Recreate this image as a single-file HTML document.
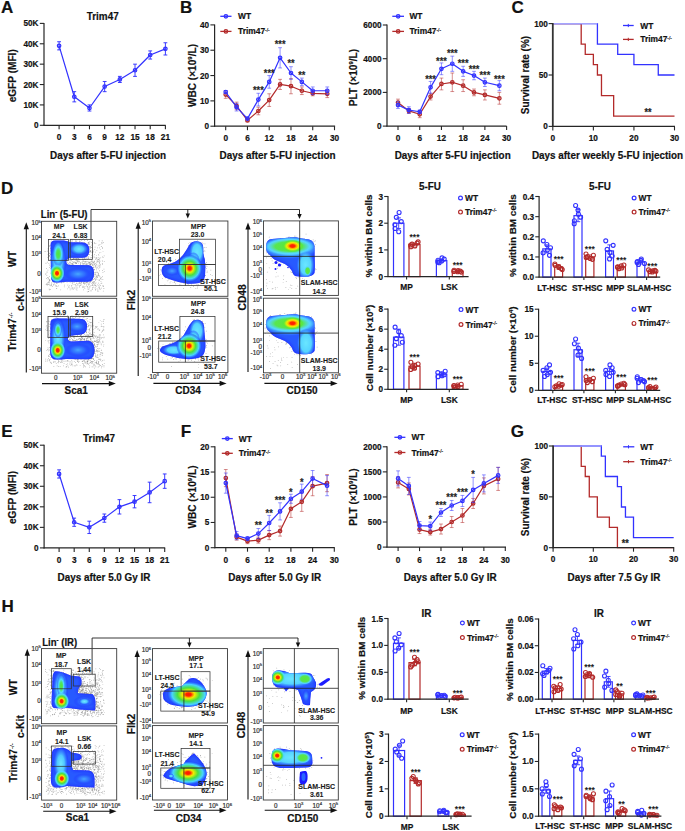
<!DOCTYPE html><html><head><meta charset="utf-8"><style>html,body{margin:0;padding:0;background:#fff;width:685px;height:831px;overflow:hidden}svg{display:block}</style></head><body><svg width="685" height="831" viewBox="0 0 685 831" font-family="Liberation Sans, sans-serif"><style>text{stroke:#111;stroke-width:0.18px;paint-order:stroke}</style>
<rect width="685" height="831" fill="#fff"/>
<defs>
<filter id="b1" x="-20%" y="-20%" width="140%" height="140%"><feGaussianBlur stdDeviation="0.7"/></filter>
<filter id="b2" x="-30%" y="-30%" width="160%" height="160%"><feGaussianBlur stdDeviation="1.4"/></filter>
<filter id="b3" x="-50%" y="-50%" width="200%" height="200%"><feGaussianBlur stdDeviation="2.2"/></filter>
<radialGradient id="gR"><stop offset="0" stop-color="#ff1800"/><stop offset="0.17" stop-color="#ff2a00"/><stop offset="0.27" stop-color="#ffa000"/><stop offset="0.36" stop-color="#f2f000"/><stop offset="0.52" stop-color="#48e040"/><stop offset="0.72" stop-color="#48d4ff"/><stop offset="0.88" stop-color="#2a70ff" stop-opacity="0.7"/><stop offset="1" stop-color="#1a1aff" stop-opacity="0"/></radialGradient>
<radialGradient id="gR2"><stop offset="0" stop-color="#ff1800"/><stop offset="0.2" stop-color="#ff3000"/><stop offset="0.33" stop-color="#f5e800"/><stop offset="0.58" stop-color="#48e040"/><stop offset="0.82" stop-color="#50d8ff"/><stop offset="1" stop-color="#50d8ff" stop-opacity="0"/></radialGradient>
<radialGradient id="gRb"><stop offset="0" stop-color="#ff1800"/><stop offset="0.12" stop-color="#ff2200"/><stop offset="0.2" stop-color="#ff9000"/><stop offset="0.28" stop-color="#f0ee00"/><stop offset="0.5" stop-color="#48e040"/><stop offset="0.75" stop-color="#48d4ff"/><stop offset="0.9" stop-color="#2a70ff" stop-opacity="0.7"/><stop offset="1" stop-color="#1a1aff" stop-opacity="0"/></radialGradient>
<radialGradient id="gGf"><stop offset="0" stop-color="#5ae83c"/><stop offset="0.55" stop-color="#58e650"/><stop offset="0.82" stop-color="#55d8ff" stop-opacity="0.9"/><stop offset="1" stop-color="#55d4ff" stop-opacity="0"/></radialGradient><radialGradient id="gRg"><stop offset="0" stop-color="#ff1800"/><stop offset="0.22" stop-color="#ff2a00"/><stop offset="0.36" stop-color="#ffa000"/><stop offset="0.52" stop-color="#f2ee00"/><stop offset="0.78" stop-color="#5ae83c"/><stop offset="1" stop-color="#5ae83c" stop-opacity="0"/></radialGradient>
<radialGradient id="gCf"><stop offset="0" stop-color="#6ae6ff"/><stop offset="0.6" stop-color="#55d4ff"/><stop offset="0.85" stop-color="#3a90ff" stop-opacity="0.6"/><stop offset="1" stop-color="#2c62ff" stop-opacity="0"/></radialGradient>
<radialGradient id="gG"><stop offset="0" stop-color="#4ee63c"/><stop offset="0.3" stop-color="#50e460"/><stop offset="0.55" stop-color="#50dcff"/><stop offset="0.8" stop-color="#3890ff" stop-opacity="0.8"/><stop offset="1" stop-color="#1a1aff" stop-opacity="0"/></radialGradient>
<radialGradient id="gC"><stop offset="0" stop-color="#70e8ff"/><stop offset="0.45" stop-color="#50c8ff"/><stop offset="0.75" stop-color="#3070ff" stop-opacity="0.8"/><stop offset="1" stop-color="#1a1aff" stop-opacity="0"/></radialGradient>
<radialGradient id="gL"><stop offset="0" stop-color="#48a8ff"/><stop offset="0.5" stop-color="#3070ff" stop-opacity="0.8"/><stop offset="1" stop-color="#1a1aff" stop-opacity="0"/></radialGradient>
</defs>
<text transform="translate(1.00,12.90) scale(1,1.0)" font-size="17" text-anchor="start" font-weight="bold" fill="#111" >A</text>
<text transform="translate(180.00,12.90) scale(1,1.0)" font-size="17" text-anchor="start" font-weight="bold" fill="#111" >B</text>
<text transform="translate(511.50,12.90) scale(1,1.0)" font-size="17" text-anchor="start" font-weight="bold" fill="#111" >C</text>
<text transform="translate(1.00,193.60) scale(1,1.0)" font-size="17" text-anchor="start" font-weight="bold" fill="#111" >D</text>
<text transform="translate(1.20,436.80) scale(1,1.0)" font-size="17" text-anchor="start" font-weight="bold" fill="#111" >E</text>
<text transform="translate(180.80,436.80) scale(1,1.0)" font-size="17" text-anchor="start" font-weight="bold" fill="#111" >F</text>
<text transform="translate(510.80,436.80) scale(1,1.0)" font-size="17" text-anchor="start" font-weight="bold" fill="#111" >G</text>
<text transform="translate(1.50,611.80) scale(1,1.0)" font-size="17" text-anchor="start" font-weight="bold" fill="#111" >H</text>
<line x1="44.00" y1="22.90" x2="44.00" y2="125.80" stroke="#262626" stroke-width="1.2" />
<line x1="43.50" y1="125.30" x2="165.70" y2="125.30" stroke="#262626" stroke-width="1.2" />
<line x1="39.80" y1="125.30" x2="44.00" y2="125.30" stroke="#262626" stroke-width="1.1" />
<text transform="translate(38.50,128.30) scale(1,1.15)" font-size="8.2" text-anchor="end" font-weight="bold" fill="#111" >0</text>
<line x1="39.80" y1="104.92" x2="44.00" y2="104.92" stroke="#262626" stroke-width="1.1" />
<text transform="translate(38.50,107.92) scale(1,1.15)" font-size="8.2" text-anchor="end" font-weight="bold" fill="#111" >10K</text>
<line x1="39.80" y1="84.54" x2="44.00" y2="84.54" stroke="#262626" stroke-width="1.1" />
<text transform="translate(38.50,87.54) scale(1,1.15)" font-size="8.2" text-anchor="end" font-weight="bold" fill="#111" >20K</text>
<line x1="39.80" y1="64.16" x2="44.00" y2="64.16" stroke="#262626" stroke-width="1.1" />
<text transform="translate(38.50,67.16) scale(1,1.15)" font-size="8.2" text-anchor="end" font-weight="bold" fill="#111" >30K</text>
<line x1="39.80" y1="43.78" x2="44.00" y2="43.78" stroke="#262626" stroke-width="1.1" />
<text transform="translate(38.50,46.78) scale(1,1.15)" font-size="8.2" text-anchor="end" font-weight="bold" fill="#111" >40K</text>
<line x1="39.80" y1="23.40" x2="44.00" y2="23.40" stroke="#262626" stroke-width="1.1" />
<text transform="translate(38.50,26.40) scale(1,1.15)" font-size="8.2" text-anchor="end" font-weight="bold" fill="#111" >50K</text>
<line x1="59.10" y1="125.30" x2="59.10" y2="129.30" stroke="#262626" stroke-width="1.1" />
<text transform="translate(59.10,139.90) scale(1,1.15)" font-size="8.3" text-anchor="middle" font-weight="bold" fill="#111" >0</text>
<line x1="74.29" y1="125.30" x2="74.29" y2="129.30" stroke="#262626" stroke-width="1.1" />
<text transform="translate(74.29,139.90) scale(1,1.15)" font-size="8.3" text-anchor="middle" font-weight="bold" fill="#111" >3</text>
<line x1="89.47" y1="125.30" x2="89.47" y2="129.30" stroke="#262626" stroke-width="1.1" />
<text transform="translate(89.47,139.90) scale(1,1.15)" font-size="8.3" text-anchor="middle" font-weight="bold" fill="#111" >6</text>
<line x1="104.66" y1="125.30" x2="104.66" y2="129.30" stroke="#262626" stroke-width="1.1" />
<text transform="translate(104.66,139.90) scale(1,1.15)" font-size="8.3" text-anchor="middle" font-weight="bold" fill="#111" >9</text>
<line x1="119.84" y1="125.30" x2="119.84" y2="129.30" stroke="#262626" stroke-width="1.1" />
<text transform="translate(119.84,139.90) scale(1,1.15)" font-size="8.3" text-anchor="middle" font-weight="bold" fill="#111" >12</text>
<line x1="135.03" y1="125.30" x2="135.03" y2="129.30" stroke="#262626" stroke-width="1.1" />
<text transform="translate(135.03,139.90) scale(1,1.15)" font-size="8.3" text-anchor="middle" font-weight="bold" fill="#111" >15</text>
<line x1="150.21" y1="125.30" x2="150.21" y2="129.30" stroke="#262626" stroke-width="1.1" />
<text transform="translate(150.21,139.90) scale(1,1.15)" font-size="8.3" text-anchor="middle" font-weight="bold" fill="#111" >18</text>
<line x1="165.40" y1="125.30" x2="165.40" y2="129.30" stroke="#262626" stroke-width="1.1" />
<text transform="translate(165.40,139.90) scale(1,1.15)" font-size="8.3" text-anchor="middle" font-weight="bold" fill="#111" >21</text>
<text transform="translate(12.20,75.80) scale(1.0,1) rotate(-90)" x="0" y="3.64" font-size="10.1" text-anchor="middle" font-weight="bold" fill="#111">eGFP (MFI)</text>
<text transform="translate(108.00,158.60) scale(1,1.15)" font-size="9.9" text-anchor="middle" font-weight="bold" fill="#111" >Days after 5-FU injection</text>
<text transform="translate(102.70,20.10) scale(1,1.15)" font-size="9.9" text-anchor="middle" font-weight="bold" fill="#111" >Trim47</text>
<polyline points="59.10,45.82 74.29,96.77 89.47,107.98 104.66,86.58 119.84,79.44 135.03,70.27 150.21,54.99 165.40,48.87" fill="none" stroke="#3232ff" stroke-width="1.2" stroke-linejoin="round"/>
<line x1="59.10" y1="49.89" x2="59.10" y2="41.74" stroke="#3232ff" stroke-width="0.95" opacity="1.0"/>
<line x1="57.20" y1="41.74" x2="61.00" y2="41.74" stroke="#3232ff" stroke-width="0.95" opacity="1.0"/>
<line x1="57.20" y1="49.89" x2="61.00" y2="49.89" stroke="#3232ff" stroke-width="0.95" opacity="1.0"/>
<circle cx="59.10" cy="45.82" r="1.75" fill="#3232ff" fill-opacity="0.25" stroke="#3232ff" stroke-width="1.2"/>
<line x1="74.29" y1="101.86" x2="74.29" y2="91.67" stroke="#3232ff" stroke-width="0.95" opacity="1.0"/>
<line x1="72.39" y1="91.67" x2="76.19" y2="91.67" stroke="#3232ff" stroke-width="0.95" opacity="1.0"/>
<line x1="72.39" y1="101.86" x2="76.19" y2="101.86" stroke="#3232ff" stroke-width="0.95" opacity="1.0"/>
<circle cx="74.29" cy="96.77" r="1.75" fill="#3232ff" fill-opacity="0.25" stroke="#3232ff" stroke-width="1.2"/>
<line x1="89.47" y1="111.03" x2="89.47" y2="104.92" stroke="#3232ff" stroke-width="0.95" opacity="1.0"/>
<line x1="87.57" y1="104.92" x2="91.37" y2="104.92" stroke="#3232ff" stroke-width="0.95" opacity="1.0"/>
<line x1="87.57" y1="111.03" x2="91.37" y2="111.03" stroke="#3232ff" stroke-width="0.95" opacity="1.0"/>
<circle cx="89.47" cy="107.98" r="1.75" fill="#3232ff" fill-opacity="0.25" stroke="#3232ff" stroke-width="1.2"/>
<line x1="104.66" y1="91.67" x2="104.66" y2="81.48" stroke="#3232ff" stroke-width="0.95" opacity="1.0"/>
<line x1="102.76" y1="81.48" x2="106.56" y2="81.48" stroke="#3232ff" stroke-width="0.95" opacity="1.0"/>
<line x1="102.76" y1="91.67" x2="106.56" y2="91.67" stroke="#3232ff" stroke-width="0.95" opacity="1.0"/>
<circle cx="104.66" cy="86.58" r="1.75" fill="#3232ff" fill-opacity="0.25" stroke="#3232ff" stroke-width="1.2"/>
<line x1="119.84" y1="82.50" x2="119.84" y2="76.39" stroke="#3232ff" stroke-width="0.95" opacity="1.0"/>
<line x1="117.94" y1="76.39" x2="121.74" y2="76.39" stroke="#3232ff" stroke-width="0.95" opacity="1.0"/>
<line x1="117.94" y1="82.50" x2="121.74" y2="82.50" stroke="#3232ff" stroke-width="0.95" opacity="1.0"/>
<circle cx="119.84" cy="79.44" r="1.75" fill="#3232ff" fill-opacity="0.25" stroke="#3232ff" stroke-width="1.2"/>
<line x1="135.03" y1="76.39" x2="135.03" y2="64.16" stroke="#3232ff" stroke-width="0.95" opacity="1.0"/>
<line x1="133.13" y1="64.16" x2="136.93" y2="64.16" stroke="#3232ff" stroke-width="0.95" opacity="1.0"/>
<line x1="133.13" y1="76.39" x2="136.93" y2="76.39" stroke="#3232ff" stroke-width="0.95" opacity="1.0"/>
<circle cx="135.03" cy="70.27" r="1.75" fill="#3232ff" fill-opacity="0.25" stroke="#3232ff" stroke-width="1.2"/>
<line x1="150.21" y1="59.06" x2="150.21" y2="50.91" stroke="#3232ff" stroke-width="0.95" opacity="1.0"/>
<line x1="148.31" y1="50.91" x2="152.11" y2="50.91" stroke="#3232ff" stroke-width="0.95" opacity="1.0"/>
<line x1="148.31" y1="59.06" x2="152.11" y2="59.06" stroke="#3232ff" stroke-width="0.95" opacity="1.0"/>
<circle cx="150.21" cy="54.99" r="1.75" fill="#3232ff" fill-opacity="0.25" stroke="#3232ff" stroke-width="1.2"/>
<line x1="165.40" y1="54.99" x2="165.40" y2="42.76" stroke="#3232ff" stroke-width="0.95" opacity="1.0"/>
<line x1="163.50" y1="42.76" x2="167.30" y2="42.76" stroke="#3232ff" stroke-width="0.95" opacity="1.0"/>
<line x1="163.50" y1="54.99" x2="167.30" y2="54.99" stroke="#3232ff" stroke-width="0.95" opacity="1.0"/>
<circle cx="165.40" cy="48.87" r="1.75" fill="#3232ff" fill-opacity="0.25" stroke="#3232ff" stroke-width="1.2"/>
<line x1="214.60" y1="24.40" x2="214.60" y2="126.70" stroke="#262626" stroke-width="1.2" />
<line x1="214.10" y1="126.20" x2="335.10" y2="126.20" stroke="#262626" stroke-width="1.2" />
<line x1="210.40" y1="126.20" x2="214.60" y2="126.20" stroke="#262626" stroke-width="1.1" />
<text transform="translate(209.10,129.20) scale(1,1.15)" font-size="8.2" text-anchor="end" font-weight="bold" fill="#111" >0</text>
<line x1="210.40" y1="100.88" x2="214.60" y2="100.88" stroke="#262626" stroke-width="1.1" />
<text transform="translate(209.10,103.88) scale(1,1.15)" font-size="8.2" text-anchor="end" font-weight="bold" fill="#111" >10</text>
<line x1="210.40" y1="75.55" x2="214.60" y2="75.55" stroke="#262626" stroke-width="1.1" />
<text transform="translate(209.10,78.55) scale(1,1.15)" font-size="8.2" text-anchor="end" font-weight="bold" fill="#111" >20</text>
<line x1="210.40" y1="50.22" x2="214.60" y2="50.22" stroke="#262626" stroke-width="1.1" />
<text transform="translate(209.10,53.22) scale(1,1.15)" font-size="8.2" text-anchor="end" font-weight="bold" fill="#111" >30</text>
<line x1="210.40" y1="24.90" x2="214.60" y2="24.90" stroke="#262626" stroke-width="1.1" />
<text transform="translate(209.10,27.90) scale(1,1.15)" font-size="8.2" text-anchor="end" font-weight="bold" fill="#111" >40</text>
<line x1="225.70" y1="126.20" x2="225.70" y2="130.20" stroke="#262626" stroke-width="1.1" />
<text transform="translate(225.70,140.80) scale(1,1.15)" font-size="8.3" text-anchor="middle" font-weight="bold" fill="#111" >0</text>
<line x1="247.46" y1="126.20" x2="247.46" y2="130.20" stroke="#262626" stroke-width="1.1" />
<text transform="translate(247.46,140.80) scale(1,1.15)" font-size="8.3" text-anchor="middle" font-weight="bold" fill="#111" >6</text>
<line x1="269.22" y1="126.20" x2="269.22" y2="130.20" stroke="#262626" stroke-width="1.1" />
<text transform="translate(269.22,140.80) scale(1,1.15)" font-size="8.3" text-anchor="middle" font-weight="bold" fill="#111" >12</text>
<line x1="290.98" y1="126.20" x2="290.98" y2="130.20" stroke="#262626" stroke-width="1.1" />
<text transform="translate(290.98,140.80) scale(1,1.15)" font-size="8.3" text-anchor="middle" font-weight="bold" fill="#111" >18</text>
<line x1="312.74" y1="126.20" x2="312.74" y2="130.20" stroke="#262626" stroke-width="1.1" />
<text transform="translate(312.74,140.80) scale(1,1.15)" font-size="8.3" text-anchor="middle" font-weight="bold" fill="#111" >24</text>
<line x1="334.50" y1="126.20" x2="334.50" y2="130.20" stroke="#262626" stroke-width="1.1" />
<text transform="translate(334.50,140.80) scale(1,1.15)" font-size="8.3" text-anchor="middle" font-weight="bold" fill="#111" >30</text>
<text transform="translate(192.00,75.50) scale(1.0,1) rotate(-90)" x="0" y="3.64" font-size="10.1" text-anchor="middle" font-weight="bold" fill="#111">WBC (×10<tspan font-size="6" dy="-3.5">9</tspan><tspan dy="3.5">/L)</tspan></text>
<text transform="translate(277.50,158.60) scale(1,1.15)" font-size="9.9" text-anchor="middle" font-weight="bold" fill="#111" >Days after 5-FU injection</text>
<polyline points="225.70,94.54 236.58,105.94 247.46,120.38 258.34,111.00 269.22,100.12 280.10,84.41 290.98,86.19 301.86,90.75 312.74,93.28 327.25,93.78" fill="none" stroke="#b32a2a" stroke-width="1.2" stroke-linejoin="round"/>
<line x1="225.70" y1="98.34" x2="225.70" y2="90.75" stroke="#b32a2a" stroke-width="0.95" opacity="0.55"/>
<line x1="223.80" y1="90.75" x2="227.60" y2="90.75" stroke="#b32a2a" stroke-width="0.95" opacity="0.55"/>
<line x1="223.80" y1="98.34" x2="227.60" y2="98.34" stroke="#b32a2a" stroke-width="0.95" opacity="0.55"/>
<circle cx="225.70" cy="94.54" r="1.75" fill="#b32a2a" fill-opacity="0.25" stroke="#b32a2a" stroke-width="1.2"/>
<line x1="236.58" y1="109.74" x2="236.58" y2="102.14" stroke="#b32a2a" stroke-width="0.95" opacity="0.55"/>
<line x1="234.68" y1="102.14" x2="238.48" y2="102.14" stroke="#b32a2a" stroke-width="0.95" opacity="0.55"/>
<line x1="234.68" y1="109.74" x2="238.48" y2="109.74" stroke="#b32a2a" stroke-width="0.95" opacity="0.55"/>
<circle cx="236.58" cy="105.94" r="1.75" fill="#b32a2a" fill-opacity="0.25" stroke="#b32a2a" stroke-width="1.2"/>
<line x1="247.46" y1="121.64" x2="247.46" y2="119.11" stroke="#b32a2a" stroke-width="0.95" opacity="0.55"/>
<line x1="245.56" y1="119.11" x2="249.36" y2="119.11" stroke="#b32a2a" stroke-width="0.95" opacity="0.55"/>
<line x1="245.56" y1="121.64" x2="249.36" y2="121.64" stroke="#b32a2a" stroke-width="0.95" opacity="0.55"/>
<circle cx="247.46" cy="120.38" r="1.75" fill="#b32a2a" fill-opacity="0.25" stroke="#b32a2a" stroke-width="1.2"/>
<line x1="258.34" y1="114.80" x2="258.34" y2="107.21" stroke="#b32a2a" stroke-width="0.95" opacity="0.55"/>
<line x1="256.44" y1="107.21" x2="260.24" y2="107.21" stroke="#b32a2a" stroke-width="0.95" opacity="0.55"/>
<line x1="256.44" y1="114.80" x2="260.24" y2="114.80" stroke="#b32a2a" stroke-width="0.95" opacity="0.55"/>
<circle cx="258.34" cy="111.00" r="1.75" fill="#b32a2a" fill-opacity="0.25" stroke="#b32a2a" stroke-width="1.2"/>
<line x1="269.22" y1="106.45" x2="269.22" y2="93.78" stroke="#b32a2a" stroke-width="0.95" opacity="0.55"/>
<line x1="267.32" y1="93.78" x2="271.12" y2="93.78" stroke="#b32a2a" stroke-width="0.95" opacity="0.55"/>
<line x1="267.32" y1="106.45" x2="271.12" y2="106.45" stroke="#b32a2a" stroke-width="0.95" opacity="0.55"/>
<circle cx="269.22" cy="100.12" r="1.75" fill="#b32a2a" fill-opacity="0.25" stroke="#b32a2a" stroke-width="1.2"/>
<line x1="280.10" y1="89.48" x2="280.10" y2="79.35" stroke="#b32a2a" stroke-width="0.95" opacity="0.55"/>
<line x1="278.20" y1="79.35" x2="282.00" y2="79.35" stroke="#b32a2a" stroke-width="0.95" opacity="0.55"/>
<line x1="278.20" y1="89.48" x2="282.00" y2="89.48" stroke="#b32a2a" stroke-width="0.95" opacity="0.55"/>
<circle cx="280.10" cy="84.41" r="1.75" fill="#b32a2a" fill-opacity="0.25" stroke="#b32a2a" stroke-width="1.2"/>
<line x1="290.98" y1="93.78" x2="290.98" y2="78.59" stroke="#b32a2a" stroke-width="0.95" opacity="0.55"/>
<line x1="289.08" y1="78.59" x2="292.88" y2="78.59" stroke="#b32a2a" stroke-width="0.95" opacity="0.55"/>
<line x1="289.08" y1="93.78" x2="292.88" y2="93.78" stroke="#b32a2a" stroke-width="0.95" opacity="0.55"/>
<circle cx="290.98" cy="86.19" r="1.75" fill="#b32a2a" fill-opacity="0.25" stroke="#b32a2a" stroke-width="1.2"/>
<line x1="301.86" y1="94.54" x2="301.86" y2="86.95" stroke="#b32a2a" stroke-width="0.95" opacity="0.55"/>
<line x1="299.96" y1="86.95" x2="303.76" y2="86.95" stroke="#b32a2a" stroke-width="0.95" opacity="0.55"/>
<line x1="299.96" y1="94.54" x2="303.76" y2="94.54" stroke="#b32a2a" stroke-width="0.95" opacity="0.55"/>
<circle cx="301.86" cy="90.75" r="1.75" fill="#b32a2a" fill-opacity="0.25" stroke="#b32a2a" stroke-width="1.2"/>
<line x1="312.74" y1="95.81" x2="312.74" y2="90.75" stroke="#b32a2a" stroke-width="0.95" opacity="0.55"/>
<line x1="310.84" y1="90.75" x2="314.64" y2="90.75" stroke="#b32a2a" stroke-width="0.95" opacity="0.55"/>
<line x1="310.84" y1="95.81" x2="314.64" y2="95.81" stroke="#b32a2a" stroke-width="0.95" opacity="0.55"/>
<circle cx="312.74" cy="93.28" r="1.75" fill="#b32a2a" fill-opacity="0.25" stroke="#b32a2a" stroke-width="1.2"/>
<line x1="327.25" y1="97.58" x2="327.25" y2="89.99" stroke="#b32a2a" stroke-width="0.95" opacity="0.55"/>
<line x1="325.35" y1="89.99" x2="329.15" y2="89.99" stroke="#b32a2a" stroke-width="0.95" opacity="0.55"/>
<line x1="325.35" y1="97.58" x2="329.15" y2="97.58" stroke="#b32a2a" stroke-width="0.95" opacity="0.55"/>
<circle cx="327.25" cy="93.78" r="1.75" fill="#b32a2a" fill-opacity="0.25" stroke="#b32a2a" stroke-width="1.2"/>
<polyline points="225.70,92.01 236.58,107.21 247.46,118.60 258.34,99.61 269.22,81.88 280.10,57.82 290.98,73.02 301.86,81.88 312.74,90.75 327.25,90.75" fill="none" stroke="#3232ff" stroke-width="1.2" stroke-linejoin="round"/>
<line x1="225.70" y1="93.28" x2="225.70" y2="90.75" stroke="#3232ff" stroke-width="0.95" opacity="0.55"/>
<line x1="223.80" y1="90.75" x2="227.60" y2="90.75" stroke="#3232ff" stroke-width="0.95" opacity="0.55"/>
<line x1="223.80" y1="93.28" x2="227.60" y2="93.28" stroke="#3232ff" stroke-width="0.95" opacity="0.55"/>
<circle cx="225.70" cy="92.01" r="1.75" fill="#3232ff" fill-opacity="0.25" stroke="#3232ff" stroke-width="1.2"/>
<line x1="236.58" y1="111.00" x2="236.58" y2="103.41" stroke="#3232ff" stroke-width="0.95" opacity="0.55"/>
<line x1="234.68" y1="103.41" x2="238.48" y2="103.41" stroke="#3232ff" stroke-width="0.95" opacity="0.55"/>
<line x1="234.68" y1="111.00" x2="238.48" y2="111.00" stroke="#3232ff" stroke-width="0.95" opacity="0.55"/>
<circle cx="236.58" cy="107.21" r="1.75" fill="#3232ff" fill-opacity="0.25" stroke="#3232ff" stroke-width="1.2"/>
<line x1="247.46" y1="119.87" x2="247.46" y2="117.34" stroke="#3232ff" stroke-width="0.95" opacity="0.55"/>
<line x1="245.56" y1="117.34" x2="249.36" y2="117.34" stroke="#3232ff" stroke-width="0.95" opacity="0.55"/>
<line x1="245.56" y1="119.87" x2="249.36" y2="119.87" stroke="#3232ff" stroke-width="0.95" opacity="0.55"/>
<circle cx="247.46" cy="118.60" r="1.75" fill="#3232ff" fill-opacity="0.25" stroke="#3232ff" stroke-width="1.2"/>
<line x1="258.34" y1="105.94" x2="258.34" y2="93.28" stroke="#3232ff" stroke-width="0.95" opacity="0.55"/>
<line x1="256.44" y1="93.28" x2="260.24" y2="93.28" stroke="#3232ff" stroke-width="0.95" opacity="0.55"/>
<line x1="256.44" y1="105.94" x2="260.24" y2="105.94" stroke="#3232ff" stroke-width="0.95" opacity="0.55"/>
<circle cx="258.34" cy="99.61" r="1.75" fill="#3232ff" fill-opacity="0.25" stroke="#3232ff" stroke-width="1.2"/>
<line x1="269.22" y1="88.21" x2="269.22" y2="75.55" stroke="#3232ff" stroke-width="0.95" opacity="0.55"/>
<line x1="267.32" y1="75.55" x2="271.12" y2="75.55" stroke="#3232ff" stroke-width="0.95" opacity="0.55"/>
<line x1="267.32" y1="88.21" x2="271.12" y2="88.21" stroke="#3232ff" stroke-width="0.95" opacity="0.55"/>
<circle cx="269.22" cy="81.88" r="1.75" fill="#3232ff" fill-opacity="0.25" stroke="#3232ff" stroke-width="1.2"/>
<line x1="280.10" y1="67.95" x2="280.10" y2="47.69" stroke="#3232ff" stroke-width="0.95" opacity="0.55"/>
<line x1="278.20" y1="47.69" x2="282.00" y2="47.69" stroke="#3232ff" stroke-width="0.95" opacity="0.55"/>
<line x1="278.20" y1="67.95" x2="282.00" y2="67.95" stroke="#3232ff" stroke-width="0.95" opacity="0.55"/>
<circle cx="280.10" cy="57.82" r="1.75" fill="#3232ff" fill-opacity="0.25" stroke="#3232ff" stroke-width="1.2"/>
<line x1="290.98" y1="79.35" x2="290.98" y2="66.69" stroke="#3232ff" stroke-width="0.95" opacity="0.55"/>
<line x1="289.08" y1="66.69" x2="292.88" y2="66.69" stroke="#3232ff" stroke-width="0.95" opacity="0.55"/>
<line x1="289.08" y1="79.35" x2="292.88" y2="79.35" stroke="#3232ff" stroke-width="0.95" opacity="0.55"/>
<circle cx="290.98" cy="73.02" r="1.75" fill="#3232ff" fill-opacity="0.25" stroke="#3232ff" stroke-width="1.2"/>
<line x1="301.86" y1="85.68" x2="301.86" y2="78.08" stroke="#3232ff" stroke-width="0.95" opacity="0.55"/>
<line x1="299.96" y1="78.08" x2="303.76" y2="78.08" stroke="#3232ff" stroke-width="0.95" opacity="0.55"/>
<line x1="299.96" y1="85.68" x2="303.76" y2="85.68" stroke="#3232ff" stroke-width="0.95" opacity="0.55"/>
<circle cx="301.86" cy="81.88" r="1.75" fill="#3232ff" fill-opacity="0.25" stroke="#3232ff" stroke-width="1.2"/>
<line x1="312.74" y1="94.54" x2="312.74" y2="86.95" stroke="#3232ff" stroke-width="0.95" opacity="0.55"/>
<line x1="310.84" y1="86.95" x2="314.64" y2="86.95" stroke="#3232ff" stroke-width="0.95" opacity="0.55"/>
<line x1="310.84" y1="94.54" x2="314.64" y2="94.54" stroke="#3232ff" stroke-width="0.95" opacity="0.55"/>
<circle cx="312.74" cy="90.75" r="1.75" fill="#3232ff" fill-opacity="0.25" stroke="#3232ff" stroke-width="1.2"/>
<line x1="327.25" y1="94.54" x2="327.25" y2="86.95" stroke="#3232ff" stroke-width="0.95" opacity="0.55"/>
<line x1="325.35" y1="86.95" x2="329.15" y2="86.95" stroke="#3232ff" stroke-width="0.95" opacity="0.55"/>
<line x1="325.35" y1="94.54" x2="329.15" y2="94.54" stroke="#3232ff" stroke-width="0.95" opacity="0.55"/>
<circle cx="327.25" cy="90.75" r="1.75" fill="#3232ff" fill-opacity="0.25" stroke="#3232ff" stroke-width="1.2"/>
<line x1="220.30" y1="16.30" x2="231.50" y2="16.30" stroke="#3232ff" stroke-width="1.3" />
<circle cx="225.90" cy="16.30" r="1.75" fill="#3232ff" fill-opacity="0.25" stroke="#3232ff" stroke-width="1.2"/>
<text transform="translate(238.00,19.30) scale(1,1.15)" font-size="8.4" text-anchor="start" font-weight="bold" fill="#111" >WT</text>
<line x1="220.30" y1="31.40" x2="231.50" y2="31.40" stroke="#b32a2a" stroke-width="1.3" />
<circle cx="225.90" cy="31.40" r="1.75" fill="#b32a2a" fill-opacity="0.25" stroke="#b32a2a" stroke-width="1.2"/>
<text transform="translate(238.00,34.40) scale(1,1.15)" font-size="8.4" text-anchor="start" font-weight="bold" fill="#111" >Trim47<tspan font-size="4.80" font-weight="normal" dy="-2.40">-/-</tspan></text>
<text transform="translate(258.34,94.40) scale(1,1.15)" font-size="9.2" text-anchor="middle" font-weight="bold" fill="#222" style="stroke-width:0.1px">***</text>
<text transform="translate(269.22,77.40) scale(1,1.15)" font-size="9.2" text-anchor="middle" font-weight="bold" fill="#222" style="stroke-width:0.1px">***</text>
<text transform="translate(280.10,48.40) scale(1,1.15)" font-size="9.2" text-anchor="middle" font-weight="bold" fill="#222" style="stroke-width:0.1px">***</text>
<text transform="translate(290.98,67.40) scale(1,1.15)" font-size="9.2" text-anchor="middle" font-weight="bold" fill="#222" style="stroke-width:0.1px">**</text>
<text transform="translate(301.86,79.00) scale(1,1.15)" font-size="9.2" text-anchor="middle" font-weight="bold" fill="#222" style="stroke-width:0.1px">**</text>
<line x1="387.00" y1="24.50" x2="387.00" y2="126.60" stroke="#262626" stroke-width="1.2" />
<line x1="386.50" y1="126.10" x2="506.60" y2="126.10" stroke="#262626" stroke-width="1.2" />
<line x1="382.80" y1="126.10" x2="387.00" y2="126.10" stroke="#262626" stroke-width="1.1" />
<text transform="translate(381.50,129.10) scale(1,1.15)" font-size="8.2" text-anchor="end" font-weight="bold" fill="#111" >0</text>
<line x1="382.80" y1="92.40" x2="387.00" y2="92.40" stroke="#262626" stroke-width="1.1" />
<text transform="translate(381.50,95.40) scale(1,1.15)" font-size="8.2" text-anchor="end" font-weight="bold" fill="#111" >2000</text>
<line x1="382.80" y1="58.70" x2="387.00" y2="58.70" stroke="#262626" stroke-width="1.1" />
<text transform="translate(381.50,61.70) scale(1,1.15)" font-size="8.2" text-anchor="end" font-weight="bold" fill="#111" >4000</text>
<line x1="382.80" y1="25.00" x2="387.00" y2="25.00" stroke="#262626" stroke-width="1.1" />
<text transform="translate(381.50,28.00) scale(1,1.15)" font-size="8.2" text-anchor="end" font-weight="bold" fill="#111" >6000</text>
<line x1="398.00" y1="126.10" x2="398.00" y2="130.10" stroke="#262626" stroke-width="1.1" />
<text transform="translate(398.00,140.70) scale(1,1.15)" font-size="8.3" text-anchor="middle" font-weight="bold" fill="#111" >0</text>
<line x1="419.72" y1="126.10" x2="419.72" y2="130.10" stroke="#262626" stroke-width="1.1" />
<text transform="translate(419.72,140.70) scale(1,1.15)" font-size="8.3" text-anchor="middle" font-weight="bold" fill="#111" >6</text>
<line x1="441.44" y1="126.10" x2="441.44" y2="130.10" stroke="#262626" stroke-width="1.1" />
<text transform="translate(441.44,140.70) scale(1,1.15)" font-size="8.3" text-anchor="middle" font-weight="bold" fill="#111" >12</text>
<line x1="463.16" y1="126.10" x2="463.16" y2="130.10" stroke="#262626" stroke-width="1.1" />
<text transform="translate(463.16,140.70) scale(1,1.15)" font-size="8.3" text-anchor="middle" font-weight="bold" fill="#111" >18</text>
<line x1="484.88" y1="126.10" x2="484.88" y2="130.10" stroke="#262626" stroke-width="1.1" />
<text transform="translate(484.88,140.70) scale(1,1.15)" font-size="8.3" text-anchor="middle" font-weight="bold" fill="#111" >24</text>
<line x1="506.60" y1="126.10" x2="506.60" y2="130.10" stroke="#262626" stroke-width="1.1" />
<text transform="translate(506.60,140.70) scale(1,1.15)" font-size="8.3" text-anchor="middle" font-weight="bold" fill="#111" >30</text>
<text transform="translate(352.90,77.50) scale(1.0,1) rotate(-90)" x="0" y="3.64" font-size="10.1" text-anchor="middle" font-weight="bold" fill="#111">PLT (×10<tspan font-size="6" dy="-3.5">9</tspan><tspan dy="3.5">/L)</tspan></text>
<text transform="translate(452.70,158.60) scale(1,1.15)" font-size="9.9" text-anchor="middle" font-weight="bold" fill="#111" >Days after 5-FU injection</text>
<polyline points="398.00,102.51 408.86,110.93 419.72,114.30 430.58,96.61 441.44,83.97 452.30,82.29 463.16,85.66 474.02,92.40 484.88,94.93 499.36,98.30" fill="none" stroke="#b32a2a" stroke-width="1.2" stroke-linejoin="round"/>
<line x1="398.00" y1="105.88" x2="398.00" y2="99.14" stroke="#b32a2a" stroke-width="0.95" opacity="0.55"/>
<line x1="396.10" y1="99.14" x2="399.90" y2="99.14" stroke="#b32a2a" stroke-width="0.95" opacity="0.55"/>
<line x1="396.10" y1="105.88" x2="399.90" y2="105.88" stroke="#b32a2a" stroke-width="0.95" opacity="0.55"/>
<circle cx="398.00" cy="102.51" r="1.75" fill="#b32a2a" fill-opacity="0.25" stroke="#b32a2a" stroke-width="1.2"/>
<line x1="408.86" y1="113.46" x2="408.86" y2="108.41" stroke="#b32a2a" stroke-width="0.95" opacity="0.55"/>
<line x1="406.96" y1="108.41" x2="410.76" y2="108.41" stroke="#b32a2a" stroke-width="0.95" opacity="0.55"/>
<line x1="406.96" y1="113.46" x2="410.76" y2="113.46" stroke="#b32a2a" stroke-width="0.95" opacity="0.55"/>
<circle cx="408.86" cy="110.93" r="1.75" fill="#b32a2a" fill-opacity="0.25" stroke="#b32a2a" stroke-width="1.2"/>
<line x1="419.72" y1="117.67" x2="419.72" y2="110.93" stroke="#b32a2a" stroke-width="0.95" opacity="0.55"/>
<line x1="417.82" y1="110.93" x2="421.62" y2="110.93" stroke="#b32a2a" stroke-width="0.95" opacity="0.55"/>
<line x1="417.82" y1="117.67" x2="421.62" y2="117.67" stroke="#b32a2a" stroke-width="0.95" opacity="0.55"/>
<circle cx="419.72" cy="114.30" r="1.75" fill="#b32a2a" fill-opacity="0.25" stroke="#b32a2a" stroke-width="1.2"/>
<line x1="430.58" y1="99.98" x2="430.58" y2="93.24" stroke="#b32a2a" stroke-width="0.95" opacity="0.55"/>
<line x1="428.68" y1="93.24" x2="432.48" y2="93.24" stroke="#b32a2a" stroke-width="0.95" opacity="0.55"/>
<line x1="428.68" y1="99.98" x2="432.48" y2="99.98" stroke="#b32a2a" stroke-width="0.95" opacity="0.55"/>
<circle cx="430.58" cy="96.61" r="1.75" fill="#b32a2a" fill-opacity="0.25" stroke="#b32a2a" stroke-width="1.2"/>
<line x1="441.44" y1="89.87" x2="441.44" y2="78.08" stroke="#b32a2a" stroke-width="0.95" opacity="0.55"/>
<line x1="439.54" y1="78.08" x2="443.34" y2="78.08" stroke="#b32a2a" stroke-width="0.95" opacity="0.55"/>
<line x1="439.54" y1="89.87" x2="443.34" y2="89.87" stroke="#b32a2a" stroke-width="0.95" opacity="0.55"/>
<circle cx="441.44" cy="83.97" r="1.75" fill="#b32a2a" fill-opacity="0.25" stroke="#b32a2a" stroke-width="1.2"/>
<line x1="452.30" y1="91.56" x2="452.30" y2="73.02" stroke="#b32a2a" stroke-width="0.95" opacity="0.55"/>
<line x1="450.40" y1="73.02" x2="454.20" y2="73.02" stroke="#b32a2a" stroke-width="0.95" opacity="0.55"/>
<line x1="450.40" y1="91.56" x2="454.20" y2="91.56" stroke="#b32a2a" stroke-width="0.95" opacity="0.55"/>
<circle cx="452.30" cy="82.29" r="1.75" fill="#b32a2a" fill-opacity="0.25" stroke="#b32a2a" stroke-width="1.2"/>
<line x1="463.16" y1="91.56" x2="463.16" y2="79.76" stroke="#b32a2a" stroke-width="0.95" opacity="0.55"/>
<line x1="461.26" y1="79.76" x2="465.06" y2="79.76" stroke="#b32a2a" stroke-width="0.95" opacity="0.55"/>
<line x1="461.26" y1="91.56" x2="465.06" y2="91.56" stroke="#b32a2a" stroke-width="0.95" opacity="0.55"/>
<circle cx="463.16" cy="85.66" r="1.75" fill="#b32a2a" fill-opacity="0.25" stroke="#b32a2a" stroke-width="1.2"/>
<line x1="474.02" y1="95.77" x2="474.02" y2="89.03" stroke="#b32a2a" stroke-width="0.95" opacity="0.55"/>
<line x1="472.12" y1="89.03" x2="475.92" y2="89.03" stroke="#b32a2a" stroke-width="0.95" opacity="0.55"/>
<line x1="472.12" y1="95.77" x2="475.92" y2="95.77" stroke="#b32a2a" stroke-width="0.95" opacity="0.55"/>
<circle cx="474.02" cy="92.40" r="1.75" fill="#b32a2a" fill-opacity="0.25" stroke="#b32a2a" stroke-width="1.2"/>
<line x1="484.88" y1="99.98" x2="484.88" y2="89.87" stroke="#b32a2a" stroke-width="0.95" opacity="0.55"/>
<line x1="482.98" y1="89.87" x2="486.78" y2="89.87" stroke="#b32a2a" stroke-width="0.95" opacity="0.55"/>
<line x1="482.98" y1="99.98" x2="486.78" y2="99.98" stroke="#b32a2a" stroke-width="0.95" opacity="0.55"/>
<circle cx="484.88" cy="94.93" r="1.75" fill="#b32a2a" fill-opacity="0.25" stroke="#b32a2a" stroke-width="1.2"/>
<line x1="499.36" y1="104.19" x2="499.36" y2="92.40" stroke="#b32a2a" stroke-width="0.95" opacity="0.55"/>
<line x1="497.46" y1="92.40" x2="501.26" y2="92.40" stroke="#b32a2a" stroke-width="0.95" opacity="0.55"/>
<line x1="497.46" y1="104.19" x2="501.26" y2="104.19" stroke="#b32a2a" stroke-width="0.95" opacity="0.55"/>
<circle cx="499.36" cy="98.30" r="1.75" fill="#b32a2a" fill-opacity="0.25" stroke="#b32a2a" stroke-width="1.2"/>
<polyline points="398.00,105.04 408.86,110.09 419.72,111.78 430.58,87.34 441.44,68.81 452.30,63.75 463.16,71.34 474.02,75.55 484.88,82.29 499.36,85.66" fill="none" stroke="#3232ff" stroke-width="1.2" stroke-linejoin="round"/>
<line x1="398.00" y1="108.41" x2="398.00" y2="101.67" stroke="#3232ff" stroke-width="0.95" opacity="0.55"/>
<line x1="396.10" y1="101.67" x2="399.90" y2="101.67" stroke="#3232ff" stroke-width="0.95" opacity="0.55"/>
<line x1="396.10" y1="108.41" x2="399.90" y2="108.41" stroke="#3232ff" stroke-width="0.95" opacity="0.55"/>
<circle cx="398.00" cy="105.04" r="1.75" fill="#3232ff" fill-opacity="0.25" stroke="#3232ff" stroke-width="1.2"/>
<line x1="408.86" y1="113.46" x2="408.86" y2="106.72" stroke="#3232ff" stroke-width="0.95" opacity="0.55"/>
<line x1="406.96" y1="106.72" x2="410.76" y2="106.72" stroke="#3232ff" stroke-width="0.95" opacity="0.55"/>
<line x1="406.96" y1="113.46" x2="410.76" y2="113.46" stroke="#3232ff" stroke-width="0.95" opacity="0.55"/>
<circle cx="408.86" cy="110.09" r="1.75" fill="#3232ff" fill-opacity="0.25" stroke="#3232ff" stroke-width="1.2"/>
<line x1="419.72" y1="113.46" x2="419.72" y2="110.09" stroke="#3232ff" stroke-width="0.95" opacity="0.55"/>
<line x1="417.82" y1="110.09" x2="421.62" y2="110.09" stroke="#3232ff" stroke-width="0.95" opacity="0.55"/>
<line x1="417.82" y1="113.46" x2="421.62" y2="113.46" stroke="#3232ff" stroke-width="0.95" opacity="0.55"/>
<circle cx="419.72" cy="111.78" r="1.75" fill="#3232ff" fill-opacity="0.25" stroke="#3232ff" stroke-width="1.2"/>
<line x1="430.58" y1="93.24" x2="430.58" y2="81.45" stroke="#3232ff" stroke-width="0.95" opacity="0.55"/>
<line x1="428.68" y1="81.45" x2="432.48" y2="81.45" stroke="#3232ff" stroke-width="0.95" opacity="0.55"/>
<line x1="428.68" y1="93.24" x2="432.48" y2="93.24" stroke="#3232ff" stroke-width="0.95" opacity="0.55"/>
<circle cx="430.58" cy="87.34" r="1.75" fill="#3232ff" fill-opacity="0.25" stroke="#3232ff" stroke-width="1.2"/>
<line x1="441.44" y1="74.71" x2="441.44" y2="62.91" stroke="#3232ff" stroke-width="0.95" opacity="0.55"/>
<line x1="439.54" y1="62.91" x2="443.34" y2="62.91" stroke="#3232ff" stroke-width="0.95" opacity="0.55"/>
<line x1="439.54" y1="74.71" x2="443.34" y2="74.71" stroke="#3232ff" stroke-width="0.95" opacity="0.55"/>
<circle cx="441.44" cy="68.81" r="1.75" fill="#3232ff" fill-opacity="0.25" stroke="#3232ff" stroke-width="1.2"/>
<line x1="452.30" y1="71.34" x2="452.30" y2="56.17" stroke="#3232ff" stroke-width="0.95" opacity="0.55"/>
<line x1="450.40" y1="56.17" x2="454.20" y2="56.17" stroke="#3232ff" stroke-width="0.95" opacity="0.55"/>
<line x1="450.40" y1="71.34" x2="454.20" y2="71.34" stroke="#3232ff" stroke-width="0.95" opacity="0.55"/>
<circle cx="452.30" cy="63.75" r="1.75" fill="#3232ff" fill-opacity="0.25" stroke="#3232ff" stroke-width="1.2"/>
<line x1="463.16" y1="76.39" x2="463.16" y2="66.28" stroke="#3232ff" stroke-width="0.95" opacity="0.55"/>
<line x1="461.26" y1="66.28" x2="465.06" y2="66.28" stroke="#3232ff" stroke-width="0.95" opacity="0.55"/>
<line x1="461.26" y1="76.39" x2="465.06" y2="76.39" stroke="#3232ff" stroke-width="0.95" opacity="0.55"/>
<circle cx="463.16" cy="71.34" r="1.75" fill="#3232ff" fill-opacity="0.25" stroke="#3232ff" stroke-width="1.2"/>
<line x1="474.02" y1="79.76" x2="474.02" y2="71.34" stroke="#3232ff" stroke-width="0.95" opacity="0.55"/>
<line x1="472.12" y1="71.34" x2="475.92" y2="71.34" stroke="#3232ff" stroke-width="0.95" opacity="0.55"/>
<line x1="472.12" y1="79.76" x2="475.92" y2="79.76" stroke="#3232ff" stroke-width="0.95" opacity="0.55"/>
<circle cx="474.02" cy="75.55" r="1.75" fill="#3232ff" fill-opacity="0.25" stroke="#3232ff" stroke-width="1.2"/>
<line x1="484.88" y1="86.50" x2="484.88" y2="78.08" stroke="#3232ff" stroke-width="0.95" opacity="0.55"/>
<line x1="482.98" y1="78.08" x2="486.78" y2="78.08" stroke="#3232ff" stroke-width="0.95" opacity="0.55"/>
<line x1="482.98" y1="86.50" x2="486.78" y2="86.50" stroke="#3232ff" stroke-width="0.95" opacity="0.55"/>
<circle cx="484.88" cy="82.29" r="1.75" fill="#3232ff" fill-opacity="0.25" stroke="#3232ff" stroke-width="1.2"/>
<line x1="499.36" y1="90.72" x2="499.36" y2="80.60" stroke="#3232ff" stroke-width="0.95" opacity="0.55"/>
<line x1="497.46" y1="80.60" x2="501.26" y2="80.60" stroke="#3232ff" stroke-width="0.95" opacity="0.55"/>
<line x1="497.46" y1="90.72" x2="501.26" y2="90.72" stroke="#3232ff" stroke-width="0.95" opacity="0.55"/>
<circle cx="499.36" cy="85.66" r="1.75" fill="#3232ff" fill-opacity="0.25" stroke="#3232ff" stroke-width="1.2"/>
<line x1="392.30" y1="16.30" x2="404.00" y2="16.30" stroke="#3232ff" stroke-width="1.3" />
<circle cx="398.15" cy="16.30" r="1.75" fill="#3232ff" fill-opacity="0.25" stroke="#3232ff" stroke-width="1.2"/>
<text transform="translate(409.40,19.30) scale(1,1.15)" font-size="8.4" text-anchor="start" font-weight="bold" fill="#111" >WT</text>
<line x1="392.30" y1="31.40" x2="404.00" y2="31.40" stroke="#b32a2a" stroke-width="1.3" />
<circle cx="398.15" cy="31.40" r="1.75" fill="#b32a2a" fill-opacity="0.25" stroke="#b32a2a" stroke-width="1.2"/>
<text transform="translate(409.40,34.40) scale(1,1.15)" font-size="8.4" text-anchor="start" font-weight="bold" fill="#111" >Trim47<tspan font-size="4.80" font-weight="normal" dy="-2.40">-/-</tspan></text>
<text transform="translate(430.58,83.40) scale(1,1.15)" font-size="9.2" text-anchor="middle" font-weight="bold" fill="#222" style="stroke-width:0.1px">***</text>
<text transform="translate(441.44,65.40) scale(1,1.15)" font-size="9.2" text-anchor="middle" font-weight="bold" fill="#222" style="stroke-width:0.1px">***</text>
<text transform="translate(452.30,57.40) scale(1,1.15)" font-size="9.2" text-anchor="middle" font-weight="bold" fill="#222" style="stroke-width:0.1px">***</text>
<text transform="translate(463.16,67.40) scale(1,1.15)" font-size="9.2" text-anchor="middle" font-weight="bold" fill="#222" style="stroke-width:0.1px">***</text>
<text transform="translate(474.02,73.40) scale(1,1.15)" font-size="9.2" text-anchor="middle" font-weight="bold" fill="#222" style="stroke-width:0.1px">***</text>
<text transform="translate(484.88,79.00) scale(1,1.15)" font-size="9.2" text-anchor="middle" font-weight="bold" fill="#222" style="stroke-width:0.1px">***</text>
<text transform="translate(499.36,83.20) scale(1,1.15)" font-size="9.2" text-anchor="middle" font-weight="bold" fill="#222" style="stroke-width:0.1px">***</text>
<polyline points="552.80,23.60 581.20,23.60 581.20,44.16 585.25,44.16 585.25,54.44 593.37,54.44 593.37,64.72 597.42,64.72 597.42,75.00 601.48,75.00 601.48,95.56 613.65,95.56 613.65,116.12 674.50,116.12" fill="none" stroke="#b32a2a" stroke-width="1.3"/>
<polyline points="552.80,23.60 597.42,23.60 597.42,44.16 617.71,44.16 617.71,54.44 633.93,54.44 633.93,64.72 658.27,64.72 658.27,75.00 674.50,75.00" fill="none" stroke="#3232ff" stroke-width="1.3"/>
<line x1="552.80" y1="23.60" x2="597.42" y2="23.60" stroke="#a4a4ff" stroke-width="1.4" />
<line x1="552.80" y1="23.10" x2="552.80" y2="126.90" stroke="#333" stroke-width="1.8" />
<line x1="552.30" y1="126.40" x2="675.00" y2="126.40" stroke="#262626" stroke-width="1.3" />
<line x1="548.60" y1="126.40" x2="552.80" y2="126.40" stroke="#262626" stroke-width="1.1" />
<text transform="translate(547.80,129.40) scale(1,1.15)" font-size="8.2" text-anchor="end" font-weight="bold" fill="#111" >0</text>
<line x1="548.60" y1="75.00" x2="552.80" y2="75.00" stroke="#262626" stroke-width="1.1" />
<text transform="translate(547.80,78.00) scale(1,1.15)" font-size="8.2" text-anchor="end" font-weight="bold" fill="#111" >50</text>
<line x1="548.60" y1="23.60" x2="552.80" y2="23.60" stroke="#262626" stroke-width="1.1" />
<text transform="translate(547.80,26.60) scale(1,1.15)" font-size="8.2" text-anchor="end" font-weight="bold" fill="#111" >100</text>
<line x1="552.80" y1="126.40" x2="552.80" y2="130.40" stroke="#262626" stroke-width="1.1" />
<text transform="translate(552.80,141.00) scale(1,1.15)" font-size="8.3" text-anchor="middle" font-weight="bold" fill="#111" >0</text>
<line x1="593.37" y1="126.40" x2="593.37" y2="130.40" stroke="#262626" stroke-width="1.1" />
<text transform="translate(593.37,141.00) scale(1,1.15)" font-size="8.3" text-anchor="middle" font-weight="bold" fill="#111" >10</text>
<line x1="633.93" y1="126.40" x2="633.93" y2="130.40" stroke="#262626" stroke-width="1.1" />
<text transform="translate(633.93,141.00) scale(1,1.15)" font-size="8.3" text-anchor="middle" font-weight="bold" fill="#111" >20</text>
<line x1="674.50" y1="126.40" x2="674.50" y2="130.40" stroke="#262626" stroke-width="1.1" />
<text transform="translate(674.50,141.00) scale(1,1.15)" font-size="8.3" text-anchor="middle" font-weight="bold" fill="#111" >30</text>
<text transform="translate(525.50,75.00) scale(1.0,1) rotate(-90)" x="0" y="3.60" font-size="10" text-anchor="middle" font-weight="bold" fill="#111">Survival rate (%)</text>
<text transform="translate(607.50,158.60) scale(1,1.15)" font-size="9.9" text-anchor="middle" font-weight="bold" fill="#111" >Days after weekly 5-FU injection</text>
<line x1="623.00" y1="25.50" x2="633.70" y2="25.50" stroke="#3232ff" stroke-width="1.3" />
<line x1="628.30" y1="23.90" x2="628.30" y2="27.10" stroke="#3232ff" stroke-width="1" />
<text transform="translate(640.30,28.50) scale(1,1.15)" font-size="8.4" text-anchor="start" font-weight="bold" fill="#111" >WT</text>
<line x1="623.00" y1="39.40" x2="633.70" y2="39.40" stroke="#b32a2a" stroke-width="1.3" />
<line x1="628.30" y1="37.80" x2="628.30" y2="41.00" stroke="#b32a2a" stroke-width="1" />
<text transform="translate(640.30,42.40) scale(1,1.15)" font-size="8.4" text-anchor="start" font-weight="bold" fill="#111" >Trim47<tspan font-size="4.80" font-weight="normal" dy="-2.40">-/-</tspan></text>
<text transform="translate(648.00,115.90) scale(1,1.15)" font-size="9" text-anchor="middle" font-weight="bold" fill="#222" >**</text>
<line x1="44.10" y1="444.70" x2="44.10" y2="548.40" stroke="#262626" stroke-width="1.2" />
<line x1="43.60" y1="547.90" x2="165.20" y2="547.90" stroke="#262626" stroke-width="1.2" />
<line x1="39.90" y1="547.90" x2="44.10" y2="547.90" stroke="#262626" stroke-width="1.1" />
<text transform="translate(38.60,550.90) scale(1,1.15)" font-size="8.2" text-anchor="end" font-weight="bold" fill="#111" >0</text>
<line x1="39.90" y1="527.36" x2="44.10" y2="527.36" stroke="#262626" stroke-width="1.1" />
<text transform="translate(38.60,530.36) scale(1,1.15)" font-size="8.2" text-anchor="end" font-weight="bold" fill="#111" >10K</text>
<line x1="39.90" y1="506.82" x2="44.10" y2="506.82" stroke="#262626" stroke-width="1.1" />
<text transform="translate(38.60,509.82) scale(1,1.15)" font-size="8.2" text-anchor="end" font-weight="bold" fill="#111" >20K</text>
<line x1="39.90" y1="486.28" x2="44.10" y2="486.28" stroke="#262626" stroke-width="1.1" />
<text transform="translate(38.60,489.28) scale(1,1.15)" font-size="8.2" text-anchor="end" font-weight="bold" fill="#111" >30K</text>
<line x1="39.90" y1="465.74" x2="44.10" y2="465.74" stroke="#262626" stroke-width="1.1" />
<text transform="translate(38.60,468.74) scale(1,1.15)" font-size="8.2" text-anchor="end" font-weight="bold" fill="#111" >40K</text>
<line x1="39.90" y1="445.20" x2="44.10" y2="445.20" stroke="#262626" stroke-width="1.1" />
<text transform="translate(38.60,448.20) scale(1,1.15)" font-size="8.2" text-anchor="end" font-weight="bold" fill="#111" >50K</text>
<line x1="59.10" y1="547.90" x2="59.10" y2="551.90" stroke="#262626" stroke-width="1.1" />
<text transform="translate(59.10,562.80) scale(1,1.15)" font-size="8.3" text-anchor="middle" font-weight="bold" fill="#111" >0</text>
<line x1="74.19" y1="547.90" x2="74.19" y2="551.90" stroke="#262626" stroke-width="1.1" />
<text transform="translate(74.19,562.80) scale(1,1.15)" font-size="8.3" text-anchor="middle" font-weight="bold" fill="#111" >3</text>
<line x1="89.27" y1="547.90" x2="89.27" y2="551.90" stroke="#262626" stroke-width="1.1" />
<text transform="translate(89.27,562.80) scale(1,1.15)" font-size="8.3" text-anchor="middle" font-weight="bold" fill="#111" >6</text>
<line x1="104.36" y1="547.90" x2="104.36" y2="551.90" stroke="#262626" stroke-width="1.1" />
<text transform="translate(104.36,562.80) scale(1,1.15)" font-size="8.3" text-anchor="middle" font-weight="bold" fill="#111" >9</text>
<line x1="119.44" y1="547.90" x2="119.44" y2="551.90" stroke="#262626" stroke-width="1.1" />
<text transform="translate(119.44,562.80) scale(1,1.15)" font-size="8.3" text-anchor="middle" font-weight="bold" fill="#111" >12</text>
<line x1="134.53" y1="547.90" x2="134.53" y2="551.90" stroke="#262626" stroke-width="1.1" />
<text transform="translate(134.53,562.80) scale(1,1.15)" font-size="8.3" text-anchor="middle" font-weight="bold" fill="#111" >15</text>
<line x1="149.61" y1="547.90" x2="149.61" y2="551.90" stroke="#262626" stroke-width="1.1" />
<text transform="translate(149.61,562.80) scale(1,1.15)" font-size="8.3" text-anchor="middle" font-weight="bold" fill="#111" >18</text>
<line x1="164.70" y1="547.90" x2="164.70" y2="551.90" stroke="#262626" stroke-width="1.1" />
<text transform="translate(164.70,562.80) scale(1,1.15)" font-size="8.3" text-anchor="middle" font-weight="bold" fill="#111" >21</text>
<text transform="translate(12.20,497.50) scale(1.0,1) rotate(-90)" x="0" y="3.64" font-size="10.1" text-anchor="middle" font-weight="bold" fill="#111">eGFP (MFI)</text>
<text transform="translate(104.00,581.00) scale(1,1.15)" font-size="9.9" text-anchor="middle" font-weight="bold" fill="#111" >Days after 5.0 Gy IR</text>
<text transform="translate(99.00,442.20) scale(1,1.15)" font-size="9.9" text-anchor="middle" font-weight="bold" fill="#111" >Trim47</text>
<polyline points="59.10,473.96 74.19,522.23 89.27,527.36 104.36,518.12 119.44,506.82 134.53,501.69 149.61,492.44 164.70,481.14" fill="none" stroke="#3232ff" stroke-width="1.2" stroke-linejoin="round"/>
<line x1="59.10" y1="478.06" x2="59.10" y2="469.85" stroke="#3232ff" stroke-width="0.95" opacity="1.0"/>
<line x1="57.20" y1="469.85" x2="61.00" y2="469.85" stroke="#3232ff" stroke-width="0.95" opacity="1.0"/>
<line x1="57.20" y1="478.06" x2="61.00" y2="478.06" stroke="#3232ff" stroke-width="0.95" opacity="1.0"/>
<circle cx="59.10" cy="473.96" r="1.75" fill="#3232ff" fill-opacity="0.25" stroke="#3232ff" stroke-width="1.2"/>
<line x1="74.19" y1="526.33" x2="74.19" y2="518.12" stroke="#3232ff" stroke-width="0.95" opacity="1.0"/>
<line x1="72.29" y1="518.12" x2="76.09" y2="518.12" stroke="#3232ff" stroke-width="0.95" opacity="1.0"/>
<line x1="72.29" y1="526.33" x2="76.09" y2="526.33" stroke="#3232ff" stroke-width="0.95" opacity="1.0"/>
<circle cx="74.19" cy="522.23" r="1.75" fill="#3232ff" fill-opacity="0.25" stroke="#3232ff" stroke-width="1.2"/>
<line x1="89.27" y1="533.52" x2="89.27" y2="521.20" stroke="#3232ff" stroke-width="0.95" opacity="1.0"/>
<line x1="87.37" y1="521.20" x2="91.17" y2="521.20" stroke="#3232ff" stroke-width="0.95" opacity="1.0"/>
<line x1="87.37" y1="533.52" x2="91.17" y2="533.52" stroke="#3232ff" stroke-width="0.95" opacity="1.0"/>
<circle cx="89.27" cy="527.36" r="1.75" fill="#3232ff" fill-opacity="0.25" stroke="#3232ff" stroke-width="1.2"/>
<line x1="104.36" y1="522.23" x2="104.36" y2="514.01" stroke="#3232ff" stroke-width="0.95" opacity="1.0"/>
<line x1="102.46" y1="514.01" x2="106.26" y2="514.01" stroke="#3232ff" stroke-width="0.95" opacity="1.0"/>
<line x1="102.46" y1="522.23" x2="106.26" y2="522.23" stroke="#3232ff" stroke-width="0.95" opacity="1.0"/>
<circle cx="104.36" cy="518.12" r="1.75" fill="#3232ff" fill-opacity="0.25" stroke="#3232ff" stroke-width="1.2"/>
<line x1="119.44" y1="514.01" x2="119.44" y2="499.63" stroke="#3232ff" stroke-width="0.95" opacity="1.0"/>
<line x1="117.54" y1="499.63" x2="121.34" y2="499.63" stroke="#3232ff" stroke-width="0.95" opacity="1.0"/>
<line x1="117.54" y1="514.01" x2="121.34" y2="514.01" stroke="#3232ff" stroke-width="0.95" opacity="1.0"/>
<circle cx="119.44" cy="506.82" r="1.75" fill="#3232ff" fill-opacity="0.25" stroke="#3232ff" stroke-width="1.2"/>
<line x1="134.53" y1="507.85" x2="134.53" y2="495.52" stroke="#3232ff" stroke-width="0.95" opacity="1.0"/>
<line x1="132.63" y1="495.52" x2="136.43" y2="495.52" stroke="#3232ff" stroke-width="0.95" opacity="1.0"/>
<line x1="132.63" y1="507.85" x2="136.43" y2="507.85" stroke="#3232ff" stroke-width="0.95" opacity="1.0"/>
<circle cx="134.53" cy="501.69" r="1.75" fill="#3232ff" fill-opacity="0.25" stroke="#3232ff" stroke-width="1.2"/>
<line x1="149.61" y1="502.71" x2="149.61" y2="482.17" stroke="#3232ff" stroke-width="0.95" opacity="1.0"/>
<line x1="147.71" y1="482.17" x2="151.51" y2="482.17" stroke="#3232ff" stroke-width="0.95" opacity="1.0"/>
<line x1="147.71" y1="502.71" x2="151.51" y2="502.71" stroke="#3232ff" stroke-width="0.95" opacity="1.0"/>
<circle cx="149.61" cy="492.44" r="1.75" fill="#3232ff" fill-opacity="0.25" stroke="#3232ff" stroke-width="1.2"/>
<line x1="164.70" y1="488.33" x2="164.70" y2="473.96" stroke="#3232ff" stroke-width="0.95" opacity="1.0"/>
<line x1="162.80" y1="473.96" x2="166.60" y2="473.96" stroke="#3232ff" stroke-width="0.95" opacity="1.0"/>
<line x1="162.80" y1="488.33" x2="166.60" y2="488.33" stroke="#3232ff" stroke-width="0.95" opacity="1.0"/>
<circle cx="164.70" cy="481.14" r="1.75" fill="#3232ff" fill-opacity="0.25" stroke="#3232ff" stroke-width="1.2"/>
<line x1="214.90" y1="446.30" x2="214.90" y2="548.20" stroke="#262626" stroke-width="1.2" />
<line x1="214.40" y1="547.70" x2="334.80" y2="547.70" stroke="#262626" stroke-width="1.2" />
<line x1="210.70" y1="547.70" x2="214.90" y2="547.70" stroke="#262626" stroke-width="1.1" />
<text transform="translate(209.40,550.70) scale(1,1.15)" font-size="8.2" text-anchor="end" font-weight="bold" fill="#111" >0</text>
<line x1="210.70" y1="522.48" x2="214.90" y2="522.48" stroke="#262626" stroke-width="1.1" />
<text transform="translate(209.40,525.48) scale(1,1.15)" font-size="8.2" text-anchor="end" font-weight="bold" fill="#111" >5</text>
<line x1="210.70" y1="497.25" x2="214.90" y2="497.25" stroke="#262626" stroke-width="1.1" />
<text transform="translate(209.40,500.25) scale(1,1.15)" font-size="8.2" text-anchor="end" font-weight="bold" fill="#111" >10</text>
<line x1="210.70" y1="472.03" x2="214.90" y2="472.03" stroke="#262626" stroke-width="1.1" />
<text transform="translate(209.40,475.03) scale(1,1.15)" font-size="8.2" text-anchor="end" font-weight="bold" fill="#111" >15</text>
<line x1="210.70" y1="446.80" x2="214.90" y2="446.80" stroke="#262626" stroke-width="1.1" />
<text transform="translate(209.40,449.80) scale(1,1.15)" font-size="8.2" text-anchor="end" font-weight="bold" fill="#111" >20</text>
<line x1="225.80" y1="547.70" x2="225.80" y2="551.70" stroke="#262626" stroke-width="1.1" />
<text transform="translate(225.80,562.80) scale(1,1.15)" font-size="8.3" text-anchor="middle" font-weight="bold" fill="#111" >0</text>
<line x1="247.50" y1="547.70" x2="247.50" y2="551.70" stroke="#262626" stroke-width="1.1" />
<text transform="translate(247.50,562.80) scale(1,1.15)" font-size="8.3" text-anchor="middle" font-weight="bold" fill="#111" >6</text>
<line x1="269.20" y1="547.70" x2="269.20" y2="551.70" stroke="#262626" stroke-width="1.1" />
<text transform="translate(269.20,562.80) scale(1,1.15)" font-size="8.3" text-anchor="middle" font-weight="bold" fill="#111" >12</text>
<line x1="290.90" y1="547.70" x2="290.90" y2="551.70" stroke="#262626" stroke-width="1.1" />
<text transform="translate(290.90,562.80) scale(1,1.15)" font-size="8.3" text-anchor="middle" font-weight="bold" fill="#111" >18</text>
<line x1="312.60" y1="547.70" x2="312.60" y2="551.70" stroke="#262626" stroke-width="1.1" />
<text transform="translate(312.60,562.80) scale(1,1.15)" font-size="8.3" text-anchor="middle" font-weight="bold" fill="#111" >24</text>
<line x1="334.30" y1="547.70" x2="334.30" y2="551.70" stroke="#262626" stroke-width="1.1" />
<text transform="translate(334.30,562.80) scale(1,1.15)" font-size="8.3" text-anchor="middle" font-weight="bold" fill="#111" >30</text>
<text transform="translate(192.00,497.00) scale(1.0,1) rotate(-90)" x="0" y="3.64" font-size="10.1" text-anchor="middle" font-weight="bold" fill="#111">WBC (×10<tspan font-size="6" dy="-3.5">9</tspan><tspan dy="3.5">/L)</tspan></text>
<text transform="translate(274.80,581.00) scale(1,1.15)" font-size="9.9" text-anchor="middle" font-weight="bold" fill="#111" >Days after 5.0 Gy IR</text>
<polyline points="225.80,478.08 236.65,537.11 247.50,541.14 258.35,540.13 269.20,535.09 280.05,531.05 290.90,508.85 301.75,501.79 312.60,486.15 327.07,483.12" fill="none" stroke="#b32a2a" stroke-width="1.2" stroke-linejoin="round"/>
<line x1="225.80" y1="486.66" x2="225.80" y2="469.50" stroke="#b32a2a" stroke-width="0.95" opacity="0.55"/>
<line x1="223.90" y1="469.50" x2="227.70" y2="469.50" stroke="#b32a2a" stroke-width="0.95" opacity="0.55"/>
<line x1="223.90" y1="486.66" x2="227.70" y2="486.66" stroke="#b32a2a" stroke-width="0.95" opacity="0.55"/>
<circle cx="225.80" cy="478.08" r="1.75" fill="#b32a2a" fill-opacity="0.25" stroke="#b32a2a" stroke-width="1.2"/>
<line x1="236.65" y1="540.13" x2="236.65" y2="534.08" stroke="#b32a2a" stroke-width="0.95" opacity="0.55"/>
<line x1="234.75" y1="534.08" x2="238.55" y2="534.08" stroke="#b32a2a" stroke-width="0.95" opacity="0.55"/>
<line x1="234.75" y1="540.13" x2="238.55" y2="540.13" stroke="#b32a2a" stroke-width="0.95" opacity="0.55"/>
<circle cx="236.65" cy="537.11" r="1.75" fill="#b32a2a" fill-opacity="0.25" stroke="#b32a2a" stroke-width="1.2"/>
<line x1="247.50" y1="543.66" x2="247.50" y2="538.62" stroke="#b32a2a" stroke-width="0.95" opacity="0.55"/>
<line x1="245.60" y1="538.62" x2="249.40" y2="538.62" stroke="#b32a2a" stroke-width="0.95" opacity="0.55"/>
<line x1="245.60" y1="543.66" x2="249.40" y2="543.66" stroke="#b32a2a" stroke-width="0.95" opacity="0.55"/>
<circle cx="247.50" cy="541.14" r="1.75" fill="#b32a2a" fill-opacity="0.25" stroke="#b32a2a" stroke-width="1.2"/>
<line x1="258.35" y1="543.16" x2="258.35" y2="537.11" stroke="#b32a2a" stroke-width="0.95" opacity="0.55"/>
<line x1="256.45" y1="537.11" x2="260.25" y2="537.11" stroke="#b32a2a" stroke-width="0.95" opacity="0.55"/>
<line x1="256.45" y1="543.16" x2="260.25" y2="543.16" stroke="#b32a2a" stroke-width="0.95" opacity="0.55"/>
<circle cx="258.35" cy="540.13" r="1.75" fill="#b32a2a" fill-opacity="0.25" stroke="#b32a2a" stroke-width="1.2"/>
<line x1="269.20" y1="539.63" x2="269.20" y2="530.55" stroke="#b32a2a" stroke-width="0.95" opacity="0.55"/>
<line x1="267.30" y1="530.55" x2="271.10" y2="530.55" stroke="#b32a2a" stroke-width="0.95" opacity="0.55"/>
<line x1="267.30" y1="539.63" x2="271.10" y2="539.63" stroke="#b32a2a" stroke-width="0.95" opacity="0.55"/>
<circle cx="269.20" cy="535.09" r="1.75" fill="#b32a2a" fill-opacity="0.25" stroke="#b32a2a" stroke-width="1.2"/>
<line x1="280.05" y1="536.10" x2="280.05" y2="526.01" stroke="#b32a2a" stroke-width="0.95" opacity="0.55"/>
<line x1="278.15" y1="526.01" x2="281.95" y2="526.01" stroke="#b32a2a" stroke-width="0.95" opacity="0.55"/>
<line x1="278.15" y1="536.10" x2="281.95" y2="536.10" stroke="#b32a2a" stroke-width="0.95" opacity="0.55"/>
<circle cx="280.05" cy="531.05" r="1.75" fill="#b32a2a" fill-opacity="0.25" stroke="#b32a2a" stroke-width="1.2"/>
<line x1="290.90" y1="517.43" x2="290.90" y2="500.28" stroke="#b32a2a" stroke-width="0.95" opacity="0.55"/>
<line x1="289.00" y1="500.28" x2="292.80" y2="500.28" stroke="#b32a2a" stroke-width="0.95" opacity="0.55"/>
<line x1="289.00" y1="517.43" x2="292.80" y2="517.43" stroke="#b32a2a" stroke-width="0.95" opacity="0.55"/>
<circle cx="290.90" cy="508.85" r="1.75" fill="#b32a2a" fill-opacity="0.25" stroke="#b32a2a" stroke-width="1.2"/>
<line x1="301.75" y1="511.38" x2="301.75" y2="492.21" stroke="#b32a2a" stroke-width="0.95" opacity="0.55"/>
<line x1="299.85" y1="492.21" x2="303.65" y2="492.21" stroke="#b32a2a" stroke-width="0.95" opacity="0.55"/>
<line x1="299.85" y1="511.38" x2="303.65" y2="511.38" stroke="#b32a2a" stroke-width="0.95" opacity="0.55"/>
<circle cx="301.75" cy="501.79" r="1.75" fill="#b32a2a" fill-opacity="0.25" stroke="#b32a2a" stroke-width="1.2"/>
<line x1="312.60" y1="495.74" x2="312.60" y2="476.57" stroke="#b32a2a" stroke-width="0.95" opacity="0.55"/>
<line x1="310.70" y1="476.57" x2="314.50" y2="476.57" stroke="#b32a2a" stroke-width="0.95" opacity="0.55"/>
<line x1="310.70" y1="495.74" x2="314.50" y2="495.74" stroke="#b32a2a" stroke-width="0.95" opacity="0.55"/>
<circle cx="312.60" cy="486.15" r="1.75" fill="#b32a2a" fill-opacity="0.25" stroke="#b32a2a" stroke-width="1.2"/>
<line x1="327.07" y1="491.70" x2="327.07" y2="474.55" stroke="#b32a2a" stroke-width="0.95" opacity="0.55"/>
<line x1="325.17" y1="474.55" x2="328.97" y2="474.55" stroke="#b32a2a" stroke-width="0.95" opacity="0.55"/>
<line x1="325.17" y1="491.70" x2="328.97" y2="491.70" stroke="#b32a2a" stroke-width="0.95" opacity="0.55"/>
<circle cx="327.07" cy="483.12" r="1.75" fill="#b32a2a" fill-opacity="0.25" stroke="#b32a2a" stroke-width="1.2"/>
<polyline points="225.80,483.12 236.65,535.59 247.50,538.62 258.35,533.57 269.20,522.98 280.05,511.38 290.90,498.76 301.75,491.70 312.60,478.58 327.07,485.65" fill="none" stroke="#3232ff" stroke-width="1.2" stroke-linejoin="round"/>
<line x1="225.80" y1="493.21" x2="225.80" y2="473.03" stroke="#3232ff" stroke-width="0.95" opacity="0.55"/>
<line x1="223.90" y1="473.03" x2="227.70" y2="473.03" stroke="#3232ff" stroke-width="0.95" opacity="0.55"/>
<line x1="223.90" y1="493.21" x2="227.70" y2="493.21" stroke="#3232ff" stroke-width="0.95" opacity="0.55"/>
<circle cx="225.80" cy="483.12" r="1.75" fill="#3232ff" fill-opacity="0.25" stroke="#3232ff" stroke-width="1.2"/>
<line x1="236.65" y1="539.63" x2="236.65" y2="531.56" stroke="#3232ff" stroke-width="0.95" opacity="0.55"/>
<line x1="234.75" y1="531.56" x2="238.55" y2="531.56" stroke="#3232ff" stroke-width="0.95" opacity="0.55"/>
<line x1="234.75" y1="539.63" x2="238.55" y2="539.63" stroke="#3232ff" stroke-width="0.95" opacity="0.55"/>
<circle cx="236.65" cy="535.59" r="1.75" fill="#3232ff" fill-opacity="0.25" stroke="#3232ff" stroke-width="1.2"/>
<line x1="247.50" y1="540.64" x2="247.50" y2="536.60" stroke="#3232ff" stroke-width="0.95" opacity="0.55"/>
<line x1="245.60" y1="536.60" x2="249.40" y2="536.60" stroke="#3232ff" stroke-width="0.95" opacity="0.55"/>
<line x1="245.60" y1="540.64" x2="249.40" y2="540.64" stroke="#3232ff" stroke-width="0.95" opacity="0.55"/>
<circle cx="247.50" cy="538.62" r="1.75" fill="#3232ff" fill-opacity="0.25" stroke="#3232ff" stroke-width="1.2"/>
<line x1="258.35" y1="538.62" x2="258.35" y2="528.53" stroke="#3232ff" stroke-width="0.95" opacity="0.55"/>
<line x1="256.45" y1="528.53" x2="260.25" y2="528.53" stroke="#3232ff" stroke-width="0.95" opacity="0.55"/>
<line x1="256.45" y1="538.62" x2="260.25" y2="538.62" stroke="#3232ff" stroke-width="0.95" opacity="0.55"/>
<circle cx="258.35" cy="533.57" r="1.75" fill="#3232ff" fill-opacity="0.25" stroke="#3232ff" stroke-width="1.2"/>
<line x1="269.20" y1="530.55" x2="269.20" y2="515.41" stroke="#3232ff" stroke-width="0.95" opacity="0.55"/>
<line x1="267.30" y1="515.41" x2="271.10" y2="515.41" stroke="#3232ff" stroke-width="0.95" opacity="0.55"/>
<line x1="267.30" y1="530.55" x2="271.10" y2="530.55" stroke="#3232ff" stroke-width="0.95" opacity="0.55"/>
<circle cx="269.20" cy="522.98" r="1.75" fill="#3232ff" fill-opacity="0.25" stroke="#3232ff" stroke-width="1.2"/>
<line x1="280.05" y1="519.95" x2="280.05" y2="502.80" stroke="#3232ff" stroke-width="0.95" opacity="0.55"/>
<line x1="278.15" y1="502.80" x2="281.95" y2="502.80" stroke="#3232ff" stroke-width="0.95" opacity="0.55"/>
<line x1="278.15" y1="519.95" x2="281.95" y2="519.95" stroke="#3232ff" stroke-width="0.95" opacity="0.55"/>
<circle cx="280.05" cy="511.38" r="1.75" fill="#3232ff" fill-opacity="0.25" stroke="#3232ff" stroke-width="1.2"/>
<line x1="290.90" y1="503.30" x2="290.90" y2="494.22" stroke="#3232ff" stroke-width="0.95" opacity="0.55"/>
<line x1="289.00" y1="494.22" x2="292.80" y2="494.22" stroke="#3232ff" stroke-width="0.95" opacity="0.55"/>
<line x1="289.00" y1="503.30" x2="292.80" y2="503.30" stroke="#3232ff" stroke-width="0.95" opacity="0.55"/>
<circle cx="290.90" cy="498.76" r="1.75" fill="#3232ff" fill-opacity="0.25" stroke="#3232ff" stroke-width="1.2"/>
<line x1="301.75" y1="499.27" x2="301.75" y2="484.13" stroke="#3232ff" stroke-width="0.95" opacity="0.55"/>
<line x1="299.85" y1="484.13" x2="303.65" y2="484.13" stroke="#3232ff" stroke-width="0.95" opacity="0.55"/>
<line x1="299.85" y1="499.27" x2="303.65" y2="499.27" stroke="#3232ff" stroke-width="0.95" opacity="0.55"/>
<circle cx="301.75" cy="491.70" r="1.75" fill="#3232ff" fill-opacity="0.25" stroke="#3232ff" stroke-width="1.2"/>
<line x1="312.60" y1="486.66" x2="312.60" y2="470.51" stroke="#3232ff" stroke-width="0.95" opacity="0.55"/>
<line x1="310.70" y1="470.51" x2="314.50" y2="470.51" stroke="#3232ff" stroke-width="0.95" opacity="0.55"/>
<line x1="310.70" y1="486.66" x2="314.50" y2="486.66" stroke="#3232ff" stroke-width="0.95" opacity="0.55"/>
<circle cx="312.60" cy="478.58" r="1.75" fill="#3232ff" fill-opacity="0.25" stroke="#3232ff" stroke-width="1.2"/>
<line x1="327.07" y1="495.74" x2="327.07" y2="475.56" stroke="#3232ff" stroke-width="0.95" opacity="0.55"/>
<line x1="325.17" y1="475.56" x2="328.97" y2="475.56" stroke="#3232ff" stroke-width="0.95" opacity="0.55"/>
<line x1="325.17" y1="495.74" x2="328.97" y2="495.74" stroke="#3232ff" stroke-width="0.95" opacity="0.55"/>
<circle cx="327.07" cy="485.65" r="1.75" fill="#3232ff" fill-opacity="0.25" stroke="#3232ff" stroke-width="1.2"/>
<line x1="221.80" y1="438.60" x2="232.80" y2="438.60" stroke="#3232ff" stroke-width="1.3" />
<circle cx="227.30" cy="438.60" r="1.75" fill="#3232ff" fill-opacity="0.25" stroke="#3232ff" stroke-width="1.2"/>
<text transform="translate(238.80,441.60) scale(1,1.15)" font-size="8.4" text-anchor="start" font-weight="bold" fill="#111" >WT</text>
<line x1="221.80" y1="453.30" x2="232.80" y2="453.30" stroke="#b32a2a" stroke-width="1.3" />
<circle cx="227.30" cy="453.30" r="1.75" fill="#b32a2a" fill-opacity="0.25" stroke="#b32a2a" stroke-width="1.2"/>
<text transform="translate(238.80,456.30) scale(1,1.15)" font-size="8.4" text-anchor="start" font-weight="bold" fill="#111" >Trim47<tspan font-size="4.80" font-weight="normal" dy="-2.40">-/-</tspan></text>
<text transform="translate(258.35,528.90) scale(1,1.15)" font-size="9.2" text-anchor="middle" font-weight="bold" fill="#222" style="stroke-width:0.1px">**</text>
<text transform="translate(269.20,516.50) scale(1,1.15)" font-size="9.2" text-anchor="middle" font-weight="bold" fill="#222" style="stroke-width:0.1px">**</text>
<text transform="translate(280.05,503.90) scale(1,1.15)" font-size="9.2" text-anchor="middle" font-weight="bold" fill="#222" style="stroke-width:0.1px">***</text>
<text transform="translate(290.90,495.50) scale(1,1.15)" font-size="9.2" text-anchor="middle" font-weight="bold" fill="#222" style="stroke-width:0.1px">*</text>
<text transform="translate(301.75,485.50) scale(1,1.15)" font-size="9.2" text-anchor="middle" font-weight="bold" fill="#222" style="stroke-width:0.1px">*</text>
<line x1="387.00" y1="446.30" x2="387.00" y2="547.60" stroke="#262626" stroke-width="1.2" />
<line x1="386.50" y1="547.10" x2="506.00" y2="547.10" stroke="#262626" stroke-width="1.2" />
<line x1="382.80" y1="547.10" x2="387.00" y2="547.10" stroke="#262626" stroke-width="1.1" />
<text transform="translate(381.50,550.10) scale(1,1.15)" font-size="8.2" text-anchor="end" font-weight="bold" fill="#111" >0</text>
<line x1="382.80" y1="522.02" x2="387.00" y2="522.02" stroke="#262626" stroke-width="1.1" />
<text transform="translate(381.50,525.02) scale(1,1.15)" font-size="8.2" text-anchor="end" font-weight="bold" fill="#111" >500</text>
<line x1="382.80" y1="496.95" x2="387.00" y2="496.95" stroke="#262626" stroke-width="1.1" />
<text transform="translate(381.50,499.95) scale(1,1.15)" font-size="8.2" text-anchor="end" font-weight="bold" fill="#111" >1000</text>
<line x1="382.80" y1="471.88" x2="387.00" y2="471.88" stroke="#262626" stroke-width="1.1" />
<text transform="translate(381.50,474.88) scale(1,1.15)" font-size="8.2" text-anchor="end" font-weight="bold" fill="#111" >1500</text>
<line x1="382.80" y1="446.80" x2="387.00" y2="446.80" stroke="#262626" stroke-width="1.1" />
<text transform="translate(381.50,449.80) scale(1,1.15)" font-size="8.2" text-anchor="end" font-weight="bold" fill="#111" >2000</text>
<line x1="398.10" y1="547.10" x2="398.10" y2="551.10" stroke="#262626" stroke-width="1.1" />
<text transform="translate(398.10,562.80) scale(1,1.15)" font-size="8.3" text-anchor="middle" font-weight="bold" fill="#111" >0</text>
<line x1="419.54" y1="547.10" x2="419.54" y2="551.10" stroke="#262626" stroke-width="1.1" />
<text transform="translate(419.54,562.80) scale(1,1.15)" font-size="8.3" text-anchor="middle" font-weight="bold" fill="#111" >6</text>
<line x1="440.98" y1="547.10" x2="440.98" y2="551.10" stroke="#262626" stroke-width="1.1" />
<text transform="translate(440.98,562.80) scale(1,1.15)" font-size="8.3" text-anchor="middle" font-weight="bold" fill="#111" >12</text>
<line x1="462.42" y1="547.10" x2="462.42" y2="551.10" stroke="#262626" stroke-width="1.1" />
<text transform="translate(462.42,562.80) scale(1,1.15)" font-size="8.3" text-anchor="middle" font-weight="bold" fill="#111" >18</text>
<line x1="483.86" y1="547.10" x2="483.86" y2="551.10" stroke="#262626" stroke-width="1.1" />
<text transform="translate(483.86,562.80) scale(1,1.15)" font-size="8.3" text-anchor="middle" font-weight="bold" fill="#111" >24</text>
<line x1="505.30" y1="547.10" x2="505.30" y2="551.10" stroke="#262626" stroke-width="1.1" />
<text transform="translate(505.30,562.80) scale(1,1.15)" font-size="8.3" text-anchor="middle" font-weight="bold" fill="#111" >30</text>
<text transform="translate(352.90,497.00) scale(1.0,1) rotate(-90)" x="0" y="3.64" font-size="10.1" text-anchor="middle" font-weight="bold" fill="#111">PLT (×10<tspan font-size="6" dy="-3.5">9</tspan><tspan dy="3.5">/L)</tspan></text>
<text transform="translate(450.10,581.00) scale(1,1.15)" font-size="9.9" text-anchor="middle" font-weight="bold" fill="#111" >Days after 5.0 Gy IR</text>
<polyline points="398.10,482.41 408.82,488.93 419.54,529.55 430.26,532.06 440.98,529.05 451.70,522.02 462.42,515.51 473.14,503.47 483.86,485.92 498.15,478.90" fill="none" stroke="#b32a2a" stroke-width="1.2" stroke-linejoin="round"/>
<line x1="398.10" y1="487.92" x2="398.10" y2="476.89" stroke="#b32a2a" stroke-width="0.95" opacity="0.55"/>
<line x1="396.20" y1="476.89" x2="400.00" y2="476.89" stroke="#b32a2a" stroke-width="0.95" opacity="0.55"/>
<line x1="396.20" y1="487.92" x2="400.00" y2="487.92" stroke="#b32a2a" stroke-width="0.95" opacity="0.55"/>
<circle cx="398.10" cy="482.41" r="1.75" fill="#b32a2a" fill-opacity="0.25" stroke="#b32a2a" stroke-width="1.2"/>
<line x1="408.82" y1="494.94" x2="408.82" y2="482.91" stroke="#b32a2a" stroke-width="0.95" opacity="0.55"/>
<line x1="406.92" y1="482.91" x2="410.72" y2="482.91" stroke="#b32a2a" stroke-width="0.95" opacity="0.55"/>
<line x1="406.92" y1="494.94" x2="410.72" y2="494.94" stroke="#b32a2a" stroke-width="0.95" opacity="0.55"/>
<circle cx="408.82" cy="488.93" r="1.75" fill="#b32a2a" fill-opacity="0.25" stroke="#b32a2a" stroke-width="1.2"/>
<line x1="419.54" y1="533.56" x2="419.54" y2="525.54" stroke="#b32a2a" stroke-width="0.95" opacity="0.55"/>
<line x1="417.64" y1="525.54" x2="421.44" y2="525.54" stroke="#b32a2a" stroke-width="0.95" opacity="0.55"/>
<line x1="417.64" y1="533.56" x2="421.44" y2="533.56" stroke="#b32a2a" stroke-width="0.95" opacity="0.55"/>
<circle cx="419.54" cy="529.55" r="1.75" fill="#b32a2a" fill-opacity="0.25" stroke="#b32a2a" stroke-width="1.2"/>
<line x1="430.26" y1="535.06" x2="430.26" y2="529.05" stroke="#b32a2a" stroke-width="0.95" opacity="0.55"/>
<line x1="428.36" y1="529.05" x2="432.16" y2="529.05" stroke="#b32a2a" stroke-width="0.95" opacity="0.55"/>
<line x1="428.36" y1="535.06" x2="432.16" y2="535.06" stroke="#b32a2a" stroke-width="0.95" opacity="0.55"/>
<circle cx="430.26" cy="532.06" r="1.75" fill="#b32a2a" fill-opacity="0.25" stroke="#b32a2a" stroke-width="1.2"/>
<line x1="440.98" y1="534.06" x2="440.98" y2="524.03" stroke="#b32a2a" stroke-width="0.95" opacity="0.55"/>
<line x1="439.08" y1="524.03" x2="442.88" y2="524.03" stroke="#b32a2a" stroke-width="0.95" opacity="0.55"/>
<line x1="439.08" y1="534.06" x2="442.88" y2="534.06" stroke="#b32a2a" stroke-width="0.95" opacity="0.55"/>
<circle cx="440.98" cy="529.05" r="1.75" fill="#b32a2a" fill-opacity="0.25" stroke="#b32a2a" stroke-width="1.2"/>
<line x1="451.70" y1="527.54" x2="451.70" y2="516.51" stroke="#b32a2a" stroke-width="0.95" opacity="0.55"/>
<line x1="449.80" y1="516.51" x2="453.60" y2="516.51" stroke="#b32a2a" stroke-width="0.95" opacity="0.55"/>
<line x1="449.80" y1="527.54" x2="453.60" y2="527.54" stroke="#b32a2a" stroke-width="0.95" opacity="0.55"/>
<circle cx="451.70" cy="522.02" r="1.75" fill="#b32a2a" fill-opacity="0.25" stroke="#b32a2a" stroke-width="1.2"/>
<line x1="462.42" y1="522.53" x2="462.42" y2="508.48" stroke="#b32a2a" stroke-width="0.95" opacity="0.55"/>
<line x1="460.52" y1="508.48" x2="464.32" y2="508.48" stroke="#b32a2a" stroke-width="0.95" opacity="0.55"/>
<line x1="460.52" y1="522.53" x2="464.32" y2="522.53" stroke="#b32a2a" stroke-width="0.95" opacity="0.55"/>
<circle cx="462.42" cy="515.51" r="1.75" fill="#b32a2a" fill-opacity="0.25" stroke="#b32a2a" stroke-width="1.2"/>
<line x1="473.14" y1="508.48" x2="473.14" y2="498.45" stroke="#b32a2a" stroke-width="0.95" opacity="0.55"/>
<line x1="471.24" y1="498.45" x2="475.04" y2="498.45" stroke="#b32a2a" stroke-width="0.95" opacity="0.55"/>
<line x1="471.24" y1="508.48" x2="475.04" y2="508.48" stroke="#b32a2a" stroke-width="0.95" opacity="0.55"/>
<circle cx="473.14" cy="503.47" r="1.75" fill="#b32a2a" fill-opacity="0.25" stroke="#b32a2a" stroke-width="1.2"/>
<line x1="483.86" y1="493.94" x2="483.86" y2="477.89" stroke="#b32a2a" stroke-width="0.95" opacity="0.55"/>
<line x1="481.96" y1="477.89" x2="485.76" y2="477.89" stroke="#b32a2a" stroke-width="0.95" opacity="0.55"/>
<line x1="481.96" y1="493.94" x2="485.76" y2="493.94" stroke="#b32a2a" stroke-width="0.95" opacity="0.55"/>
<circle cx="483.86" cy="485.92" r="1.75" fill="#b32a2a" fill-opacity="0.25" stroke="#b32a2a" stroke-width="1.2"/>
<line x1="498.15" y1="490.43" x2="498.15" y2="467.36" stroke="#b32a2a" stroke-width="0.95" opacity="0.55"/>
<line x1="496.25" y1="467.36" x2="500.05" y2="467.36" stroke="#b32a2a" stroke-width="0.95" opacity="0.55"/>
<line x1="496.25" y1="490.43" x2="500.05" y2="490.43" stroke="#b32a2a" stroke-width="0.95" opacity="0.55"/>
<circle cx="498.15" cy="478.90" r="1.75" fill="#b32a2a" fill-opacity="0.25" stroke="#b32a2a" stroke-width="1.2"/>
<polyline points="398.10,478.39 408.82,485.92 419.54,525.54 430.26,526.04 440.98,512.50 451.70,505.48 462.42,500.96 473.14,489.93 483.86,483.41 498.15,475.39" fill="none" stroke="#3232ff" stroke-width="1.2" stroke-linejoin="round"/>
<line x1="398.10" y1="485.92" x2="398.10" y2="470.87" stroke="#3232ff" stroke-width="0.95" opacity="0.55"/>
<line x1="396.20" y1="470.87" x2="400.00" y2="470.87" stroke="#3232ff" stroke-width="0.95" opacity="0.55"/>
<line x1="396.20" y1="485.92" x2="400.00" y2="485.92" stroke="#3232ff" stroke-width="0.95" opacity="0.55"/>
<circle cx="398.10" cy="478.39" r="1.75" fill="#3232ff" fill-opacity="0.25" stroke="#3232ff" stroke-width="1.2"/>
<line x1="408.82" y1="494.44" x2="408.82" y2="477.39" stroke="#3232ff" stroke-width="0.95" opacity="0.55"/>
<line x1="406.92" y1="477.39" x2="410.72" y2="477.39" stroke="#3232ff" stroke-width="0.95" opacity="0.55"/>
<line x1="406.92" y1="494.44" x2="410.72" y2="494.44" stroke="#3232ff" stroke-width="0.95" opacity="0.55"/>
<circle cx="408.82" cy="485.92" r="1.75" fill="#3232ff" fill-opacity="0.25" stroke="#3232ff" stroke-width="1.2"/>
<line x1="419.54" y1="529.55" x2="419.54" y2="521.52" stroke="#3232ff" stroke-width="0.95" opacity="0.55"/>
<line x1="417.64" y1="521.52" x2="421.44" y2="521.52" stroke="#3232ff" stroke-width="0.95" opacity="0.55"/>
<line x1="417.64" y1="529.55" x2="421.44" y2="529.55" stroke="#3232ff" stroke-width="0.95" opacity="0.55"/>
<circle cx="419.54" cy="525.54" r="1.75" fill="#3232ff" fill-opacity="0.25" stroke="#3232ff" stroke-width="1.2"/>
<line x1="430.26" y1="530.05" x2="430.26" y2="522.02" stroke="#3232ff" stroke-width="0.95" opacity="0.55"/>
<line x1="428.36" y1="522.02" x2="432.16" y2="522.02" stroke="#3232ff" stroke-width="0.95" opacity="0.55"/>
<line x1="428.36" y1="530.05" x2="432.16" y2="530.05" stroke="#3232ff" stroke-width="0.95" opacity="0.55"/>
<circle cx="430.26" cy="526.04" r="1.75" fill="#3232ff" fill-opacity="0.25" stroke="#3232ff" stroke-width="1.2"/>
<line x1="440.98" y1="516.51" x2="440.98" y2="508.48" stroke="#3232ff" stroke-width="0.95" opacity="0.55"/>
<line x1="439.08" y1="508.48" x2="442.88" y2="508.48" stroke="#3232ff" stroke-width="0.95" opacity="0.55"/>
<line x1="439.08" y1="516.51" x2="442.88" y2="516.51" stroke="#3232ff" stroke-width="0.95" opacity="0.55"/>
<circle cx="440.98" cy="512.50" r="1.75" fill="#3232ff" fill-opacity="0.25" stroke="#3232ff" stroke-width="1.2"/>
<line x1="451.70" y1="510.49" x2="451.70" y2="500.46" stroke="#3232ff" stroke-width="0.95" opacity="0.55"/>
<line x1="449.80" y1="500.46" x2="453.60" y2="500.46" stroke="#3232ff" stroke-width="0.95" opacity="0.55"/>
<line x1="449.80" y1="510.49" x2="453.60" y2="510.49" stroke="#3232ff" stroke-width="0.95" opacity="0.55"/>
<circle cx="451.70" cy="505.48" r="1.75" fill="#3232ff" fill-opacity="0.25" stroke="#3232ff" stroke-width="1.2"/>
<line x1="462.42" y1="506.48" x2="462.42" y2="495.45" stroke="#3232ff" stroke-width="0.95" opacity="0.55"/>
<line x1="460.52" y1="495.45" x2="464.32" y2="495.45" stroke="#3232ff" stroke-width="0.95" opacity="0.55"/>
<line x1="460.52" y1="506.48" x2="464.32" y2="506.48" stroke="#3232ff" stroke-width="0.95" opacity="0.55"/>
<circle cx="462.42" cy="500.96" r="1.75" fill="#3232ff" fill-opacity="0.25" stroke="#3232ff" stroke-width="1.2"/>
<line x1="473.14" y1="502.47" x2="473.14" y2="477.39" stroke="#3232ff" stroke-width="0.95" opacity="0.55"/>
<line x1="471.24" y1="477.39" x2="475.04" y2="477.39" stroke="#3232ff" stroke-width="0.95" opacity="0.55"/>
<line x1="471.24" y1="502.47" x2="475.04" y2="502.47" stroke="#3232ff" stroke-width="0.95" opacity="0.55"/>
<circle cx="473.14" cy="489.93" r="1.75" fill="#3232ff" fill-opacity="0.25" stroke="#3232ff" stroke-width="1.2"/>
<line x1="483.86" y1="491.94" x2="483.86" y2="474.88" stroke="#3232ff" stroke-width="0.95" opacity="0.55"/>
<line x1="481.96" y1="474.88" x2="485.76" y2="474.88" stroke="#3232ff" stroke-width="0.95" opacity="0.55"/>
<line x1="481.96" y1="491.94" x2="485.76" y2="491.94" stroke="#3232ff" stroke-width="0.95" opacity="0.55"/>
<circle cx="483.86" cy="483.41" r="1.75" fill="#3232ff" fill-opacity="0.25" stroke="#3232ff" stroke-width="1.2"/>
<line x1="498.15" y1="483.41" x2="498.15" y2="467.36" stroke="#3232ff" stroke-width="0.95" opacity="0.55"/>
<line x1="496.25" y1="467.36" x2="500.05" y2="467.36" stroke="#3232ff" stroke-width="0.95" opacity="0.55"/>
<line x1="496.25" y1="483.41" x2="500.05" y2="483.41" stroke="#3232ff" stroke-width="0.95" opacity="0.55"/>
<circle cx="498.15" cy="475.39" r="1.75" fill="#3232ff" fill-opacity="0.25" stroke="#3232ff" stroke-width="1.2"/>
<line x1="394.40" y1="437.30" x2="405.40" y2="437.30" stroke="#3232ff" stroke-width="1.3" />
<circle cx="399.90" cy="437.30" r="1.75" fill="#3232ff" fill-opacity="0.25" stroke="#3232ff" stroke-width="1.2"/>
<text transform="translate(411.50,440.30) scale(1,1.15)" font-size="8.4" text-anchor="start" font-weight="bold" fill="#111" >WT</text>
<line x1="394.40" y1="452.50" x2="405.40" y2="452.50" stroke="#b32a2a" stroke-width="1.3" />
<circle cx="399.90" cy="452.50" r="1.75" fill="#b32a2a" fill-opacity="0.25" stroke="#b32a2a" stroke-width="1.2"/>
<text transform="translate(411.50,455.50) scale(1,1.15)" font-size="8.4" text-anchor="start" font-weight="bold" fill="#111" >Trim47<tspan font-size="4.80" font-weight="normal" dy="-2.40">-/-</tspan></text>
<text transform="translate(430.26,522.80) scale(1,1.15)" font-size="9.2" text-anchor="middle" font-weight="bold" fill="#222" style="stroke-width:0.1px">*</text>
<text transform="translate(440.98,509.20) scale(1,1.15)" font-size="9.2" text-anchor="middle" font-weight="bold" fill="#222" style="stroke-width:0.1px">***</text>
<text transform="translate(451.70,501.30) scale(1,1.15)" font-size="9.2" text-anchor="middle" font-weight="bold" fill="#222" style="stroke-width:0.1px">***</text>
<text transform="translate(462.42,496.00) scale(1,1.15)" font-size="9.2" text-anchor="middle" font-weight="bold" fill="#222" style="stroke-width:0.1px">***</text>
<text transform="translate(473.14,478.40) scale(1,1.15)" font-size="9.2" text-anchor="middle" font-weight="bold" fill="#222" style="stroke-width:0.1px">*</text>
<polyline points="553.10,446.00 581.24,446.00 581.24,466.34 585.26,466.34 585.26,476.51 589.28,476.51 589.28,496.85 597.32,496.85 597.32,517.19 609.38,517.19 609.38,527.36 617.42,527.36 617.42,547.70 673.70,547.70" fill="none" stroke="#b32a2a" stroke-width="1.3"/>
<polyline points="553.10,446.00 601.34,446.00 601.34,456.17 605.36,456.17 605.36,476.51 617.42,476.51 617.42,486.68 621.44,486.68 621.44,507.02 625.46,507.02 625.46,517.19 633.50,517.19 633.50,537.53 673.70,537.53" fill="none" stroke="#3232ff" stroke-width="1.3"/>
<line x1="553.10" y1="446.00" x2="601.34" y2="446.00" stroke="#a4a4ff" stroke-width="1.4" />
<line x1="553.10" y1="445.50" x2="553.10" y2="548.20" stroke="#333" stroke-width="1.8" />
<line x1="552.60" y1="547.70" x2="674.20" y2="547.70" stroke="#262626" stroke-width="1.3" />
<line x1="548.90" y1="547.70" x2="553.10" y2="547.70" stroke="#262626" stroke-width="1.1" />
<text transform="translate(548.10,550.70) scale(1,1.15)" font-size="8.2" text-anchor="end" font-weight="bold" fill="#111" >0</text>
<line x1="548.90" y1="496.85" x2="553.10" y2="496.85" stroke="#262626" stroke-width="1.1" />
<text transform="translate(548.10,499.85) scale(1,1.15)" font-size="8.2" text-anchor="end" font-weight="bold" fill="#111" >50</text>
<line x1="548.90" y1="446.00" x2="553.10" y2="446.00" stroke="#262626" stroke-width="1.1" />
<text transform="translate(548.10,449.00) scale(1,1.15)" font-size="8.2" text-anchor="end" font-weight="bold" fill="#111" >100</text>
<line x1="553.10" y1="547.70" x2="553.10" y2="551.70" stroke="#262626" stroke-width="1.1" />
<text transform="translate(553.10,562.30) scale(1,1.15)" font-size="8.3" text-anchor="middle" font-weight="bold" fill="#111" >0</text>
<line x1="593.30" y1="547.70" x2="593.30" y2="551.70" stroke="#262626" stroke-width="1.1" />
<text transform="translate(593.30,562.30) scale(1,1.15)" font-size="8.3" text-anchor="middle" font-weight="bold" fill="#111" >10</text>
<line x1="633.50" y1="547.70" x2="633.50" y2="551.70" stroke="#262626" stroke-width="1.1" />
<text transform="translate(633.50,562.30) scale(1,1.15)" font-size="8.3" text-anchor="middle" font-weight="bold" fill="#111" >20</text>
<line x1="673.70" y1="547.70" x2="673.70" y2="551.70" stroke="#262626" stroke-width="1.1" />
<text transform="translate(673.70,562.30) scale(1,1.15)" font-size="8.3" text-anchor="middle" font-weight="bold" fill="#111" >30</text>
<text transform="translate(525.50,497.00) scale(1.0,1) rotate(-90)" x="0" y="3.60" font-size="10" text-anchor="middle" font-weight="bold" fill="#111">Survival rate (%)</text>
<text transform="translate(614.00,581.00) scale(1,1.15)" font-size="9.9" text-anchor="middle" font-weight="bold" fill="#111" >Days after 7.5 Gy IR</text>
<line x1="623.20" y1="446.80" x2="634.30" y2="446.80" stroke="#3232ff" stroke-width="1.3" />
<line x1="628.50" y1="445.20" x2="628.50" y2="448.40" stroke="#3232ff" stroke-width="1" />
<text transform="translate(640.30,449.80) scale(1,1.15)" font-size="8.4" text-anchor="start" font-weight="bold" fill="#111" >WT</text>
<line x1="623.20" y1="461.70" x2="634.30" y2="461.70" stroke="#b32a2a" stroke-width="1.3" />
<line x1="628.50" y1="460.10" x2="628.50" y2="463.30" stroke="#b32a2a" stroke-width="1" />
<text transform="translate(640.30,464.70) scale(1,1.15)" font-size="8.4" text-anchor="start" font-weight="bold" fill="#111" >Trim47<tspan font-size="4.80" font-weight="normal" dy="-2.40">-/-</tspan></text>
<text transform="translate(625.30,547.40) scale(1,1.15)" font-size="9" text-anchor="middle" font-weight="bold" fill="#222" >**</text>
<rect x="393.50" y="223.20" width="10.40" height="53.40" fill="#fff" stroke="#3232ff" stroke-width="1.2"/>
<line x1="398.70" y1="228.54" x2="398.70" y2="217.86" stroke="#3232ff" stroke-width="0.9" />
<line x1="396.50" y1="217.86" x2="400.90" y2="217.86" stroke="#3232ff" stroke-width="0.9" />
<line x1="396.50" y1="228.54" x2="400.90" y2="228.54" stroke="#3232ff" stroke-width="0.9" />
<circle cx="399.10" cy="212.52" r="2.0" fill="none" stroke="#3232ff" stroke-width="1.1"/>
<circle cx="396.30" cy="217.33" r="2.0" fill="none" stroke="#3232ff" stroke-width="1.1"/>
<circle cx="401.30" cy="221.60" r="2.0" fill="none" stroke="#3232ff" stroke-width="1.1"/>
<circle cx="394.90" cy="224.80" r="2.0" fill="none" stroke="#3232ff" stroke-width="1.1"/>
<circle cx="395.10" cy="228.54" r="2.0" fill="none" stroke="#3232ff" stroke-width="1.1"/>
<circle cx="398.70" cy="231.74" r="2.0" fill="none" stroke="#3232ff" stroke-width="1.1"/>
<rect x="409.00" y="244.56" width="11.00" height="32.04" fill="#fff" stroke="#b32a2a" stroke-width="1.2"/>
<line x1="414.50" y1="245.90" x2="414.50" y2="243.23" stroke="#b32a2a" stroke-width="0.9" />
<line x1="412.30" y1="243.23" x2="416.70" y2="243.23" stroke="#b32a2a" stroke-width="0.9" />
<line x1="412.30" y1="245.90" x2="416.70" y2="245.90" stroke="#b32a2a" stroke-width="0.9" />
<circle cx="418.10" cy="241.89" r="2.0" fill="none" stroke="#b32a2a" stroke-width="1.1"/>
<circle cx="417.10" cy="243.09" r="2.0" fill="none" stroke="#b32a2a" stroke-width="1.1"/>
<circle cx="412.10" cy="244.16" r="2.0" fill="none" stroke="#b32a2a" stroke-width="1.1"/>
<circle cx="410.70" cy="244.96" r="2.0" fill="none" stroke="#b32a2a" stroke-width="1.1"/>
<circle cx="414.90" cy="245.90" r="2.0" fill="none" stroke="#b32a2a" stroke-width="1.1"/>
<circle cx="410.90" cy="246.70" r="2.0" fill="none" stroke="#b32a2a" stroke-width="1.1"/>
<rect x="436.40" y="260.58" width="10.40" height="16.02" fill="#fff" stroke="#3232ff" stroke-width="1.2"/>
<line x1="441.60" y1="261.92" x2="441.60" y2="259.25" stroke="#3232ff" stroke-width="0.9" />
<line x1="439.40" y1="259.25" x2="443.80" y2="259.25" stroke="#3232ff" stroke-width="0.9" />
<line x1="439.40" y1="261.92" x2="443.80" y2="261.92" stroke="#3232ff" stroke-width="0.9" />
<circle cx="442.00" cy="257.91" r="2.0" fill="none" stroke="#3232ff" stroke-width="1.1"/>
<circle cx="444.20" cy="259.11" r="2.0" fill="none" stroke="#3232ff" stroke-width="1.1"/>
<circle cx="438.00" cy="260.18" r="2.0" fill="none" stroke="#3232ff" stroke-width="1.1"/>
<circle cx="441.60" cy="260.98" r="2.0" fill="none" stroke="#3232ff" stroke-width="1.1"/>
<circle cx="437.80" cy="261.92" r="2.0" fill="none" stroke="#3232ff" stroke-width="1.1"/>
<circle cx="439.20" cy="262.72" r="2.0" fill="none" stroke="#3232ff" stroke-width="1.1"/>
<rect x="452.30" y="271.26" width="10.70" height="5.34" fill="#fff" stroke="#b32a2a" stroke-width="1.2"/>
<line x1="457.65" y1="272.06" x2="457.65" y2="270.46" stroke="#b32a2a" stroke-width="0.9" />
<line x1="455.45" y1="270.46" x2="459.85" y2="270.46" stroke="#b32a2a" stroke-width="0.9" />
<line x1="455.45" y1="272.06" x2="459.85" y2="272.06" stroke="#b32a2a" stroke-width="0.9" />
<circle cx="454.05" cy="270.19" r="2.0" fill="none" stroke="#b32a2a" stroke-width="1.1"/>
<circle cx="458.05" cy="270.67" r="2.0" fill="none" stroke="#b32a2a" stroke-width="1.1"/>
<circle cx="460.25" cy="271.10" r="2.0" fill="none" stroke="#b32a2a" stroke-width="1.1"/>
<circle cx="453.85" cy="271.42" r="2.0" fill="none" stroke="#b32a2a" stroke-width="1.1"/>
<circle cx="457.65" cy="271.79" r="2.0" fill="none" stroke="#b32a2a" stroke-width="1.1"/>
<circle cx="461.25" cy="272.11" r="2.0" fill="none" stroke="#b32a2a" stroke-width="1.1"/>
<line x1="388.00" y1="196.00" x2="388.00" y2="277.10" stroke="#262626" stroke-width="1.2" />
<line x1="387.50" y1="276.60" x2="468.60" y2="276.60" stroke="#262626" stroke-width="1.2" />
<line x1="384.20" y1="276.60" x2="388.00" y2="276.60" stroke="#262626" stroke-width="1.1" />
<text transform="translate(383.00,279.60) scale(1,1.15)" font-size="8.2" text-anchor="end" font-weight="bold" fill="#111" >0</text>
<line x1="384.20" y1="249.90" x2="388.00" y2="249.90" stroke="#262626" stroke-width="1.1" />
<text transform="translate(383.00,252.90) scale(1,1.15)" font-size="8.2" text-anchor="end" font-weight="bold" fill="#111" >1</text>
<line x1="384.20" y1="223.20" x2="388.00" y2="223.20" stroke="#262626" stroke-width="1.1" />
<text transform="translate(383.00,226.20) scale(1,1.15)" font-size="8.2" text-anchor="end" font-weight="bold" fill="#111" >2</text>
<line x1="384.20" y1="196.50" x2="388.00" y2="196.50" stroke="#262626" stroke-width="1.1" />
<text transform="translate(383.00,199.50) scale(1,1.15)" font-size="8.2" text-anchor="end" font-weight="bold" fill="#111" >3</text>
<line x1="406.60" y1="276.60" x2="406.60" y2="279.60" stroke="#262626" stroke-width="1.1" />
<text transform="translate(406.60,289.80) scale(1,1.15)" font-size="8.4" text-anchor="middle" font-weight="bold" fill="#111" >MP</text>
<line x1="449.30" y1="276.60" x2="449.30" y2="279.60" stroke="#262626" stroke-width="1.1" />
<text transform="translate(449.30,289.80) scale(1,1.15)" font-size="8.4" text-anchor="middle" font-weight="bold" fill="#111" >LSK</text>
<text transform="translate(368.60,236.00) scale(1.0,1) rotate(-90)" x="0" y="3.56" font-size="9.9" text-anchor="middle" font-weight="bold" fill="#111">% within BM cells</text>
<text transform="translate(430.00,189.60) scale(1,1.15)" font-size="9.9" text-anchor="middle" font-weight="bold" fill="#111" >5-FU</text>
<circle cx="460.50" cy="198.00" r="1.9" fill="none" stroke="#3232ff" stroke-width="1.2"/>
<circle cx="460.50" cy="212.10" r="1.9" fill="none" stroke="#b32a2a" stroke-width="1.2"/>
<text transform="translate(465.00,201.00) scale(1,1.15)" font-size="8.4" text-anchor="start" font-weight="bold" fill="#111" >WT</text>
<text transform="translate(465.00,215.10) scale(1,1.15)" font-size="8.4" text-anchor="start" font-weight="bold" fill="#111" >Trim47<tspan font-size="4.80" font-weight="normal" dy="-2.40">-/-</tspan></text>
<text transform="translate(414.50,239.90) scale(1,1.15)" font-size="8.5" text-anchor="middle" font-weight="bold" fill="#222" style="stroke-width:0">***</text>
<text transform="translate(457.60,267.90) scale(1,1.15)" font-size="8.5" text-anchor="middle" font-weight="bold" fill="#222" style="stroke-width:0">***</text>
<rect x="393.50" y="337.17" width="10.40" height="52.13" fill="#fff" stroke="#3232ff" stroke-width="1.2"/>
<line x1="398.70" y1="345.19" x2="398.70" y2="329.15" stroke="#3232ff" stroke-width="0.9" />
<line x1="396.50" y1="329.15" x2="400.90" y2="329.15" stroke="#3232ff" stroke-width="0.9" />
<line x1="396.50" y1="345.19" x2="400.90" y2="345.19" stroke="#3232ff" stroke-width="0.9" />
<circle cx="395.10" cy="327.15" r="2.0" fill="none" stroke="#3232ff" stroke-width="1.1"/>
<circle cx="398.70" cy="331.66" r="2.0" fill="none" stroke="#3232ff" stroke-width="1.1"/>
<circle cx="401.30" cy="335.67" r="2.0" fill="none" stroke="#3232ff" stroke-width="1.1"/>
<circle cx="396.30" cy="338.67" r="2.0" fill="none" stroke="#3232ff" stroke-width="1.1"/>
<circle cx="402.30" cy="342.18" r="2.0" fill="none" stroke="#3232ff" stroke-width="1.1"/>
<circle cx="394.90" cy="345.19" r="2.0" fill="none" stroke="#3232ff" stroke-width="1.1"/>
<rect x="409.00" y="366.24" width="11.00" height="23.06" fill="#fff" stroke="#b32a2a" stroke-width="1.2"/>
<line x1="414.50" y1="369.25" x2="414.50" y2="363.24" stroke="#b32a2a" stroke-width="0.9" />
<line x1="412.30" y1="363.24" x2="416.70" y2="363.24" stroke="#b32a2a" stroke-width="0.9" />
<line x1="412.30" y1="369.25" x2="416.70" y2="369.25" stroke="#b32a2a" stroke-width="0.9" />
<circle cx="410.90" cy="362.23" r="2.0" fill="none" stroke="#b32a2a" stroke-width="1.1"/>
<circle cx="418.10" cy="364.04" r="2.0" fill="none" stroke="#b32a2a" stroke-width="1.1"/>
<circle cx="414.90" cy="365.64" r="2.0" fill="none" stroke="#b32a2a" stroke-width="1.1"/>
<circle cx="412.10" cy="366.84" r="2.0" fill="none" stroke="#b32a2a" stroke-width="1.1"/>
<circle cx="414.50" cy="368.25" r="2.0" fill="none" stroke="#b32a2a" stroke-width="1.1"/>
<circle cx="410.70" cy="369.45" r="2.0" fill="none" stroke="#b32a2a" stroke-width="1.1"/>
<rect x="436.40" y="374.26" width="10.40" height="15.04" fill="#fff" stroke="#3232ff" stroke-width="1.2"/>
<line x1="441.60" y1="376.27" x2="441.60" y2="372.26" stroke="#3232ff" stroke-width="0.9" />
<line x1="439.40" y1="372.26" x2="443.80" y2="372.26" stroke="#3232ff" stroke-width="0.9" />
<line x1="439.40" y1="376.27" x2="443.80" y2="376.27" stroke="#3232ff" stroke-width="0.9" />
<circle cx="445.20" cy="371.25" r="2.0" fill="none" stroke="#3232ff" stroke-width="1.1"/>
<circle cx="437.80" cy="372.61" r="2.0" fill="none" stroke="#3232ff" stroke-width="1.1"/>
<circle cx="441.60" cy="373.81" r="2.0" fill="none" stroke="#3232ff" stroke-width="1.1"/>
<circle cx="444.20" cy="374.71" r="2.0" fill="none" stroke="#3232ff" stroke-width="1.1"/>
<circle cx="442.00" cy="375.77" r="2.0" fill="none" stroke="#3232ff" stroke-width="1.1"/>
<circle cx="438.00" cy="376.67" r="2.0" fill="none" stroke="#3232ff" stroke-width="1.1"/>
<rect x="452.30" y="385.79" width="10.70" height="3.51" fill="#fff" stroke="#b32a2a" stroke-width="1.2"/>
<line x1="457.65" y1="386.79" x2="457.65" y2="384.79" stroke="#b32a2a" stroke-width="0.9" />
<line x1="455.45" y1="384.79" x2="459.85" y2="384.79" stroke="#b32a2a" stroke-width="0.9" />
<line x1="455.45" y1="386.79" x2="459.85" y2="386.79" stroke="#b32a2a" stroke-width="0.9" />
<circle cx="461.25" cy="384.29" r="2.0" fill="none" stroke="#b32a2a" stroke-width="1.1"/>
<circle cx="457.65" cy="384.96" r="2.0" fill="none" stroke="#b32a2a" stroke-width="1.1"/>
<circle cx="453.85" cy="385.57" r="2.0" fill="none" stroke="#b32a2a" stroke-width="1.1"/>
<circle cx="454.05" cy="386.02" r="2.0" fill="none" stroke="#b32a2a" stroke-width="1.1"/>
<circle cx="458.05" cy="386.54" r="2.0" fill="none" stroke="#b32a2a" stroke-width="1.1"/>
<circle cx="455.25" cy="386.99" r="2.0" fill="none" stroke="#b32a2a" stroke-width="1.1"/>
<line x1="388.00" y1="308.60" x2="388.00" y2="389.80" stroke="#262626" stroke-width="1.2" />
<line x1="387.50" y1="389.30" x2="468.60" y2="389.30" stroke="#262626" stroke-width="1.2" />
<line x1="384.20" y1="389.30" x2="388.00" y2="389.30" stroke="#262626" stroke-width="1.1" />
<text transform="translate(383.00,392.30) scale(1,1.15)" font-size="8.2" text-anchor="end" font-weight="bold" fill="#111" >0</text>
<line x1="384.20" y1="369.25" x2="388.00" y2="369.25" stroke="#262626" stroke-width="1.1" />
<text transform="translate(383.00,372.25) scale(1,1.15)" font-size="8.2" text-anchor="end" font-weight="bold" fill="#111" >2</text>
<line x1="384.20" y1="349.20" x2="388.00" y2="349.20" stroke="#262626" stroke-width="1.1" />
<text transform="translate(383.00,352.20) scale(1,1.15)" font-size="8.2" text-anchor="end" font-weight="bold" fill="#111" >4</text>
<line x1="384.20" y1="329.15" x2="388.00" y2="329.15" stroke="#262626" stroke-width="1.1" />
<text transform="translate(383.00,332.15) scale(1,1.15)" font-size="8.2" text-anchor="end" font-weight="bold" fill="#111" >6</text>
<line x1="384.20" y1="309.10" x2="388.00" y2="309.10" stroke="#262626" stroke-width="1.1" />
<text transform="translate(383.00,312.10) scale(1,1.15)" font-size="8.2" text-anchor="end" font-weight="bold" fill="#111" >8</text>
<line x1="406.60" y1="389.30" x2="406.60" y2="392.30" stroke="#262626" stroke-width="1.1" />
<text transform="translate(406.60,402.70) scale(1,1.15)" font-size="8.4" text-anchor="middle" font-weight="bold" fill="#111" >MP</text>
<line x1="449.30" y1="389.30" x2="449.30" y2="392.30" stroke="#262626" stroke-width="1.1" />
<text transform="translate(449.30,402.70) scale(1,1.15)" font-size="8.4" text-anchor="middle" font-weight="bold" fill="#111" >LSK</text>
<text transform="translate(369.90,348.00) scale(1.0,1) rotate(-90)" x="0" y="3.56" font-size="9.9" text-anchor="middle" font-weight="bold" fill="#111">Cell number (×10<tspan font-size="6" dy="-3.5">5</tspan><tspan dy="3.5">)</tspan></text>
<circle cx="461.00" cy="309.60" r="1.9" fill="none" stroke="#3232ff" stroke-width="1.2"/>
<circle cx="461.00" cy="324.50" r="1.9" fill="none" stroke="#b32a2a" stroke-width="1.2"/>
<text transform="translate(465.50,312.60) scale(1,1.15)" font-size="8.4" text-anchor="start" font-weight="bold" fill="#111" >WT</text>
<text transform="translate(465.50,327.50) scale(1,1.15)" font-size="8.4" text-anchor="start" font-weight="bold" fill="#111" >Trim47<tspan font-size="4.80" font-weight="normal" dy="-2.40">-/-</tspan></text>
<text transform="translate(414.50,359.70) scale(1,1.15)" font-size="8.5" text-anchor="middle" font-weight="bold" fill="#222" style="stroke-width:0">***</text>
<text transform="translate(457.60,381.70) scale(1,1.15)" font-size="8.5" text-anchor="middle" font-weight="bold" fill="#222" style="stroke-width:0">***</text>
<rect x="542.80" y="248.89" width="8.20" height="28.21" fill="#fff" stroke="#3232ff" stroke-width="1.2"/>
<line x1="546.90" y1="252.92" x2="546.90" y2="244.86" stroke="#3232ff" stroke-width="0.9" />
<line x1="544.70" y1="244.86" x2="549.10" y2="244.86" stroke="#3232ff" stroke-width="0.9" />
<line x1="544.70" y1="252.92" x2="549.10" y2="252.92" stroke="#3232ff" stroke-width="0.9" />
<circle cx="543.30" cy="240.83" r="2.0" fill="none" stroke="#3232ff" stroke-width="1.1"/>
<circle cx="546.90" cy="244.46" r="2.0" fill="none" stroke="#3232ff" stroke-width="1.1"/>
<circle cx="550.50" cy="247.68" r="2.0" fill="none" stroke="#3232ff" stroke-width="1.1"/>
<circle cx="547.30" cy="250.10" r="2.0" fill="none" stroke="#3232ff" stroke-width="1.1"/>
<circle cx="543.10" cy="252.92" r="2.0" fill="none" stroke="#3232ff" stroke-width="1.1"/>
<circle cx="549.50" cy="255.34" r="2.0" fill="none" stroke="#3232ff" stroke-width="1.1"/>
<rect x="554.70" y="267.03" width="7.90" height="10.07" fill="#fff" stroke="#b32a2a" stroke-width="1.2"/>
<line x1="558.65" y1="269.04" x2="558.65" y2="265.01" stroke="#b32a2a" stroke-width="0.9" />
<line x1="556.45" y1="265.01" x2="560.85" y2="265.01" stroke="#b32a2a" stroke-width="0.9" />
<line x1="556.45" y1="269.04" x2="560.85" y2="269.04" stroke="#b32a2a" stroke-width="0.9" />
<circle cx="554.85" cy="264.00" r="2.0" fill="none" stroke="#b32a2a" stroke-width="1.1"/>
<circle cx="555.05" cy="265.36" r="2.0" fill="none" stroke="#b32a2a" stroke-width="1.1"/>
<circle cx="558.65" cy="266.57" r="2.0" fill="none" stroke="#b32a2a" stroke-width="1.1"/>
<circle cx="559.05" cy="267.48" r="2.0" fill="none" stroke="#b32a2a" stroke-width="1.1"/>
<circle cx="561.25" cy="268.54" r="2.0" fill="none" stroke="#b32a2a" stroke-width="1.1"/>
<circle cx="562.25" cy="269.44" r="2.0" fill="none" stroke="#b32a2a" stroke-width="1.1"/>
<rect x="574.00" y="215.64" width="8.00" height="61.46" fill="#fff" stroke="#3232ff" stroke-width="1.2"/>
<line x1="578.00" y1="221.69" x2="578.00" y2="209.60" stroke="#3232ff" stroke-width="0.9" />
<line x1="575.80" y1="209.60" x2="580.20" y2="209.60" stroke="#3232ff" stroke-width="0.9" />
<line x1="575.80" y1="221.69" x2="580.20" y2="221.69" stroke="#3232ff" stroke-width="0.9" />
<circle cx="575.60" cy="205.57" r="2.0" fill="none" stroke="#3232ff" stroke-width="1.1"/>
<circle cx="578.00" cy="210.10" r="2.0" fill="none" stroke="#3232ff" stroke-width="1.1"/>
<circle cx="578.40" cy="214.13" r="2.0" fill="none" stroke="#3232ff" stroke-width="1.1"/>
<circle cx="580.60" cy="217.15" r="2.0" fill="none" stroke="#3232ff" stroke-width="1.1"/>
<circle cx="574.40" cy="220.68" r="2.0" fill="none" stroke="#3232ff" stroke-width="1.1"/>
<circle cx="574.20" cy="223.70" r="2.0" fill="none" stroke="#3232ff" stroke-width="1.1"/>
<rect x="585.70" y="256.95" width="8.20" height="20.15" fill="#fff" stroke="#b32a2a" stroke-width="1.2"/>
<line x1="589.80" y1="258.97" x2="589.80" y2="254.94" stroke="#b32a2a" stroke-width="0.9" />
<line x1="587.60" y1="254.94" x2="592.00" y2="254.94" stroke="#b32a2a" stroke-width="0.9" />
<line x1="587.60" y1="258.97" x2="592.00" y2="258.97" stroke="#b32a2a" stroke-width="0.9" />
<circle cx="586.00" cy="253.93" r="2.0" fill="none" stroke="#b32a2a" stroke-width="1.1"/>
<circle cx="593.40" cy="255.29" r="2.0" fill="none" stroke="#b32a2a" stroke-width="1.1"/>
<circle cx="587.40" cy="256.50" r="2.0" fill="none" stroke="#b32a2a" stroke-width="1.1"/>
<circle cx="586.20" cy="257.40" r="2.0" fill="none" stroke="#b32a2a" stroke-width="1.1"/>
<circle cx="590.20" cy="258.46" r="2.0" fill="none" stroke="#b32a2a" stroke-width="1.1"/>
<circle cx="592.40" cy="259.37" r="2.0" fill="none" stroke="#b32a2a" stroke-width="1.1"/>
<rect x="605.60" y="250.91" width="7.90" height="26.19" fill="#fff" stroke="#3232ff" stroke-width="1.2"/>
<line x1="609.55" y1="256.95" x2="609.55" y2="244.86" stroke="#3232ff" stroke-width="0.9" />
<line x1="607.35" y1="244.86" x2="611.75" y2="244.86" stroke="#3232ff" stroke-width="0.9" />
<line x1="607.35" y1="256.95" x2="611.75" y2="256.95" stroke="#3232ff" stroke-width="0.9" />
<circle cx="605.75" cy="240.83" r="2.0" fill="none" stroke="#3232ff" stroke-width="1.1"/>
<circle cx="613.15" cy="245.36" r="2.0" fill="none" stroke="#3232ff" stroke-width="1.1"/>
<circle cx="607.15" cy="249.39" r="2.0" fill="none" stroke="#3232ff" stroke-width="1.1"/>
<circle cx="609.95" cy="252.42" r="2.0" fill="none" stroke="#3232ff" stroke-width="1.1"/>
<circle cx="612.15" cy="255.94" r="2.0" fill="none" stroke="#3232ff" stroke-width="1.1"/>
<circle cx="609.55" cy="258.97" r="2.0" fill="none" stroke="#3232ff" stroke-width="1.1"/>
<rect x="617.20" y="267.03" width="8.20" height="10.07" fill="#fff" stroke="#b32a2a" stroke-width="1.2"/>
<line x1="621.30" y1="268.03" x2="621.30" y2="266.02" stroke="#b32a2a" stroke-width="0.9" />
<line x1="619.10" y1="266.02" x2="623.50" y2="266.02" stroke="#b32a2a" stroke-width="0.9" />
<line x1="619.10" y1="268.03" x2="623.50" y2="268.03" stroke="#b32a2a" stroke-width="0.9" />
<circle cx="623.90" cy="265.01" r="2.0" fill="none" stroke="#b32a2a" stroke-width="1.1"/>
<circle cx="621.30" cy="265.92" r="2.0" fill="none" stroke="#b32a2a" stroke-width="1.1"/>
<circle cx="617.70" cy="266.72" r="2.0" fill="none" stroke="#b32a2a" stroke-width="1.1"/>
<circle cx="617.50" cy="267.33" r="2.0" fill="none" stroke="#b32a2a" stroke-width="1.1"/>
<circle cx="621.70" cy="268.03" r="2.0" fill="none" stroke="#b32a2a" stroke-width="1.1"/>
<circle cx="618.90" cy="268.64" r="2.0" fill="none" stroke="#b32a2a" stroke-width="1.1"/>
<rect x="637.00" y="261.99" width="7.80" height="15.11" fill="#fff" stroke="#3232ff" stroke-width="1.2"/>
<line x1="640.90" y1="264.00" x2="640.90" y2="259.97" stroke="#3232ff" stroke-width="0.9" />
<line x1="638.70" y1="259.97" x2="643.10" y2="259.97" stroke="#3232ff" stroke-width="0.9" />
<line x1="638.70" y1="264.00" x2="643.10" y2="264.00" stroke="#3232ff" stroke-width="0.9" />
<circle cx="641.30" cy="258.97" r="2.0" fill="none" stroke="#3232ff" stroke-width="1.1"/>
<circle cx="640.90" cy="260.33" r="2.0" fill="none" stroke="#3232ff" stroke-width="1.1"/>
<circle cx="637.30" cy="261.53" r="2.0" fill="none" stroke="#3232ff" stroke-width="1.1"/>
<circle cx="637.10" cy="262.44" r="2.0" fill="none" stroke="#3232ff" stroke-width="1.1"/>
<circle cx="644.50" cy="263.50" r="2.0" fill="none" stroke="#3232ff" stroke-width="1.1"/>
<circle cx="638.50" cy="264.41" r="2.0" fill="none" stroke="#3232ff" stroke-width="1.1"/>
<rect x="648.30" y="271.06" width="8.10" height="6.05" fill="#fff" stroke="#b32a2a" stroke-width="1.2"/>
<line x1="652.35" y1="272.06" x2="652.35" y2="270.05" stroke="#b32a2a" stroke-width="0.9" />
<line x1="650.15" y1="270.05" x2="654.55" y2="270.05" stroke="#b32a2a" stroke-width="0.9" />
<line x1="650.15" y1="272.06" x2="654.55" y2="272.06" stroke="#b32a2a" stroke-width="0.9" />
<circle cx="648.55" cy="269.85" r="2.0" fill="none" stroke="#b32a2a" stroke-width="1.1"/>
<circle cx="654.95" cy="270.39" r="2.0" fill="none" stroke="#b32a2a" stroke-width="1.1"/>
<circle cx="652.75" cy="270.87" r="2.0" fill="none" stroke="#b32a2a" stroke-width="1.1"/>
<circle cx="655.95" cy="271.24" r="2.0" fill="none" stroke="#b32a2a" stroke-width="1.1"/>
<circle cx="649.95" cy="271.66" r="2.0" fill="none" stroke="#b32a2a" stroke-width="1.1"/>
<circle cx="652.35" cy="272.02" r="2.0" fill="none" stroke="#b32a2a" stroke-width="1.1"/>
<line x1="539.10" y1="196.00" x2="539.10" y2="277.60" stroke="#262626" stroke-width="1.2" />
<line x1="538.60" y1="277.10" x2="660.20" y2="277.10" stroke="#262626" stroke-width="1.2" />
<line x1="535.30" y1="277.10" x2="539.10" y2="277.10" stroke="#262626" stroke-width="1.1" />
<text transform="translate(534.10,280.10) scale(1,1.15)" font-size="8.2" text-anchor="end" font-weight="bold" fill="#111" >0.0</text>
<line x1="535.30" y1="256.95" x2="539.10" y2="256.95" stroke="#262626" stroke-width="1.1" />
<text transform="translate(534.10,259.95) scale(1,1.15)" font-size="8.2" text-anchor="end" font-weight="bold" fill="#111" >0.1</text>
<line x1="535.30" y1="236.80" x2="539.10" y2="236.80" stroke="#262626" stroke-width="1.1" />
<text transform="translate(534.10,239.80) scale(1,1.15)" font-size="8.2" text-anchor="end" font-weight="bold" fill="#111" >0.2</text>
<line x1="535.30" y1="216.65" x2="539.10" y2="216.65" stroke="#262626" stroke-width="1.1" />
<text transform="translate(534.10,219.65) scale(1,1.15)" font-size="8.2" text-anchor="end" font-weight="bold" fill="#111" >0.3</text>
<line x1="535.30" y1="196.50" x2="539.10" y2="196.50" stroke="#262626" stroke-width="1.1" />
<text transform="translate(534.10,199.50) scale(1,1.15)" font-size="8.2" text-anchor="end" font-weight="bold" fill="#111" >0.4</text>
<line x1="552.80" y1="277.10" x2="552.80" y2="280.10" stroke="#262626" stroke-width="1.1" />
<text transform="translate(552.20,290.90) scale(1,1.15)" font-size="8.4" text-anchor="middle" font-weight="bold" fill="#111" >LT-HSC</text>
<line x1="583.90" y1="277.10" x2="583.90" y2="280.10" stroke="#262626" stroke-width="1.1" />
<text transform="translate(587.30,290.90) scale(1,1.15)" font-size="8.4" text-anchor="middle" font-weight="bold" fill="#111" >ST-HSC</text>
<line x1="615.40" y1="277.10" x2="615.40" y2="280.10" stroke="#262626" stroke-width="1.1" />
<text transform="translate(615.30,290.90) scale(1,1.15)" font-size="8.4" text-anchor="middle" font-weight="bold" fill="#111" >MPP</text>
<line x1="646.60" y1="277.10" x2="646.60" y2="280.10" stroke="#262626" stroke-width="1.1" />
<text transform="translate(649.20,290.90) scale(1,1.15)" font-size="8.4" text-anchor="middle" font-weight="bold" fill="#111" >SLAM-HSC</text>
<text transform="translate(512.90,235.70) scale(1.0,1) rotate(-90)" x="0" y="3.56" font-size="9.9" text-anchor="middle" font-weight="bold" fill="#111">% within BM cells</text>
<text transform="translate(599.90,189.60) scale(1,1.15)" font-size="9.9" text-anchor="middle" font-weight="bold" fill="#111" >5-FU</text>
<circle cx="634.10" cy="198.00" r="1.9" fill="none" stroke="#3232ff" stroke-width="1.2"/>
<circle cx="634.10" cy="212.10" r="1.9" fill="none" stroke="#b32a2a" stroke-width="1.2"/>
<text transform="translate(638.60,201.00) scale(1,1.15)" font-size="8.4" text-anchor="start" font-weight="bold" fill="#111" >WT</text>
<text transform="translate(638.60,215.10) scale(1,1.15)" font-size="8.4" text-anchor="start" font-weight="bold" fill="#111" >Trim47<tspan font-size="4.80" font-weight="normal" dy="-2.40">-/-</tspan></text>
<text transform="translate(558.60,262.20) scale(1,1.15)" font-size="8.5" text-anchor="middle" font-weight="bold" fill="#222" style="stroke-width:0">***</text>
<text transform="translate(589.80,251.50) scale(1,1.15)" font-size="8.5" text-anchor="middle" font-weight="bold" fill="#222" style="stroke-width:0">***</text>
<text transform="translate(621.30,263.00) scale(1,1.15)" font-size="8.5" text-anchor="middle" font-weight="bold" fill="#222" style="stroke-width:0">***</text>
<text transform="translate(652.30,269.20) scale(1,1.15)" font-size="8.5" text-anchor="middle" font-weight="bold" fill="#222" style="stroke-width:0">***</text>
<rect x="542.80" y="371.38" width="8.20" height="18.92" fill="#fff" stroke="#3232ff" stroke-width="1.2"/>
<line x1="546.90" y1="374.62" x2="546.90" y2="368.13" stroke="#3232ff" stroke-width="0.9" />
<line x1="544.70" y1="368.13" x2="549.10" y2="368.13" stroke="#3232ff" stroke-width="0.9" />
<line x1="544.70" y1="374.62" x2="549.10" y2="374.62" stroke="#3232ff" stroke-width="0.9" />
<circle cx="549.50" cy="364.89" r="2.0" fill="none" stroke="#3232ff" stroke-width="1.1"/>
<circle cx="546.90" cy="367.81" r="2.0" fill="none" stroke="#3232ff" stroke-width="1.1"/>
<circle cx="543.10" cy="370.40" r="2.0" fill="none" stroke="#3232ff" stroke-width="1.1"/>
<circle cx="550.50" cy="372.35" r="2.0" fill="none" stroke="#3232ff" stroke-width="1.1"/>
<circle cx="547.30" cy="374.62" r="2.0" fill="none" stroke="#3232ff" stroke-width="1.1"/>
<circle cx="544.50" cy="376.57" r="2.0" fill="none" stroke="#3232ff" stroke-width="1.1"/>
<rect x="554.70" y="385.43" width="7.90" height="4.87" fill="#fff" stroke="#b32a2a" stroke-width="1.2"/>
<line x1="558.65" y1="386.52" x2="558.65" y2="384.35" stroke="#b32a2a" stroke-width="0.9" />
<line x1="556.45" y1="384.35" x2="560.85" y2="384.35" stroke="#b32a2a" stroke-width="0.9" />
<line x1="556.45" y1="386.52" x2="560.85" y2="386.52" stroke="#b32a2a" stroke-width="0.9" />
<circle cx="559.05" cy="383.81" r="2.0" fill="none" stroke="#b32a2a" stroke-width="1.1"/>
<circle cx="562.25" cy="384.54" r="2.0" fill="none" stroke="#b32a2a" stroke-width="1.1"/>
<circle cx="561.25" cy="385.19" r="2.0" fill="none" stroke="#b32a2a" stroke-width="1.1"/>
<circle cx="556.25" cy="385.68" r="2.0" fill="none" stroke="#b32a2a" stroke-width="1.1"/>
<circle cx="558.65" cy="386.25" r="2.0" fill="none" stroke="#b32a2a" stroke-width="1.1"/>
<circle cx="554.85" cy="386.73" r="2.0" fill="none" stroke="#b32a2a" stroke-width="1.1"/>
<rect x="574.00" y="349.75" width="8.00" height="40.55" fill="#fff" stroke="#3232ff" stroke-width="1.2"/>
<line x1="578.00" y1="356.24" x2="578.00" y2="343.26" stroke="#3232ff" stroke-width="0.9" />
<line x1="575.80" y1="343.26" x2="580.20" y2="343.26" stroke="#3232ff" stroke-width="0.9" />
<line x1="575.80" y1="356.24" x2="580.20" y2="356.24" stroke="#3232ff" stroke-width="0.9" />
<circle cx="575.60" cy="338.94" r="2.0" fill="none" stroke="#3232ff" stroke-width="1.1"/>
<circle cx="574.40" cy="343.80" r="2.0" fill="none" stroke="#3232ff" stroke-width="1.1"/>
<circle cx="578.40" cy="348.13" r="2.0" fill="none" stroke="#3232ff" stroke-width="1.1"/>
<circle cx="580.60" cy="351.37" r="2.0" fill="none" stroke="#3232ff" stroke-width="1.1"/>
<circle cx="578.00" cy="355.16" r="2.0" fill="none" stroke="#3232ff" stroke-width="1.1"/>
<circle cx="581.60" cy="358.40" r="2.0" fill="none" stroke="#3232ff" stroke-width="1.1"/>
<rect x="585.70" y="380.03" width="8.20" height="10.27" fill="#fff" stroke="#b32a2a" stroke-width="1.2"/>
<line x1="589.80" y1="381.65" x2="589.80" y2="378.41" stroke="#b32a2a" stroke-width="0.9" />
<line x1="587.60" y1="378.41" x2="592.00" y2="378.41" stroke="#b32a2a" stroke-width="0.9" />
<line x1="587.60" y1="381.65" x2="592.00" y2="381.65" stroke="#b32a2a" stroke-width="0.9" />
<circle cx="586.00" cy="376.78" r="2.0" fill="none" stroke="#b32a2a" stroke-width="1.1"/>
<circle cx="593.40" cy="378.24" r="2.0" fill="none" stroke="#b32a2a" stroke-width="1.1"/>
<circle cx="589.80" cy="379.54" r="2.0" fill="none" stroke="#b32a2a" stroke-width="1.1"/>
<circle cx="586.20" cy="380.51" r="2.0" fill="none" stroke="#b32a2a" stroke-width="1.1"/>
<circle cx="592.40" cy="381.65" r="2.0" fill="none" stroke="#b32a2a" stroke-width="1.1"/>
<circle cx="587.40" cy="382.62" r="2.0" fill="none" stroke="#b32a2a" stroke-width="1.1"/>
<rect x="605.60" y="371.38" width="7.90" height="18.92" fill="#fff" stroke="#3232ff" stroke-width="1.2"/>
<line x1="609.55" y1="374.62" x2="609.55" y2="368.13" stroke="#3232ff" stroke-width="0.9" />
<line x1="607.35" y1="368.13" x2="611.75" y2="368.13" stroke="#3232ff" stroke-width="0.9" />
<line x1="607.35" y1="374.62" x2="611.75" y2="374.62" stroke="#3232ff" stroke-width="0.9" />
<circle cx="609.95" cy="364.89" r="2.0" fill="none" stroke="#3232ff" stroke-width="1.1"/>
<circle cx="612.15" cy="367.81" r="2.0" fill="none" stroke="#3232ff" stroke-width="1.1"/>
<circle cx="605.75" cy="370.40" r="2.0" fill="none" stroke="#3232ff" stroke-width="1.1"/>
<circle cx="613.15" cy="372.35" r="2.0" fill="none" stroke="#3232ff" stroke-width="1.1"/>
<circle cx="605.95" cy="374.62" r="2.0" fill="none" stroke="#3232ff" stroke-width="1.1"/>
<circle cx="609.55" cy="376.57" r="2.0" fill="none" stroke="#3232ff" stroke-width="1.1"/>
<rect x="617.20" y="384.89" width="8.20" height="5.41" fill="#fff" stroke="#b32a2a" stroke-width="1.2"/>
<line x1="621.30" y1="385.97" x2="621.30" y2="383.81" stroke="#b32a2a" stroke-width="0.9" />
<line x1="619.10" y1="383.81" x2="623.50" y2="383.81" stroke="#b32a2a" stroke-width="0.9" />
<line x1="619.10" y1="385.97" x2="623.50" y2="385.97" stroke="#b32a2a" stroke-width="0.9" />
<circle cx="623.90" cy="383.27" r="2.0" fill="none" stroke="#b32a2a" stroke-width="1.1"/>
<circle cx="621.30" cy="384.00" r="2.0" fill="none" stroke="#b32a2a" stroke-width="1.1"/>
<circle cx="624.90" cy="384.65" r="2.0" fill="none" stroke="#b32a2a" stroke-width="1.1"/>
<circle cx="618.90" cy="385.14" r="2.0" fill="none" stroke="#b32a2a" stroke-width="1.1"/>
<circle cx="617.50" cy="385.70" r="2.0" fill="none" stroke="#b32a2a" stroke-width="1.1"/>
<circle cx="617.70" cy="386.19" r="2.0" fill="none" stroke="#b32a2a" stroke-width="1.1"/>
<rect x="637.00" y="380.03" width="7.80" height="10.27" fill="#fff" stroke="#3232ff" stroke-width="1.2"/>
<line x1="640.90" y1="382.19" x2="640.90" y2="377.86" stroke="#3232ff" stroke-width="0.9" />
<line x1="638.70" y1="377.86" x2="643.10" y2="377.86" stroke="#3232ff" stroke-width="0.9" />
<line x1="638.70" y1="382.19" x2="643.10" y2="382.19" stroke="#3232ff" stroke-width="0.9" />
<circle cx="637.30" cy="376.78" r="2.0" fill="none" stroke="#3232ff" stroke-width="1.1"/>
<circle cx="637.10" cy="378.24" r="2.0" fill="none" stroke="#3232ff" stroke-width="1.1"/>
<circle cx="640.90" cy="379.54" r="2.0" fill="none" stroke="#3232ff" stroke-width="1.1"/>
<circle cx="643.50" cy="380.51" r="2.0" fill="none" stroke="#3232ff" stroke-width="1.1"/>
<circle cx="644.50" cy="381.65" r="2.0" fill="none" stroke="#3232ff" stroke-width="1.1"/>
<circle cx="638.50" cy="382.62" r="2.0" fill="none" stroke="#3232ff" stroke-width="1.1"/>
<rect x="648.30" y="387.60" width="8.10" height="2.70" fill="#fff" stroke="#b32a2a" stroke-width="1.2"/>
<line x1="652.35" y1="388.14" x2="652.35" y2="387.06" stroke="#b32a2a" stroke-width="0.9" />
<line x1="650.15" y1="387.06" x2="654.55" y2="387.06" stroke="#b32a2a" stroke-width="0.9" />
<line x1="650.15" y1="388.14" x2="654.55" y2="388.14" stroke="#b32a2a" stroke-width="0.9" />
<circle cx="649.95" cy="386.52" r="2.0" fill="none" stroke="#b32a2a" stroke-width="1.1"/>
<circle cx="655.95" cy="387.00" r="2.0" fill="none" stroke="#b32a2a" stroke-width="1.1"/>
<circle cx="648.55" cy="387.43" r="2.0" fill="none" stroke="#b32a2a" stroke-width="1.1"/>
<circle cx="654.95" cy="387.76" r="2.0" fill="none" stroke="#b32a2a" stroke-width="1.1"/>
<circle cx="648.75" cy="388.14" r="2.0" fill="none" stroke="#b32a2a" stroke-width="1.1"/>
<circle cx="652.75" cy="388.46" r="2.0" fill="none" stroke="#b32a2a" stroke-width="1.1"/>
<line x1="538.60" y1="308.70" x2="538.60" y2="390.80" stroke="#262626" stroke-width="1.2" />
<line x1="538.10" y1="390.30" x2="660.20" y2="390.30" stroke="#262626" stroke-width="1.2" />
<line x1="534.80" y1="390.30" x2="538.60" y2="390.30" stroke="#262626" stroke-width="1.1" />
<text transform="translate(533.60,393.30) scale(1,1.15)" font-size="8.2" text-anchor="end" font-weight="bold" fill="#111" >0</text>
<line x1="534.80" y1="363.27" x2="538.60" y2="363.27" stroke="#262626" stroke-width="1.1" />
<text transform="translate(533.60,366.27) scale(1,1.15)" font-size="8.2" text-anchor="end" font-weight="bold" fill="#111" >5</text>
<line x1="534.80" y1="336.23" x2="538.60" y2="336.23" stroke="#262626" stroke-width="1.1" />
<text transform="translate(533.60,339.23) scale(1,1.15)" font-size="8.2" text-anchor="end" font-weight="bold" fill="#111" >10</text>
<line x1="534.80" y1="309.20" x2="538.60" y2="309.20" stroke="#262626" stroke-width="1.1" />
<text transform="translate(533.60,312.20) scale(1,1.15)" font-size="8.2" text-anchor="end" font-weight="bold" fill="#111" >15</text>
<line x1="552.80" y1="390.30" x2="552.80" y2="393.30" stroke="#262626" stroke-width="1.1" />
<text transform="translate(552.20,402.50) scale(1,1.15)" font-size="8.4" text-anchor="middle" font-weight="bold" fill="#111" >LT-HSC</text>
<line x1="583.90" y1="390.30" x2="583.90" y2="393.30" stroke="#262626" stroke-width="1.1" />
<text transform="translate(587.30,402.50) scale(1,1.15)" font-size="8.4" text-anchor="middle" font-weight="bold" fill="#111" >ST-HSC</text>
<line x1="615.40" y1="390.30" x2="615.40" y2="393.30" stroke="#262626" stroke-width="1.1" />
<text transform="translate(615.30,402.50) scale(1,1.15)" font-size="8.4" text-anchor="middle" font-weight="bold" fill="#111" >MPP</text>
<line x1="646.60" y1="390.30" x2="646.60" y2="393.30" stroke="#262626" stroke-width="1.1" />
<text transform="translate(649.20,402.50) scale(1,1.15)" font-size="8.4" text-anchor="middle" font-weight="bold" fill="#111" >SLAM-HSC</text>
<text transform="translate(512.90,349.70) scale(1.0,1) rotate(-90)" x="0" y="3.56" font-size="9.9" text-anchor="middle" font-weight="bold" fill="#111">Cell number (×10<tspan font-size="6" dy="-3.5">4</tspan><tspan dy="3.5">)</tspan></text>
<circle cx="634.00" cy="309.20" r="1.9" fill="none" stroke="#3232ff" stroke-width="1.2"/>
<circle cx="634.00" cy="323.40" r="1.9" fill="none" stroke="#b32a2a" stroke-width="1.2"/>
<text transform="translate(638.50,312.20) scale(1,1.15)" font-size="8.4" text-anchor="start" font-weight="bold" fill="#111" >WT</text>
<text transform="translate(638.50,326.40) scale(1,1.15)" font-size="8.4" text-anchor="start" font-weight="bold" fill="#111" >Trim47<tspan font-size="4.80" font-weight="normal" dy="-2.40">-/-</tspan></text>
<text transform="translate(558.60,381.40) scale(1,1.15)" font-size="8.5" text-anchor="middle" font-weight="bold" fill="#222" style="stroke-width:0">***</text>
<text transform="translate(589.80,374.00) scale(1,1.15)" font-size="8.5" text-anchor="middle" font-weight="bold" fill="#222" style="stroke-width:0">***</text>
<text transform="translate(621.30,380.40) scale(1,1.15)" font-size="8.5" text-anchor="middle" font-weight="bold" fill="#222" style="stroke-width:0">***</text>
<text transform="translate(652.30,383.40) scale(1,1.15)" font-size="8.5" text-anchor="middle" font-weight="bold" fill="#222" style="stroke-width:0">***</text>
<rect x="393.50" y="643.25" width="10.40" height="55.95" fill="#fff" stroke="#3232ff" stroke-width="1.2"/>
<line x1="398.70" y1="648.63" x2="398.70" y2="637.87" stroke="#3232ff" stroke-width="0.9" />
<line x1="396.50" y1="637.87" x2="400.90" y2="637.87" stroke="#3232ff" stroke-width="0.9" />
<line x1="396.50" y1="648.63" x2="400.90" y2="648.63" stroke="#3232ff" stroke-width="0.9" />
<circle cx="399.10" cy="633.56" r="2.0" fill="none" stroke="#3232ff" stroke-width="1.1"/>
<circle cx="394.90" cy="637.92" r="2.0" fill="none" stroke="#3232ff" stroke-width="1.1"/>
<circle cx="396.30" cy="641.80" r="2.0" fill="none" stroke="#3232ff" stroke-width="1.1"/>
<circle cx="401.30" cy="644.70" r="2.0" fill="none" stroke="#3232ff" stroke-width="1.1"/>
<circle cx="398.70" cy="648.09" r="2.0" fill="none" stroke="#3232ff" stroke-width="1.1"/>
<circle cx="395.10" cy="651.00" r="2.0" fill="none" stroke="#3232ff" stroke-width="1.1"/>
<rect x="409.00" y="662.62" width="11.00" height="36.58" fill="#fff" stroke="#b32a2a" stroke-width="1.2"/>
<line x1="414.50" y1="665.84" x2="414.50" y2="659.39" stroke="#b32a2a" stroke-width="0.9" />
<line x1="412.30" y1="659.39" x2="416.70" y2="659.39" stroke="#b32a2a" stroke-width="0.9" />
<line x1="412.30" y1="665.84" x2="416.70" y2="665.84" stroke="#b32a2a" stroke-width="0.9" />
<circle cx="414.50" cy="657.24" r="2.0" fill="none" stroke="#b32a2a" stroke-width="1.1"/>
<circle cx="417.10" cy="659.66" r="2.0" fill="none" stroke="#b32a2a" stroke-width="1.1"/>
<circle cx="418.10" cy="661.81" r="2.0" fill="none" stroke="#b32a2a" stroke-width="1.1"/>
<circle cx="414.90" cy="663.42" r="2.0" fill="none" stroke="#b32a2a" stroke-width="1.1"/>
<circle cx="412.10" cy="665.31" r="2.0" fill="none" stroke="#b32a2a" stroke-width="1.1"/>
<circle cx="410.70" cy="666.92" r="2.0" fill="none" stroke="#b32a2a" stroke-width="1.1"/>
<rect x="436.40" y="695.43" width="10.40" height="3.77" fill="#fff" stroke="#3232ff" stroke-width="1.2"/>
<line x1="441.60" y1="695.97" x2="441.60" y2="694.90" stroke="#3232ff" stroke-width="0.9" />
<line x1="439.40" y1="694.90" x2="443.80" y2="694.90" stroke="#3232ff" stroke-width="0.9" />
<line x1="439.40" y1="695.97" x2="443.80" y2="695.97" stroke="#3232ff" stroke-width="0.9" />
<circle cx="438.00" cy="694.36" r="2.0" fill="none" stroke="#3232ff" stroke-width="1.1"/>
<circle cx="437.80" cy="694.84" r="2.0" fill="none" stroke="#3232ff" stroke-width="1.1"/>
<circle cx="444.20" cy="695.27" r="2.0" fill="none" stroke="#3232ff" stroke-width="1.1"/>
<circle cx="441.60" cy="695.60" r="2.0" fill="none" stroke="#3232ff" stroke-width="1.1"/>
<circle cx="439.20" cy="695.97" r="2.0" fill="none" stroke="#3232ff" stroke-width="1.1"/>
<circle cx="445.20" cy="696.29" r="2.0" fill="none" stroke="#3232ff" stroke-width="1.1"/>
<rect x="452.30" y="697.59" width="10.70" height="1.61" fill="#fff" stroke="#b32a2a" stroke-width="1.2"/>
<line x1="457.65" y1="697.86" x2="457.65" y2="697.32" stroke="#b32a2a" stroke-width="0.9" />
<line x1="455.45" y1="697.32" x2="459.85" y2="697.32" stroke="#b32a2a" stroke-width="0.9" />
<line x1="455.45" y1="697.86" x2="459.85" y2="697.86" stroke="#b32a2a" stroke-width="0.9" />
<circle cx="461.25" cy="697.05" r="2.0" fill="none" stroke="#b32a2a" stroke-width="1.1"/>
<circle cx="455.25" cy="697.29" r="2.0" fill="none" stroke="#b32a2a" stroke-width="1.1"/>
<circle cx="460.25" cy="697.51" r="2.0" fill="none" stroke="#b32a2a" stroke-width="1.1"/>
<circle cx="458.05" cy="697.67" r="2.0" fill="none" stroke="#b32a2a" stroke-width="1.1"/>
<circle cx="454.05" cy="697.86" r="2.0" fill="none" stroke="#b32a2a" stroke-width="1.1"/>
<circle cx="457.65" cy="698.02" r="2.0" fill="none" stroke="#b32a2a" stroke-width="1.1"/>
<line x1="388.00" y1="618.00" x2="388.00" y2="699.70" stroke="#262626" stroke-width="1.2" />
<line x1="387.50" y1="699.20" x2="468.60" y2="699.20" stroke="#262626" stroke-width="1.2" />
<line x1="384.20" y1="699.20" x2="388.00" y2="699.20" stroke="#262626" stroke-width="1.1" />
<text transform="translate(383.00,702.20) scale(1,1.15)" font-size="8.2" text-anchor="end" font-weight="bold" fill="#111" >0.0</text>
<line x1="384.20" y1="672.30" x2="388.00" y2="672.30" stroke="#262626" stroke-width="1.1" />
<text transform="translate(383.00,675.30) scale(1,1.15)" font-size="8.2" text-anchor="end" font-weight="bold" fill="#111" >0.5</text>
<line x1="384.20" y1="645.40" x2="388.00" y2="645.40" stroke="#262626" stroke-width="1.1" />
<text transform="translate(383.00,648.40) scale(1,1.15)" font-size="8.2" text-anchor="end" font-weight="bold" fill="#111" >1.0</text>
<line x1="384.20" y1="618.50" x2="388.00" y2="618.50" stroke="#262626" stroke-width="1.1" />
<text transform="translate(383.00,621.50) scale(1,1.15)" font-size="8.2" text-anchor="end" font-weight="bold" fill="#111" >1.5</text>
<line x1="406.60" y1="699.20" x2="406.60" y2="702.20" stroke="#262626" stroke-width="1.1" />
<text transform="translate(406.60,713.80) scale(1,1.15)" font-size="8.4" text-anchor="middle" font-weight="bold" fill="#111" >MP</text>
<line x1="449.30" y1="699.20" x2="449.30" y2="702.20" stroke="#262626" stroke-width="1.1" />
<text transform="translate(449.30,713.80) scale(1,1.15)" font-size="8.4" text-anchor="middle" font-weight="bold" fill="#111" >LSK</text>
<text transform="translate(361.30,658.30) scale(1.0,1) rotate(-90)" x="0" y="3.56" font-size="9.9" text-anchor="middle" font-weight="bold" fill="#111">% within BM cells</text>
<text transform="translate(426.50,617.20) scale(1,1.15)" font-size="9.9" text-anchor="middle" font-weight="bold" fill="#111" >IR</text>
<circle cx="462.40" cy="623.00" r="1.9" fill="none" stroke="#3232ff" stroke-width="1.2"/>
<circle cx="462.40" cy="637.60" r="1.9" fill="none" stroke="#b32a2a" stroke-width="1.2"/>
<text transform="translate(466.90,626.00) scale(1,1.15)" font-size="8.4" text-anchor="start" font-weight="bold" fill="#111" >WT</text>
<text transform="translate(466.90,640.60) scale(1,1.15)" font-size="8.4" text-anchor="start" font-weight="bold" fill="#111" >Trim47<tspan font-size="4.80" font-weight="normal" dy="-2.40">-/-</tspan></text>
<text transform="translate(414.50,655.00) scale(1,1.15)" font-size="8.5" text-anchor="middle" font-weight="bold" fill="#222" style="stroke-width:0">***</text>
<text transform="translate(457.60,695.90) scale(1,1.15)" font-size="8.5" text-anchor="middle" font-weight="bold" fill="#222" style="stroke-width:0">***</text>
<rect x="393.50" y="750.52" width="11.10" height="65.68" fill="#fff" stroke="#3232ff" stroke-width="1.2"/>
<line x1="399.05" y1="755.99" x2="399.05" y2="745.05" stroke="#3232ff" stroke-width="0.9" />
<line x1="396.85" y1="745.05" x2="401.25" y2="745.05" stroke="#3232ff" stroke-width="0.9" />
<line x1="396.85" y1="755.99" x2="401.25" y2="755.99" stroke="#3232ff" stroke-width="0.9" />
<circle cx="402.65" cy="740.94" r="2.0" fill="none" stroke="#3232ff" stroke-width="1.1"/>
<circle cx="399.45" cy="745.25" r="2.0" fill="none" stroke="#3232ff" stroke-width="1.1"/>
<circle cx="395.25" cy="749.08" r="2.0" fill="none" stroke="#3232ff" stroke-width="1.1"/>
<circle cx="396.65" cy="751.96" r="2.0" fill="none" stroke="#3232ff" stroke-width="1.1"/>
<circle cx="399.05" cy="755.31" r="2.0" fill="none" stroke="#3232ff" stroke-width="1.1"/>
<circle cx="401.65" cy="758.18" r="2.0" fill="none" stroke="#3232ff" stroke-width="1.1"/>
<rect x="410.00" y="780.62" width="11.30" height="35.58" fill="#fff" stroke="#b32a2a" stroke-width="1.2"/>
<line x1="415.65" y1="783.36" x2="415.65" y2="777.89" stroke="#b32a2a" stroke-width="0.9" />
<line x1="413.45" y1="777.89" x2="417.85" y2="777.89" stroke="#b32a2a" stroke-width="0.9" />
<line x1="413.45" y1="783.36" x2="417.85" y2="783.36" stroke="#b32a2a" stroke-width="0.9" />
<circle cx="413.25" cy="776.52" r="2.0" fill="none" stroke="#b32a2a" stroke-width="1.1"/>
<circle cx="411.85" cy="778.37" r="2.0" fill="none" stroke="#b32a2a" stroke-width="1.1"/>
<circle cx="415.65" cy="780.01" r="2.0" fill="none" stroke="#b32a2a" stroke-width="1.1"/>
<circle cx="416.05" cy="781.24" r="2.0" fill="none" stroke="#b32a2a" stroke-width="1.1"/>
<circle cx="419.25" cy="782.68" r="2.0" fill="none" stroke="#b32a2a" stroke-width="1.1"/>
<circle cx="418.25" cy="783.91" r="2.0" fill="none" stroke="#b32a2a" stroke-width="1.1"/>
<rect x="438.00" y="811.55" width="10.80" height="4.65" fill="#fff" stroke="#3232ff" stroke-width="1.2"/>
<line x1="443.40" y1="812.37" x2="443.40" y2="810.73" stroke="#3232ff" stroke-width="0.9" />
<line x1="441.20" y1="810.73" x2="445.60" y2="810.73" stroke="#3232ff" stroke-width="0.9" />
<line x1="441.20" y1="812.37" x2="445.60" y2="812.37" stroke="#3232ff" stroke-width="0.9" />
<circle cx="443.80" cy="810.18" r="2.0" fill="none" stroke="#3232ff" stroke-width="1.1"/>
<circle cx="439.80" cy="810.80" r="2.0" fill="none" stroke="#3232ff" stroke-width="1.1"/>
<circle cx="443.40" cy="811.34" r="2.0" fill="none" stroke="#3232ff" stroke-width="1.1"/>
<circle cx="439.60" cy="811.75" r="2.0" fill="none" stroke="#3232ff" stroke-width="1.1"/>
<circle cx="447.00" cy="812.23" r="2.0" fill="none" stroke="#3232ff" stroke-width="1.1"/>
<circle cx="446.00" cy="812.64" r="2.0" fill="none" stroke="#3232ff" stroke-width="1.1"/>
<rect x="454.30" y="814.28" width="11.10" height="1.92" fill="#fff" stroke="#b32a2a" stroke-width="1.2"/>
<line x1="459.85" y1="814.56" x2="459.85" y2="814.01" stroke="#b32a2a" stroke-width="0.9" />
<line x1="457.65" y1="814.01" x2="462.05" y2="814.01" stroke="#b32a2a" stroke-width="0.9" />
<line x1="457.65" y1="814.56" x2="462.05" y2="814.56" stroke="#b32a2a" stroke-width="0.9" />
<circle cx="457.45" cy="813.74" r="2.0" fill="none" stroke="#b32a2a" stroke-width="1.1"/>
<circle cx="459.85" cy="813.98" r="2.0" fill="none" stroke="#b32a2a" stroke-width="1.1"/>
<circle cx="462.45" cy="814.20" r="2.0" fill="none" stroke="#b32a2a" stroke-width="1.1"/>
<circle cx="456.05" cy="814.37" r="2.0" fill="none" stroke="#b32a2a" stroke-width="1.1"/>
<circle cx="460.25" cy="814.56" r="2.0" fill="none" stroke="#b32a2a" stroke-width="1.1"/>
<circle cx="456.25" cy="814.72" r="2.0" fill="none" stroke="#b32a2a" stroke-width="1.1"/>
<line x1="388.50" y1="733.60" x2="388.50" y2="816.70" stroke="#262626" stroke-width="1.2" />
<line x1="388.00" y1="816.20" x2="471.60" y2="816.20" stroke="#262626" stroke-width="1.2" />
<line x1="384.70" y1="816.20" x2="388.50" y2="816.20" stroke="#262626" stroke-width="1.1" />
<text transform="translate(383.50,819.20) scale(1,1.15)" font-size="8.2" text-anchor="end" font-weight="bold" fill="#111" >0</text>
<line x1="384.70" y1="788.83" x2="388.50" y2="788.83" stroke="#262626" stroke-width="1.1" />
<text transform="translate(383.50,791.83) scale(1,1.15)" font-size="8.2" text-anchor="end" font-weight="bold" fill="#111" >1</text>
<line x1="384.70" y1="761.47" x2="388.50" y2="761.47" stroke="#262626" stroke-width="1.1" />
<text transform="translate(383.50,764.47) scale(1,1.15)" font-size="8.2" text-anchor="end" font-weight="bold" fill="#111" >2</text>
<line x1="384.70" y1="734.10" x2="388.50" y2="734.10" stroke="#262626" stroke-width="1.1" />
<text transform="translate(383.50,737.10) scale(1,1.15)" font-size="8.2" text-anchor="end" font-weight="bold" fill="#111" >3</text>
<line x1="407.00" y1="816.20" x2="407.00" y2="819.20" stroke="#262626" stroke-width="1.1" />
<text transform="translate(407.00,829.60) scale(1,1.15)" font-size="8.4" text-anchor="middle" font-weight="bold" fill="#111" >MP</text>
<line x1="451.00" y1="816.20" x2="451.00" y2="819.20" stroke="#262626" stroke-width="1.1" />
<text transform="translate(451.00,829.60) scale(1,1.15)" font-size="8.4" text-anchor="middle" font-weight="bold" fill="#111" >LSK</text>
<text transform="translate(368.80,775.00) scale(1.0,1) rotate(-90)" x="0" y="3.56" font-size="9.9" text-anchor="middle" font-weight="bold" fill="#111">Cell number (×10<tspan font-size="6" dy="-3.5">5</tspan><tspan dy="3.5">)</tspan></text>
<circle cx="462.20" cy="734.80" r="1.9" fill="none" stroke="#3232ff" stroke-width="1.2"/>
<circle cx="462.20" cy="749.20" r="1.9" fill="none" stroke="#b32a2a" stroke-width="1.2"/>
<text transform="translate(466.70,737.80) scale(1,1.15)" font-size="8.4" text-anchor="start" font-weight="bold" fill="#111" >WT</text>
<text transform="translate(466.70,752.20) scale(1,1.15)" font-size="8.4" text-anchor="start" font-weight="bold" fill="#111" >Trim47<tspan font-size="4.80" font-weight="normal" dy="-2.40">-/-</tspan></text>
<text transform="translate(415.60,774.50) scale(1,1.15)" font-size="8.5" text-anchor="middle" font-weight="bold" fill="#222" style="stroke-width:0">***</text>
<text transform="translate(459.80,812.20) scale(1,1.15)" font-size="8.5" text-anchor="middle" font-weight="bold" fill="#222" style="stroke-width:0">***</text>
<rect x="542.30" y="671.13" width="8.20" height="28.07" fill="#fff" stroke="#3232ff" stroke-width="1.2"/>
<line x1="546.40" y1="673.80" x2="546.40" y2="668.46" stroke="#3232ff" stroke-width="0.9" />
<line x1="544.20" y1="668.46" x2="548.60" y2="668.46" stroke="#3232ff" stroke-width="0.9" />
<line x1="544.20" y1="673.80" x2="548.60" y2="673.80" stroke="#3232ff" stroke-width="0.9" />
<circle cx="542.80" cy="665.78" r="2.0" fill="none" stroke="#3232ff" stroke-width="1.1"/>
<circle cx="550.00" cy="668.19" r="2.0" fill="none" stroke="#3232ff" stroke-width="1.1"/>
<circle cx="549.00" cy="670.33" r="2.0" fill="none" stroke="#3232ff" stroke-width="1.1"/>
<circle cx="546.80" cy="671.93" r="2.0" fill="none" stroke="#3232ff" stroke-width="1.1"/>
<circle cx="542.60" cy="673.80" r="2.0" fill="none" stroke="#3232ff" stroke-width="1.1"/>
<circle cx="544.00" cy="675.41" r="2.0" fill="none" stroke="#3232ff" stroke-width="1.1"/>
<rect x="553.50" y="688.51" width="8.10" height="10.69" fill="#fff" stroke="#b32a2a" stroke-width="1.2"/>
<line x1="557.55" y1="691.18" x2="557.55" y2="685.83" stroke="#b32a2a" stroke-width="0.9" />
<line x1="555.35" y1="685.83" x2="559.75" y2="685.83" stroke="#b32a2a" stroke-width="0.9" />
<line x1="555.35" y1="691.18" x2="559.75" y2="691.18" stroke="#b32a2a" stroke-width="0.9" />
<circle cx="560.15" cy="684.50" r="2.0" fill="none" stroke="#b32a2a" stroke-width="1.1"/>
<circle cx="553.75" cy="686.30" r="2.0" fill="none" stroke="#b32a2a" stroke-width="1.1"/>
<circle cx="555.15" cy="687.91" r="2.0" fill="none" stroke="#b32a2a" stroke-width="1.1"/>
<circle cx="561.15" cy="689.11" r="2.0" fill="none" stroke="#b32a2a" stroke-width="1.1"/>
<circle cx="557.95" cy="690.51" r="2.0" fill="none" stroke="#b32a2a" stroke-width="1.1"/>
<circle cx="553.95" cy="691.71" r="2.0" fill="none" stroke="#b32a2a" stroke-width="1.1"/>
<rect x="573.30" y="640.39" width="8.20" height="58.81" fill="#fff" stroke="#3232ff" stroke-width="1.2"/>
<line x1="577.40" y1="644.40" x2="577.40" y2="636.38" stroke="#3232ff" stroke-width="0.9" />
<line x1="575.20" y1="636.38" x2="579.60" y2="636.38" stroke="#3232ff" stroke-width="0.9" />
<line x1="575.20" y1="644.40" x2="579.60" y2="644.40" stroke="#3232ff" stroke-width="0.9" />
<circle cx="575.00" cy="629.69" r="2.0" fill="none" stroke="#3232ff" stroke-width="1.1"/>
<circle cx="577.40" cy="634.51" r="2.0" fill="none" stroke="#3232ff" stroke-width="1.1"/>
<circle cx="573.60" cy="638.78" r="2.0" fill="none" stroke="#3232ff" stroke-width="1.1"/>
<circle cx="581.00" cy="641.99" r="2.0" fill="none" stroke="#3232ff" stroke-width="1.1"/>
<circle cx="577.80" cy="645.73" r="2.0" fill="none" stroke="#3232ff" stroke-width="1.1"/>
<circle cx="573.80" cy="648.94" r="2.0" fill="none" stroke="#3232ff" stroke-width="1.1"/>
<rect x="585.00" y="675.14" width="8.20" height="24.06" fill="#fff" stroke="#b32a2a" stroke-width="1.2"/>
<line x1="589.10" y1="677.81" x2="589.10" y2="672.47" stroke="#b32a2a" stroke-width="0.9" />
<line x1="586.90" y1="672.47" x2="591.30" y2="672.47" stroke="#b32a2a" stroke-width="0.9" />
<line x1="586.90" y1="677.81" x2="591.30" y2="677.81" stroke="#b32a2a" stroke-width="0.9" />
<circle cx="585.50" cy="672.47" r="2.0" fill="none" stroke="#b32a2a" stroke-width="1.1"/>
<circle cx="589.50" cy="673.67" r="2.0" fill="none" stroke="#b32a2a" stroke-width="1.1"/>
<circle cx="586.70" cy="674.74" r="2.0" fill="none" stroke="#b32a2a" stroke-width="1.1"/>
<circle cx="589.10" cy="675.54" r="2.0" fill="none" stroke="#b32a2a" stroke-width="1.1"/>
<circle cx="585.30" cy="676.48" r="2.0" fill="none" stroke="#b32a2a" stroke-width="1.1"/>
<circle cx="592.70" cy="677.28" r="2.0" fill="none" stroke="#b32a2a" stroke-width="1.1"/>
<rect x="604.30" y="681.82" width="8.00" height="17.38" fill="#fff" stroke="#3232ff" stroke-width="1.2"/>
<line x1="608.30" y1="687.17" x2="608.30" y2="676.48" stroke="#3232ff" stroke-width="0.9" />
<line x1="606.10" y1="676.48" x2="610.50" y2="676.48" stroke="#3232ff" stroke-width="0.9" />
<line x1="606.10" y1="687.17" x2="610.50" y2="687.17" stroke="#3232ff" stroke-width="0.9" />
<circle cx="605.90" cy="671.13" r="2.0" fill="none" stroke="#3232ff" stroke-width="1.1"/>
<circle cx="604.50" cy="675.94" r="2.0" fill="none" stroke="#3232ff" stroke-width="1.1"/>
<circle cx="608.30" cy="680.22" r="2.0" fill="none" stroke="#3232ff" stroke-width="1.1"/>
<circle cx="608.70" cy="683.43" r="2.0" fill="none" stroke="#3232ff" stroke-width="1.1"/>
<circle cx="604.70" cy="687.17" r="2.0" fill="none" stroke="#3232ff" stroke-width="1.1"/>
<circle cx="611.90" cy="690.38" r="2.0" fill="none" stroke="#3232ff" stroke-width="1.1"/>
<rect x="615.50" y="693.85" width="7.90" height="5.35" fill="#fff" stroke="#b32a2a" stroke-width="1.2"/>
<line x1="619.45" y1="696.53" x2="619.45" y2="691.18" stroke="#b32a2a" stroke-width="0.9" />
<line x1="617.25" y1="691.18" x2="621.65" y2="691.18" stroke="#b32a2a" stroke-width="0.9" />
<line x1="617.25" y1="696.53" x2="621.65" y2="696.53" stroke="#b32a2a" stroke-width="0.9" />
<circle cx="615.85" cy="689.84" r="2.0" fill="none" stroke="#b32a2a" stroke-width="1.1"/>
<circle cx="617.05" cy="691.65" r="2.0" fill="none" stroke="#b32a2a" stroke-width="1.1"/>
<circle cx="622.05" cy="693.25" r="2.0" fill="none" stroke="#b32a2a" stroke-width="1.1"/>
<circle cx="615.65" cy="694.45" r="2.0" fill="none" stroke="#b32a2a" stroke-width="1.1"/>
<circle cx="619.85" cy="695.86" r="2.0" fill="none" stroke="#b32a2a" stroke-width="1.1"/>
<circle cx="619.45" cy="697.06" r="2.0" fill="none" stroke="#b32a2a" stroke-width="1.1"/>
<rect x="635.30" y="695.19" width="8.00" height="4.01" fill="#fff" stroke="#3232ff" stroke-width="1.2"/>
<line x1="639.30" y1="696.53" x2="639.30" y2="693.85" stroke="#3232ff" stroke-width="0.9" />
<line x1="637.10" y1="693.85" x2="641.50" y2="693.85" stroke="#3232ff" stroke-width="0.9" />
<line x1="637.10" y1="696.53" x2="641.50" y2="696.53" stroke="#3232ff" stroke-width="0.9" />
<circle cx="636.90" cy="693.85" r="2.0" fill="none" stroke="#3232ff" stroke-width="1.1"/>
<circle cx="635.70" cy="694.45" r="2.0" fill="none" stroke="#3232ff" stroke-width="1.1"/>
<circle cx="642.90" cy="694.99" r="2.0" fill="none" stroke="#3232ff" stroke-width="1.1"/>
<circle cx="635.50" cy="695.39" r="2.0" fill="none" stroke="#3232ff" stroke-width="1.1"/>
<circle cx="639.30" cy="695.86" r="2.0" fill="none" stroke="#3232ff" stroke-width="1.1"/>
<circle cx="641.90" cy="696.26" r="2.0" fill="none" stroke="#3232ff" stroke-width="1.1"/>
<rect x="646.50" y="697.60" width="8.20" height="1.60" fill="#fff" stroke="#b32a2a" stroke-width="1.2"/>
<line x1="650.60" y1="698.13" x2="650.60" y2="697.06" stroke="#b32a2a" stroke-width="0.9" />
<line x1="648.40" y1="697.06" x2="652.80" y2="697.06" stroke="#b32a2a" stroke-width="0.9" />
<line x1="648.40" y1="698.13" x2="652.80" y2="698.13" stroke="#b32a2a" stroke-width="0.9" />
<circle cx="654.20" cy="697.06" r="2.0" fill="none" stroke="#b32a2a" stroke-width="1.1"/>
<circle cx="647.00" cy="697.30" r="2.0" fill="none" stroke="#b32a2a" stroke-width="1.1"/>
<circle cx="653.20" cy="697.52" r="2.0" fill="none" stroke="#b32a2a" stroke-width="1.1"/>
<circle cx="650.60" cy="697.68" r="2.0" fill="none" stroke="#b32a2a" stroke-width="1.1"/>
<circle cx="646.80" cy="697.86" r="2.0" fill="none" stroke="#b32a2a" stroke-width="1.1"/>
<circle cx="648.20" cy="698.02" r="2.0" fill="none" stroke="#b32a2a" stroke-width="1.1"/>
<line x1="538.60" y1="618.50" x2="538.60" y2="699.70" stroke="#262626" stroke-width="1.2" />
<line x1="538.10" y1="699.20" x2="659.00" y2="699.20" stroke="#262626" stroke-width="1.2" />
<line x1="534.80" y1="699.20" x2="538.60" y2="699.20" stroke="#262626" stroke-width="1.1" />
<text transform="translate(533.60,702.20) scale(1,1.15)" font-size="8.2" text-anchor="end" font-weight="bold" fill="#111" >0.00</text>
<line x1="534.80" y1="672.47" x2="538.60" y2="672.47" stroke="#262626" stroke-width="1.1" />
<text transform="translate(533.60,675.47) scale(1,1.15)" font-size="8.2" text-anchor="end" font-weight="bold" fill="#111" >0.02</text>
<line x1="534.80" y1="645.73" x2="538.60" y2="645.73" stroke="#262626" stroke-width="1.1" />
<text transform="translate(533.60,648.73) scale(1,1.15)" font-size="8.2" text-anchor="end" font-weight="bold" fill="#111" >0.04</text>
<line x1="534.80" y1="619.00" x2="538.60" y2="619.00" stroke="#262626" stroke-width="1.1" />
<text transform="translate(533.60,622.00) scale(1,1.15)" font-size="8.2" text-anchor="end" font-weight="bold" fill="#111" >0.06</text>
<line x1="552.00" y1="699.20" x2="552.00" y2="702.20" stroke="#262626" stroke-width="1.1" />
<text transform="translate(550.20,713.80) scale(1,1.15)" font-size="8.4" text-anchor="middle" font-weight="bold" fill="#111" >LT-HSC</text>
<line x1="583.30" y1="699.20" x2="583.30" y2="702.20" stroke="#262626" stroke-width="1.1" />
<text transform="translate(585.30,713.80) scale(1,1.15)" font-size="8.4" text-anchor="middle" font-weight="bold" fill="#111" >ST-HSC</text>
<line x1="613.90" y1="699.20" x2="613.90" y2="702.20" stroke="#262626" stroke-width="1.1" />
<text transform="translate(614.90,713.80) scale(1,1.15)" font-size="8.4" text-anchor="middle" font-weight="bold" fill="#111" >MPP</text>
<line x1="644.90" y1="699.20" x2="644.90" y2="702.20" stroke="#262626" stroke-width="1.1" />
<text transform="translate(650.50,713.80) scale(1,1.15)" font-size="8.4" text-anchor="middle" font-weight="bold" fill="#111" >SLAM-HSC</text>
<text transform="translate(509.40,659.60) scale(1.0,1) rotate(-90)" x="0" y="3.56" font-size="9.9" text-anchor="middle" font-weight="bold" fill="#111">% within BM cells</text>
<text transform="translate(598.90,617.20) scale(1,1.15)" font-size="9.9" text-anchor="middle" font-weight="bold" fill="#111" >IR</text>
<circle cx="633.60" cy="623.00" r="1.9" fill="none" stroke="#3232ff" stroke-width="1.2"/>
<circle cx="633.60" cy="637.60" r="1.9" fill="none" stroke="#b32a2a" stroke-width="1.2"/>
<text transform="translate(638.10,626.00) scale(1,1.15)" font-size="8.4" text-anchor="start" font-weight="bold" fill="#111" >WT</text>
<text transform="translate(638.10,640.60) scale(1,1.15)" font-size="8.4" text-anchor="start" font-weight="bold" fill="#111" >Trim47<tspan font-size="4.80" font-weight="normal" dy="-2.40">-/-</tspan></text>
<text transform="translate(557.60,682.30) scale(1,1.15)" font-size="8.5" text-anchor="middle" font-weight="bold" fill="#222" style="stroke-width:0">***</text>
<text transform="translate(589.10,669.90) scale(1,1.15)" font-size="8.5" text-anchor="middle" font-weight="bold" fill="#222" style="stroke-width:0">***</text>
<text transform="translate(619.50,688.50) scale(1,1.15)" font-size="8.5" text-anchor="middle" font-weight="bold" fill="#222" style="stroke-width:0">**</text>
<text transform="translate(650.60,695.90) scale(1,1.15)" font-size="8.5" text-anchor="middle" font-weight="bold" fill="#222" style="stroke-width:0">***</text>
<rect x="542.00" y="789.93" width="7.80" height="26.27" fill="#fff" stroke="#3232ff" stroke-width="1.2"/>
<line x1="545.90" y1="793.21" x2="545.90" y2="786.64" stroke="#3232ff" stroke-width="0.9" />
<line x1="543.70" y1="786.64" x2="548.10" y2="786.64" stroke="#3232ff" stroke-width="0.9" />
<line x1="543.70" y1="793.21" x2="548.10" y2="793.21" stroke="#3232ff" stroke-width="0.9" />
<circle cx="545.90" cy="781.72" r="2.0" fill="none" stroke="#3232ff" stroke-width="1.1"/>
<circle cx="546.30" cy="785.41" r="2.0" fill="none" stroke="#3232ff" stroke-width="1.1"/>
<circle cx="542.10" cy="788.70" r="2.0" fill="none" stroke="#3232ff" stroke-width="1.1"/>
<circle cx="548.50" cy="791.16" r="2.0" fill="none" stroke="#3232ff" stroke-width="1.1"/>
<circle cx="542.30" cy="794.03" r="2.0" fill="none" stroke="#3232ff" stroke-width="1.1"/>
<circle cx="549.50" cy="796.50" r="2.0" fill="none" stroke="#3232ff" stroke-width="1.1"/>
<rect x="554.00" y="807.44" width="7.80" height="8.76" fill="#fff" stroke="#b32a2a" stroke-width="1.2"/>
<line x1="557.90" y1="809.08" x2="557.90" y2="805.80" stroke="#b32a2a" stroke-width="0.9" />
<line x1="555.70" y1="805.80" x2="560.10" y2="805.80" stroke="#b32a2a" stroke-width="0.9" />
<line x1="555.70" y1="809.08" x2="560.10" y2="809.08" stroke="#b32a2a" stroke-width="0.9" />
<circle cx="554.30" cy="804.71" r="2.0" fill="none" stroke="#b32a2a" stroke-width="1.1"/>
<circle cx="555.50" cy="805.94" r="2.0" fill="none" stroke="#b32a2a" stroke-width="1.1"/>
<circle cx="560.50" cy="807.03" r="2.0" fill="none" stroke="#b32a2a" stroke-width="1.1"/>
<circle cx="561.50" cy="807.85" r="2.0" fill="none" stroke="#b32a2a" stroke-width="1.1"/>
<circle cx="554.10" cy="808.81" r="2.0" fill="none" stroke="#b32a2a" stroke-width="1.1"/>
<circle cx="557.90" cy="809.63" r="2.0" fill="none" stroke="#b32a2a" stroke-width="1.1"/>
<rect x="573.80" y="760.37" width="8.10" height="55.83" fill="#fff" stroke="#3232ff" stroke-width="1.2"/>
<line x1="577.85" y1="764.75" x2="577.85" y2="755.99" stroke="#3232ff" stroke-width="0.9" />
<line x1="575.65" y1="755.99" x2="580.05" y2="755.99" stroke="#3232ff" stroke-width="0.9" />
<line x1="575.65" y1="764.75" x2="580.05" y2="764.75" stroke="#3232ff" stroke-width="0.9" />
<circle cx="578.25" cy="749.43" r="2.0" fill="none" stroke="#3232ff" stroke-width="1.1"/>
<circle cx="574.05" cy="754.35" r="2.0" fill="none" stroke="#3232ff" stroke-width="1.1"/>
<circle cx="580.45" cy="758.73" r="2.0" fill="none" stroke="#3232ff" stroke-width="1.1"/>
<circle cx="575.45" cy="762.01" r="2.0" fill="none" stroke="#3232ff" stroke-width="1.1"/>
<circle cx="574.25" cy="765.85" r="2.0" fill="none" stroke="#3232ff" stroke-width="1.1"/>
<circle cx="581.45" cy="769.13" r="2.0" fill="none" stroke="#3232ff" stroke-width="1.1"/>
<rect x="585.80" y="797.04" width="8.10" height="19.16" fill="#fff" stroke="#b32a2a" stroke-width="1.2"/>
<line x1="589.85" y1="799.23" x2="589.85" y2="794.85" stroke="#b32a2a" stroke-width="0.9" />
<line x1="587.65" y1="794.85" x2="592.05" y2="794.85" stroke="#b32a2a" stroke-width="0.9" />
<line x1="587.65" y1="799.23" x2="592.05" y2="799.23" stroke="#b32a2a" stroke-width="0.9" />
<circle cx="593.45" cy="793.76" r="2.0" fill="none" stroke="#b32a2a" stroke-width="1.1"/>
<circle cx="586.25" cy="795.24" r="2.0" fill="none" stroke="#b32a2a" stroke-width="1.1"/>
<circle cx="586.05" cy="796.55" r="2.0" fill="none" stroke="#b32a2a" stroke-width="1.1"/>
<circle cx="589.85" cy="797.54" r="2.0" fill="none" stroke="#b32a2a" stroke-width="1.1"/>
<circle cx="590.25" cy="798.69" r="2.0" fill="none" stroke="#b32a2a" stroke-width="1.1"/>
<circle cx="592.45" cy="799.67" r="2.0" fill="none" stroke="#b32a2a" stroke-width="1.1"/>
<rect x="605.50" y="798.69" width="8.10" height="17.51" fill="#fff" stroke="#3232ff" stroke-width="1.2"/>
<line x1="609.55" y1="806.35" x2="609.55" y2="791.02" stroke="#3232ff" stroke-width="0.9" />
<line x1="607.35" y1="791.02" x2="611.75" y2="791.02" stroke="#3232ff" stroke-width="0.9" />
<line x1="607.35" y1="806.35" x2="611.75" y2="806.35" stroke="#3232ff" stroke-width="0.9" />
<circle cx="612.15" cy="785.00" r="2.0" fill="none" stroke="#3232ff" stroke-width="1.1"/>
<circle cx="605.95" cy="791.16" r="2.0" fill="none" stroke="#3232ff" stroke-width="1.1"/>
<circle cx="609.55" cy="796.63" r="2.0" fill="none" stroke="#3232ff" stroke-width="1.1"/>
<circle cx="605.75" cy="800.74" r="2.0" fill="none" stroke="#3232ff" stroke-width="1.1"/>
<circle cx="609.95" cy="805.53" r="2.0" fill="none" stroke="#3232ff" stroke-width="1.1"/>
<circle cx="607.15" cy="809.63" r="2.0" fill="none" stroke="#3232ff" stroke-width="1.1"/>
<rect x="617.60" y="811.27" width="8.10" height="4.93" fill="#fff" stroke="#b32a2a" stroke-width="1.2"/>
<line x1="621.65" y1="812.37" x2="621.65" y2="810.18" stroke="#b32a2a" stroke-width="0.9" />
<line x1="619.45" y1="810.18" x2="623.85" y2="810.18" stroke="#b32a2a" stroke-width="0.9" />
<line x1="619.45" y1="812.37" x2="623.85" y2="812.37" stroke="#b32a2a" stroke-width="0.9" />
<circle cx="622.05" cy="808.54" r="2.0" fill="none" stroke="#b32a2a" stroke-width="1.1"/>
<circle cx="624.25" cy="809.77" r="2.0" fill="none" stroke="#b32a2a" stroke-width="1.1"/>
<circle cx="625.25" cy="810.86" r="2.0" fill="none" stroke="#b32a2a" stroke-width="1.1"/>
<circle cx="618.05" cy="811.68" r="2.0" fill="none" stroke="#b32a2a" stroke-width="1.1"/>
<circle cx="617.85" cy="812.64" r="2.0" fill="none" stroke="#b32a2a" stroke-width="1.1"/>
<circle cx="619.25" cy="813.46" r="2.0" fill="none" stroke="#b32a2a" stroke-width="1.1"/>
<rect x="637.30" y="812.92" width="8.10" height="3.28" fill="#fff" stroke="#3232ff" stroke-width="1.2"/>
<line x1="641.35" y1="814.01" x2="641.35" y2="811.82" stroke="#3232ff" stroke-width="0.9" />
<line x1="639.15" y1="811.82" x2="643.55" y2="811.82" stroke="#3232ff" stroke-width="0.9" />
<line x1="639.15" y1="814.01" x2="643.55" y2="814.01" stroke="#3232ff" stroke-width="0.9" />
<circle cx="641.75" cy="810.18" r="2.0" fill="none" stroke="#3232ff" stroke-width="1.1"/>
<circle cx="637.75" cy="811.41" r="2.0" fill="none" stroke="#3232ff" stroke-width="1.1"/>
<circle cx="637.55" cy="812.51" r="2.0" fill="none" stroke="#3232ff" stroke-width="1.1"/>
<circle cx="643.95" cy="813.33" r="2.0" fill="none" stroke="#3232ff" stroke-width="1.1"/>
<circle cx="638.95" cy="814.28" r="2.0" fill="none" stroke="#3232ff" stroke-width="1.1"/>
<circle cx="641.35" cy="815.11" r="2.0" fill="none" stroke="#3232ff" stroke-width="1.1"/>
<rect x="649.30" y="814.83" width="8.10" height="1.37" fill="#fff" stroke="#b32a2a" stroke-width="1.2"/>
<line x1="653.35" y1="815.11" x2="653.35" y2="814.56" stroke="#b32a2a" stroke-width="0.9" />
<line x1="651.15" y1="814.56" x2="655.55" y2="814.56" stroke="#b32a2a" stroke-width="0.9" />
<line x1="651.15" y1="815.11" x2="655.55" y2="815.11" stroke="#b32a2a" stroke-width="0.9" />
<circle cx="649.55" cy="814.28" r="2.0" fill="none" stroke="#b32a2a" stroke-width="1.1"/>
<circle cx="653.35" cy="814.53" r="2.0" fill="none" stroke="#b32a2a" stroke-width="1.1"/>
<circle cx="650.95" cy="814.75" r="2.0" fill="none" stroke="#b32a2a" stroke-width="1.1"/>
<circle cx="653.75" cy="814.91" r="2.0" fill="none" stroke="#b32a2a" stroke-width="1.1"/>
<circle cx="649.75" cy="815.11" r="2.0" fill="none" stroke="#b32a2a" stroke-width="1.1"/>
<circle cx="656.95" cy="815.27" r="2.0" fill="none" stroke="#b32a2a" stroke-width="1.1"/>
<line x1="538.60" y1="733.60" x2="538.60" y2="816.70" stroke="#262626" stroke-width="1.2" />
<line x1="538.10" y1="816.20" x2="661.40" y2="816.20" stroke="#262626" stroke-width="1.2" />
<line x1="534.80" y1="816.20" x2="538.60" y2="816.20" stroke="#262626" stroke-width="1.1" />
<text transform="translate(533.60,819.20) scale(1,1.15)" font-size="8.2" text-anchor="end" font-weight="bold" fill="#111" >0.0</text>
<line x1="534.80" y1="788.83" x2="538.60" y2="788.83" stroke="#262626" stroke-width="1.1" />
<text transform="translate(533.60,791.83) scale(1,1.15)" font-size="8.2" text-anchor="end" font-weight="bold" fill="#111" >0.5</text>
<line x1="534.80" y1="761.47" x2="538.60" y2="761.47" stroke="#262626" stroke-width="1.1" />
<text transform="translate(533.60,764.47) scale(1,1.15)" font-size="8.2" text-anchor="end" font-weight="bold" fill="#111" >1.0</text>
<line x1="534.80" y1="734.10" x2="538.60" y2="734.10" stroke="#262626" stroke-width="1.1" />
<text transform="translate(533.60,737.10) scale(1,1.15)" font-size="8.2" text-anchor="end" font-weight="bold" fill="#111" >1.5</text>
<line x1="551.90" y1="816.20" x2="551.90" y2="819.20" stroke="#262626" stroke-width="1.1" />
<text transform="translate(550.00,829.10) scale(1,1.15)" font-size="8.4" text-anchor="middle" font-weight="bold" fill="#111" >LT-HSC</text>
<line x1="583.70" y1="816.20" x2="583.70" y2="819.20" stroke="#262626" stroke-width="1.1" />
<text transform="translate(585.00,829.10) scale(1,1.15)" font-size="8.4" text-anchor="middle" font-weight="bold" fill="#111" >ST-HSC</text>
<line x1="615.50" y1="816.20" x2="615.50" y2="819.20" stroke="#262626" stroke-width="1.1" />
<text transform="translate(614.30,829.10) scale(1,1.15)" font-size="8.4" text-anchor="middle" font-weight="bold" fill="#111" >MPP</text>
<line x1="647.30" y1="816.20" x2="647.30" y2="819.20" stroke="#262626" stroke-width="1.1" />
<text transform="translate(650.00,829.10) scale(1,1.15)" font-size="8.4" text-anchor="middle" font-weight="bold" fill="#111" >SLAM-HSC</text>
<text transform="translate(512.90,775.50) scale(1.0,1) rotate(-90)" x="0" y="3.56" font-size="9.9" text-anchor="middle" font-weight="bold" fill="#111">Cell number (×10<tspan font-size="6" dy="-3.5">4</tspan><tspan dy="3.5">)</tspan></text>
<circle cx="633.60" cy="734.80" r="1.9" fill="none" stroke="#3232ff" stroke-width="1.2"/>
<circle cx="633.60" cy="749.20" r="1.9" fill="none" stroke="#b32a2a" stroke-width="1.2"/>
<text transform="translate(638.10,737.80) scale(1,1.15)" font-size="8.4" text-anchor="start" font-weight="bold" fill="#111" >WT</text>
<text transform="translate(638.10,752.20) scale(1,1.15)" font-size="8.4" text-anchor="start" font-weight="bold" fill="#111" >Trim47<tspan font-size="4.80" font-weight="normal" dy="-2.40">-/-</tspan></text>
<text transform="translate(557.80,802.20) scale(1,1.15)" font-size="8.5" text-anchor="middle" font-weight="bold" fill="#222" style="stroke-width:0">***</text>
<text transform="translate(589.80,793.10) scale(1,1.15)" font-size="8.5" text-anchor="middle" font-weight="bold" fill="#222" style="stroke-width:0">***</text>
<text transform="translate(621.50,806.50) scale(1,1.15)" font-size="8.5" text-anchor="middle" font-weight="bold" fill="#222" style="stroke-width:0">**</text>
<text transform="translate(653.30,811.70) scale(1,1.15)" font-size="8.5" text-anchor="middle" font-weight="bold" fill="#222" style="stroke-width:0">***</text>
<polyline points="91,239.6 91,209.5 299.5,209.5" fill="none" stroke="#222" stroke-width="0.9"/>
<line x1="187.80" y1="209.50" x2="187.80" y2="214.50" stroke="#111" stroke-width="0.9" />
<path d="M185.60,213.50 L187.80,218.50 L190.00,213.50 Z" fill="#111"/>
<line x1="299.50" y1="209.50" x2="299.50" y2="215.00" stroke="#111" stroke-width="0.9" />
<path d="M297.30,214.00 L299.50,219.00 L301.70,214.00 Z" fill="#111"/>
<text transform="translate(40.80,218.00) scale(1,1.15)" font-size="9.6" text-anchor="start" font-weight="bold" fill="#111" >Lin<tspan font-size="6" dy="-3.5">-</tspan><tspan dy="3.5"> (5-FU)</tspan></text>
<text transform="translate(12.00,259.00) scale(1.0,1) rotate(-90)" x="0" y="3.71" font-size="10.3" text-anchor="middle" font-weight="bold" fill="#111">WT</text>
<text transform="translate(20.50,299.50) scale(1.0,1) rotate(-90)" x="0" y="3.71" font-size="10.3" text-anchor="middle" font-weight="bold" fill="#111">c-Kit</text>
<text transform="translate(12.30,332.00) scale(1.0,1) rotate(-90)" x="0" y="3.71" font-size="10.3" text-anchor="middle" font-weight="bold" fill="#111">Trim47<tspan font-size="6.00" font-weight="normal" dy="-3.00">-/-</tspan></text>
<line x1="26.30" y1="372.50" x2="26.30" y2="227.20" stroke="#111" stroke-width="1.1" />
<path d="M23.70,229.20 L26.30,222.20 L28.90,229.20 Z" fill="#111"/>
<line x1="42.00" y1="383.60" x2="110.80" y2="383.60" stroke="#111" stroke-width="1.1" />
<path d="M108.80,381.00 L115.80,383.60 L108.80,386.20 Z" fill="#111"/>
<text transform="translate(76.20,394.40) scale(1,1.15)" font-size="10" text-anchor="middle" font-weight="bold" fill="#111" >Sca1</text>
<text transform="translate(131.20,300.00) scale(1.0,1) rotate(-90)" x="0" y="3.71" font-size="10.3" text-anchor="middle" font-weight="bold" fill="#111">Flk2</text>
<line x1="138.20" y1="376.00" x2="138.20" y2="226.80" stroke="#111" stroke-width="1.1" />
<path d="M135.60,228.80 L138.20,221.80 L140.80,228.80 Z" fill="#111"/>
<line x1="153.40" y1="383.40" x2="221.60" y2="383.40" stroke="#111" stroke-width="1.1" />
<path d="M219.60,380.80 L226.60,383.40 L219.60,386.00 Z" fill="#111"/>
<text transform="translate(188.00,394.40) scale(1,1.15)" font-size="10" text-anchor="middle" font-weight="bold" fill="#111" >CD34</text>
<text transform="translate(241.90,297.40) scale(1.0,1) rotate(-90)" x="0" y="3.71" font-size="10.3" text-anchor="middle" font-weight="bold" fill="#111">CD48</text>
<line x1="248.00" y1="372.00" x2="248.00" y2="227.50" stroke="#111" stroke-width="1.1" />
<path d="M245.40,229.50 L248.00,222.50 L250.60,229.50 Z" fill="#111"/>
<line x1="264.40" y1="383.40" x2="332.60" y2="383.40" stroke="#111" stroke-width="1.1" />
<path d="M330.60,380.80 L337.60,383.40 L330.60,386.00 Z" fill="#111"/>
<text transform="translate(302.00,394.40) scale(1,1.15)" font-size="10" text-anchor="middle" font-weight="bold" fill="#111" >CD150</text>
<rect x="41.5" y="221.3" width="75.20" height="74.90" fill="none" stroke="#3a3a3a" stroke-width="0.9"/>
<path fill="#666" opacity="0.6" d="M68.8 265.5h.7v.7h-.7zM91.5 259.6h.7v.7h-.7zM81.8 261.5h.7v.7h-.7zM87.5 264.9h.7v.7h-.7zM67.4 257.3h.7v.7h-.7zM94.1 261.3h.7v.7h-.7zM91.4 257.0h.7v.7h-.7zM80.0 264.2h.7v.7h-.7zM72.2 266.5h.7v.7h-.7zM96.5 257.3h.7v.7h-.7zM64.9 262.4h.7v.7h-.7zM97.8 260.8h.7v.7h-.7zM71.8 261.2h.7v.7h-.7zM65.0 259.2h.7v.7h-.7zM79.8 262.0h.7v.7h-.7zM72.4 259.3h.7v.7h-.7zM71.9 261.6h.7v.7h-.7zM74.4 257.2h.7v.7h-.7zM94.2 262.6h.7v.7h-.7zM87.1 258.9h.7v.7h-.7zM99.7 265.6h.7v.7h-.7zM68.4 260.3h.7v.7h-.7zM90.0 264.1h.7v.7h-.7zM97.7 261.2h.7v.7h-.7zM93.9 263.7h.7v.7h-.7zM74.9 262.9h.7v.7h-.7zM95.8 265.5h.7v.7h-.7zM82.2 262.9h.7v.7h-.7zM65.2 259.4h.7v.7h-.7zM92.7 261.1h.7v.7h-.7zM70.2 262.5h.7v.7h-.7zM89.3 263.7h.7v.7h-.7zM77.5 261.4h.7v.7h-.7zM82.3 264.8h.7v.7h-.7zM82.8 260.9h.7v.7h-.7zM81.6 257.3h.7v.7h-.7zM65.6 264.0h.7v.7h-.7zM99.4 262.9h.7v.7h-.7zM78.2 258.7h.7v.7h-.7zM82.1 266.8h.7v.7h-.7zM91.7 262.4h.7v.7h-.7zM95.0 259.3h.7v.7h-.7zM82.5 266.5h.7v.7h-.7zM84.8 261.6h.7v.7h-.7zM73.7 262.5h.7v.7h-.7zM98.5 257.1h.7v.7h-.7zM92.2 265.2h.7v.7h-.7zM95.9 264.4h.7v.7h-.7zM93.1 262.2h.7v.7h-.7zM84.2 261.3h.7v.7h-.7zM66.0 265.7h.7v.7h-.7zM84.5 259.0h.7v.7h-.7zM82.2 261.8h.7v.7h-.7zM76.8 260.5h.7v.7h-.7zM83.4 263.2h.7v.7h-.7zM86.0 261.6h.7v.7h-.7zM65.0 259.3h.7v.7h-.7zM70.4 262.8h.7v.7h-.7zM95.0 265.0h.7v.7h-.7zM92.7 265.2h.7v.7h-.7zM73.2 265.4h.7v.7h-.7zM88.2 257.8h.7v.7h-.7zM64.6 257.1h.7v.7h-.7zM91.2 259.5h.7v.7h-.7zM67.9 263.2h.7v.7h-.7zM76.4 257.7h.7v.7h-.7zM69.7 262.3h.7v.7h-.7zM70.1 259.7h.7v.7h-.7zM89.6 261.5h.7v.7h-.7zM75.6 261.7h.7v.7h-.7zM64.9 260.9h.7v.7h-.7zM79.2 258.9h.7v.7h-.7zM67.9 266.0h.7v.7h-.7zM82.4 259.1h.7v.7h-.7zM85.8 265.2h.7v.7h-.7zM64.7 257.2h.7v.7h-.7zM69.3 264.2h.7v.7h-.7zM69.8 264.0h.7v.7h-.7zM88.4 262.4h.7v.7h-.7zM71.9 266.8h.7v.7h-.7zM92.7 262.2h.7v.7h-.7zM72.0 263.5h.7v.7h-.7zM78.2 262.8h.7v.7h-.7zM75.6 263.3h.7v.7h-.7zM66.1 260.0h.7v.7h-.7zM98.8 265.8h.7v.7h-.7zM75.0 265.6h.7v.7h-.7zM75.2 266.4h.7v.7h-.7zM90.8 261.2h.7v.7h-.7zM73.1 257.1h.7v.7h-.7zM95.6 257.4h.7v.7h-.7zM93.5 266.6h.7v.7h-.7zM84.5 258.7h.7v.7h-.7zM95.2 266.7h.7v.7h-.7zM89.3 262.1h.7v.7h-.7zM77.6 260.5h.7v.7h-.7zM71.4 263.7h.7v.7h-.7zM79.6 258.9h.7v.7h-.7zM67.8 263.7h.7v.7h-.7zM74.7 262.0h.7v.7h-.7zM75.7 265.7h.7v.7h-.7zM96.4 257.2h.7v.7h-.7zM71.2 260.3h.7v.7h-.7zM99.5 264.8h.7v.7h-.7zM76.2 259.1h.7v.7h-.7zM88.3 265.4h.7v.7h-.7zM97.6 260.4h.7v.7h-.7zM95.8 263.9h.7v.7h-.7zM81.4 266.9h.7v.7h-.7zM72.4 264.3h.7v.7h-.7zM67.0 258.7h.7v.7h-.7zM96.8 259.1h.7v.7h-.7zM91.3 263.0h.7v.7h-.7zM94.3 260.7h.7v.7h-.7zM76.3 259.9h.7v.7h-.7zM95.2 263.0h.7v.7h-.7zM98.4 265.9h.7v.7h-.7zM68.9 262.5h.7v.7h-.7zM67.8 257.4h.7v.7h-.7zM66.6 265.7h.7v.7h-.7zM92.4 265.3h.7v.7h-.7zM76.3 263.2h.7v.7h-.7zM92.1 260.8h.7v.7h-.7zM84.5 259.2h.7v.7h-.7zM66.9 259.7h.7v.7h-.7zM96.1 262.6h.7v.7h-.7zM97.3 261.6h.7v.7h-.7zM74.0 264.9h.7v.7h-.7zM93.8 257.1h.7v.7h-.7zM88.1 257.9h.7v.7h-.7zM68.1 265.9h.7v.7h-.7zM65.4 259.4h.7v.7h-.7zM99.6 261.2h.7v.7h-.7zM68.2 258.7h.7v.7h-.7zM72.7 264.4h.7v.7h-.7zM67.7 266.1h.7v.7h-.7zM77.6 266.7h.7v.7h-.7zM96.7 259.9h.7v.7h-.7zM73.1 261.8h.7v.7h-.7zM67.6 263.5h.7v.7h-.7zM65.4 257.1h.7v.7h-.7zM99.4 260.0h.7v.7h-.7zM85.5 261.5h.7v.7h-.7zM75.3 257.6h.7v.7h-.7zM96.9 266.7h.7v.7h-.7zM98.9 258.1h.7v.7h-.7zM71.7 263.2h.7v.7h-.7zM99.3 262.4h.7v.7h-.7zM88.8 263.6h.7v.7h-.7zM73.3 262.4h.7v.7h-.7z"/>
<path fill="#666" opacity="0.6" d="M96.5 250.1h.7v.7h-.7zM103.4 288.0h.7v.7h-.7zM94.4 274.5h.7v.7h-.7zM89.9 251.5h.7v.7h-.7zM91.2 276.0h.7v.7h-.7zM89.8 290.5h.7v.7h-.7zM87.3 250.1h.7v.7h-.7zM87.6 280.0h.7v.7h-.7zM92.6 264.5h.7v.7h-.7zM91.9 273.1h.7v.7h-.7zM93.3 250.8h.7v.7h-.7zM93.7 255.8h.7v.7h-.7zM88.0 282.8h.7v.7h-.7zM98.2 274.6h.7v.7h-.7zM101.9 260.5h.7v.7h-.7zM92.8 262.0h.7v.7h-.7zM93.3 274.8h.7v.7h-.7zM86.1 264.1h.7v.7h-.7zM95.6 258.0h.7v.7h-.7zM86.4 276.6h.7v.7h-.7zM86.2 269.3h.7v.7h-.7zM88.8 241.8h.7v.7h-.7zM89.3 243.4h.7v.7h-.7zM88.7 275.6h.7v.7h-.7zM99.1 258.9h.7v.7h-.7zM97.7 264.7h.7v.7h-.7zM95.0 285.5h.7v.7h-.7zM91.6 285.2h.7v.7h-.7zM98.4 275.5h.7v.7h-.7zM86.1 244.4h.7v.7h-.7zM86.6 258.0h.7v.7h-.7zM103.0 285.5h.7v.7h-.7zM101.1 246.2h.7v.7h-.7zM98.7 280.3h.7v.7h-.7zM100.6 281.2h.7v.7h-.7zM88.5 249.3h.7v.7h-.7zM100.3 278.4h.7v.7h-.7zM102.1 263.2h.7v.7h-.7zM102.0 247.2h.7v.7h-.7zM103.2 286.0h.7v.7h-.7zM92.1 243.5h.7v.7h-.7zM95.9 275.8h.7v.7h-.7zM92.3 243.0h.7v.7h-.7zM91.0 282.9h.7v.7h-.7zM87.6 288.7h.7v.7h-.7zM90.5 250.6h.7v.7h-.7zM88.0 291.0h.7v.7h-.7zM102.2 256.6h.7v.7h-.7zM87.7 274.0h.7v.7h-.7zM102.0 240.6h.7v.7h-.7zM97.4 284.5h.7v.7h-.7zM94.3 269.6h.7v.7h-.7zM100.5 252.4h.7v.7h-.7zM90.9 274.3h.7v.7h-.7zM95.9 267.8h.7v.7h-.7zM92.0 288.7h.7v.7h-.7zM91.2 275.3h.7v.7h-.7zM102.1 260.8h.7v.7h-.7zM87.0 251.5h.7v.7h-.7zM87.2 247.7h.7v.7h-.7zM88.2 257.8h.7v.7h-.7zM92.7 263.3h.7v.7h-.7zM98.0 275.2h.7v.7h-.7zM98.4 258.9h.7v.7h-.7zM97.9 268.6h.7v.7h-.7zM88.3 268.4h.7v.7h-.7zM91.7 275.1h.7v.7h-.7zM99.2 252.5h.7v.7h-.7zM93.8 263.7h.7v.7h-.7zM91.3 242.1h.7v.7h-.7zM86.9 291.6h.7v.7h-.7zM99.3 262.8h.7v.7h-.7zM98.0 254.0h.7v.7h-.7zM98.8 289.4h.7v.7h-.7zM99.9 264.2h.7v.7h-.7zM103.7 287.9h.7v.7h-.7zM87.0 261.4h.7v.7h-.7zM94.1 254.3h.7v.7h-.7zM97.1 247.5h.7v.7h-.7zM99.4 284.6h.7v.7h-.7zM87.1 276.0h.7v.7h-.7zM90.8 273.2h.7v.7h-.7zM98.4 290.8h.7v.7h-.7zM100.4 257.6h.7v.7h-.7zM99.1 247.6h.7v.7h-.7zM98.8 261.7h.7v.7h-.7zM90.8 252.4h.7v.7h-.7zM89.9 281.4h.7v.7h-.7zM87.7 252.1h.7v.7h-.7zM89.5 248.2h.7v.7h-.7zM99.1 270.5h.7v.7h-.7zM98.0 286.8h.7v.7h-.7zM94.1 242.0h.7v.7h-.7zM89.4 266.9h.7v.7h-.7zM98.9 287.8h.7v.7h-.7zM95.2 251.8h.7v.7h-.7zM96.7 288.6h.7v.7h-.7zM92.0 288.4h.7v.7h-.7zM102.3 270.0h.7v.7h-.7zM94.7 246.7h.7v.7h-.7zM88.0 242.1h.7v.7h-.7zM97.0 277.1h.7v.7h-.7zM103.9 271.3h.7v.7h-.7zM103.9 261.0h.7v.7h-.7zM88.4 243.1h.7v.7h-.7zM91.2 267.6h.7v.7h-.7zM103.8 255.5h.7v.7h-.7zM90.2 277.6h.7v.7h-.7zM93.0 269.0h.7v.7h-.7zM88.7 284.4h.7v.7h-.7zM102.5 279.3h.7v.7h-.7zM102.8 257.3h.7v.7h-.7zM86.6 255.9h.7v.7h-.7zM102.2 264.4h.7v.7h-.7zM89.6 247.9h.7v.7h-.7zM89.0 262.8h.7v.7h-.7zM102.7 286.0h.7v.7h-.7zM99.6 279.3h.7v.7h-.7zM89.4 280.4h.7v.7h-.7zM90.0 267.3h.7v.7h-.7zM86.6 286.4h.7v.7h-.7zM88.3 270.8h.7v.7h-.7zM97.9 273.5h.7v.7h-.7zM98.3 259.2h.7v.7h-.7zM100.3 288.8h.7v.7h-.7zM97.1 290.9h.7v.7h-.7zM101.3 242.9h.7v.7h-.7zM98.1 244.8h.7v.7h-.7zM97.9 259.3h.7v.7h-.7zM101.4 242.3h.7v.7h-.7zM103.0 242.3h.7v.7h-.7zM87.0 240.1h.7v.7h-.7zM88.3 291.3h.7v.7h-.7zM101.0 287.7h.7v.7h-.7zM89.4 275.8h.7v.7h-.7zM100.3 277.8h.7v.7h-.7zM90.9 290.5h.7v.7h-.7zM99.1 275.6h.7v.7h-.7zM91.1 260.7h.7v.7h-.7zM99.6 266.8h.7v.7h-.7zM94.8 287.8h.7v.7h-.7zM93.6 284.7h.7v.7h-.7zM86.8 267.6h.7v.7h-.7zM98.8 240.6h.7v.7h-.7zM98.5 254.9h.7v.7h-.7zM97.3 272.4h.7v.7h-.7zM88.5 289.1h.7v.7h-.7zM90.4 247.1h.7v.7h-.7zM94.0 243.3h.7v.7h-.7zM87.8 279.6h.7v.7h-.7zM87.8 268.1h.7v.7h-.7zM101.9 263.6h.7v.7h-.7zM100.7 283.2h.7v.7h-.7zM89.0 244.0h.7v.7h-.7zM100.1 285.1h.7v.7h-.7zM101.4 277.1h.7v.7h-.7zM95.2 289.8h.7v.7h-.7zM99.3 279.7h.7v.7h-.7zM102.4 242.8h.7v.7h-.7zM99.3 270.4h.7v.7h-.7zM86.2 253.3h.7v.7h-.7zM98.9 267.5h.7v.7h-.7zM96.1 254.9h.7v.7h-.7zM96.2 285.7h.7v.7h-.7zM103.6 268.7h.7v.7h-.7zM99.2 244.5h.7v.7h-.7zM88.5 269.1h.7v.7h-.7zM100.9 246.2h.7v.7h-.7zM88.7 266.0h.7v.7h-.7zM91.5 247.3h.7v.7h-.7zM88.9 262.1h.7v.7h-.7zM100.3 248.9h.7v.7h-.7zM100.5 243.9h.7v.7h-.7zM90.5 274.8h.7v.7h-.7zM86.1 256.7h.7v.7h-.7zM88.8 252.0h.7v.7h-.7zM102.0 248.3h.7v.7h-.7zM99.0 287.3h.7v.7h-.7zM90.4 284.9h.7v.7h-.7zM91.8 280.2h.7v.7h-.7zM96.5 258.2h.7v.7h-.7zM102.0 276.2h.7v.7h-.7zM91.7 269.8h.7v.7h-.7zM91.3 254.9h.7v.7h-.7zM102.9 290.7h.7v.7h-.7zM88.8 287.7h.7v.7h-.7zM98.8 240.6h.7v.7h-.7zM87.9 262.7h.7v.7h-.7zM102.0 285.4h.7v.7h-.7zM90.5 263.2h.7v.7h-.7zM102.7 250.9h.7v.7h-.7zM87.9 261.6h.7v.7h-.7zM98.3 285.4h.7v.7h-.7zM101.8 240.6h.7v.7h-.7zM89.2 246.7h.7v.7h-.7zM96.7 261.1h.7v.7h-.7zM102.6 272.0h.7v.7h-.7zM97.1 275.7h.7v.7h-.7zM89.7 286.5h.7v.7h-.7zM101.5 282.8h.7v.7h-.7z"/>
<path fill="#666" opacity="0.6" d="M51.5 282.6h.7v.7h-.7zM48.2 282.1h.7v.7h-.7zM87.1 286.6h.7v.7h-.7zM72.4 287.3h.7v.7h-.7zM71.5 288.5h.7v.7h-.7zM79.7 280.5h.7v.7h-.7zM77.5 284.2h.7v.7h-.7zM75.9 281.4h.7v.7h-.7zM84.2 281.1h.7v.7h-.7zM63.6 281.6h.7v.7h-.7zM61.9 281.0h.7v.7h-.7zM87.2 286.3h.7v.7h-.7zM49.6 285.3h.7v.7h-.7zM52.1 286.1h.7v.7h-.7zM69.2 284.9h.7v.7h-.7zM87.6 287.6h.7v.7h-.7zM83.5 282.2h.7v.7h-.7zM52.9 285.4h.7v.7h-.7zM75.8 288.8h.7v.7h-.7zM93.8 281.1h.7v.7h-.7zM69.4 286.8h.7v.7h-.7zM69.8 289.6h.7v.7h-.7zM48.7 283.6h.7v.7h-.7zM91.8 289.4h.7v.7h-.7zM74.3 281.8h.7v.7h-.7zM78.8 282.5h.7v.7h-.7zM84.2 282.8h.7v.7h-.7zM58.0 285.5h.7v.7h-.7zM88.1 284.4h.7v.7h-.7zM78.8 285.3h.7v.7h-.7zM75.3 279.1h.7v.7h-.7zM67.4 288.6h.7v.7h-.7zM74.6 287.6h.7v.7h-.7zM97.6 279.4h.7v.7h-.7zM85.9 284.4h.7v.7h-.7zM48.1 281.4h.7v.7h-.7zM73.7 284.1h.7v.7h-.7zM93.3 282.9h.7v.7h-.7zM89.0 283.5h.7v.7h-.7zM97.0 289.7h.7v.7h-.7zM56.4 288.0h.7v.7h-.7zM53.9 282.7h.7v.7h-.7zM94.1 283.8h.7v.7h-.7zM49.1 279.1h.7v.7h-.7zM99.3 288.4h.7v.7h-.7zM98.1 282.7h.7v.7h-.7zM63.9 286.5h.7v.7h-.7zM50.6 285.6h.7v.7h-.7zM56.0 281.1h.7v.7h-.7zM87.3 281.6h.7v.7h-.7zM99.4 286.4h.7v.7h-.7zM79.2 286.1h.7v.7h-.7zM60.4 289.5h.7v.7h-.7zM50.1 289.0h.7v.7h-.7zM75.7 285.6h.7v.7h-.7zM76.3 283.3h.7v.7h-.7zM56.6 282.9h.7v.7h-.7zM81.3 282.4h.7v.7h-.7zM89.4 286.6h.7v.7h-.7zM49.5 280.0h.7v.7h-.7zM92.0 284.9h.7v.7h-.7zM54.9 284.8h.7v.7h-.7zM76.6 286.8h.7v.7h-.7zM72.8 289.2h.7v.7h-.7zM48.8 288.8h.7v.7h-.7zM84.8 283.1h.7v.7h-.7zM53.3 280.6h.7v.7h-.7zM84.6 286.3h.7v.7h-.7zM75.6 279.9h.7v.7h-.7zM53.2 284.3h.7v.7h-.7zM53.6 282.2h.7v.7h-.7zM49.4 281.5h.7v.7h-.7zM76.7 287.8h.7v.7h-.7zM48.7 282.3h.7v.7h-.7zM65.2 281.4h.7v.7h-.7zM69.2 279.0h.7v.7h-.7zM57.8 281.9h.7v.7h-.7zM92.5 282.3h.7v.7h-.7zM83.9 287.4h.7v.7h-.7zM84.1 283.8h.7v.7h-.7zM64.3 284.8h.7v.7h-.7zM66.7 282.4h.7v.7h-.7zM67.4 279.6h.7v.7h-.7zM79.4 283.4h.7v.7h-.7zM51.1 282.7h.7v.7h-.7zM51.3 284.5h.7v.7h-.7zM76.6 289.7h.7v.7h-.7zM55.9 285.3h.7v.7h-.7zM89.2 281.7h.7v.7h-.7zM71.5 285.4h.7v.7h-.7zM53.8 283.9h.7v.7h-.7zM95.0 289.0h.7v.7h-.7zM95.3 279.1h.7v.7h-.7zM82.8 287.1h.7v.7h-.7zM64.4 281.6h.7v.7h-.7zM83.2 282.8h.7v.7h-.7zM95.6 282.5h.7v.7h-.7zM93.0 286.7h.7v.7h-.7zM68.0 286.9h.7v.7h-.7zM94.8 286.9h.7v.7h-.7zM62.7 280.3h.7v.7h-.7zM78.9 287.4h.7v.7h-.7zM79.8 281.6h.7v.7h-.7zM82.0 286.8h.7v.7h-.7zM68.3 286.6h.7v.7h-.7zM83.0 289.6h.7v.7h-.7zM49.0 289.5h.7v.7h-.7zM85.7 280.5h.7v.7h-.7zM56.6 283.1h.7v.7h-.7zM80.0 285.4h.7v.7h-.7zM69.7 288.4h.7v.7h-.7zM75.3 285.6h.7v.7h-.7zM84.5 288.2h.7v.7h-.7zM56.3 279.9h.7v.7h-.7zM72.5 288.2h.7v.7h-.7zM94.4 284.9h.7v.7h-.7zM55.7 286.0h.7v.7h-.7zM92.2 287.3h.7v.7h-.7zM57.1 279.5h.7v.7h-.7zM72.1 281.6h.7v.7h-.7z"/>
<path fill="#666" opacity="0.6" d="M47.8 277.6h.7v.7h-.7zM48.5 263.3h.7v.7h-.7zM46.7 272.1h.7v.7h-.7zM46.8 284.8h.7v.7h-.7zM46.7 284.4h.7v.7h-.7zM45.7 262.7h.7v.7h-.7zM48.9 283.9h.7v.7h-.7zM50.9 257.0h.7v.7h-.7zM49.4 280.0h.7v.7h-.7zM46.2 278.3h.7v.7h-.7zM50.7 284.5h.7v.7h-.7zM46.5 275.0h.7v.7h-.7zM48.2 284.1h.7v.7h-.7zM50.4 244.7h.7v.7h-.7zM51.6 278.6h.7v.7h-.7zM47.0 284.5h.7v.7h-.7zM46.1 283.5h.7v.7h-.7zM49.2 245.0h.7v.7h-.7zM50.7 257.3h.7v.7h-.7zM45.5 250.9h.7v.7h-.7zM45.6 263.0h.7v.7h-.7zM47.0 282.6h.7v.7h-.7zM47.7 248.5h.7v.7h-.7zM45.0 273.7h.7v.7h-.7zM45.8 284.2h.7v.7h-.7zM50.3 267.9h.7v.7h-.7zM49.0 255.8h.7v.7h-.7zM51.3 257.0h.7v.7h-.7zM46.0 268.3h.7v.7h-.7zM51.1 284.7h.7v.7h-.7zM47.7 254.0h.7v.7h-.7zM48.2 248.5h.7v.7h-.7zM49.2 253.2h.7v.7h-.7zM47.1 277.1h.7v.7h-.7zM51.6 270.1h.7v.7h-.7zM47.0 283.8h.7v.7h-.7zM49.2 267.2h.7v.7h-.7zM47.8 278.7h.7v.7h-.7zM47.3 250.8h.7v.7h-.7zM47.5 257.3h.7v.7h-.7z"/>
<path fill="#555" opacity="0.55" d="M76.4 281.6h.7v.7h-.7zM84.1 240.2h.7v.7h-.7zM64.8 247.0h.7v.7h-.7zM73.6 244.4h.7v.7h-.7zM50.0 259.2h.7v.7h-.7zM88.8 246.5h.7v.7h-.7zM53.7 258.0h.7v.7h-.7zM77.4 281.1h.7v.7h-.7zM74.8 246.1h.7v.7h-.7zM93.0 279.3h.7v.7h-.7zM78.9 257.0h.7v.7h-.7zM91.4 279.1h.7v.7h-.7zM67.5 259.7h.7v.7h-.7zM78.9 242.0h.7v.7h-.7zM78.6 242.3h.7v.7h-.7zM96.9 275.6h.7v.7h-.7zM83.7 281.9h.7v.7h-.7zM83.3 245.2h.7v.7h-.7zM86.3 284.9h.7v.7h-.7zM94.6 278.8h.7v.7h-.7zM76.7 266.6h.7v.7h-.7zM90.2 250.3h.7v.7h-.7zM82.8 282.4h.7v.7h-.7zM50.5 248.6h.7v.7h-.7zM84.0 257.3h.7v.7h-.7zM69.7 260.8h.7v.7h-.7zM89.7 250.6h.7v.7h-.7zM81.3 266.3h.7v.7h-.7zM52.7 241.2h.7v.7h-.7zM85.3 244.9h.7v.7h-.7zM92.4 282.9h.7v.7h-.7zM50.5 272.8h.7v.7h-.7zM71.1 286.6h.7v.7h-.7zM93.5 267.0h.7v.7h-.7zM83.4 283.2h.7v.7h-.7zM88.9 247.4h.7v.7h-.7zM73.7 243.5h.7v.7h-.7zM72.9 265.4h.7v.7h-.7zM81.7 255.1h.7v.7h-.7zM82.6 244.1h.7v.7h-.7zM85.8 267.9h.7v.7h-.7zM89.5 276.4h.7v.7h-.7zM94.1 264.5h.7v.7h-.7zM78.2 244.2h.7v.7h-.7zM82.7 263.7h.7v.7h-.7zM92.8 281.8h.7v.7h-.7zM77.3 266.3h.7v.7h-.7zM76.2 279.6h.7v.7h-.7zM78.4 280.5h.7v.7h-.7zM71.1 285.4h.7v.7h-.7zM71.1 263.5h.7v.7h-.7zM87.1 244.3h.7v.7h-.7zM79.9 241.5h.7v.7h-.7zM92.8 267.0h.7v.7h-.7zM79.2 241.1h.7v.7h-.7zM53.6 238.5h.7v.7h-.7zM94.4 249.3h.7v.7h-.7zM77.0 280.3h.7v.7h-.7zM88.4 266.2h.7v.7h-.7zM67.1 241.3h.7v.7h-.7zM90.8 269.1h.7v.7h-.7zM77.6 260.5h.7v.7h-.7zM89.6 241.6h.7v.7h-.7zM48.3 277.8h.7v.7h-.7zM85.4 282.2h.7v.7h-.7zM47.6 269.8h.7v.7h-.7zM86.4 246.7h.7v.7h-.7zM72.0 239.7h.7v.7h-.7zM95.6 277.7h.7v.7h-.7zM84.4 255.5h.7v.7h-.7zM89.9 251.2h.7v.7h-.7zM52.1 281.2h.7v.7h-.7zM84.6 262.6h.7v.7h-.7zM68.4 277.7h.7v.7h-.7zM80.5 262.9h.7v.7h-.7zM91.4 278.7h.7v.7h-.7zM50.9 242.8h.7v.7h-.7zM50.8 244.9h.7v.7h-.7zM92.0 278.0h.7v.7h-.7zM87.8 256.1h.7v.7h-.7zM88.4 249.6h.7v.7h-.7zM72.7 253.0h.7v.7h-.7zM79.5 259.5h.7v.7h-.7zM72.6 264.6h.7v.7h-.7zM76.7 266.8h.7v.7h-.7zM96.9 275.4h.7v.7h-.7zM86.5 254.1h.7v.7h-.7zM49.1 264.8h.7v.7h-.7zM52.6 254.8h.7v.7h-.7zM70.6 240.5h.7v.7h-.7zM53.0 280.2h.7v.7h-.7zM76.0 262.4h.7v.7h-.7zM67.6 243.8h.7v.7h-.7zM79.9 285.4h.7v.7h-.7zM51.2 259.3h.7v.7h-.7zM82.0 239.2h.7v.7h-.7zM84.5 242.0h.7v.7h-.7zM50.6 272.8h.7v.7h-.7zM53.1 255.4h.7v.7h-.7zM94.8 271.9h.7v.7h-.7zM76.8 284.9h.7v.7h-.7zM96.6 277.1h.7v.7h-.7zM101.4 278.8h.7v.7h-.7zM81.3 265.8h.7v.7h-.7zM56.7 286.2h.7v.7h-.7zM92.5 268.2h.7v.7h-.7zM87.0 280.0h.7v.7h-.7zM55.0 279.3h.7v.7h-.7zM67.1 266.4h.7v.7h-.7zM89.0 254.1h.7v.7h-.7zM90.3 261.9h.7v.7h-.7zM49.2 246.3h.7v.7h-.7zM87.3 266.5h.7v.7h-.7zM85.4 250.2h.7v.7h-.7zM70.5 266.4h.7v.7h-.7zM77.0 258.4h.7v.7h-.7zM87.9 254.0h.7v.7h-.7zM78.6 255.5h.7v.7h-.7zM72.7 266.1h.7v.7h-.7zM96.3 278.7h.7v.7h-.7zM95.2 285.1h.7v.7h-.7zM50.9 266.6h.7v.7h-.7zM85.0 243.5h.7v.7h-.7zM80.3 280.0h.7v.7h-.7zM85.5 265.8h.7v.7h-.7zM89.9 246.3h.7v.7h-.7zM95.2 280.2h.7v.7h-.7zM79.2 280.9h.7v.7h-.7zM94.2 269.0h.7v.7h-.7zM76.8 277.5h.7v.7h-.7zM45.7 273.5h.7v.7h-.7zM48.7 256.1h.7v.7h-.7zM85.7 282.2h.7v.7h-.7zM72.8 267.2h.7v.7h-.7zM64.9 278.7h.7v.7h-.7zM52.2 253.7h.7v.7h-.7zM73.9 261.6h.7v.7h-.7zM90.9 263.9h.7v.7h-.7zM92.3 276.7h.7v.7h-.7zM80.8 284.5h.7v.7h-.7zM56.1 267.0h.7v.7h-.7zM79.5 239.7h.7v.7h-.7zM75.8 267.0h.7v.7h-.7zM91.0 247.2h.7v.7h-.7zM87.0 269.7h.7v.7h-.7zM56.9 249.5h.7v.7h-.7zM92.8 281.2h.7v.7h-.7zM87.4 264.7h.7v.7h-.7zM73.6 257.8h.7v.7h-.7zM49.0 276.0h.7v.7h-.7zM56.4 282.8h.7v.7h-.7zM82.8 286.4h.7v.7h-.7zM96.3 276.0h.7v.7h-.7zM88.7 246.1h.7v.7h-.7zM77.0 257.5h.7v.7h-.7zM46.7 271.4h.7v.7h-.7zM76.1 245.1h.7v.7h-.7zM92.4 272.5h.7v.7h-.7zM83.6 265.7h.7v.7h-.7zM87.6 280.1h.7v.7h-.7zM92.0 264.1h.7v.7h-.7zM86.8 264.8h.7v.7h-.7zM78.2 243.2h.7v.7h-.7zM75.8 263.2h.7v.7h-.7zM48.7 252.8h.7v.7h-.7zM84.1 263.1h.7v.7h-.7zM80.6 257.1h.7v.7h-.7zM84.0 253.4h.7v.7h-.7zM95.2 266.0h.7v.7h-.7zM84.5 258.5h.7v.7h-.7zM83.7 258.4h.7v.7h-.7zM77.8 278.1h.7v.7h-.7zM74.9 266.3h.7v.7h-.7zM73.8 287.7h.7v.7h-.7zM78.2 260.9h.7v.7h-.7zM86.0 244.6h.7v.7h-.7zM58.7 241.9h.7v.7h-.7zM85.4 268.9h.7v.7h-.7zM86.6 264.7h.7v.7h-.7zM50.4 248.2h.7v.7h-.7zM60.3 278.1h.7v.7h-.7zM75.2 262.0h.7v.7h-.7zM85.8 264.6h.7v.7h-.7zM50.7 265.8h.7v.7h-.7zM50.5 254.3h.7v.7h-.7zM87.9 246.0h.7v.7h-.7zM72.3 280.8h.7v.7h-.7zM74.8 280.3h.7v.7h-.7zM96.1 269.5h.7v.7h-.7zM55.4 279.1h.7v.7h-.7zM71.8 258.9h.7v.7h-.7zM80.3 243.8h.7v.7h-.7zM86.9 280.8h.7v.7h-.7zM86.6 282.0h.7v.7h-.7zM77.7 281.4h.7v.7h-.7zM79.2 261.0h.7v.7h-.7zM85.3 244.7h.7v.7h-.7zM49.4 279.6h.7v.7h-.7zM69.7 266.9h.7v.7h-.7zM65.6 253.5h.7v.7h-.7zM93.6 276.3h.7v.7h-.7zM72.4 253.8h.7v.7h-.7zM76.1 258.1h.7v.7h-.7zM78.7 278.7h.7v.7h-.7zM80.5 283.5h.7v.7h-.7zM90.3 263.8h.7v.7h-.7zM85.4 259.0h.7v.7h-.7zM80.2 263.6h.7v.7h-.7zM87.8 242.0h.7v.7h-.7zM74.5 256.0h.7v.7h-.7zM88.0 265.7h.7v.7h-.7zM83.2 260.7h.7v.7h-.7zM54.8 280.4h.7v.7h-.7zM84.1 280.8h.7v.7h-.7zM87.8 243.1h.7v.7h-.7zM76.8 261.7h.7v.7h-.7zM51.1 258.3h.7v.7h-.7zM51.7 241.4h.7v.7h-.7zM92.4 271.3h.7v.7h-.7zM69.8 282.4h.7v.7h-.7zM75.5 281.2h.7v.7h-.7zM89.8 250.7h.7v.7h-.7zM53.5 247.7h.7v.7h-.7zM68.0 239.4h.7v.7h-.7zM86.4 238.3h.7v.7h-.7zM95.7 274.7h.7v.7h-.7zM74.9 241.4h.7v.7h-.7zM71.8 282.5h.7v.7h-.7zM86.9 244.4h.7v.7h-.7zM76.4 242.3h.7v.7h-.7zM75.0 245.7h.7v.7h-.7zM93.8 282.3h.7v.7h-.7zM76.2 255.6h.7v.7h-.7zM95.5 276.8h.7v.7h-.7zM87.3 265.9h.7v.7h-.7zM69.5 280.2h.7v.7h-.7zM59.5 237.1h.7v.7h-.7zM72.1 283.6h.7v.7h-.7zM75.4 258.4h.7v.7h-.7zM82.4 255.4h.7v.7h-.7zM85.3 244.1h.7v.7h-.7zM61.1 282.5h.7v.7h-.7zM89.1 251.6h.7v.7h-.7zM78.0 279.5h.7v.7h-.7zM55.0 279.2h.7v.7h-.7zM86.7 283.6h.7v.7h-.7zM90.2 281.2h.7v.7h-.7zM69.1 259.6h.7v.7h-.7zM56.0 288.4h.7v.7h-.7zM82.9 259.3h.7v.7h-.7zM87.0 246.4h.7v.7h-.7zM74.8 259.4h.7v.7h-.7zM92.5 252.3h.7v.7h-.7zM78.6 267.6h.7v.7h-.7zM44.6 251.0h.7v.7h-.7zM89.7 264.1h.7v.7h-.7zM50.5 250.3h.7v.7h-.7zM92.0 251.2h.7v.7h-.7zM87.4 253.5h.7v.7h-.7zM94.8 274.2h.7v.7h-.7zM80.9 281.5h.7v.7h-.7zM77.5 260.8h.7v.7h-.7zM90.3 247.5h.7v.7h-.7zM73.5 266.7h.7v.7h-.7zM82.6 266.0h.7v.7h-.7zM76.5 240.5h.7v.7h-.7zM90.9 244.7h.7v.7h-.7zM91.9 252.2h.7v.7h-.7zM72.8 258.7h.7v.7h-.7zM53.0 267.4h.7v.7h-.7zM80.9 281.1h.7v.7h-.7zM79.8 255.7h.7v.7h-.7zM67.0 259.5h.7v.7h-.7zM59.9 238.5h.7v.7h-.7zM72.4 263.0h.7v.7h-.7zM49.1 255.0h.7v.7h-.7zM78.4 257.9h.7v.7h-.7zM51.3 276.7h.7v.7h-.7zM55.4 264.4h.7v.7h-.7zM80.6 262.5h.7v.7h-.7zM95.6 272.4h.7v.7h-.7zM95.5 243.3h.7v.7h-.7zM77.2 241.9h.7v.7h-.7zM81.6 244.3h.7v.7h-.7zM71.2 281.1h.7v.7h-.7zM67.2 241.6h.7v.7h-.7zM71.1 251.2h.7v.7h-.7zM51.8 257.7h.7v.7h-.7zM84.6 279.8h.7v.7h-.7zM79.1 265.9h.7v.7h-.7zM78.5 255.7h.7v.7h-.7zM86.7 278.4h.7v.7h-.7zM94.3 281.4h.7v.7h-.7zM85.7 245.1h.7v.7h-.7zM68.3 258.1h.7v.7h-.7zM94.3 278.0h.7v.7h-.7zM68.4 265.3h.7v.7h-.7zM73.1 258.6h.7v.7h-.7zM93.0 274.5h.7v.7h-.7zM84.2 255.5h.7v.7h-.7zM79.8 282.7h.7v.7h-.7zM87.4 253.8h.7v.7h-.7zM50.5 241.8h.7v.7h-.7zM82.6 242.1h.7v.7h-.7zM85.5 261.0h.7v.7h-.7zM82.4 243.8h.7v.7h-.7zM75.0 240.6h.7v.7h-.7zM72.9 281.9h.7v.7h-.7zM85.4 279.9h.7v.7h-.7zM88.3 244.3h.7v.7h-.7zM82.7 263.3h.7v.7h-.7zM52.4 263.4h.7v.7h-.7zM78.3 258.6h.7v.7h-.7zM92.4 282.5h.7v.7h-.7zM83.9 266.6h.7v.7h-.7zM89.8 282.2h.7v.7h-.7zM97.8 273.7h.7v.7h-.7zM61.1 281.6h.7v.7h-.7zM77.2 257.0h.7v.7h-.7zM78.0 254.2h.7v.7h-.7zM88.8 278.0h.7v.7h-.7zM94.3 272.5h.7v.7h-.7zM67.4 254.7h.7v.7h-.7zM98.1 272.8h.7v.7h-.7zM79.4 282.5h.7v.7h-.7zM81.2 282.5h.7v.7h-.7zM82.6 259.7h.7v.7h-.7zM80.4 243.6h.7v.7h-.7zM81.4 240.0h.7v.7h-.7zM72.5 266.9h.7v.7h-.7zM77.6 266.8h.7v.7h-.7zM73.7 246.2h.7v.7h-.7zM67.5 284.7h.7v.7h-.7zM71.7 241.3h.7v.7h-.7zM59.3 242.6h.7v.7h-.7zM84.6 257.4h.7v.7h-.7zM72.0 268.0h.7v.7h-.7zM77.7 283.1h.7v.7h-.7zM86.4 247.7h.7v.7h-.7zM90.1 245.9h.7v.7h-.7zM48.8 255.2h.7v.7h-.7zM83.9 242.3h.7v.7h-.7zM89.6 265.5h.7v.7h-.7zM63.5 238.4h.7v.7h-.7zM90.5 251.4h.7v.7h-.7zM90.2 264.8h.7v.7h-.7zM50.0 253.7h.7v.7h-.7zM91.6 269.9h.7v.7h-.7zM78.1 265.2h.7v.7h-.7zM53.1 267.4h.7v.7h-.7zM90.1 267.1h.7v.7h-.7zM92.5 271.7h.7v.7h-.7zM82.7 285.8h.7v.7h-.7zM72.6 263.7h.7v.7h-.7zM92.5 285.4h.7v.7h-.7zM47.1 261.7h.7v.7h-.7zM75.1 284.1h.7v.7h-.7zM79.6 239.0h.7v.7h-.7zM96.9 271.8h.7v.7h-.7zM87.9 248.2h.7v.7h-.7zM95.7 271.8h.7v.7h-.7zM65.5 265.7h.7v.7h-.7zM52.5 243.9h.7v.7h-.7zM93.5 275.7h.7v.7h-.7zM90.5 257.0h.7v.7h-.7zM48.9 280.5h.7v.7h-.7zM74.4 258.4h.7v.7h-.7zM85.1 263.7h.7v.7h-.7zM91.1 280.8h.7v.7h-.7zM93.5 282.8h.7v.7h-.7zM86.9 282.2h.7v.7h-.7zM74.5 242.2h.7v.7h-.7zM74.6 278.4h.7v.7h-.7zM82.2 257.9h.7v.7h-.7zM76.0 279.6h.7v.7h-.7zM99.6 276.6h.7v.7h-.7zM51.2 245.6h.7v.7h-.7zM55.6 275.2h.7v.7h-.7zM83.6 243.1h.7v.7h-.7zM79.2 276.4h.7v.7h-.7zM95.2 283.6h.7v.7h-.7zM82.9 238.1h.7v.7h-.7zM89.1 266.9h.7v.7h-.7zM83.0 264.7h.7v.7h-.7zM72.9 258.1h.7v.7h-.7zM82.0 266.4h.7v.7h-.7zM51.2 239.6h.7v.7h-.7zM87.5 251.0h.7v.7h-.7zM85.3 265.9h.7v.7h-.7zM86.3 282.2h.7v.7h-.7zM75.5 260.4h.7v.7h-.7zM89.7 267.8h.7v.7h-.7zM50.3 247.8h.7v.7h-.7zM57.3 236.7h.7v.7h-.7zM83.8 264.6h.7v.7h-.7zM94.9 273.5h.7v.7h-.7zM51.9 267.7h.7v.7h-.7zM88.1 254.3h.7v.7h-.7zM67.2 261.8h.7v.7h-.7zM87.6 257.4h.7v.7h-.7zM88.5 284.7h.7v.7h-.7zM62.9 282.0h.7v.7h-.7zM86.3 263.2h.7v.7h-.7zM85.5 255.8h.7v.7h-.7zM96.7 267.5h.7v.7h-.7zM76.3 280.7h.7v.7h-.7zM54.9 263.9h.7v.7h-.7zM76.5 280.7h.7v.7h-.7zM76.8 256.3h.7v.7h-.7zM52.0 251.9h.7v.7h-.7zM92.1 284.1h.7v.7h-.7zM87.2 263.5h.7v.7h-.7zM74.4 250.8h.7v.7h-.7zM50.5 250.9h.7v.7h-.7zM81.0 242.1h.7v.7h-.7zM89.9 275.5h.7v.7h-.7zM87.7 251.0h.7v.7h-.7zM76.2 241.4h.7v.7h-.7zM83.6 246.8h.7v.7h-.7zM76.2 280.4h.7v.7h-.7z"/>
<clipPath id="cp1"><path d="M50.6,245 Q50.6,240.4 55,240.4 L64,240.6 Q67,241.5 70,242.2 L83,242.4 Q89.3,243 89.3,250 Q89.3,257.7 83,257.7 L70,257.8 Q66.3,258.5 66.3,262 Q66.5,264.9 70,264.9 L89,265.2 Q94,266 94,273 Q94,281.8 88,281.8 L66,281.8 Q62,282.6 56,282.6 Q51,282.6 51,277 Z"/></clipPath>
<path d="M50.6,245 Q50.6,240.4 55,240.4 L64,240.6 Q67,241.5 70,242.2 L83,242.4 Q89.3,243 89.3,250 Q89.3,257.7 83,257.7 L70,257.8 Q66.3,258.5 66.3,262 Q66.5,264.9 70,264.9 L89,265.2 Q94,266 94,273 Q94,281.8 88,281.8 L66,281.8 Q62,282.6 56,282.6 Q51,282.6 51,277 Z" fill="#1a1aff" filter="url(#b1)" opacity="1"/>
<g clip-path="url(#cp1)">
<path d="M50.6,245 Q50.6,240.4 55,240.4 L64,240.6 Q67,241.5 70,242.2 L83,242.4 Q89.3,243 89.3,250 Q89.3,257.7 83,257.7 L70,257.8 Q66.3,258.5 66.3,262 Q66.5,264.9 70,264.9 L89,265.2 Q94,266 94,273 Q94,281.8 88,281.8 L66,281.8 Q62,282.6 56,282.6 Q51,282.6 51,277 Z" fill="#2c62ff" filter="url(#b3)" opacity="0.9"/>
<ellipse cx="78" cy="274" rx="14" ry="7" fill="url(#gL)"/>
<ellipse cx="79" cy="249" rx="10" ry="6.5" fill="url(#gC)"/>
<ellipse cx="58" cy="262" rx="8.5" ry="22" fill="url(#gC)"/>
<ellipse cx="58.3" cy="254" rx="6" ry="13" fill="url(#gG)"/>
<ellipse cx="57" cy="273.3" rx="7.5" ry="9" fill="url(#gR2)"/>
</g>
<rect x="48.4" y="239.6" width="20.10" height="20.70" fill="none" stroke="#333" stroke-width="0.75"/>
<rect x="70.2" y="239.6" width="22.30" height="19.70" fill="none" stroke="#333" stroke-width="0.75"/>
<text transform="translate(59.10,229.40) scale(1,1.15)" font-size="7" text-anchor="middle" font-weight="bold" fill="#1a1a1a" style="stroke-width:0.08px">MP</text>
<text transform="translate(59.10,237.70) scale(1,1.15)" font-size="7" text-anchor="middle" font-weight="bold" fill="#1a1a1a" style="stroke-width:0.08px">24.1</text>
<text transform="translate(80.60,229.40) scale(1,1.15)" font-size="7" text-anchor="middle" font-weight="bold" fill="#1a1a1a" style="stroke-width:0.08px">LSK</text>
<text transform="translate(80.60,237.70) scale(1,1.15)" font-size="7" text-anchor="middle" font-weight="bold" fill="#1a1a1a" style="stroke-width:0.08px">6.83</text>
<text x="40.8" y="224.90" font-size="6.3" text-anchor="end" fill="#333">10<tspan font-size="4.2" dy="-2.4">5</tspan></text>
<text x="40.8" y="240.10" font-size="6.3" text-anchor="end" fill="#333">10<tspan font-size="4.2" dy="-2.4">4</tspan></text>
<text x="40.8" y="256.10" font-size="6.3" text-anchor="end" fill="#333">10<tspan font-size="4.2" dy="-2.4">3</tspan></text>
<text x="40.8" y="275.50" font-size="6.3" text-anchor="end" fill="#333">0</text>
<text x="40.8" y="294.20" font-size="6.3" text-anchor="end" fill="#333">-10<tspan font-size="4.2" dy="-2.4">3</tspan></text>
<rect x="41.5" y="298.3" width="75.20" height="74.90" fill="none" stroke="#3a3a3a" stroke-width="0.9"/>
<path fill="#666" opacity="0.6" d="M98.5 343.5h.7v.7h-.7zM67.9 334.8h.7v.7h-.7zM94.4 341.4h.7v.7h-.7zM88.8 337.1h.7v.7h-.7zM86.6 340.1h.7v.7h-.7zM85.8 335.6h.7v.7h-.7zM80.6 337.9h.7v.7h-.7zM90.6 343.9h.7v.7h-.7zM98.3 339.4h.7v.7h-.7zM81.1 336.7h.7v.7h-.7zM67.2 334.3h.7v.7h-.7zM81.8 337.2h.7v.7h-.7zM78.9 342.9h.7v.7h-.7zM83.9 339.6h.7v.7h-.7zM74.0 334.2h.7v.7h-.7zM77.1 335.4h.7v.7h-.7zM83.3 344.0h.7v.7h-.7zM88.9 335.8h.7v.7h-.7zM96.4 342.0h.7v.7h-.7zM91.0 343.1h.7v.7h-.7zM91.9 341.9h.7v.7h-.7zM78.0 343.8h.7v.7h-.7zM98.7 335.6h.7v.7h-.7zM91.6 341.2h.7v.7h-.7zM81.7 339.3h.7v.7h-.7zM82.7 343.2h.7v.7h-.7zM83.0 342.3h.7v.7h-.7zM78.0 342.8h.7v.7h-.7zM96.6 338.6h.7v.7h-.7zM85.3 343.2h.7v.7h-.7zM90.6 338.9h.7v.7h-.7zM73.5 337.2h.7v.7h-.7zM89.8 335.7h.7v.7h-.7zM96.9 336.7h.7v.7h-.7zM97.0 337.1h.7v.7h-.7zM98.6 341.1h.7v.7h-.7zM83.1 339.2h.7v.7h-.7zM88.1 339.9h.7v.7h-.7zM76.6 336.1h.7v.7h-.7zM83.4 343.3h.7v.7h-.7zM87.2 334.8h.7v.7h-.7zM93.9 341.3h.7v.7h-.7zM96.9 335.9h.7v.7h-.7zM91.3 334.6h.7v.7h-.7zM88.2 336.7h.7v.7h-.7zM73.7 342.8h.7v.7h-.7zM69.6 339.2h.7v.7h-.7zM95.0 336.4h.7v.7h-.7zM73.2 342.8h.7v.7h-.7zM80.4 341.2h.7v.7h-.7zM67.1 337.6h.7v.7h-.7zM71.8 340.7h.7v.7h-.7zM68.8 343.5h.7v.7h-.7zM66.9 341.3h.7v.7h-.7zM66.7 336.6h.7v.7h-.7zM93.7 335.6h.7v.7h-.7zM72.2 340.9h.7v.7h-.7zM79.1 334.4h.7v.7h-.7zM99.7 335.5h.7v.7h-.7zM67.2 337.4h.7v.7h-.7zM86.9 341.4h.7v.7h-.7zM69.8 337.4h.7v.7h-.7zM67.0 338.5h.7v.7h-.7zM92.0 341.4h.7v.7h-.7zM96.7 341.6h.7v.7h-.7zM95.3 341.1h.7v.7h-.7zM82.1 336.3h.7v.7h-.7zM88.5 337.2h.7v.7h-.7zM69.5 338.5h.7v.7h-.7zM95.7 335.3h.7v.7h-.7zM85.9 337.9h.7v.7h-.7zM83.5 335.4h.7v.7h-.7zM98.6 336.6h.7v.7h-.7zM86.6 338.2h.7v.7h-.7zM66.6 339.6h.7v.7h-.7zM70.8 334.6h.7v.7h-.7zM67.1 335.6h.7v.7h-.7zM69.3 340.4h.7v.7h-.7zM83.3 343.8h.7v.7h-.7zM97.8 343.9h.7v.7h-.7zM73.9 338.4h.7v.7h-.7zM74.5 339.9h.7v.7h-.7zM87.2 342.0h.7v.7h-.7zM90.1 336.6h.7v.7h-.7zM80.4 339.3h.7v.7h-.7zM66.2 334.4h.7v.7h-.7zM79.9 335.1h.7v.7h-.7zM90.6 336.4h.7v.7h-.7zM69.4 335.8h.7v.7h-.7zM73.9 336.2h.7v.7h-.7zM83.7 338.6h.7v.7h-.7zM76.5 340.4h.7v.7h-.7zM73.2 343.1h.7v.7h-.7zM98.7 341.3h.7v.7h-.7zM80.7 339.1h.7v.7h-.7zM85.8 334.5h.7v.7h-.7zM80.2 339.3h.7v.7h-.7zM72.2 334.9h.7v.7h-.7zM93.3 337.7h.7v.7h-.7zM83.7 343.2h.7v.7h-.7zM86.8 336.9h.7v.7h-.7zM99.4 337.7h.7v.7h-.7zM66.6 340.9h.7v.7h-.7zM69.4 337.1h.7v.7h-.7zM94.6 340.7h.7v.7h-.7zM66.5 338.5h.7v.7h-.7zM80.0 338.9h.7v.7h-.7zM73.1 339.9h.7v.7h-.7zM68.5 336.8h.7v.7h-.7zM78.7 343.4h.7v.7h-.7zM68.6 341.5h.7v.7h-.7zM72.5 339.7h.7v.7h-.7zM79.3 338.6h.7v.7h-.7zM91.6 338.0h.7v.7h-.7zM70.1 335.2h.7v.7h-.7zM68.7 342.5h.7v.7h-.7zM87.8 343.6h.7v.7h-.7zM89.6 334.2h.7v.7h-.7zM88.4 341.8h.7v.7h-.7zM90.6 339.0h.7v.7h-.7zM78.2 338.6h.7v.7h-.7zM93.2 336.7h.7v.7h-.7zM83.9 338.8h.7v.7h-.7zM98.5 342.0h.7v.7h-.7zM97.7 342.4h.7v.7h-.7zM76.1 336.3h.7v.7h-.7zM82.6 336.6h.7v.7h-.7zM80.5 340.8h.7v.7h-.7zM97.2 339.9h.7v.7h-.7zM93.8 335.0h.7v.7h-.7zM78.1 344.0h.7v.7h-.7zM71.0 338.2h.7v.7h-.7zM68.3 334.9h.7v.7h-.7zM96.4 343.9h.7v.7h-.7zM88.0 335.3h.7v.7h-.7zM76.1 336.3h.7v.7h-.7zM88.8 340.8h.7v.7h-.7zM80.9 339.2h.7v.7h-.7zM69.8 339.4h.7v.7h-.7zM98.3 341.6h.7v.7h-.7zM69.3 339.2h.7v.7h-.7zM90.3 336.6h.7v.7h-.7zM96.4 338.6h.7v.7h-.7zM89.9 338.0h.7v.7h-.7zM99.8 341.8h.7v.7h-.7zM85.5 335.4h.7v.7h-.7zM81.0 334.3h.7v.7h-.7zM86.2 342.8h.7v.7h-.7zM72.1 339.1h.7v.7h-.7zM82.4 338.0h.7v.7h-.7zM90.2 343.4h.7v.7h-.7zM90.0 338.7h.7v.7h-.7zM98.7 337.3h.7v.7h-.7zM91.4 340.6h.7v.7h-.7zM91.9 342.5h.7v.7h-.7zM73.6 340.2h.7v.7h-.7zM79.7 340.7h.7v.7h-.7zM99.2 340.3h.7v.7h-.7zM66.4 338.6h.7v.7h-.7zM90.2 342.8h.7v.7h-.7z"/>
<path fill="#666" opacity="0.6" d="M88.7 348.8h.7v.7h-.7zM89.1 353.6h.7v.7h-.7zM96.9 337.2h.7v.7h-.7zM97.1 346.3h.7v.7h-.7zM86.8 344.5h.7v.7h-.7zM97.2 344.0h.7v.7h-.7zM101.8 354.8h.7v.7h-.7zM92.8 329.3h.7v.7h-.7zM88.3 358.5h.7v.7h-.7zM98.4 348.5h.7v.7h-.7zM94.0 343.1h.7v.7h-.7zM90.0 344.5h.7v.7h-.7zM88.6 349.1h.7v.7h-.7zM97.3 351.5h.7v.7h-.7zM90.4 322.6h.7v.7h-.7zM92.0 352.4h.7v.7h-.7zM95.2 355.4h.7v.7h-.7zM93.8 337.9h.7v.7h-.7zM102.3 326.4h.7v.7h-.7zM89.7 347.4h.7v.7h-.7zM97.4 339.6h.7v.7h-.7zM96.0 340.0h.7v.7h-.7zM98.0 362.4h.7v.7h-.7zM100.9 350.0h.7v.7h-.7zM94.5 365.4h.7v.7h-.7zM94.0 349.3h.7v.7h-.7zM101.6 352.2h.7v.7h-.7zM93.0 355.2h.7v.7h-.7zM96.8 363.7h.7v.7h-.7zM97.2 344.7h.7v.7h-.7zM103.5 344.4h.7v.7h-.7zM93.2 364.9h.7v.7h-.7zM103.0 326.6h.7v.7h-.7zM87.3 360.9h.7v.7h-.7zM101.9 337.2h.7v.7h-.7zM90.6 352.2h.7v.7h-.7zM102.9 328.7h.7v.7h-.7zM94.1 351.1h.7v.7h-.7zM90.0 338.7h.7v.7h-.7zM88.6 342.0h.7v.7h-.7zM90.1 322.0h.7v.7h-.7zM93.0 325.5h.7v.7h-.7zM88.1 325.5h.7v.7h-.7zM93.5 333.9h.7v.7h-.7zM99.1 338.7h.7v.7h-.7zM90.4 327.4h.7v.7h-.7zM91.3 355.2h.7v.7h-.7zM89.6 341.3h.7v.7h-.7zM100.5 359.5h.7v.7h-.7zM94.3 360.1h.7v.7h-.7zM97.6 329.3h.7v.7h-.7zM87.7 326.5h.7v.7h-.7zM100.2 337.5h.7v.7h-.7zM101.1 366.4h.7v.7h-.7zM102.5 341.5h.7v.7h-.7zM86.1 331.8h.7v.7h-.7zM89.9 350.5h.7v.7h-.7zM98.6 364.1h.7v.7h-.7zM98.7 366.0h.7v.7h-.7zM97.5 341.7h.7v.7h-.7zM101.1 331.7h.7v.7h-.7zM100.0 354.4h.7v.7h-.7zM101.6 321.0h.7v.7h-.7zM89.4 365.5h.7v.7h-.7zM88.6 340.6h.7v.7h-.7zM96.8 342.1h.7v.7h-.7zM101.8 365.8h.7v.7h-.7zM92.1 324.7h.7v.7h-.7zM102.5 340.7h.7v.7h-.7zM90.5 324.9h.7v.7h-.7zM86.2 347.1h.7v.7h-.7zM91.1 345.8h.7v.7h-.7zM102.6 342.2h.7v.7h-.7zM103.2 321.3h.7v.7h-.7zM99.6 355.7h.7v.7h-.7zM103.3 319.5h.7v.7h-.7zM95.1 345.8h.7v.7h-.7zM96.8 341.6h.7v.7h-.7zM90.9 363.1h.7v.7h-.7zM101.8 353.1h.7v.7h-.7zM103.3 345.7h.7v.7h-.7zM87.4 352.7h.7v.7h-.7zM87.9 355.5h.7v.7h-.7zM97.7 328.3h.7v.7h-.7zM88.7 321.4h.7v.7h-.7zM89.2 366.9h.7v.7h-.7zM90.1 362.2h.7v.7h-.7zM88.4 334.9h.7v.7h-.7zM94.5 335.9h.7v.7h-.7zM103.4 330.0h.7v.7h-.7zM94.7 328.3h.7v.7h-.7zM88.0 352.5h.7v.7h-.7zM92.1 342.4h.7v.7h-.7zM98.5 322.4h.7v.7h-.7zM87.0 352.4h.7v.7h-.7zM103.9 318.9h.7v.7h-.7zM94.1 367.7h.7v.7h-.7zM101.0 367.5h.7v.7h-.7zM95.5 366.6h.7v.7h-.7zM87.0 341.6h.7v.7h-.7zM101.3 337.5h.7v.7h-.7zM93.9 340.5h.7v.7h-.7zM92.8 358.6h.7v.7h-.7zM103.5 329.5h.7v.7h-.7zM91.8 358.2h.7v.7h-.7zM99.4 358.7h.7v.7h-.7zM98.3 363.7h.7v.7h-.7zM101.2 349.7h.7v.7h-.7zM91.1 322.3h.7v.7h-.7zM101.5 360.9h.7v.7h-.7zM102.0 331.2h.7v.7h-.7zM99.3 364.5h.7v.7h-.7zM89.7 319.2h.7v.7h-.7zM89.1 328.9h.7v.7h-.7zM98.2 359.1h.7v.7h-.7zM100.7 352.5h.7v.7h-.7zM103.6 366.6h.7v.7h-.7zM93.9 364.1h.7v.7h-.7zM98.9 330.3h.7v.7h-.7zM96.5 326.5h.7v.7h-.7zM93.2 358.6h.7v.7h-.7zM86.2 344.8h.7v.7h-.7zM93.8 332.1h.7v.7h-.7zM87.2 344.2h.7v.7h-.7zM92.0 322.9h.7v.7h-.7zM93.2 352.0h.7v.7h-.7zM87.4 357.3h.7v.7h-.7zM87.5 341.5h.7v.7h-.7zM92.6 360.9h.7v.7h-.7zM102.1 354.9h.7v.7h-.7zM91.3 334.2h.7v.7h-.7zM100.8 343.5h.7v.7h-.7zM97.4 354.2h.7v.7h-.7zM89.5 337.2h.7v.7h-.7zM103.2 334.6h.7v.7h-.7zM101.3 325.7h.7v.7h-.7zM86.3 343.1h.7v.7h-.7zM91.1 347.8h.7v.7h-.7zM99.9 319.9h.7v.7h-.7zM95.0 336.7h.7v.7h-.7zM102.3 360.2h.7v.7h-.7zM101.9 355.1h.7v.7h-.7zM92.2 349.0h.7v.7h-.7zM95.8 336.4h.7v.7h-.7zM91.2 350.4h.7v.7h-.7zM102.1 330.1h.7v.7h-.7zM92.4 325.9h.7v.7h-.7zM92.6 337.4h.7v.7h-.7zM87.7 350.3h.7v.7h-.7zM92.2 358.3h.7v.7h-.7zM90.4 354.7h.7v.7h-.7zM103.6 326.5h.7v.7h-.7zM92.7 366.6h.7v.7h-.7zM93.3 334.4h.7v.7h-.7zM88.8 359.5h.7v.7h-.7zM91.9 362.0h.7v.7h-.7zM96.0 327.0h.7v.7h-.7zM103.9 363.0h.7v.7h-.7zM99.5 348.1h.7v.7h-.7zM99.6 365.4h.7v.7h-.7zM89.5 330.1h.7v.7h-.7zM99.7 338.9h.7v.7h-.7zM103.7 359.7h.7v.7h-.7zM95.4 326.0h.7v.7h-.7zM97.0 348.1h.7v.7h-.7zM96.4 356.9h.7v.7h-.7zM94.6 362.6h.7v.7h-.7zM96.7 326.0h.7v.7h-.7zM100.8 326.4h.7v.7h-.7zM102.3 364.3h.7v.7h-.7zM89.5 328.1h.7v.7h-.7zM98.6 340.8h.7v.7h-.7zM92.7 355.6h.7v.7h-.7zM92.0 324.5h.7v.7h-.7zM95.9 361.9h.7v.7h-.7zM103.3 323.3h.7v.7h-.7zM99.4 334.2h.7v.7h-.7zM103.5 337.5h.7v.7h-.7zM87.8 334.5h.7v.7h-.7zM95.3 326.8h.7v.7h-.7zM99.9 334.5h.7v.7h-.7zM99.4 329.6h.7v.7h-.7zM94.8 351.0h.7v.7h-.7zM89.7 332.5h.7v.7h-.7zM101.1 337.7h.7v.7h-.7zM92.3 348.9h.7v.7h-.7zM98.4 361.2h.7v.7h-.7zM96.2 360.7h.7v.7h-.7zM102.1 364.3h.7v.7h-.7zM102.5 352.7h.7v.7h-.7zM98.5 337.4h.7v.7h-.7zM87.9 364.1h.7v.7h-.7zM93.5 334.9h.7v.7h-.7zM95.9 355.8h.7v.7h-.7zM100.9 323.7h.7v.7h-.7zM100.1 365.1h.7v.7h-.7zM103.6 365.1h.7v.7h-.7zM96.3 362.5h.7v.7h-.7zM96.6 360.4h.7v.7h-.7zM103.8 336.7h.7v.7h-.7z"/>
<path fill="#666" opacity="0.6" d="M87.7 363.1h.7v.7h-.7zM69.3 358.2h.7v.7h-.7zM83.2 366.7h.7v.7h-.7zM70.2 365.4h.7v.7h-.7zM49.9 361.8h.7v.7h-.7zM58.5 361.4h.7v.7h-.7zM79.8 365.4h.7v.7h-.7zM75.2 365.6h.7v.7h-.7zM65.0 357.4h.7v.7h-.7zM72.2 363.9h.7v.7h-.7zM84.8 356.4h.7v.7h-.7zM60.9 358.8h.7v.7h-.7zM72.5 365.5h.7v.7h-.7zM62.1 356.5h.7v.7h-.7zM94.7 365.6h.7v.7h-.7zM88.1 356.4h.7v.7h-.7zM61.6 357.9h.7v.7h-.7zM95.6 357.4h.7v.7h-.7zM54.6 358.4h.7v.7h-.7zM89.1 358.2h.7v.7h-.7zM99.1 359.4h.7v.7h-.7zM81.8 358.1h.7v.7h-.7zM63.2 365.5h.7v.7h-.7zM99.9 358.7h.7v.7h-.7zM66.2 356.6h.7v.7h-.7zM58.1 360.2h.7v.7h-.7zM75.1 362.3h.7v.7h-.7zM66.2 357.7h.7v.7h-.7zM76.9 359.8h.7v.7h-.7zM65.9 366.7h.7v.7h-.7zM78.5 356.2h.7v.7h-.7zM97.8 366.7h.7v.7h-.7zM68.3 366.8h.7v.7h-.7zM53.5 366.1h.7v.7h-.7zM56.8 365.5h.7v.7h-.7zM83.2 366.5h.7v.7h-.7zM63.7 363.2h.7v.7h-.7zM96.9 357.4h.7v.7h-.7zM57.6 362.1h.7v.7h-.7zM55.0 356.6h.7v.7h-.7zM48.8 359.8h.7v.7h-.7zM81.8 361.1h.7v.7h-.7zM79.4 356.3h.7v.7h-.7zM53.3 362.2h.7v.7h-.7zM56.2 356.1h.7v.7h-.7zM51.2 363.2h.7v.7h-.7zM97.9 361.5h.7v.7h-.7zM48.3 358.1h.7v.7h-.7zM83.4 364.7h.7v.7h-.7zM58.7 361.1h.7v.7h-.7zM49.9 361.9h.7v.7h-.7zM87.3 361.5h.7v.7h-.7zM88.8 358.6h.7v.7h-.7zM82.6 361.2h.7v.7h-.7zM79.4 356.8h.7v.7h-.7zM71.6 362.8h.7v.7h-.7zM60.2 362.1h.7v.7h-.7zM49.0 360.6h.7v.7h-.7zM96.9 363.1h.7v.7h-.7zM74.3 365.6h.7v.7h-.7zM84.1 361.6h.7v.7h-.7zM67.5 365.6h.7v.7h-.7zM77.3 361.4h.7v.7h-.7zM67.3 357.7h.7v.7h-.7zM57.9 362.6h.7v.7h-.7zM75.9 364.5h.7v.7h-.7zM71.4 360.2h.7v.7h-.7zM76.9 358.8h.7v.7h-.7zM98.0 363.0h.7v.7h-.7zM63.6 361.4h.7v.7h-.7zM91.7 366.5h.7v.7h-.7zM84.4 365.7h.7v.7h-.7zM89.9 360.0h.7v.7h-.7zM69.7 361.1h.7v.7h-.7zM50.7 362.5h.7v.7h-.7zM76.7 364.7h.7v.7h-.7zM65.7 366.7h.7v.7h-.7zM86.4 362.4h.7v.7h-.7zM59.8 366.3h.7v.7h-.7zM83.5 363.0h.7v.7h-.7zM58.1 358.2h.7v.7h-.7zM58.2 366.1h.7v.7h-.7zM71.0 363.7h.7v.7h-.7zM84.0 364.9h.7v.7h-.7zM63.0 358.2h.7v.7h-.7zM98.1 357.5h.7v.7h-.7zM100.0 360.4h.7v.7h-.7zM49.1 359.3h.7v.7h-.7zM87.9 360.5h.7v.7h-.7zM55.3 356.9h.7v.7h-.7zM50.6 362.3h.7v.7h-.7zM67.1 363.5h.7v.7h-.7zM54.5 359.1h.7v.7h-.7zM76.8 359.6h.7v.7h-.7zM84.1 358.9h.7v.7h-.7zM87.0 363.3h.7v.7h-.7zM69.5 363.7h.7v.7h-.7zM66.0 366.1h.7v.7h-.7zM86.6 359.1h.7v.7h-.7zM92.2 362.9h.7v.7h-.7zM92.9 363.8h.7v.7h-.7zM95.5 362.0h.7v.7h-.7zM65.9 364.1h.7v.7h-.7zM96.2 361.8h.7v.7h-.7zM85.2 362.7h.7v.7h-.7zM65.3 358.2h.7v.7h-.7zM80.4 357.8h.7v.7h-.7zM71.3 364.5h.7v.7h-.7zM67.8 360.8h.7v.7h-.7zM98.2 362.5h.7v.7h-.7zM76.1 358.1h.7v.7h-.7zM86.9 360.1h.7v.7h-.7zM85.2 366.5h.7v.7h-.7zM91.2 358.4h.7v.7h-.7zM96.3 363.3h.7v.7h-.7zM57.1 356.5h.7v.7h-.7zM60.9 362.4h.7v.7h-.7zM73.2 356.0h.7v.7h-.7zM97.3 356.7h.7v.7h-.7zM91.6 361.5h.7v.7h-.7z"/>
<path fill="#666" opacity="0.6" d="M51.8 342.6h.7v.7h-.7zM48.9 339.9h.7v.7h-.7zM46.3 321.6h.7v.7h-.7zM47.8 341.2h.7v.7h-.7zM50.4 334.3h.7v.7h-.7zM51.8 324.7h.7v.7h-.7zM49.6 321.2h.7v.7h-.7zM46.5 325.4h.7v.7h-.7zM51.8 348.5h.7v.7h-.7zM48.9 356.2h.7v.7h-.7zM51.7 335.8h.7v.7h-.7zM51.0 332.2h.7v.7h-.7zM49.9 354.8h.7v.7h-.7zM47.6 347.6h.7v.7h-.7zM50.1 323.7h.7v.7h-.7zM50.3 328.2h.7v.7h-.7zM47.0 330.1h.7v.7h-.7zM47.0 359.6h.7v.7h-.7zM48.0 356.0h.7v.7h-.7zM46.0 330.4h.7v.7h-.7zM45.1 339.9h.7v.7h-.7zM51.7 341.8h.7v.7h-.7zM50.0 326.9h.7v.7h-.7zM45.4 329.4h.7v.7h-.7zM51.7 349.3h.7v.7h-.7zM51.5 352.5h.7v.7h-.7zM46.8 328.0h.7v.7h-.7zM49.3 325.9h.7v.7h-.7zM48.4 342.6h.7v.7h-.7zM46.8 360.8h.7v.7h-.7zM45.4 358.8h.7v.7h-.7zM45.3 360.7h.7v.7h-.7zM47.9 326.4h.7v.7h-.7zM49.4 349.7h.7v.7h-.7zM47.8 340.0h.7v.7h-.7zM49.7 331.5h.7v.7h-.7zM47.2 349.3h.7v.7h-.7zM48.2 355.0h.7v.7h-.7zM48.1 350.5h.7v.7h-.7zM48.8 330.0h.7v.7h-.7z"/>
<path fill="#555" opacity="0.55" d="M78.2 333.8h.7v.7h-.7zM69.2 321.5h.7v.7h-.7zM83.9 356.2h.7v.7h-.7zM75.7 315.1h.7v.7h-.7zM54.5 315.3h.7v.7h-.7zM86.6 361.2h.7v.7h-.7zM87.1 361.2h.7v.7h-.7zM78.7 346.8h.7v.7h-.7zM52.7 322.4h.7v.7h-.7zM47.4 329.5h.7v.7h-.7zM85.7 329.8h.7v.7h-.7zM49.4 335.7h.7v.7h-.7zM55.0 356.9h.7v.7h-.7zM92.6 361.1h.7v.7h-.7zM73.9 361.2h.7v.7h-.7zM87.7 338.6h.7v.7h-.7zM57.0 358.8h.7v.7h-.7zM48.1 338.3h.7v.7h-.7zM78.1 359.0h.7v.7h-.7zM90.9 357.7h.7v.7h-.7zM81.0 339.6h.7v.7h-.7zM51.0 355.8h.7v.7h-.7zM82.5 340.5h.7v.7h-.7zM55.2 361.5h.7v.7h-.7zM93.0 348.9h.7v.7h-.7zM81.2 334.1h.7v.7h-.7zM84.1 360.1h.7v.7h-.7zM92.8 348.9h.7v.7h-.7zM97.6 350.3h.7v.7h-.7zM87.4 360.9h.7v.7h-.7zM63.0 319.4h.7v.7h-.7zM84.7 344.5h.7v.7h-.7zM52.5 356.8h.7v.7h-.7zM69.3 341.1h.7v.7h-.7zM94.3 351.5h.7v.7h-.7zM52.3 329.9h.7v.7h-.7zM75.6 343.4h.7v.7h-.7zM99.3 350.8h.7v.7h-.7zM56.7 346.5h.7v.7h-.7zM72.2 357.2h.7v.7h-.7zM87.4 324.4h.7v.7h-.7zM85.9 318.5h.7v.7h-.7zM88.2 331.9h.7v.7h-.7zM78.9 316.7h.7v.7h-.7zM83.6 327.9h.7v.7h-.7zM83.3 325.2h.7v.7h-.7zM86.8 338.0h.7v.7h-.7zM78.7 361.0h.7v.7h-.7zM92.3 345.2h.7v.7h-.7zM87.6 333.9h.7v.7h-.7zM78.1 362.1h.7v.7h-.7zM65.2 336.0h.7v.7h-.7zM98.5 351.4h.7v.7h-.7zM76.2 339.0h.7v.7h-.7zM95.2 356.1h.7v.7h-.7zM69.7 362.5h.7v.7h-.7zM72.8 337.4h.7v.7h-.7zM83.6 331.4h.7v.7h-.7zM53.4 359.0h.7v.7h-.7zM50.4 344.9h.7v.7h-.7zM85.3 336.5h.7v.7h-.7zM74.2 333.6h.7v.7h-.7zM73.5 319.9h.7v.7h-.7zM67.4 315.2h.7v.7h-.7zM92.5 349.6h.7v.7h-.7zM81.6 332.7h.7v.7h-.7zM87.1 326.6h.7v.7h-.7zM71.5 319.1h.7v.7h-.7zM79.7 316.5h.7v.7h-.7zM50.2 356.9h.7v.7h-.7zM68.8 320.0h.7v.7h-.7zM92.3 354.4h.7v.7h-.7zM93.0 356.4h.7v.7h-.7zM72.2 317.8h.7v.7h-.7zM86.3 340.0h.7v.7h-.7zM83.7 316.9h.7v.7h-.7zM68.2 319.5h.7v.7h-.7zM48.1 320.8h.7v.7h-.7zM93.6 348.3h.7v.7h-.7zM72.7 339.8h.7v.7h-.7zM49.8 353.5h.7v.7h-.7zM73.2 343.4h.7v.7h-.7zM68.1 322.6h.7v.7h-.7zM85.8 340.8h.7v.7h-.7zM84.2 331.6h.7v.7h-.7zM85.1 358.9h.7v.7h-.7zM72.8 319.1h.7v.7h-.7zM52.6 321.4h.7v.7h-.7zM87.6 339.9h.7v.7h-.7zM90.7 358.8h.7v.7h-.7zM77.1 360.7h.7v.7h-.7zM87.7 343.8h.7v.7h-.7zM74.2 337.6h.7v.7h-.7zM52.5 339.3h.7v.7h-.7zM86.9 346.7h.7v.7h-.7zM74.5 336.2h.7v.7h-.7zM95.1 356.0h.7v.7h-.7zM87.7 341.3h.7v.7h-.7zM92.4 344.5h.7v.7h-.7zM97.7 351.4h.7v.7h-.7zM91.1 361.2h.7v.7h-.7zM79.7 332.7h.7v.7h-.7zM93.1 358.6h.7v.7h-.7zM85.0 335.8h.7v.7h-.7zM53.9 354.8h.7v.7h-.7zM77.7 333.2h.7v.7h-.7zM77.8 318.5h.7v.7h-.7zM77.9 339.1h.7v.7h-.7zM87.5 355.7h.7v.7h-.7zM88.1 341.7h.7v.7h-.7zM65.1 343.2h.7v.7h-.7zM80.5 358.8h.7v.7h-.7zM83.9 330.7h.7v.7h-.7zM49.0 323.9h.7v.7h-.7zM86.1 322.4h.7v.7h-.7zM82.7 358.6h.7v.7h-.7zM80.8 358.8h.7v.7h-.7zM86.5 363.6h.7v.7h-.7zM76.8 339.8h.7v.7h-.7zM92.7 344.0h.7v.7h-.7zM86.7 335.6h.7v.7h-.7zM66.0 353.7h.7v.7h-.7zM51.8 319.8h.7v.7h-.7zM78.9 327.4h.7v.7h-.7zM60.5 322.3h.7v.7h-.7zM69.6 340.1h.7v.7h-.7zM72.7 342.1h.7v.7h-.7zM50.2 324.0h.7v.7h-.7zM53.5 324.4h.7v.7h-.7zM76.8 335.6h.7v.7h-.7zM79.2 338.0h.7v.7h-.7zM74.8 330.2h.7v.7h-.7zM92.4 336.2h.7v.7h-.7zM75.3 359.3h.7v.7h-.7zM82.4 333.2h.7v.7h-.7zM73.5 336.4h.7v.7h-.7zM93.3 341.9h.7v.7h-.7zM84.7 361.2h.7v.7h-.7zM91.2 361.5h.7v.7h-.7zM94.0 352.3h.7v.7h-.7zM67.2 357.4h.7v.7h-.7zM72.8 335.8h.7v.7h-.7zM80.0 335.0h.7v.7h-.7zM87.2 343.2h.7v.7h-.7zM84.2 356.3h.7v.7h-.7zM85.3 321.4h.7v.7h-.7zM48.0 323.5h.7v.7h-.7zM67.9 335.7h.7v.7h-.7zM87.8 342.4h.7v.7h-.7zM68.2 340.6h.7v.7h-.7zM72.5 316.9h.7v.7h-.7zM84.6 342.8h.7v.7h-.7zM94.1 347.4h.7v.7h-.7zM71.1 315.7h.7v.7h-.7zM77.7 325.5h.7v.7h-.7zM91.7 348.6h.7v.7h-.7zM78.3 360.8h.7v.7h-.7zM97.4 355.3h.7v.7h-.7zM76.0 316.0h.7v.7h-.7zM51.7 356.3h.7v.7h-.7zM84.6 353.7h.7v.7h-.7zM94.3 344.7h.7v.7h-.7zM87.3 320.9h.7v.7h-.7zM90.3 349.1h.7v.7h-.7zM73.9 318.2h.7v.7h-.7zM92.1 347.2h.7v.7h-.7zM91.3 358.3h.7v.7h-.7zM79.3 331.4h.7v.7h-.7zM53.0 332.5h.7v.7h-.7zM66.5 354.1h.7v.7h-.7zM73.9 358.7h.7v.7h-.7zM95.9 346.5h.7v.7h-.7zM74.6 321.8h.7v.7h-.7zM80.1 338.3h.7v.7h-.7zM50.4 358.8h.7v.7h-.7zM85.1 357.9h.7v.7h-.7zM94.8 353.1h.7v.7h-.7zM51.7 322.4h.7v.7h-.7zM74.3 320.5h.7v.7h-.7zM82.6 354.8h.7v.7h-.7zM73.4 318.3h.7v.7h-.7zM67.4 360.6h.7v.7h-.7zM95.7 340.8h.7v.7h-.7zM62.5 360.6h.7v.7h-.7zM79.4 333.9h.7v.7h-.7zM57.4 315.1h.7v.7h-.7zM77.7 353.4h.7v.7h-.7zM82.3 363.2h.7v.7h-.7zM76.0 342.7h.7v.7h-.7zM66.6 321.3h.7v.7h-.7zM47.0 336.8h.7v.7h-.7zM53.0 344.5h.7v.7h-.7zM93.9 344.3h.7v.7h-.7zM91.3 349.5h.7v.7h-.7zM81.1 320.2h.7v.7h-.7zM90.1 345.9h.7v.7h-.7zM81.1 337.0h.7v.7h-.7zM83.2 364.6h.7v.7h-.7zM83.0 341.2h.7v.7h-.7zM70.5 337.1h.7v.7h-.7zM52.0 321.6h.7v.7h-.7zM52.4 352.5h.7v.7h-.7zM80.1 342.1h.7v.7h-.7zM74.0 321.5h.7v.7h-.7zM66.9 360.3h.7v.7h-.7zM51.8 329.8h.7v.7h-.7zM60.2 315.8h.7v.7h-.7zM80.9 340.5h.7v.7h-.7zM91.8 346.6h.7v.7h-.7zM58.7 358.2h.7v.7h-.7zM76.8 359.3h.7v.7h-.7zM67.0 338.3h.7v.7h-.7zM88.8 330.7h.7v.7h-.7zM83.5 330.2h.7v.7h-.7zM88.0 325.0h.7v.7h-.7zM72.3 321.5h.7v.7h-.7zM84.8 362.0h.7v.7h-.7zM84.4 338.0h.7v.7h-.7zM55.9 363.1h.7v.7h-.7zM51.6 356.2h.7v.7h-.7zM54.1 319.7h.7v.7h-.7zM54.2 331.3h.7v.7h-.7zM75.0 340.2h.7v.7h-.7zM85.9 323.7h.7v.7h-.7zM83.8 357.4h.7v.7h-.7zM49.8 342.8h.7v.7h-.7zM79.1 343.6h.7v.7h-.7zM95.9 349.9h.7v.7h-.7zM87.3 318.0h.7v.7h-.7zM88.6 354.2h.7v.7h-.7zM67.3 317.4h.7v.7h-.7zM78.9 331.8h.7v.7h-.7zM68.4 317.1h.7v.7h-.7zM75.7 322.0h.7v.7h-.7zM90.0 361.8h.7v.7h-.7zM78.6 341.2h.7v.7h-.7zM72.0 332.4h.7v.7h-.7zM94.4 345.4h.7v.7h-.7zM74.9 336.3h.7v.7h-.7zM72.3 315.7h.7v.7h-.7zM71.7 361.5h.7v.7h-.7zM79.2 318.6h.7v.7h-.7zM87.9 343.5h.7v.7h-.7zM87.2 361.8h.7v.7h-.7zM53.5 348.8h.7v.7h-.7zM85.7 323.3h.7v.7h-.7zM46.8 327.3h.7v.7h-.7zM87.8 325.9h.7v.7h-.7zM96.0 351.3h.7v.7h-.7zM100.1 352.6h.7v.7h-.7zM96.3 349.4h.7v.7h-.7zM80.4 335.6h.7v.7h-.7zM53.5 361.3h.7v.7h-.7zM57.0 319.7h.7v.7h-.7zM93.8 353.2h.7v.7h-.7zM51.4 319.3h.7v.7h-.7zM50.1 333.2h.7v.7h-.7zM45.9 325.7h.7v.7h-.7zM88.0 323.4h.7v.7h-.7zM75.4 357.2h.7v.7h-.7zM57.1 318.4h.7v.7h-.7zM82.1 337.9h.7v.7h-.7zM100.9 344.6h.7v.7h-.7zM98.0 351.4h.7v.7h-.7zM90.4 339.8h.7v.7h-.7zM73.0 342.7h.7v.7h-.7zM85.6 319.0h.7v.7h-.7zM95.2 354.5h.7v.7h-.7zM87.0 337.3h.7v.7h-.7zM84.2 328.0h.7v.7h-.7zM72.6 334.3h.7v.7h-.7zM56.9 356.7h.7v.7h-.7zM82.1 344.9h.7v.7h-.7zM84.0 339.8h.7v.7h-.7zM80.4 332.0h.7v.7h-.7zM73.0 356.8h.7v.7h-.7zM87.5 356.4h.7v.7h-.7zM91.6 361.3h.7v.7h-.7zM96.4 350.3h.7v.7h-.7zM86.1 332.6h.7v.7h-.7zM81.8 319.6h.7v.7h-.7zM50.9 353.8h.7v.7h-.7zM55.8 317.0h.7v.7h-.7zM89.9 349.1h.7v.7h-.7zM85.1 326.1h.7v.7h-.7zM81.3 334.8h.7v.7h-.7zM74.3 339.9h.7v.7h-.7zM91.7 343.2h.7v.7h-.7zM46.5 350.1h.7v.7h-.7zM58.0 361.4h.7v.7h-.7zM92.5 341.1h.7v.7h-.7zM89.4 321.9h.7v.7h-.7zM83.0 360.2h.7v.7h-.7zM86.0 345.8h.7v.7h-.7zM58.0 318.4h.7v.7h-.7zM78.1 347.0h.7v.7h-.7zM94.5 347.3h.7v.7h-.7zM86.0 331.8h.7v.7h-.7zM85.8 330.9h.7v.7h-.7zM75.3 341.7h.7v.7h-.7zM73.4 320.2h.7v.7h-.7zM53.0 313.9h.7v.7h-.7zM94.8 346.4h.7v.7h-.7zM86.3 339.0h.7v.7h-.7zM89.0 333.1h.7v.7h-.7zM90.0 343.4h.7v.7h-.7zM81.8 321.9h.7v.7h-.7zM73.3 334.6h.7v.7h-.7zM46.6 321.0h.7v.7h-.7zM49.2 347.2h.7v.7h-.7zM60.8 360.8h.7v.7h-.7zM62.1 316.3h.7v.7h-.7zM88.6 340.9h.7v.7h-.7zM92.7 343.6h.7v.7h-.7zM77.6 342.4h.7v.7h-.7zM94.3 350.3h.7v.7h-.7zM48.5 348.7h.7v.7h-.7zM70.4 342.8h.7v.7h-.7zM90.6 324.8h.7v.7h-.7zM75.9 320.4h.7v.7h-.7zM56.4 320.5h.7v.7h-.7zM79.4 322.4h.7v.7h-.7zM88.1 328.9h.7v.7h-.7zM50.9 323.4h.7v.7h-.7zM77.4 324.0h.7v.7h-.7zM85.8 357.0h.7v.7h-.7zM94.0 353.3h.7v.7h-.7zM96.1 346.6h.7v.7h-.7zM68.1 317.0h.7v.7h-.7zM50.6 334.7h.7v.7h-.7zM89.0 362.7h.7v.7h-.7zM51.2 336.3h.7v.7h-.7zM77.1 361.0h.7v.7h-.7zM91.8 349.1h.7v.7h-.7zM76.8 339.4h.7v.7h-.7zM93.0 359.2h.7v.7h-.7zM84.2 332.0h.7v.7h-.7zM70.0 336.5h.7v.7h-.7zM87.9 323.5h.7v.7h-.7zM54.2 327.0h.7v.7h-.7zM77.8 355.7h.7v.7h-.7zM73.1 318.5h.7v.7h-.7zM81.6 338.2h.7v.7h-.7zM94.2 344.1h.7v.7h-.7zM88.3 359.0h.7v.7h-.7zM82.8 316.9h.7v.7h-.7zM80.9 336.6h.7v.7h-.7zM85.2 342.6h.7v.7h-.7zM67.5 317.0h.7v.7h-.7zM79.8 320.7h.7v.7h-.7zM74.0 356.7h.7v.7h-.7zM77.9 315.1h.7v.7h-.7zM53.9 361.5h.7v.7h-.7zM86.4 354.5h.7v.7h-.7zM84.3 339.0h.7v.7h-.7zM82.9 357.8h.7v.7h-.7zM84.6 325.1h.7v.7h-.7zM61.8 362.0h.7v.7h-.7zM66.6 336.2h.7v.7h-.7zM90.6 345.5h.7v.7h-.7zM85.6 358.2h.7v.7h-.7zM84.3 333.9h.7v.7h-.7zM78.8 343.2h.7v.7h-.7zM76.9 332.1h.7v.7h-.7zM52.2 354.3h.7v.7h-.7zM73.7 334.3h.7v.7h-.7zM89.1 329.1h.7v.7h-.7zM75.5 340.1h.7v.7h-.7zM86.6 328.8h.7v.7h-.7zM90.9 343.8h.7v.7h-.7zM48.4 334.4h.7v.7h-.7zM85.3 357.0h.7v.7h-.7zM69.8 342.5h.7v.7h-.7zM61.5 361.4h.7v.7h-.7zM84.0 319.4h.7v.7h-.7zM94.0 349.8h.7v.7h-.7zM57.7 319.2h.7v.7h-.7zM64.8 360.7h.7v.7h-.7zM91.2 358.0h.7v.7h-.7zM79.8 358.3h.7v.7h-.7zM81.9 325.5h.7v.7h-.7zM49.8 336.1h.7v.7h-.7zM86.3 324.2h.7v.7h-.7zM90.7 326.0h.7v.7h-.7zM93.2 342.1h.7v.7h-.7zM80.1 340.2h.7v.7h-.7zM74.7 320.8h.7v.7h-.7zM81.9 341.3h.7v.7h-.7zM72.3 319.9h.7v.7h-.7zM86.8 320.4h.7v.7h-.7zM63.6 315.4h.7v.7h-.7zM83.7 323.7h.7v.7h-.7zM96.9 350.6h.7v.7h-.7zM76.7 357.8h.7v.7h-.7zM49.8 333.1h.7v.7h-.7zM81.9 318.7h.7v.7h-.7zM76.6 333.8h.7v.7h-.7zM61.5 359.8h.7v.7h-.7zM50.9 355.9h.7v.7h-.7zM84.2 323.8h.7v.7h-.7zM92.5 356.0h.7v.7h-.7zM57.4 325.0h.7v.7h-.7zM75.0 313.8h.7v.7h-.7zM89.2 324.8h.7v.7h-.7zM57.4 317.7h.7v.7h-.7zM72.4 335.2h.7v.7h-.7zM66.6 360.8h.7v.7h-.7zM73.2 316.1h.7v.7h-.7zM89.9 333.5h.7v.7h-.7zM99.7 354.0h.7v.7h-.7zM82.3 360.7h.7v.7h-.7zM75.1 317.2h.7v.7h-.7zM76.9 358.0h.7v.7h-.7zM49.1 354.2h.7v.7h-.7zM79.0 340.7h.7v.7h-.7zM80.7 333.9h.7v.7h-.7zM84.1 333.7h.7v.7h-.7zM84.4 322.1h.7v.7h-.7zM77.7 333.6h.7v.7h-.7zM93.5 347.6h.7v.7h-.7z"/>
<clipPath id="cp2"><path d="M50.5,323 Q50.5,318.4 56,318.4 L66,318.6 L82,319 Q87,320 87,326.5 Q87,333.5 81,334.5 L72,335.5 Q67.8,336.5 67.8,339 Q68.5,341.8 72,341.5 L88,340.8 Q94.5,341.5 94.5,350 Q94.5,359.3 88,359.3 L66,359 Q62,359.6 56,359.6 Q50.2,359.5 50.2,352 Z"/></clipPath>
<path d="M50.5,323 Q50.5,318.4 56,318.4 L66,318.6 L82,319 Q87,320 87,326.5 Q87,333.5 81,334.5 L72,335.5 Q67.8,336.5 67.8,339 Q68.5,341.8 72,341.5 L88,340.8 Q94.5,341.5 94.5,350 Q94.5,359.3 88,359.3 L66,359 Q62,359.6 56,359.6 Q50.2,359.5 50.2,352 Z" fill="#1a1aff" filter="url(#b1)" opacity="1"/>
<g clip-path="url(#cp2)">
<path d="M50.5,323 Q50.5,318.4 56,318.4 L66,318.6 L82,319 Q87,320 87,326.5 Q87,333.5 81,334.5 L72,335.5 Q67.8,336.5 67.8,339 Q68.5,341.8 72,341.5 L88,340.8 Q94.5,341.5 94.5,350 Q94.5,359.3 88,359.3 L66,359 Q62,359.6 56,359.6 Q50.2,359.5 50.2,352 Z" fill="#2c62ff" filter="url(#b3)" opacity="0.9"/>
<ellipse cx="77" cy="326.5" rx="10" ry="6" fill="url(#gL)"/>
<ellipse cx="78" cy="350" rx="13" ry="7" fill="url(#gL)"/>
<ellipse cx="58" cy="338" rx="8" ry="21" fill="url(#gC)"/>
<ellipse cx="58" cy="330" rx="4" ry="8" fill="url(#gG)"/>
<ellipse cx="57.7" cy="350.3" rx="7.5" ry="9" fill="url(#gR2)"/>
</g>
<rect x="48" y="316.4" width="20.60" height="21.00" fill="none" stroke="#333" stroke-width="0.75"/>
<rect x="70.2" y="316.4" width="22.50" height="20.10" fill="none" stroke="#333" stroke-width="0.75"/>
<text transform="translate(59.40,306.60) scale(1,1.15)" font-size="7" text-anchor="middle" font-weight="bold" fill="#1a1a1a" style="stroke-width:0.08px">MP</text>
<text transform="translate(59.40,315.00) scale(1,1.15)" font-size="7" text-anchor="middle" font-weight="bold" fill="#1a1a1a" style="stroke-width:0.08px">15.9</text>
<text transform="translate(81.70,306.60) scale(1,1.15)" font-size="7" text-anchor="middle" font-weight="bold" fill="#1a1a1a" style="stroke-width:0.08px">LSK</text>
<text transform="translate(81.70,315.00) scale(1,1.15)" font-size="7" text-anchor="middle" font-weight="bold" fill="#1a1a1a" style="stroke-width:0.08px">2.90</text>
<text x="40.8" y="301.70" font-size="6.3" text-anchor="end" fill="#333">10<tspan font-size="4.2" dy="-2.4">5</tspan></text>
<text x="40.8" y="317.00" font-size="6.3" text-anchor="end" fill="#333">10<tspan font-size="4.2" dy="-2.4">4</tspan></text>
<text x="40.8" y="332.90" font-size="6.3" text-anchor="end" fill="#333">10<tspan font-size="4.2" dy="-2.4">3</tspan></text>
<text x="40.8" y="351.60" font-size="6.3" text-anchor="end" fill="#333">0</text>
<text x="40.8" y="371.00" font-size="6.3" text-anchor="end" fill="#333">-10<tspan font-size="4.2" dy="-2.4">3</tspan></text>
<text x="55.70" y="380.10" font-size="6.3" text-anchor="middle" fill="#333">0</text>
<text x="77.70" y="380.10" font-size="6.3" text-anchor="middle" fill="#333">10<tspan font-size="4.2" dy="-2.4">3</tspan></text>
<text x="94.30" y="380.10" font-size="6.3" text-anchor="middle" fill="#333">10<tspan font-size="4.2" dy="-2.4">4</tspan></text>
<text x="110.20" y="380.10" font-size="6.3" text-anchor="middle" fill="#333">10<tspan font-size="4.2" dy="-2.4">5</tspan></text>
<rect x="152.5" y="221" width="75.40" height="75.30" fill="none" stroke="#3a3a3a" stroke-width="0.9"/>
<path fill="#666" opacity="0.6" d="M172.4 277.2h.7v.7h-.7zM179.2 278.9h.7v.7h-.7zM192.5 263.8h.7v.7h-.7zM160.7 285.4h.7v.7h-.7zM173.5 268.6h.7v.7h-.7zM211.8 275.2h.7v.7h-.7zM203.5 275.3h.7v.7h-.7zM193.2 266.2h.7v.7h-.7zM193.0 286.3h.7v.7h-.7zM187.2 282.8h.7v.7h-.7zM194.9 263.8h.7v.7h-.7zM199.4 278.6h.7v.7h-.7zM175.7 262.9h.7v.7h-.7zM205.0 275.2h.7v.7h-.7zM197.4 286.6h.7v.7h-.7zM197.1 287.8h.7v.7h-.7zM180.5 284.4h.7v.7h-.7zM183.1 288.2h.7v.7h-.7zM205.7 264.7h.7v.7h-.7zM167.1 268.1h.7v.7h-.7zM210.2 274.2h.7v.7h-.7zM192.6 270.4h.7v.7h-.7zM186.4 272.8h.7v.7h-.7zM178.2 278.4h.7v.7h-.7zM190.4 287.3h.7v.7h-.7zM195.5 288.0h.7v.7h-.7zM204.5 289.7h.7v.7h-.7zM194.9 266.6h.7v.7h-.7zM204.8 289.0h.7v.7h-.7zM207.0 277.9h.7v.7h-.7zM197.1 267.9h.7v.7h-.7zM203.2 278.1h.7v.7h-.7zM174.8 263.8h.7v.7h-.7zM204.4 289.7h.7v.7h-.7zM164.6 284.4h.7v.7h-.7zM181.3 266.2h.7v.7h-.7zM175.3 283.5h.7v.7h-.7zM205.4 263.2h.7v.7h-.7zM192.0 263.3h.7v.7h-.7zM197.4 271.3h.7v.7h-.7z"/>
<path fill="#555" opacity="0.55" d="M159.0 274.9h.7v.7h-.7zM204.6 243.6h.7v.7h-.7zM177.1 264.9h.7v.7h-.7zM205.8 281.5h.7v.7h-.7zM205.0 266.8h.7v.7h-.7zM185.8 252.0h.7v.7h-.7zM181.0 255.9h.7v.7h-.7zM162.0 278.1h.7v.7h-.7zM197.9 284.9h.7v.7h-.7zM201.3 249.1h.7v.7h-.7zM202.3 244.9h.7v.7h-.7zM191.0 283.6h.7v.7h-.7zM205.2 282.0h.7v.7h-.7zM198.1 280.9h.7v.7h-.7zM184.5 257.7h.7v.7h-.7zM176.7 261.7h.7v.7h-.7zM188.2 284.4h.7v.7h-.7zM196.2 241.5h.7v.7h-.7zM160.3 269.6h.7v.7h-.7zM199.9 282.8h.7v.7h-.7zM206.2 268.1h.7v.7h-.7zM203.9 259.3h.7v.7h-.7zM174.1 282.1h.7v.7h-.7zM184.2 254.4h.7v.7h-.7zM179.7 257.0h.7v.7h-.7zM202.2 272.3h.7v.7h-.7zM166.9 280.5h.7v.7h-.7zM204.9 275.4h.7v.7h-.7zM186.7 283.1h.7v.7h-.7zM183.6 283.3h.7v.7h-.7zM175.0 259.1h.7v.7h-.7zM197.9 284.3h.7v.7h-.7zM188.0 245.0h.7v.7h-.7zM187.0 250.8h.7v.7h-.7zM203.7 250.4h.7v.7h-.7zM181.7 258.0h.7v.7h-.7zM172.7 282.4h.7v.7h-.7zM197.0 239.7h.7v.7h-.7zM203.4 251.3h.7v.7h-.7zM169.7 282.5h.7v.7h-.7zM193.7 242.9h.7v.7h-.7zM189.7 242.2h.7v.7h-.7zM168.1 279.6h.7v.7h-.7zM162.6 274.0h.7v.7h-.7zM173.7 263.1h.7v.7h-.7zM202.6 243.1h.7v.7h-.7zM170.6 281.4h.7v.7h-.7zM201.0 280.7h.7v.7h-.7zM170.3 265.0h.7v.7h-.7zM194.2 241.8h.7v.7h-.7zM210.5 269.7h.7v.7h-.7zM206.7 272.3h.7v.7h-.7zM187.2 283.6h.7v.7h-.7zM204.1 258.6h.7v.7h-.7zM191.1 284.8h.7v.7h-.7zM187.5 283.5h.7v.7h-.7zM197.8 284.9h.7v.7h-.7zM166.0 276.8h.7v.7h-.7zM174.7 281.0h.7v.7h-.7zM205.8 247.0h.7v.7h-.7zM168.2 263.2h.7v.7h-.7zM172.3 265.2h.7v.7h-.7zM189.7 249.7h.7v.7h-.7zM174.0 281.8h.7v.7h-.7zM201.0 280.3h.7v.7h-.7zM206.8 270.8h.7v.7h-.7zM200.6 284.8h.7v.7h-.7zM204.6 250.7h.7v.7h-.7zM160.2 273.9h.7v.7h-.7zM196.6 284.0h.7v.7h-.7zM184.6 281.2h.7v.7h-.7zM174.4 281.6h.7v.7h-.7zM205.9 263.9h.7v.7h-.7zM204.4 247.1h.7v.7h-.7zM180.6 281.7h.7v.7h-.7zM179.2 284.6h.7v.7h-.7zM172.6 262.0h.7v.7h-.7zM188.1 243.4h.7v.7h-.7zM206.3 262.0h.7v.7h-.7zM169.2 279.4h.7v.7h-.7zM201.8 242.4h.7v.7h-.7zM198.3 243.6h.7v.7h-.7zM165.2 277.6h.7v.7h-.7zM206.6 266.3h.7v.7h-.7zM168.2 266.2h.7v.7h-.7zM168.3 263.4h.7v.7h-.7zM185.7 251.9h.7v.7h-.7zM163.3 269.4h.7v.7h-.7zM200.1 244.1h.7v.7h-.7zM166.3 262.1h.7v.7h-.7z"/>
<clipPath id="cp3"><path d="M190,244 Q192,241.3 196.5,241.3 Q202.7,241.5 203.2,247 L203.3,253.5 Q205.4,260 205.4,266.6 L205,276 Q204,281.5 199,283 Q194,284 188,283.7 Q180,283 172,280 L165,277.5 Q161.6,275 161.6,270 Q161.6,266.5 164,265.5 L172.5,263.1 Q178,261 183,255 L187,249 Q188.5,246 190,244 Z"/></clipPath>
<path d="M190,244 Q192,241.3 196.5,241.3 Q202.7,241.5 203.2,247 L203.3,253.5 Q205.4,260 205.4,266.6 L205,276 Q204,281.5 199,283 Q194,284 188,283.7 Q180,283 172,280 L165,277.5 Q161.6,275 161.6,270 Q161.6,266.5 164,265.5 L172.5,263.1 Q178,261 183,255 L187,249 Q188.5,246 190,244 Z" fill="#1a1aff" filter="url(#b1)" opacity="1"/>
<g clip-path="url(#cp3)">
<path d="M190,244 Q192,241.3 196.5,241.3 Q202.7,241.5 203.2,247 L203.3,253.5 Q205.4,260 205.4,266.6 L205,276 Q204,281.5 199,283 Q194,284 188,283.7 Q180,283 172,280 L165,277.5 Q161.6,275 161.6,270 Q161.6,266.5 164,265.5 L172.5,263.1 Q178,261 183,255 L187,249 Q188.5,246 190,244 Z" fill="#2c62ff" filter="url(#b3)" opacity="0.9"/>
<ellipse cx="197" cy="252" rx="7.5" ry="12.5" fill="url(#gCf)"/>
<ellipse cx="193.5" cy="261" rx="6.5" ry="9" fill="url(#gG)"/>
<ellipse cx="172" cy="271" rx="8" ry="5" fill="url(#gL)"/>
<ellipse cx="189.7" cy="268.3" rx="13" ry="14" fill="url(#gRb)"/>
</g>
<rect x="179.4" y="239.2" width="36.00" height="25.40" fill="none" stroke="#333" stroke-width="0.75"/>
<rect x="158.4" y="264.6" width="57.00" height="20.90" fill="none" stroke="#333" stroke-width="0.75"/>
<line x1="185.40" y1="264.60" x2="185.40" y2="285.50" stroke="#222" stroke-width="0.75" />
<text transform="translate(198.40,228.90) scale(1,1.15)" font-size="7" text-anchor="middle" font-weight="bold" fill="#1a1a1a" style="stroke-width:0.08px">MPP</text>
<text transform="translate(197.50,237.10) scale(1,1.15)" font-size="7" text-anchor="middle" font-weight="bold" fill="#1a1a1a" style="stroke-width:0.08px">23.0</text>
<text transform="translate(166.60,253.70) scale(1,1.15)" font-size="7" text-anchor="middle" font-weight="bold" fill="#1a1a1a" style="stroke-width:0.08px">LT-HSC</text>
<text transform="translate(164.60,262.40) scale(1,1.15)" font-size="7" text-anchor="middle" font-weight="bold" fill="#1a1a1a" style="stroke-width:0.08px">20.4</text>
<text transform="translate(213.00,283.90) scale(1,1.15)" font-size="7" text-anchor="middle" font-weight="bold" fill="#1a1a1a" style="stroke-width:0.08px">ST-HSC</text>
<text transform="translate(210.80,291.30) scale(1,1.15)" font-size="7" text-anchor="middle" font-weight="bold" fill="#1a1a1a" style="stroke-width:0.08px">56.1</text>
<text x="151" y="224.80" font-size="6.3" text-anchor="end" fill="#333">10<tspan font-size="4.2" dy="-2.4">5</tspan></text>
<text x="151" y="243.60" font-size="6.3" text-anchor="end" fill="#333">10<tspan font-size="4.2" dy="-2.4">4</tspan></text>
<text x="151" y="266.10" font-size="6.3" text-anchor="end" fill="#333">10<tspan font-size="4.2" dy="-2.4">3</tspan></text>
<text x="151" y="272.60" font-size="6.3" text-anchor="end" fill="#333">0</text>
<text x="151" y="281.40" font-size="6.3" text-anchor="end" fill="#333">-10<tspan font-size="4.2" dy="-2.4">3</tspan></text>
<rect x="152.5" y="298.2" width="75.40" height="74.30" fill="none" stroke="#3a3a3a" stroke-width="0.9"/>
<path fill="#666" opacity="0.6" d="M172.3 342.9h.7v.7h-.7zM180.6 344.3h.7v.7h-.7zM163.5 351.2h.7v.7h-.7zM207.7 362.4h.7v.7h-.7zM199.8 346.2h.7v.7h-.7zM187.9 347.7h.7v.7h-.7zM169.0 343.0h.7v.7h-.7zM171.1 366.0h.7v.7h-.7zM203.1 362.6h.7v.7h-.7zM201.6 345.4h.7v.7h-.7zM176.1 357.6h.7v.7h-.7zM198.1 363.9h.7v.7h-.7zM205.8 342.4h.7v.7h-.7zM191.5 358.8h.7v.7h-.7zM186.3 345.0h.7v.7h-.7zM184.6 342.5h.7v.7h-.7zM208.6 364.2h.7v.7h-.7zM188.5 348.4h.7v.7h-.7zM207.3 356.0h.7v.7h-.7zM205.9 363.7h.7v.7h-.7zM186.4 351.6h.7v.7h-.7zM191.1 352.1h.7v.7h-.7zM168.4 348.5h.7v.7h-.7zM202.3 341.2h.7v.7h-.7zM162.4 357.5h.7v.7h-.7zM174.6 355.0h.7v.7h-.7zM184.5 349.6h.7v.7h-.7zM211.9 345.5h.7v.7h-.7zM181.5 345.7h.7v.7h-.7zM192.9 347.7h.7v.7h-.7zM178.5 360.9h.7v.7h-.7zM176.7 355.6h.7v.7h-.7zM207.0 342.8h.7v.7h-.7zM163.2 346.4h.7v.7h-.7zM199.8 357.2h.7v.7h-.7zM172.3 349.3h.7v.7h-.7zM169.2 352.9h.7v.7h-.7zM162.2 359.5h.7v.7h-.7zM206.6 366.7h.7v.7h-.7zM198.2 366.9h.7v.7h-.7z"/>
<path fill="#555" opacity="0.55" d="M198.3 321.5h.7v.7h-.7zM193.1 325.7h.7v.7h-.7zM173.6 344.6h.7v.7h-.7zM170.7 357.8h.7v.7h-.7zM195.8 357.3h.7v.7h-.7zM167.4 358.7h.7v.7h-.7zM160.7 345.9h.7v.7h-.7zM187.8 328.7h.7v.7h-.7zM206.4 346.7h.7v.7h-.7zM193.0 320.3h.7v.7h-.7zM171.8 355.3h.7v.7h-.7zM195.2 358.8h.7v.7h-.7zM205.7 353.1h.7v.7h-.7zM172.3 357.0h.7v.7h-.7zM162.2 346.6h.7v.7h-.7zM197.7 358.6h.7v.7h-.7zM192.8 319.5h.7v.7h-.7zM206.3 345.2h.7v.7h-.7zM162.4 348.2h.7v.7h-.7zM160.9 352.4h.7v.7h-.7zM162.6 346.2h.7v.7h-.7zM173.3 359.2h.7v.7h-.7zM205.3 340.3h.7v.7h-.7zM203.1 323.2h.7v.7h-.7zM179.9 359.7h.7v.7h-.7zM167.3 346.6h.7v.7h-.7zM203.2 355.7h.7v.7h-.7zM202.4 352.3h.7v.7h-.7zM200.0 337.4h.7v.7h-.7zM202.8 357.1h.7v.7h-.7zM172.6 342.3h.7v.7h-.7zM189.8 358.0h.7v.7h-.7zM188.2 358.3h.7v.7h-.7zM158.1 346.7h.7v.7h-.7zM194.4 361.4h.7v.7h-.7zM170.4 354.8h.7v.7h-.7zM203.1 350.4h.7v.7h-.7zM191.3 360.2h.7v.7h-.7zM175.8 358.7h.7v.7h-.7zM172.1 341.8h.7v.7h-.7zM202.0 360.4h.7v.7h-.7zM204.8 323.3h.7v.7h-.7zM187.4 335.1h.7v.7h-.7zM184.3 330.3h.7v.7h-.7zM203.7 332.8h.7v.7h-.7zM201.6 354.1h.7v.7h-.7zM202.2 321.6h.7v.7h-.7zM187.9 327.2h.7v.7h-.7zM159.4 348.6h.7v.7h-.7zM205.7 341.6h.7v.7h-.7zM181.2 335.7h.7v.7h-.7zM206.2 338.9h.7v.7h-.7zM203.4 327.1h.7v.7h-.7zM165.6 352.9h.7v.7h-.7zM202.4 320.8h.7v.7h-.7zM205.9 330.7h.7v.7h-.7zM196.8 355.2h.7v.7h-.7zM179.3 340.6h.7v.7h-.7zM187.8 360.2h.7v.7h-.7zM169.6 344.9h.7v.7h-.7zM162.7 344.4h.7v.7h-.7zM198.3 359.8h.7v.7h-.7zM157.3 348.1h.7v.7h-.7zM204.5 326.9h.7v.7h-.7zM185.5 358.0h.7v.7h-.7zM162.4 345.9h.7v.7h-.7zM188.1 357.6h.7v.7h-.7zM194.3 361.2h.7v.7h-.7zM164.6 349.1h.7v.7h-.7zM182.8 338.5h.7v.7h-.7zM179.2 357.9h.7v.7h-.7zM195.2 358.0h.7v.7h-.7zM166.1 346.1h.7v.7h-.7zM197.7 357.5h.7v.7h-.7zM164.5 352.7h.7v.7h-.7zM184.2 355.2h.7v.7h-.7zM198.3 319.4h.7v.7h-.7zM170.2 343.2h.7v.7h-.7zM165.9 356.1h.7v.7h-.7zM163.9 352.8h.7v.7h-.7zM203.4 326.3h.7v.7h-.7zM186.2 330.7h.7v.7h-.7zM194.1 319.3h.7v.7h-.7zM185.2 326.5h.7v.7h-.7zM167.8 344.5h.7v.7h-.7zM158.4 351.4h.7v.7h-.7zM185.7 331.2h.7v.7h-.7zM177.5 355.3h.7v.7h-.7zM174.7 358.5h.7v.7h-.7zM177.4 340.5h.7v.7h-.7z"/>
<clipPath id="cp4"><path d="M191,323 Q193,319.8 197.5,319.8 Q203,320 204,326 L204.5,333 Q205.5,340 205.5,347 L204.5,352 Q203.5,356.5 198,358 Q192,359.5 186,359 Q176,358 168,355.5 Q161,353.5 159.9,350.8 Q160,347.5 164,346 L172,343.5 Q179,341 183.5,335.5 L187.5,328.5 Q189,325 191,323 Z"/></clipPath>
<path d="M191,323 Q193,319.8 197.5,319.8 Q203,320 204,326 L204.5,333 Q205.5,340 205.5,347 L204.5,352 Q203.5,356.5 198,358 Q192,359.5 186,359 Q176,358 168,355.5 Q161,353.5 159.9,350.8 Q160,347.5 164,346 L172,343.5 Q179,341 183.5,335.5 L187.5,328.5 Q189,325 191,323 Z" fill="#1a1aff" filter="url(#b1)" opacity="1"/>
<g clip-path="url(#cp4)">
<path d="M191,323 Q193,319.8 197.5,319.8 Q203,320 204,326 L204.5,333 Q205.5,340 205.5,347 L204.5,352 Q203.5,356.5 198,358 Q192,359.5 186,359 Q176,358 168,355.5 Q161,353.5 159.9,350.8 Q160,347.5 164,346 L172,343.5 Q179,341 183.5,335.5 L187.5,328.5 Q189,325 191,323 Z" fill="#2c62ff" filter="url(#b3)" opacity="0.9"/>
<ellipse cx="197" cy="331" rx="7.5" ry="12.5" fill="url(#gCf)"/>
<ellipse cx="193.5" cy="339" rx="6.5" ry="9" fill="url(#gG)"/>
<ellipse cx="174" cy="350" rx="11" ry="5" fill="url(#gCf)"/>
<ellipse cx="189.1" cy="345.9" rx="13" ry="13" fill="url(#gRb)"/>
</g>
<rect x="179.9" y="316.4" width="35.10" height="24.60" fill="none" stroke="#333" stroke-width="0.75"/>
<rect x="158.7" y="341" width="56.30" height="21.20" fill="none" stroke="#333" stroke-width="0.75"/>
<line x1="185.40" y1="341.00" x2="185.40" y2="362.20" stroke="#222" stroke-width="0.75" />
<text transform="translate(198.40,305.50) scale(1,1.15)" font-size="7" text-anchor="middle" font-weight="bold" fill="#1a1a1a" style="stroke-width:0.08px">MPP</text>
<text transform="translate(197.50,313.70) scale(1,1.15)" font-size="7" text-anchor="middle" font-weight="bold" fill="#1a1a1a" style="stroke-width:0.08px">24.8</text>
<text transform="translate(166.60,330.70) scale(1,1.15)" font-size="7" text-anchor="middle" font-weight="bold" fill="#1a1a1a" style="stroke-width:0.08px">LT-HSC</text>
<text transform="translate(164.60,338.90) scale(1,1.15)" font-size="7" text-anchor="middle" font-weight="bold" fill="#1a1a1a" style="stroke-width:0.08px">21.2</text>
<text transform="translate(213.00,360.60) scale(1,1.15)" font-size="7" text-anchor="middle" font-weight="bold" fill="#1a1a1a" style="stroke-width:0.08px">ST-HSC</text>
<text transform="translate(210.80,368.50) scale(1,1.15)" font-size="7" text-anchor="middle" font-weight="bold" fill="#1a1a1a" style="stroke-width:0.08px">53.7</text>
<text x="151" y="300.90" font-size="6.3" text-anchor="end" fill="#333">10<tspan font-size="4.2" dy="-2.4">5</tspan></text>
<text x="151" y="320.30" font-size="6.3" text-anchor="end" fill="#333">10<tspan font-size="4.2" dy="-2.4">4</tspan></text>
<text x="151" y="342.80" font-size="6.3" text-anchor="end" fill="#333">10<tspan font-size="4.2" dy="-2.4">3</tspan></text>
<text x="151" y="350.00" font-size="6.3" text-anchor="end" fill="#333">0</text>
<text x="151" y="358.10" font-size="6.3" text-anchor="end" fill="#333">-10<tspan font-size="4.2" dy="-2.4">3</tspan></text>
<text x="153.20" y="378.80" font-size="6.3" text-anchor="middle" fill="#333">-10<tspan font-size="4.2" dy="-2.4">3</tspan></text>
<text x="167.40" y="378.80" font-size="6.3" text-anchor="middle" fill="#333">0</text>
<text x="184.50" y="378.80" font-size="6.3" text-anchor="middle" fill="#333">10<tspan font-size="4.2" dy="-2.4">3</tspan></text>
<text x="197.70" y="378.80" font-size="6.3" text-anchor="middle" fill="#333">10<tspan font-size="4.2" dy="-2.4">4</tspan></text>
<text x="210.20" y="378.80" font-size="6.3" text-anchor="middle" fill="#333">10<tspan font-size="4.2" dy="-2.4">5</tspan></text>
<text x="222.60" y="378.80" font-size="6.3" text-anchor="middle" fill="#333">10<tspan font-size="4.2" dy="-2.4">6</tspan></text>
<rect x="263.5" y="220.9" width="74.90" height="74.50" fill="none" stroke="#3a3a3a" stroke-width="0.9"/>
<path fill="#666" opacity="0.6" d="M285.9 281.2h.7v.7h-.7zM291.4 288.0h.7v.7h-.7zM289.7 287.4h.7v.7h-.7zM266.9 271.8h.7v.7h-.7zM296.2 278.1h.7v.7h-.7zM294.8 259.8h.7v.7h-.7zM281.0 264.4h.7v.7h-.7zM283.4 275.5h.7v.7h-.7zM266.4 263.4h.7v.7h-.7zM274.9 287.2h.7v.7h-.7zM290.5 261.4h.7v.7h-.7zM291.5 260.7h.7v.7h-.7zM285.8 260.3h.7v.7h-.7zM266.1 285.6h.7v.7h-.7zM272.7 263.3h.7v.7h-.7zM297.4 285.7h.7v.7h-.7zM275.3 288.7h.7v.7h-.7zM283.3 279.0h.7v.7h-.7zM272.6 288.0h.7v.7h-.7zM288.1 288.9h.7v.7h-.7zM294.6 266.2h.7v.7h-.7zM277.6 261.6h.7v.7h-.7zM270.7 258.2h.7v.7h-.7zM275.6 276.5h.7v.7h-.7zM266.1 279.0h.7v.7h-.7zM276.8 266.5h.7v.7h-.7zM292.2 272.3h.7v.7h-.7zM276.1 272.4h.7v.7h-.7zM288.5 257.9h.7v.7h-.7zM297.2 256.8h.7v.7h-.7zM290.0 284.7h.7v.7h-.7zM266.6 282.8h.7v.7h-.7zM277.7 275.7h.7v.7h-.7zM266.3 257.6h.7v.7h-.7zM271.8 288.5h.7v.7h-.7zM272.3 281.7h.7v.7h-.7zM295.7 288.0h.7v.7h-.7zM277.0 268.1h.7v.7h-.7zM282.8 282.4h.7v.7h-.7zM269.5 281.4h.7v.7h-.7zM291.5 285.2h.7v.7h-.7zM267.2 288.2h.7v.7h-.7zM268.9 267.6h.7v.7h-.7zM285.5 287.2h.7v.7h-.7zM276.9 287.4h.7v.7h-.7z"/>
<path fill="#555" opacity="0.55" d="M290.5 238.6h.7v.7h-.7zM292.5 238.0h.7v.7h-.7zM303.8 238.8h.7v.7h-.7zM305.7 233.7h.7v.7h-.7zM312.0 268.5h.7v.7h-.7zM268.2 254.2h.7v.7h-.7zM282.2 239.3h.7v.7h-.7zM294.3 235.7h.7v.7h-.7zM268.0 247.8h.7v.7h-.7zM271.8 260.6h.7v.7h-.7zM267.3 245.6h.7v.7h-.7zM314.9 240.6h.7v.7h-.7zM314.1 246.1h.7v.7h-.7zM296.6 238.0h.7v.7h-.7zM313.5 253.5h.7v.7h-.7zM291.4 272.3h.7v.7h-.7zM286.6 240.2h.7v.7h-.7zM270.2 240.9h.7v.7h-.7zM288.1 237.1h.7v.7h-.7zM290.3 237.5h.7v.7h-.7zM270.3 254.0h.7v.7h-.7zM315.0 268.4h.7v.7h-.7zM295.6 277.0h.7v.7h-.7zM277.7 260.0h.7v.7h-.7zM280.1 237.9h.7v.7h-.7zM280.3 261.7h.7v.7h-.7zM304.3 278.9h.7v.7h-.7zM299.4 240.9h.7v.7h-.7zM278.6 263.3h.7v.7h-.7zM295.5 235.7h.7v.7h-.7zM287.0 263.7h.7v.7h-.7zM291.5 267.5h.7v.7h-.7zM302.1 278.4h.7v.7h-.7zM291.5 266.1h.7v.7h-.7zM315.7 269.0h.7v.7h-.7zM268.8 240.6h.7v.7h-.7zM314.7 269.6h.7v.7h-.7zM266.0 252.5h.7v.7h-.7zM290.5 271.6h.7v.7h-.7zM269.1 251.1h.7v.7h-.7zM273.5 256.9h.7v.7h-.7zM287.2 265.0h.7v.7h-.7zM283.7 262.9h.7v.7h-.7zM313.8 257.2h.7v.7h-.7zM276.6 239.0h.7v.7h-.7zM279.7 238.6h.7v.7h-.7zM288.9 266.4h.7v.7h-.7zM312.8 239.5h.7v.7h-.7zM289.8 267.7h.7v.7h-.7zM279.8 259.8h.7v.7h-.7zM314.9 244.1h.7v.7h-.7zM313.7 241.0h.7v.7h-.7zM288.7 236.5h.7v.7h-.7zM274.3 259.3h.7v.7h-.7zM268.9 236.7h.7v.7h-.7zM266.5 251.0h.7v.7h-.7zM294.0 237.6h.7v.7h-.7zM269.5 252.9h.7v.7h-.7zM299.4 276.1h.7v.7h-.7zM298.5 276.9h.7v.7h-.7z"/>
<clipPath id="cp5"><path d="M266.2,246 Q266.2,239.3 272,239 L285,238 Q292,237 296,237.3 Q300,238.5 304,238.8 L309,239.5 Q314.5,240.5 314.5,248 L314.8,262 Q315,270 314.5,273 Q312,277 305,276.8 Q299,277 295,276 Q292.5,274 292,271 L289,267 Q284,263 279,261.5 Q272,259 270.8,255.7 Q266.5,253 266.2,249 Z"/></clipPath>
<path d="M266.2,246 Q266.2,239.3 272,239 L285,238 Q292,237 296,237.3 Q300,238.5 304,238.8 L309,239.5 Q314.5,240.5 314.5,248 L314.8,262 Q315,270 314.5,273 Q312,277 305,276.8 Q299,277 295,276 Q292.5,274 292,271 L289,267 Q284,263 279,261.5 Q272,259 270.8,255.7 Q266.5,253 266.2,249 Z" fill="#1a1aff" filter="url(#b1)" opacity="1"/>
<g clip-path="url(#cp5)">
<path d="M266.2,246 Q266.2,239.3 272,239 L285,238 Q292,237 296,237.3 Q300,238.5 304,238.8 L309,239.5 Q314.5,240.5 314.5,248 L314.8,262 Q315,270 314.5,273 Q312,277 305,276.8 Q299,277 295,276 Q292.5,274 292,271 L289,267 Q284,263 279,261.5 Q272,259 270.8,255.7 Q266.5,253 266.2,249 Z" fill="#2c62ff" filter="url(#b3)" opacity="0.9"/>
<ellipse cx="290" cy="247" rx="30" ry="12" fill="url(#gCf)"/>
<ellipse cx="305.5" cy="265" rx="9" ry="15" fill="url(#gCf)"/>
<ellipse cx="307.6" cy="270.8" rx="3.5" ry="5" fill="url(#gGf)"/>
<ellipse cx="289" cy="246.5" rx="25" ry="8.5" fill="url(#gGf)"/>
<ellipse cx="292.5" cy="246" rx="11" ry="6.5" fill="url(#gRg)"/>
</g>
<ellipse cx="276" cy="262.5" rx="1.5" ry="1.6" fill="#1a1aff" filter="url(#b1)" opacity="1"/>
<ellipse cx="279.5" cy="265" rx="1.6" ry="1.6" fill="#1a1aff" filter="url(#b1)" opacity="1"/>
<ellipse cx="275.5" cy="269" rx="1" ry="1" fill="#1a1aff" filter="url(#b1)" opacity="1"/>
<ellipse cx="288" cy="267.5" rx="0.8" ry="0.8" fill="#1a1aff" filter="url(#b1)" opacity="1"/>
<line x1="299.70" y1="220.90" x2="299.70" y2="295.40" stroke="#222" stroke-width="0.8" />
<line x1="263.50" y1="256.40" x2="338.40" y2="256.40" stroke="#222" stroke-width="0.8" />
<text transform="translate(319.20,285.30) scale(1,1.15)" font-size="7" text-anchor="middle" font-weight="bold" fill="#1a1a1a" style="stroke-width:0.08px">SLAM-HSC</text>
<text transform="translate(319.20,293.60) scale(1,1.15)" font-size="7" text-anchor="middle" font-weight="bold" fill="#1a1a1a" style="stroke-width:0.08px">14.2</text>
<text x="262" y="223.90" font-size="6.3" text-anchor="end" fill="#333">10<tspan font-size="4.2" dy="-2.4">6</tspan></text>
<text x="262" y="237.20" font-size="6.3" text-anchor="end" fill="#333">10<tspan font-size="4.2" dy="-2.4">5</tspan></text>
<text x="262" y="250.40" font-size="6.3" text-anchor="end" fill="#333">10<tspan font-size="4.2" dy="-2.4">4</tspan></text>
<text x="262" y="265.50" font-size="6.3" text-anchor="end" fill="#333">10<tspan font-size="4.2" dy="-2.4">3</tspan></text>
<text x="262" y="271.60" font-size="6.3" text-anchor="end" fill="#333">0</text>
<text x="262" y="277.70" font-size="6.3" text-anchor="end" fill="#333">-10<tspan font-size="4.2" dy="-2.4">3</tspan></text>
<text x="262" y="293.60" font-size="6.3" text-anchor="end" fill="#333">-10<tspan font-size="4.2" dy="-2.4">4</tspan></text>
<rect x="263.5" y="298.2" width="74.90" height="74.60" fill="none" stroke="#3a3a3a" stroke-width="0.9"/>
<path fill="#666" opacity="0.6" d="M291.4 361.8h.7v.7h-.7zM281.5 342.2h.7v.7h-.7zM266.0 356.2h.7v.7h-.7zM281.0 359.6h.7v.7h-.7zM277.9 360.0h.7v.7h-.7zM274.7 361.1h.7v.7h-.7zM289.4 347.5h.7v.7h-.7zM283.2 356.9h.7v.7h-.7zM272.2 352.4h.7v.7h-.7zM291.8 342.3h.7v.7h-.7zM291.7 357.0h.7v.7h-.7zM293.0 344.7h.7v.7h-.7zM269.0 361.0h.7v.7h-.7zM291.8 348.6h.7v.7h-.7zM269.0 339.9h.7v.7h-.7zM286.3 343.2h.7v.7h-.7zM296.4 353.6h.7v.7h-.7zM272.4 355.9h.7v.7h-.7zM277.5 365.6h.7v.7h-.7zM295.1 351.0h.7v.7h-.7zM286.6 357.4h.7v.7h-.7zM291.8 367.2h.7v.7h-.7zM266.9 345.6h.7v.7h-.7zM285.3 343.7h.7v.7h-.7zM284.9 336.1h.7v.7h-.7zM294.2 351.4h.7v.7h-.7zM269.7 356.2h.7v.7h-.7zM276.0 339.9h.7v.7h-.7zM281.5 337.8h.7v.7h-.7zM272.7 363.3h.7v.7h-.7zM288.3 333.4h.7v.7h-.7zM290.9 333.6h.7v.7h-.7zM276.7 364.7h.7v.7h-.7zM285.8 343.7h.7v.7h-.7zM278.1 346.6h.7v.7h-.7zM270.1 368.0h.7v.7h-.7zM267.7 347.8h.7v.7h-.7zM289.9 346.9h.7v.7h-.7zM297.4 341.6h.7v.7h-.7zM297.3 364.2h.7v.7h-.7zM287.4 364.1h.7v.7h-.7zM280.3 362.1h.7v.7h-.7zM291.5 351.1h.7v.7h-.7zM281.1 357.7h.7v.7h-.7zM279.1 336.0h.7v.7h-.7zM289.9 342.3h.7v.7h-.7zM281.6 360.4h.7v.7h-.7zM271.5 333.8h.7v.7h-.7zM270.0 353.6h.7v.7h-.7zM277.6 342.0h.7v.7h-.7zM280.4 365.5h.7v.7h-.7zM274.2 347.4h.7v.7h-.7zM294.1 354.4h.7v.7h-.7zM274.6 349.6h.7v.7h-.7zM281.3 338.0h.7v.7h-.7z"/>
<path fill="#555" opacity="0.55" d="M314.0 330.6h.7v.7h-.7zM296.7 352.1h.7v.7h-.7zM284.4 313.2h.7v.7h-.7zM281.7 338.7h.7v.7h-.7zM316.8 330.9h.7v.7h-.7zM285.4 316.4h.7v.7h-.7zM312.9 319.9h.7v.7h-.7zM278.5 337.9h.7v.7h-.7zM269.2 335.5h.7v.7h-.7zM265.1 324.0h.7v.7h-.7zM299.4 315.6h.7v.7h-.7zM301.4 352.6h.7v.7h-.7zM270.1 315.1h.7v.7h-.7zM279.9 314.0h.7v.7h-.7zM274.6 334.3h.7v.7h-.7zM315.6 341.3h.7v.7h-.7zM266.8 330.7h.7v.7h-.7zM263.0 322.4h.7v.7h-.7zM268.5 322.0h.7v.7h-.7zM270.7 332.5h.7v.7h-.7zM285.9 342.3h.7v.7h-.7zM293.9 314.3h.7v.7h-.7zM315.2 327.8h.7v.7h-.7zM295.6 312.6h.7v.7h-.7zM268.1 323.7h.7v.7h-.7zM279.5 314.3h.7v.7h-.7zM286.8 342.6h.7v.7h-.7zM305.7 317.0h.7v.7h-.7zM293.7 313.1h.7v.7h-.7zM268.0 327.1h.7v.7h-.7zM316.8 346.8h.7v.7h-.7zM300.0 355.3h.7v.7h-.7zM291.3 314.8h.7v.7h-.7zM272.9 332.4h.7v.7h-.7zM282.3 315.7h.7v.7h-.7zM267.8 325.2h.7v.7h-.7zM311.2 353.5h.7v.7h-.7zM315.8 332.0h.7v.7h-.7zM270.4 332.6h.7v.7h-.7zM295.0 313.5h.7v.7h-.7zM313.6 334.6h.7v.7h-.7zM314.9 334.3h.7v.7h-.7zM299.3 354.2h.7v.7h-.7zM311.2 316.4h.7v.7h-.7zM268.4 329.9h.7v.7h-.7zM314.3 321.0h.7v.7h-.7zM314.2 327.3h.7v.7h-.7zM314.9 333.5h.7v.7h-.7zM277.9 315.9h.7v.7h-.7zM264.7 327.8h.7v.7h-.7zM276.8 317.1h.7v.7h-.7zM296.6 353.4h.7v.7h-.7zM287.3 314.0h.7v.7h-.7zM298.9 353.5h.7v.7h-.7zM265.1 333.4h.7v.7h-.7zM275.6 319.5h.7v.7h-.7zM313.3 321.3h.7v.7h-.7zM290.7 344.5h.7v.7h-.7zM297.6 354.6h.7v.7h-.7zM304.9 317.3h.7v.7h-.7z"/>
<clipPath id="cp6"><path d="M266.2,323 Q266.2,316.3 272,316 L285,315 Q292,314 296,314.3 Q300,315.5 304,315.8 L309,316.5 Q314.5,317.5 314.5,325 L314.8,339 Q315,349 314.5,351 Q312,354.5 305,354.3 Q299,354.5 295,353 Q292.5,351 292,348 L289,344 Q284,340 279,338.5 Q272,336 270.8,332.7 Q266.5,330 266.2,326 Z"/></clipPath>
<path d="M266.2,323 Q266.2,316.3 272,316 L285,315 Q292,314 296,314.3 Q300,315.5 304,315.8 L309,316.5 Q314.5,317.5 314.5,325 L314.8,339 Q315,349 314.5,351 Q312,354.5 305,354.3 Q299,354.5 295,353 Q292.5,351 292,348 L289,344 Q284,340 279,338.5 Q272,336 270.8,332.7 Q266.5,330 266.2,326 Z" fill="#1a1aff" filter="url(#b1)" opacity="1"/>
<g clip-path="url(#cp6)">
<path d="M266.2,323 Q266.2,316.3 272,316 L285,315 Q292,314 296,314.3 Q300,315.5 304,315.8 L309,316.5 Q314.5,317.5 314.5,325 L314.8,339 Q315,349 314.5,351 Q312,354.5 305,354.3 Q299,354.5 295,353 Q292.5,351 292,348 L289,344 Q284,340 279,338.5 Q272,336 270.8,332.7 Q266.5,330 266.2,326 Z" fill="#2c62ff" filter="url(#b3)" opacity="0.9"/>
<ellipse cx="290" cy="324" rx="30" ry="12" fill="url(#gCf)"/>
<ellipse cx="306" cy="343" rx="9" ry="15" fill="url(#gCf)"/>
<ellipse cx="289" cy="323.5" rx="25" ry="8.5" fill="url(#gGf)"/>
<ellipse cx="292.5" cy="323.3" rx="11" ry="6.5" fill="url(#gRg)"/>
</g>
<line x1="299.70" y1="298.20" x2="299.70" y2="372.80" stroke="#222" stroke-width="0.8" />
<line x1="263.50" y1="333.10" x2="338.40" y2="333.10" stroke="#222" stroke-width="0.8" />
<text transform="translate(319.20,362.50) scale(1,1.15)" font-size="7" text-anchor="middle" font-weight="bold" fill="#1a1a1a" style="stroke-width:0.08px">SLAM-HSC</text>
<text transform="translate(319.20,370.80) scale(1,1.15)" font-size="7" text-anchor="middle" font-weight="bold" fill="#1a1a1a" style="stroke-width:0.08px">13.9</text>
<text x="262" y="301.50" font-size="6.3" text-anchor="end" fill="#333">10<tspan font-size="4.2" dy="-2.4">6</tspan></text>
<text x="262" y="314.00" font-size="6.3" text-anchor="end" fill="#333">10<tspan font-size="4.2" dy="-2.4">5</tspan></text>
<text x="262" y="327.20" font-size="6.3" text-anchor="end" fill="#333">10<tspan font-size="4.2" dy="-2.4">4</tspan></text>
<text x="262" y="343.00" font-size="6.3" text-anchor="end" fill="#333">10<tspan font-size="4.2" dy="-2.4">3</tspan></text>
<text x="262" y="349.20" font-size="6.3" text-anchor="end" fill="#333">0</text>
<text x="262" y="355.00" font-size="6.3" text-anchor="end" fill="#333">-10<tspan font-size="4.2" dy="-2.4">3</tspan></text>
<text x="262" y="370.30" font-size="6.3" text-anchor="end" fill="#333">-10<tspan font-size="4.2" dy="-2.4">4</tspan></text>
<text x="265.60" y="378.80" font-size="6.3" text-anchor="middle" fill="#333">-10<tspan font-size="4.2" dy="-2.4">3</tspan></text>
<text x="282.40" y="378.80" font-size="6.3" text-anchor="middle" fill="#333">0</text>
<text x="300.60" y="378.80" font-size="6.3" text-anchor="middle" fill="#333">10<tspan font-size="4.2" dy="-2.4">3</tspan></text>
<text x="312.00" y="378.80" font-size="6.3" text-anchor="middle" fill="#333">10<tspan font-size="4.2" dy="-2.4">4</tspan></text>
<text x="323.30" y="378.80" font-size="6.3" text-anchor="middle" fill="#333">10<tspan font-size="4.2" dy="-2.4">5</tspan></text>
<text x="335.80" y="378.80" font-size="6.3" text-anchor="middle" fill="#333">10<tspan font-size="4.2" dy="-2.4">6</tspan></text>
<polyline points="92.1,674.2 92.1,638 298,638" fill="none" stroke="#222" stroke-width="0.9"/>
<line x1="189.40" y1="638.00" x2="189.40" y2="643.50" stroke="#111" stroke-width="0.9" />
<path d="M187.20,642.50 L189.40,647.50 L191.60,642.50 Z" fill="#111"/>
<line x1="298.00" y1="638.00" x2="298.00" y2="643.50" stroke="#111" stroke-width="0.9" />
<path d="M295.80,642.50 L298.00,647.50 L300.20,642.50 Z" fill="#111"/>
<text transform="translate(42.20,645.80) scale(1,1.15)" font-size="9.6" text-anchor="start" font-weight="bold" fill="#111" >Lin<tspan font-size="6" dy="-3.5">-</tspan><tspan dy="3.5"> (IR)</tspan></text>
<text transform="translate(13.30,687.20) scale(1.0,1) rotate(-90)" x="0" y="3.71" font-size="10.3" text-anchor="middle" font-weight="bold" fill="#111">WT</text>
<text transform="translate(20.70,726.60) scale(1.0,1) rotate(-90)" x="0" y="3.71" font-size="10.3" text-anchor="middle" font-weight="bold" fill="#111">c-Kit</text>
<text transform="translate(13.30,762.80) scale(1.0,1) rotate(-90)" x="0" y="3.71" font-size="10.3" text-anchor="middle" font-weight="bold" fill="#111">Trim47<tspan font-size="6.00" font-weight="normal" dy="-3.00">-/-</tspan></text>
<line x1="27.30" y1="800.00" x2="27.30" y2="653.70" stroke="#111" stroke-width="1.1" />
<path d="M24.70,655.70 L27.30,648.70 L29.90,655.70 Z" fill="#111"/>
<line x1="43.20" y1="811.30" x2="111.50" y2="811.30" stroke="#111" stroke-width="1.1" />
<path d="M109.50,808.70 L116.50,811.30 L109.50,813.90 Z" fill="#111"/>
<text transform="translate(77.40,821.00) scale(1,1.15)" font-size="10" text-anchor="middle" font-weight="bold" fill="#111" >Sca1</text>
<text transform="translate(131.40,724.00) scale(1.0,1) rotate(-90)" x="0" y="3.71" font-size="10.3" text-anchor="middle" font-weight="bold" fill="#111">Flk2</text>
<line x1="137.20" y1="799.40" x2="137.20" y2="655.00" stroke="#111" stroke-width="1.1" />
<path d="M134.60,657.00 L137.20,650.00 L139.80,657.00 Z" fill="#111"/>
<line x1="153.90" y1="810.30" x2="221.50" y2="810.30" stroke="#111" stroke-width="1.1" />
<path d="M219.50,807.70 L226.50,810.30 L219.50,812.90 Z" fill="#111"/>
<text transform="translate(188.60,821.60) scale(1,1.15)" font-size="10" text-anchor="middle" font-weight="bold" fill="#111" >CD34</text>
<text transform="translate(241.70,725.00) scale(1.0,1) rotate(-90)" x="0" y="3.71" font-size="10.3" text-anchor="middle" font-weight="bold" fill="#111">CD48</text>
<line x1="248.00" y1="799.40" x2="248.00" y2="655.00" stroke="#111" stroke-width="1.1" />
<path d="M245.40,657.00 L248.00,650.00 L250.60,657.00 Z" fill="#111"/>
<line x1="264.70" y1="810.30" x2="332.50" y2="810.30" stroke="#111" stroke-width="1.1" />
<path d="M330.50,807.70 L337.50,810.30 L330.50,812.90 Z" fill="#111"/>
<text transform="translate(302.80,821.60) scale(1,1.15)" font-size="10" text-anchor="middle" font-weight="bold" fill="#111" >CD150</text>
<rect x="41.5" y="648.6" width="75.20" height="75.10" fill="none" stroke="#3a3a3a" stroke-width="0.9"/>
<path fill="#666" opacity="0.6" d="M81.1 685.8h.7v.7h-.7zM90.2 684.9h.7v.7h-.7zM87.0 688.4h.7v.7h-.7zM73.6 690.1h.7v.7h-.7zM73.0 689.2h.7v.7h-.7zM74.0 685.1h.7v.7h-.7zM83.9 693.9h.7v.7h-.7zM75.5 686.7h.7v.7h-.7zM89.6 695.4h.7v.7h-.7zM88.2 688.8h.7v.7h-.7zM99.3 684.6h.7v.7h-.7zM96.0 687.5h.7v.7h-.7zM76.0 685.4h.7v.7h-.7zM80.6 693.8h.7v.7h-.7zM77.1 691.0h.7v.7h-.7zM89.9 688.5h.7v.7h-.7zM87.3 684.8h.7v.7h-.7zM73.7 686.5h.7v.7h-.7zM91.1 689.1h.7v.7h-.7zM80.8 691.0h.7v.7h-.7zM84.7 687.6h.7v.7h-.7zM94.2 692.4h.7v.7h-.7zM78.8 690.9h.7v.7h-.7zM86.7 694.5h.7v.7h-.7zM92.4 687.5h.7v.7h-.7zM99.4 685.4h.7v.7h-.7zM83.7 693.1h.7v.7h-.7zM76.3 689.9h.7v.7h-.7zM73.1 692.0h.7v.7h-.7zM93.4 690.9h.7v.7h-.7zM96.5 687.8h.7v.7h-.7zM91.5 691.1h.7v.7h-.7zM88.2 689.5h.7v.7h-.7zM95.5 695.3h.7v.7h-.7zM85.3 692.0h.7v.7h-.7zM73.7 692.4h.7v.7h-.7zM90.1 695.9h.7v.7h-.7zM95.0 687.4h.7v.7h-.7zM82.8 692.0h.7v.7h-.7zM72.6 689.5h.7v.7h-.7zM76.7 685.4h.7v.7h-.7zM73.7 693.2h.7v.7h-.7zM75.6 687.0h.7v.7h-.7zM82.9 694.5h.7v.7h-.7zM74.3 689.4h.7v.7h-.7zM87.4 694.6h.7v.7h-.7zM94.9 694.4h.7v.7h-.7zM79.8 689.0h.7v.7h-.7zM82.0 694.6h.7v.7h-.7zM98.8 685.8h.7v.7h-.7zM76.9 686.8h.7v.7h-.7zM78.5 689.8h.7v.7h-.7zM88.5 687.2h.7v.7h-.7zM72.1 689.0h.7v.7h-.7zM82.3 690.8h.7v.7h-.7zM98.7 692.3h.7v.7h-.7zM86.4 691.4h.7v.7h-.7zM90.9 684.6h.7v.7h-.7zM97.2 693.4h.7v.7h-.7zM96.5 693.6h.7v.7h-.7zM83.0 688.8h.7v.7h-.7zM74.9 691.6h.7v.7h-.7zM73.7 684.8h.7v.7h-.7zM77.8 685.9h.7v.7h-.7zM81.5 684.6h.7v.7h-.7zM72.0 685.8h.7v.7h-.7zM74.8 688.4h.7v.7h-.7zM72.7 694.5h.7v.7h-.7zM89.2 685.8h.7v.7h-.7zM79.1 688.2h.7v.7h-.7zM82.2 685.5h.7v.7h-.7zM95.8 695.9h.7v.7h-.7zM85.0 689.8h.7v.7h-.7zM74.4 685.2h.7v.7h-.7zM81.6 687.2h.7v.7h-.7zM95.2 685.9h.7v.7h-.7zM72.6 695.4h.7v.7h-.7zM86.8 685.8h.7v.7h-.7zM87.2 684.3h.7v.7h-.7zM86.8 695.7h.7v.7h-.7zM96.2 692.4h.7v.7h-.7zM79.3 688.4h.7v.7h-.7zM76.7 693.3h.7v.7h-.7zM86.9 693.3h.7v.7h-.7zM81.2 686.7h.7v.7h-.7zM94.7 695.8h.7v.7h-.7zM95.9 693.7h.7v.7h-.7zM94.9 692.9h.7v.7h-.7zM78.3 690.2h.7v.7h-.7zM82.0 684.3h.7v.7h-.7zM72.8 687.4h.7v.7h-.7zM79.3 692.3h.7v.7h-.7zM98.8 689.4h.7v.7h-.7zM98.2 695.9h.7v.7h-.7zM98.7 688.4h.7v.7h-.7zM78.2 686.7h.7v.7h-.7zM77.5 686.5h.7v.7h-.7zM89.5 694.8h.7v.7h-.7zM95.5 689.8h.7v.7h-.7zM90.3 693.6h.7v.7h-.7zM74.4 691.9h.7v.7h-.7zM97.5 693.4h.7v.7h-.7zM93.0 689.7h.7v.7h-.7zM77.0 693.5h.7v.7h-.7zM81.3 693.6h.7v.7h-.7zM99.2 688.8h.7v.7h-.7zM83.2 695.4h.7v.7h-.7zM92.3 686.0h.7v.7h-.7zM75.6 685.8h.7v.7h-.7zM97.3 693.7h.7v.7h-.7zM76.1 693.9h.7v.7h-.7zM99.4 691.9h.7v.7h-.7zM81.8 690.6h.7v.7h-.7zM75.7 684.2h.7v.7h-.7zM99.2 691.8h.7v.7h-.7zM86.7 695.2h.7v.7h-.7zM84.1 694.5h.7v.7h-.7zM95.1 686.5h.7v.7h-.7zM79.1 687.5h.7v.7h-.7zM78.7 691.0h.7v.7h-.7zM79.3 689.0h.7v.7h-.7zM75.7 694.9h.7v.7h-.7zM81.9 689.5h.7v.7h-.7zM88.3 694.9h.7v.7h-.7zM83.8 695.0h.7v.7h-.7zM86.0 690.4h.7v.7h-.7zM86.7 684.2h.7v.7h-.7zM84.3 686.2h.7v.7h-.7zM72.1 693.6h.7v.7h-.7zM76.8 689.7h.7v.7h-.7zM92.3 690.7h.7v.7h-.7zM81.1 690.2h.7v.7h-.7zM87.6 693.4h.7v.7h-.7zM75.0 690.7h.7v.7h-.7zM79.0 687.3h.7v.7h-.7zM93.6 690.1h.7v.7h-.7zM87.7 693.1h.7v.7h-.7zM97.5 689.3h.7v.7h-.7zM89.2 690.1h.7v.7h-.7zM86.3 692.3h.7v.7h-.7zM84.7 690.4h.7v.7h-.7zM85.4 695.3h.7v.7h-.7zM91.6 694.5h.7v.7h-.7zM98.4 687.1h.7v.7h-.7zM87.7 695.3h.7v.7h-.7zM95.5 685.6h.7v.7h-.7zM75.4 689.3h.7v.7h-.7zM74.0 686.9h.7v.7h-.7zM74.0 692.0h.7v.7h-.7zM94.0 694.8h.7v.7h-.7zM76.3 692.6h.7v.7h-.7zM90.5 685.7h.7v.7h-.7zM96.7 695.6h.7v.7h-.7zM78.1 695.4h.7v.7h-.7zM83.2 689.8h.7v.7h-.7zM99.7 694.0h.7v.7h-.7zM76.5 689.2h.7v.7h-.7zM86.4 688.1h.7v.7h-.7zM77.5 687.8h.7v.7h-.7zM92.2 684.2h.7v.7h-.7z"/>
<path fill="#666" opacity="0.6" d="M85.9 695.9h.7v.7h-.7zM103.3 699.6h.7v.7h-.7zM91.6 682.8h.7v.7h-.7zM83.3 715.9h.7v.7h-.7zM98.1 680.0h.7v.7h-.7zM94.3 702.0h.7v.7h-.7zM101.8 681.5h.7v.7h-.7zM87.5 677.0h.7v.7h-.7zM94.2 712.3h.7v.7h-.7zM97.6 674.7h.7v.7h-.7zM88.9 671.7h.7v.7h-.7zM83.9 691.7h.7v.7h-.7zM83.7 681.0h.7v.7h-.7zM85.8 688.3h.7v.7h-.7zM100.5 679.3h.7v.7h-.7zM94.7 687.2h.7v.7h-.7zM87.0 682.3h.7v.7h-.7zM98.7 708.4h.7v.7h-.7zM97.6 710.7h.7v.7h-.7zM97.5 682.3h.7v.7h-.7zM85.6 695.2h.7v.7h-.7zM94.6 705.7h.7v.7h-.7zM101.7 706.3h.7v.7h-.7zM103.4 700.4h.7v.7h-.7zM96.4 706.4h.7v.7h-.7zM91.9 706.3h.7v.7h-.7zM101.0 692.6h.7v.7h-.7zM88.2 686.3h.7v.7h-.7zM94.7 695.2h.7v.7h-.7zM91.9 686.7h.7v.7h-.7zM97.7 700.9h.7v.7h-.7zM102.5 714.2h.7v.7h-.7zM80.3 687.2h.7v.7h-.7zM97.8 693.7h.7v.7h-.7zM94.8 680.3h.7v.7h-.7zM89.2 709.3h.7v.7h-.7zM96.1 710.2h.7v.7h-.7zM102.0 712.2h.7v.7h-.7zM100.8 712.0h.7v.7h-.7zM101.5 712.6h.7v.7h-.7zM89.9 687.6h.7v.7h-.7zM90.7 704.8h.7v.7h-.7zM103.5 700.2h.7v.7h-.7zM90.3 671.9h.7v.7h-.7zM83.2 671.2h.7v.7h-.7zM83.6 668.0h.7v.7h-.7zM89.6 682.6h.7v.7h-.7zM102.8 675.4h.7v.7h-.7zM82.2 711.1h.7v.7h-.7zM102.1 692.6h.7v.7h-.7zM92.9 684.2h.7v.7h-.7zM89.5 681.5h.7v.7h-.7zM82.4 714.9h.7v.7h-.7zM100.8 709.4h.7v.7h-.7zM83.6 698.6h.7v.7h-.7zM81.5 702.3h.7v.7h-.7zM81.7 697.2h.7v.7h-.7zM83.8 715.0h.7v.7h-.7zM101.9 688.4h.7v.7h-.7zM102.1 705.5h.7v.7h-.7zM84.3 709.3h.7v.7h-.7zM101.1 680.2h.7v.7h-.7zM96.1 682.6h.7v.7h-.7zM80.6 690.0h.7v.7h-.7zM83.3 707.2h.7v.7h-.7zM96.8 679.5h.7v.7h-.7zM89.7 671.1h.7v.7h-.7zM88.6 696.9h.7v.7h-.7zM99.9 714.6h.7v.7h-.7zM94.9 689.3h.7v.7h-.7zM101.0 696.0h.7v.7h-.7zM99.5 685.1h.7v.7h-.7zM101.3 677.3h.7v.7h-.7zM89.5 679.0h.7v.7h-.7zM89.0 697.6h.7v.7h-.7zM102.4 669.9h.7v.7h-.7zM94.0 678.5h.7v.7h-.7zM99.7 703.6h.7v.7h-.7zM103.2 714.3h.7v.7h-.7zM95.6 680.5h.7v.7h-.7zM97.2 689.9h.7v.7h-.7zM86.4 673.2h.7v.7h-.7zM101.5 688.9h.7v.7h-.7zM83.4 678.6h.7v.7h-.7zM83.3 670.7h.7v.7h-.7zM97.9 690.5h.7v.7h-.7zM87.2 683.7h.7v.7h-.7zM86.6 692.5h.7v.7h-.7zM93.6 671.4h.7v.7h-.7zM90.0 710.2h.7v.7h-.7zM97.1 692.6h.7v.7h-.7zM89.6 683.5h.7v.7h-.7zM83.5 682.5h.7v.7h-.7zM82.8 669.7h.7v.7h-.7zM82.9 715.5h.7v.7h-.7zM103.0 670.1h.7v.7h-.7zM88.5 673.5h.7v.7h-.7zM88.4 697.2h.7v.7h-.7zM85.8 689.4h.7v.7h-.7zM84.2 692.7h.7v.7h-.7zM83.6 683.4h.7v.7h-.7zM89.9 681.2h.7v.7h-.7zM91.8 705.4h.7v.7h-.7zM90.4 708.7h.7v.7h-.7zM84.0 702.1h.7v.7h-.7zM99.9 713.7h.7v.7h-.7zM96.6 683.1h.7v.7h-.7zM96.6 698.2h.7v.7h-.7zM89.6 696.8h.7v.7h-.7zM81.1 668.4h.7v.7h-.7zM84.4 712.1h.7v.7h-.7zM80.5 680.3h.7v.7h-.7zM98.4 710.3h.7v.7h-.7zM90.0 692.3h.7v.7h-.7zM101.8 681.8h.7v.7h-.7zM82.5 681.2h.7v.7h-.7zM97.4 683.7h.7v.7h-.7zM93.8 671.5h.7v.7h-.7zM99.8 714.1h.7v.7h-.7zM101.6 675.5h.7v.7h-.7zM103.1 710.6h.7v.7h-.7zM85.4 688.1h.7v.7h-.7zM83.8 685.7h.7v.7h-.7zM98.4 672.5h.7v.7h-.7zM95.8 706.1h.7v.7h-.7zM81.3 675.7h.7v.7h-.7zM98.8 707.2h.7v.7h-.7zM86.9 710.5h.7v.7h-.7zM95.5 668.6h.7v.7h-.7zM97.6 676.6h.7v.7h-.7zM88.1 707.3h.7v.7h-.7zM80.4 707.9h.7v.7h-.7zM88.5 697.1h.7v.7h-.7zM87.0 695.7h.7v.7h-.7zM85.4 696.1h.7v.7h-.7zM90.6 697.5h.7v.7h-.7zM80.0 703.2h.7v.7h-.7zM85.4 707.4h.7v.7h-.7zM91.4 700.1h.7v.7h-.7zM90.4 674.0h.7v.7h-.7zM103.5 702.5h.7v.7h-.7zM103.3 700.2h.7v.7h-.7zM90.0 687.0h.7v.7h-.7zM99.0 708.1h.7v.7h-.7zM98.7 678.2h.7v.7h-.7zM86.2 686.6h.7v.7h-.7zM80.9 677.4h.7v.7h-.7zM88.8 675.4h.7v.7h-.7zM85.5 694.6h.7v.7h-.7zM96.6 683.7h.7v.7h-.7zM100.3 669.0h.7v.7h-.7zM81.2 677.0h.7v.7h-.7zM98.7 678.7h.7v.7h-.7zM97.8 682.7h.7v.7h-.7zM99.2 691.3h.7v.7h-.7zM84.7 711.8h.7v.7h-.7zM104.0 711.9h.7v.7h-.7zM90.7 695.9h.7v.7h-.7zM86.5 708.2h.7v.7h-.7zM89.2 694.9h.7v.7h-.7zM94.1 712.9h.7v.7h-.7zM90.7 687.7h.7v.7h-.7zM102.2 674.1h.7v.7h-.7zM81.2 683.1h.7v.7h-.7zM80.9 712.3h.7v.7h-.7zM91.9 708.0h.7v.7h-.7zM81.3 689.9h.7v.7h-.7zM99.2 668.3h.7v.7h-.7zM98.5 713.8h.7v.7h-.7zM100.3 675.0h.7v.7h-.7zM91.8 692.2h.7v.7h-.7zM91.6 708.2h.7v.7h-.7zM87.5 677.1h.7v.7h-.7zM102.5 694.8h.7v.7h-.7zM95.9 694.1h.7v.7h-.7zM94.6 673.6h.7v.7h-.7zM82.7 675.0h.7v.7h-.7zM90.8 671.0h.7v.7h-.7zM100.5 674.8h.7v.7h-.7zM100.2 700.9h.7v.7h-.7zM84.3 681.2h.7v.7h-.7zM95.2 715.4h.7v.7h-.7zM88.9 679.5h.7v.7h-.7zM84.6 706.2h.7v.7h-.7zM83.4 671.1h.7v.7h-.7zM96.0 703.7h.7v.7h-.7zM84.6 692.2h.7v.7h-.7zM80.0 686.9h.7v.7h-.7zM80.7 695.9h.7v.7h-.7zM89.9 694.1h.7v.7h-.7zM101.8 688.0h.7v.7h-.7zM85.5 671.1h.7v.7h-.7zM93.0 697.7h.7v.7h-.7zM98.6 688.5h.7v.7h-.7zM89.3 695.1h.7v.7h-.7zM97.5 682.3h.7v.7h-.7zM86.9 709.1h.7v.7h-.7zM84.1 676.6h.7v.7h-.7zM90.7 693.4h.7v.7h-.7zM87.0 706.9h.7v.7h-.7zM83.9 691.5h.7v.7h-.7zM103.7 677.6h.7v.7h-.7zM80.9 706.1h.7v.7h-.7zM98.0 674.4h.7v.7h-.7zM82.2 672.5h.7v.7h-.7zM92.4 674.5h.7v.7h-.7zM99.0 680.4h.7v.7h-.7zM95.0 704.9h.7v.7h-.7zM85.9 668.9h.7v.7h-.7zM82.4 686.6h.7v.7h-.7zM100.3 692.7h.7v.7h-.7zM88.2 692.6h.7v.7h-.7zM95.7 679.6h.7v.7h-.7zM100.2 709.6h.7v.7h-.7zM93.8 676.9h.7v.7h-.7zM99.5 678.8h.7v.7h-.7zM94.1 702.2h.7v.7h-.7zM86.7 672.9h.7v.7h-.7zM89.6 672.7h.7v.7h-.7zM102.1 705.7h.7v.7h-.7zM93.0 679.7h.7v.7h-.7zM88.3 710.0h.7v.7h-.7zM100.3 710.3h.7v.7h-.7zM83.0 683.8h.7v.7h-.7zM96.8 706.4h.7v.7h-.7zM83.9 699.9h.7v.7h-.7zM101.8 692.1h.7v.7h-.7zM101.7 672.4h.7v.7h-.7zM96.6 712.0h.7v.7h-.7zM97.9 714.6h.7v.7h-.7zM94.6 691.5h.7v.7h-.7zM97.7 689.1h.7v.7h-.7zM82.8 691.1h.7v.7h-.7zM89.3 697.7h.7v.7h-.7zM100.9 704.8h.7v.7h-.7zM96.3 683.8h.7v.7h-.7zM102.1 673.0h.7v.7h-.7zM87.4 671.6h.7v.7h-.7zM89.0 691.0h.7v.7h-.7zM103.9 703.4h.7v.7h-.7zM86.6 684.6h.7v.7h-.7zM90.1 711.2h.7v.7h-.7zM91.0 680.1h.7v.7h-.7zM89.3 698.9h.7v.7h-.7zM102.5 683.9h.7v.7h-.7zM100.5 681.4h.7v.7h-.7zM97.4 686.0h.7v.7h-.7zM94.0 706.7h.7v.7h-.7zM81.5 670.0h.7v.7h-.7zM84.0 698.4h.7v.7h-.7zM96.1 711.9h.7v.7h-.7zM93.1 703.2h.7v.7h-.7zM102.2 670.8h.7v.7h-.7zM91.5 693.6h.7v.7h-.7zM97.3 684.6h.7v.7h-.7zM100.5 687.3h.7v.7h-.7zM81.8 670.0h.7v.7h-.7zM89.5 671.8h.7v.7h-.7zM97.3 710.4h.7v.7h-.7zM80.1 697.8h.7v.7h-.7z"/>
<path fill="#666" opacity="0.6" d="M74.3 712.0h.7v.7h-.7zM93.8 706.7h.7v.7h-.7zM55.0 712.1h.7v.7h-.7zM65.4 712.3h.7v.7h-.7zM93.5 704.7h.7v.7h-.7zM66.6 706.2h.7v.7h-.7zM64.2 715.2h.7v.7h-.7zM57.3 708.7h.7v.7h-.7zM56.7 705.8h.7v.7h-.7zM51.9 704.5h.7v.7h-.7zM90.2 712.3h.7v.7h-.7zM65.2 713.1h.7v.7h-.7zM97.7 707.1h.7v.7h-.7zM82.6 705.5h.7v.7h-.7zM62.3 708.4h.7v.7h-.7zM71.8 711.6h.7v.7h-.7zM66.6 708.4h.7v.7h-.7zM89.9 708.4h.7v.7h-.7zM84.8 713.0h.7v.7h-.7zM96.5 706.7h.7v.7h-.7zM59.9 713.1h.7v.7h-.7zM61.9 710.0h.7v.7h-.7zM63.5 715.0h.7v.7h-.7zM73.9 706.4h.7v.7h-.7zM96.7 704.2h.7v.7h-.7zM61.7 711.8h.7v.7h-.7zM65.8 713.6h.7v.7h-.7zM100.9 710.5h.7v.7h-.7zM73.6 715.4h.7v.7h-.7zM82.3 712.3h.7v.7h-.7zM76.9 713.7h.7v.7h-.7zM94.5 704.8h.7v.7h-.7zM56.4 704.3h.7v.7h-.7zM59.0 707.6h.7v.7h-.7zM67.5 708.7h.7v.7h-.7zM77.0 711.7h.7v.7h-.7zM46.2 706.1h.7v.7h-.7zM92.7 716.0h.7v.7h-.7zM50.1 707.6h.7v.7h-.7zM77.8 709.7h.7v.7h-.7zM54.4 714.4h.7v.7h-.7zM79.4 708.7h.7v.7h-.7zM63.4 705.4h.7v.7h-.7zM58.3 715.7h.7v.7h-.7zM99.1 708.0h.7v.7h-.7zM76.9 704.1h.7v.7h-.7zM96.7 706.2h.7v.7h-.7zM84.3 714.3h.7v.7h-.7zM74.6 715.2h.7v.7h-.7zM57.7 704.8h.7v.7h-.7zM46.3 704.6h.7v.7h-.7zM57.0 708.8h.7v.7h-.7zM52.1 704.5h.7v.7h-.7zM52.0 714.5h.7v.7h-.7zM96.9 716.0h.7v.7h-.7zM95.8 714.2h.7v.7h-.7zM66.2 713.2h.7v.7h-.7zM82.4 706.9h.7v.7h-.7zM101.4 712.6h.7v.7h-.7zM74.0 705.2h.7v.7h-.7zM85.1 713.8h.7v.7h-.7zM77.7 709.3h.7v.7h-.7zM101.6 709.3h.7v.7h-.7zM96.0 710.2h.7v.7h-.7zM48.4 707.4h.7v.7h-.7zM98.6 706.4h.7v.7h-.7zM46.8 710.8h.7v.7h-.7zM64.6 708.4h.7v.7h-.7zM58.7 704.3h.7v.7h-.7zM62.4 704.9h.7v.7h-.7zM52.1 704.0h.7v.7h-.7zM55.2 704.7h.7v.7h-.7zM85.3 710.6h.7v.7h-.7zM46.9 711.0h.7v.7h-.7zM81.4 714.0h.7v.7h-.7zM52.1 705.6h.7v.7h-.7zM60.6 712.5h.7v.7h-.7zM80.0 714.2h.7v.7h-.7zM60.1 704.2h.7v.7h-.7zM84.5 708.8h.7v.7h-.7zM85.6 713.8h.7v.7h-.7zM68.8 713.5h.7v.7h-.7zM98.4 711.8h.7v.7h-.7zM70.5 713.1h.7v.7h-.7zM85.1 713.6h.7v.7h-.7zM83.2 706.4h.7v.7h-.7zM76.8 709.7h.7v.7h-.7zM95.6 709.0h.7v.7h-.7zM63.8 707.5h.7v.7h-.7zM54.2 713.5h.7v.7h-.7zM87.0 711.3h.7v.7h-.7zM83.0 704.0h.7v.7h-.7zM67.4 710.9h.7v.7h-.7zM73.1 709.5h.7v.7h-.7zM60.5 709.4h.7v.7h-.7zM72.6 705.7h.7v.7h-.7zM75.2 710.9h.7v.7h-.7zM97.4 707.6h.7v.7h-.7zM87.3 715.2h.7v.7h-.7zM52.7 714.4h.7v.7h-.7zM46.7 704.1h.7v.7h-.7zM72.3 707.8h.7v.7h-.7zM76.7 715.1h.7v.7h-.7zM88.2 715.4h.7v.7h-.7zM67.8 712.0h.7v.7h-.7zM66.9 710.3h.7v.7h-.7zM50.3 707.7h.7v.7h-.7zM101.2 713.4h.7v.7h-.7zM87.0 704.1h.7v.7h-.7zM79.6 709.5h.7v.7h-.7zM87.3 714.1h.7v.7h-.7zM49.8 711.1h.7v.7h-.7zM74.8 713.6h.7v.7h-.7zM54.0 714.2h.7v.7h-.7zM69.1 713.0h.7v.7h-.7zM48.9 704.4h.7v.7h-.7zM63.9 711.8h.7v.7h-.7zM70.9 709.4h.7v.7h-.7zM63.0 706.8h.7v.7h-.7zM63.6 705.0h.7v.7h-.7zM94.7 709.7h.7v.7h-.7zM101.2 706.6h.7v.7h-.7zM59.0 713.2h.7v.7h-.7zM89.3 714.8h.7v.7h-.7zM51.5 707.7h.7v.7h-.7zM59.8 712.0h.7v.7h-.7zM69.5 706.1h.7v.7h-.7zM49.0 709.7h.7v.7h-.7zM98.0 715.9h.7v.7h-.7zM84.6 713.9h.7v.7h-.7zM50.1 715.5h.7v.7h-.7zM95.0 708.0h.7v.7h-.7zM47.8 709.2h.7v.7h-.7zM89.8 704.1h.7v.7h-.7zM85.7 711.3h.7v.7h-.7zM64.8 705.1h.7v.7h-.7zM62.1 706.1h.7v.7h-.7zM63.7 711.9h.7v.7h-.7zM87.2 713.7h.7v.7h-.7zM46.2 711.5h.7v.7h-.7z"/>
<path fill="#666" opacity="0.6" d="M50.7 681.8h.7v.7h-.7zM51.2 691.9h.7v.7h-.7zM48.8 668.9h.7v.7h-.7zM48.5 696.8h.7v.7h-.7zM46.9 683.9h.7v.7h-.7zM46.9 702.7h.7v.7h-.7zM51.7 706.1h.7v.7h-.7zM53.2 700.6h.7v.7h-.7zM52.8 670.0h.7v.7h-.7zM48.0 679.5h.7v.7h-.7zM47.2 686.2h.7v.7h-.7zM49.6 706.8h.7v.7h-.7zM47.8 684.3h.7v.7h-.7zM53.0 669.9h.7v.7h-.7zM45.1 669.3h.7v.7h-.7zM52.0 703.0h.7v.7h-.7zM50.4 677.9h.7v.7h-.7zM51.6 674.5h.7v.7h-.7zM52.1 714.0h.7v.7h-.7zM52.2 674.9h.7v.7h-.7zM47.6 681.3h.7v.7h-.7zM53.2 702.1h.7v.7h-.7zM48.7 681.2h.7v.7h-.7zM45.7 701.3h.7v.7h-.7zM47.3 697.5h.7v.7h-.7zM49.9 693.5h.7v.7h-.7zM53.7 670.5h.7v.7h-.7zM46.5 696.0h.7v.7h-.7zM45.1 709.6h.7v.7h-.7zM45.9 713.6h.7v.7h-.7zM51.7 705.9h.7v.7h-.7zM46.5 672.3h.7v.7h-.7zM54.0 685.7h.7v.7h-.7zM53.4 670.7h.7v.7h-.7zM49.8 696.0h.7v.7h-.7zM51.7 681.8h.7v.7h-.7zM48.2 709.8h.7v.7h-.7zM53.9 676.9h.7v.7h-.7zM48.6 678.7h.7v.7h-.7zM46.9 686.2h.7v.7h-.7zM51.6 697.4h.7v.7h-.7zM47.7 674.5h.7v.7h-.7zM51.9 694.5h.7v.7h-.7zM52.7 703.4h.7v.7h-.7zM51.5 691.3h.7v.7h-.7zM45.8 697.5h.7v.7h-.7zM50.9 685.6h.7v.7h-.7zM47.8 694.8h.7v.7h-.7zM52.9 684.0h.7v.7h-.7zM47.1 712.9h.7v.7h-.7zM50.4 692.3h.7v.7h-.7zM52.8 671.3h.7v.7h-.7zM46.7 694.7h.7v.7h-.7zM47.5 701.5h.7v.7h-.7zM49.9 708.6h.7v.7h-.7zM50.2 698.4h.7v.7h-.7zM50.1 684.8h.7v.7h-.7zM47.4 711.7h.7v.7h-.7zM53.5 680.8h.7v.7h-.7zM45.1 671.3h.7v.7h-.7z"/>
<path fill="#555" opacity="0.55" d="M79.4 671.2h.7v.7h-.7zM94.4 698.1h.7v.7h-.7zM92.7 698.5h.7v.7h-.7zM52.6 687.7h.7v.7h-.7zM82.5 689.8h.7v.7h-.7zM83.4 707.4h.7v.7h-.7zM85.9 696.8h.7v.7h-.7zM80.5 692.4h.7v.7h-.7zM68.7 707.5h.7v.7h-.7zM89.7 693.0h.7v.7h-.7zM53.2 670.7h.7v.7h-.7zM78.7 681.5h.7v.7h-.7zM49.7 698.4h.7v.7h-.7zM72.7 678.8h.7v.7h-.7zM84.1 693.6h.7v.7h-.7zM61.1 708.8h.7v.7h-.7zM82.2 710.8h.7v.7h-.7zM91.4 694.7h.7v.7h-.7zM78.4 673.8h.7v.7h-.7zM87.5 693.7h.7v.7h-.7zM80.5 707.8h.7v.7h-.7zM93.7 704.8h.7v.7h-.7zM67.3 675.4h.7v.7h-.7zM70.2 674.6h.7v.7h-.7zM75.6 674.4h.7v.7h-.7zM79.9 691.5h.7v.7h-.7zM63.3 672.5h.7v.7h-.7zM84.1 673.0h.7v.7h-.7zM83.6 708.3h.7v.7h-.7zM92.9 711.5h.7v.7h-.7zM75.0 690.5h.7v.7h-.7zM58.9 677.7h.7v.7h-.7zM80.6 675.9h.7v.7h-.7zM55.3 696.2h.7v.7h-.7zM82.3 673.0h.7v.7h-.7zM78.9 675.3h.7v.7h-.7zM63.7 710.5h.7v.7h-.7zM81.5 683.7h.7v.7h-.7zM87.4 713.1h.7v.7h-.7zM50.1 675.5h.7v.7h-.7zM95.1 704.1h.7v.7h-.7zM79.0 689.3h.7v.7h-.7zM96.9 711.9h.7v.7h-.7zM78.4 710.0h.7v.7h-.7zM54.8 688.5h.7v.7h-.7zM90.1 702.3h.7v.7h-.7zM49.6 682.1h.7v.7h-.7zM77.9 711.6h.7v.7h-.7zM90.9 704.2h.7v.7h-.7zM75.5 707.8h.7v.7h-.7zM75.4 707.8h.7v.7h-.7zM90.0 708.0h.7v.7h-.7zM50.8 671.5h.7v.7h-.7zM51.5 671.0h.7v.7h-.7zM53.4 679.6h.7v.7h-.7zM76.8 674.7h.7v.7h-.7zM93.8 707.8h.7v.7h-.7zM84.3 712.9h.7v.7h-.7zM94.1 703.0h.7v.7h-.7zM91.2 710.1h.7v.7h-.7zM86.8 714.7h.7v.7h-.7zM74.4 707.4h.7v.7h-.7zM63.3 672.0h.7v.7h-.7zM72.5 670.3h.7v.7h-.7zM88.4 693.1h.7v.7h-.7zM85.3 693.4h.7v.7h-.7zM98.6 704.7h.7v.7h-.7zM77.5 678.8h.7v.7h-.7zM87.0 695.6h.7v.7h-.7zM79.1 681.5h.7v.7h-.7zM60.4 706.8h.7v.7h-.7zM78.4 683.0h.7v.7h-.7zM91.8 700.2h.7v.7h-.7zM85.1 710.5h.7v.7h-.7zM79.9 677.5h.7v.7h-.7zM72.4 707.7h.7v.7h-.7zM67.1 675.5h.7v.7h-.7zM96.6 696.3h.7v.7h-.7zM74.5 712.9h.7v.7h-.7zM80.6 707.0h.7v.7h-.7zM93.2 710.4h.7v.7h-.7zM78.0 687.2h.7v.7h-.7zM50.9 668.7h.7v.7h-.7zM62.1 710.4h.7v.7h-.7zM76.8 703.2h.7v.7h-.7zM79.9 692.7h.7v.7h-.7zM50.4 692.8h.7v.7h-.7zM82.0 692.3h.7v.7h-.7zM54.6 699.9h.7v.7h-.7zM50.6 678.2h.7v.7h-.7zM78.2 674.9h.7v.7h-.7zM59.6 687.9h.7v.7h-.7zM91.4 699.6h.7v.7h-.7zM95.8 710.1h.7v.7h-.7zM52.7 695.9h.7v.7h-.7zM55.0 672.7h.7v.7h-.7zM94.6 691.3h.7v.7h-.7zM79.4 684.0h.7v.7h-.7zM89.8 696.5h.7v.7h-.7zM83.3 694.8h.7v.7h-.7zM81.7 693.5h.7v.7h-.7zM85.7 692.8h.7v.7h-.7zM92.4 711.8h.7v.7h-.7zM95.8 698.6h.7v.7h-.7zM55.1 671.7h.7v.7h-.7zM83.5 710.2h.7v.7h-.7zM78.3 700.0h.7v.7h-.7zM71.9 680.7h.7v.7h-.7zM84.6 692.7h.7v.7h-.7zM78.3 687.6h.7v.7h-.7zM78.1 689.8h.7v.7h-.7zM74.4 675.7h.7v.7h-.7zM84.8 683.0h.7v.7h-.7zM87.0 709.9h.7v.7h-.7zM90.4 702.9h.7v.7h-.7zM56.6 677.6h.7v.7h-.7zM89.7 710.9h.7v.7h-.7zM96.3 702.3h.7v.7h-.7zM68.6 674.7h.7v.7h-.7zM77.5 707.8h.7v.7h-.7zM49.8 670.2h.7v.7h-.7zM54.9 671.6h.7v.7h-.7zM55.0 707.0h.7v.7h-.7zM92.2 709.2h.7v.7h-.7zM94.7 691.6h.7v.7h-.7zM55.0 675.2h.7v.7h-.7zM63.5 669.8h.7v.7h-.7zM94.2 696.8h.7v.7h-.7zM79.4 692.4h.7v.7h-.7zM93.6 708.6h.7v.7h-.7zM81.6 712.6h.7v.7h-.7zM63.2 705.6h.7v.7h-.7zM82.1 679.0h.7v.7h-.7zM83.4 687.6h.7v.7h-.7zM93.2 704.3h.7v.7h-.7zM53.4 701.6h.7v.7h-.7zM96.3 694.9h.7v.7h-.7zM73.5 712.6h.7v.7h-.7zM96.1 698.1h.7v.7h-.7zM92.8 690.0h.7v.7h-.7zM96.8 697.7h.7v.7h-.7zM54.5 708.5h.7v.7h-.7zM53.3 697.6h.7v.7h-.7zM85.8 695.0h.7v.7h-.7zM57.1 709.5h.7v.7h-.7zM70.6 709.8h.7v.7h-.7zM78.4 709.7h.7v.7h-.7zM84.9 711.9h.7v.7h-.7zM52.1 686.1h.7v.7h-.7zM78.5 689.1h.7v.7h-.7zM89.6 690.6h.7v.7h-.7zM55.1 675.5h.7v.7h-.7zM92.7 705.9h.7v.7h-.7zM74.2 710.4h.7v.7h-.7zM75.8 693.2h.7v.7h-.7zM94.4 711.6h.7v.7h-.7zM81.1 706.2h.7v.7h-.7zM50.1 702.1h.7v.7h-.7zM87.4 693.7h.7v.7h-.7zM55.1 686.2h.7v.7h-.7zM79.9 670.1h.7v.7h-.7zM76.2 684.4h.7v.7h-.7zM85.5 710.1h.7v.7h-.7zM79.5 675.8h.7v.7h-.7zM70.6 672.9h.7v.7h-.7zM87.4 710.9h.7v.7h-.7zM94.9 693.3h.7v.7h-.7zM45.6 687.4h.7v.7h-.7zM50.8 690.9h.7v.7h-.7zM85.6 690.3h.7v.7h-.7zM74.5 676.1h.7v.7h-.7zM90.3 713.4h.7v.7h-.7zM91.4 690.0h.7v.7h-.7zM60.0 681.5h.7v.7h-.7zM83.4 709.3h.7v.7h-.7zM88.3 704.8h.7v.7h-.7zM100.3 701.5h.7v.7h-.7zM83.1 686.8h.7v.7h-.7zM54.5 708.5h.7v.7h-.7zM89.5 708.8h.7v.7h-.7zM81.1 688.7h.7v.7h-.7zM92.4 692.4h.7v.7h-.7zM78.1 694.6h.7v.7h-.7zM94.0 703.1h.7v.7h-.7zM75.9 707.6h.7v.7h-.7zM78.1 691.0h.7v.7h-.7zM94.8 708.0h.7v.7h-.7zM81.3 685.4h.7v.7h-.7zM86.0 698.7h.7v.7h-.7zM91.3 714.7h.7v.7h-.7zM94.4 703.7h.7v.7h-.7zM76.4 684.0h.7v.7h-.7zM93.5 711.7h.7v.7h-.7zM61.2 666.7h.7v.7h-.7zM52.7 702.5h.7v.7h-.7zM79.4 690.6h.7v.7h-.7zM81.5 708.2h.7v.7h-.7zM91.8 716.5h.7v.7h-.7zM61.3 671.7h.7v.7h-.7zM73.3 670.4h.7v.7h-.7zM96.4 701.5h.7v.7h-.7zM79.9 690.8h.7v.7h-.7zM68.6 708.0h.7v.7h-.7zM53.0 683.1h.7v.7h-.7zM95.2 706.5h.7v.7h-.7zM82.7 689.2h.7v.7h-.7zM96.5 700.9h.7v.7h-.7zM95.7 701.4h.7v.7h-.7zM52.3 677.2h.7v.7h-.7zM85.6 704.2h.7v.7h-.7zM96.8 697.5h.7v.7h-.7zM77.1 706.5h.7v.7h-.7zM98.6 711.7h.7v.7h-.7zM69.2 706.5h.7v.7h-.7zM91.0 713.0h.7v.7h-.7zM92.2 707.9h.7v.7h-.7zM52.7 678.2h.7v.7h-.7zM53.8 686.2h.7v.7h-.7zM86.2 709.7h.7v.7h-.7zM88.2 713.7h.7v.7h-.7zM75.9 694.9h.7v.7h-.7zM74.4 681.4h.7v.7h-.7zM51.5 695.9h.7v.7h-.7zM96.1 703.3h.7v.7h-.7zM79.4 709.5h.7v.7h-.7zM72.7 669.5h.7v.7h-.7zM82.4 696.4h.7v.7h-.7zM75.0 693.0h.7v.7h-.7zM94.5 708.5h.7v.7h-.7zM48.0 689.3h.7v.7h-.7zM78.6 687.5h.7v.7h-.7zM89.1 692.5h.7v.7h-.7zM73.8 685.4h.7v.7h-.7zM70.6 705.3h.7v.7h-.7zM98.5 692.7h.7v.7h-.7zM90.5 705.5h.7v.7h-.7zM90.1 709.0h.7v.7h-.7zM90.6 693.6h.7v.7h-.7zM83.3 678.9h.7v.7h-.7zM80.2 694.0h.7v.7h-.7zM50.0 706.6h.7v.7h-.7zM96.7 706.4h.7v.7h-.7zM61.9 708.3h.7v.7h-.7zM84.4 692.1h.7v.7h-.7zM47.5 696.4h.7v.7h-.7zM97.1 694.1h.7v.7h-.7zM59.7 713.9h.7v.7h-.7zM78.0 708.3h.7v.7h-.7zM79.5 677.0h.7v.7h-.7zM96.5 705.7h.7v.7h-.7zM94.5 694.0h.7v.7h-.7zM98.0 708.6h.7v.7h-.7zM94.3 708.5h.7v.7h-.7zM75.9 690.2h.7v.7h-.7zM92.1 696.7h.7v.7h-.7zM82.0 689.0h.7v.7h-.7zM55.0 709.6h.7v.7h-.7zM55.4 679.5h.7v.7h-.7zM54.7 673.3h.7v.7h-.7zM84.7 677.5h.7v.7h-.7zM82.3 696.8h.7v.7h-.7zM74.9 671.8h.7v.7h-.7zM84.3 692.9h.7v.7h-.7zM80.0 692.3h.7v.7h-.7zM51.5 704.6h.7v.7h-.7zM78.4 682.4h.7v.7h-.7zM81.5 687.5h.7v.7h-.7zM95.5 694.9h.7v.7h-.7zM78.6 679.9h.7v.7h-.7zM80.1 691.2h.7v.7h-.7zM77.0 693.1h.7v.7h-.7zM68.7 710.2h.7v.7h-.7zM96.9 705.1h.7v.7h-.7zM52.1 678.0h.7v.7h-.7zM100.1 696.6h.7v.7h-.7zM71.2 706.5h.7v.7h-.7zM92.5 696.9h.7v.7h-.7zM90.9 702.9h.7v.7h-.7zM74.9 696.0h.7v.7h-.7zM53.2 675.9h.7v.7h-.7zM95.0 704.1h.7v.7h-.7zM79.7 679.0h.7v.7h-.7zM90.3 695.2h.7v.7h-.7zM82.0 688.0h.7v.7h-.7zM82.0 677.2h.7v.7h-.7zM63.4 673.1h.7v.7h-.7zM85.0 695.7h.7v.7h-.7zM52.5 676.4h.7v.7h-.7zM78.2 693.1h.7v.7h-.7zM82.0 692.5h.7v.7h-.7zM61.3 675.3h.7v.7h-.7zM52.8 680.5h.7v.7h-.7zM81.3 696.5h.7v.7h-.7zM94.3 703.3h.7v.7h-.7zM92.2 713.5h.7v.7h-.7zM93.2 701.7h.7v.7h-.7zM86.5 693.9h.7v.7h-.7zM78.6 695.4h.7v.7h-.7zM81.4 686.2h.7v.7h-.7zM79.1 686.9h.7v.7h-.7zM95.7 700.7h.7v.7h-.7zM48.6 697.2h.7v.7h-.7zM93.9 699.7h.7v.7h-.7zM54.8 683.3h.7v.7h-.7zM77.5 693.9h.7v.7h-.7zM80.9 681.4h.7v.7h-.7zM76.4 677.2h.7v.7h-.7zM54.6 698.4h.7v.7h-.7zM76.0 711.6h.7v.7h-.7zM75.3 683.4h.7v.7h-.7zM94.8 710.3h.7v.7h-.7zM70.7 677.6h.7v.7h-.7zM77.5 688.5h.7v.7h-.7zM50.6 680.9h.7v.7h-.7zM53.6 681.8h.7v.7h-.7zM64.1 678.4h.7v.7h-.7zM69.8 676.8h.7v.7h-.7zM84.3 694.3h.7v.7h-.7zM63.2 705.7h.7v.7h-.7zM82.7 688.8h.7v.7h-.7zM53.6 679.2h.7v.7h-.7zM95.6 707.1h.7v.7h-.7zM95.8 699.1h.7v.7h-.7zM67.4 675.9h.7v.7h-.7zM98.6 710.4h.7v.7h-.7zM77.4 695.2h.7v.7h-.7zM83.3 677.7h.7v.7h-.7zM52.3 709.5h.7v.7h-.7zM85.4 676.5h.7v.7h-.7zM83.2 672.2h.7v.7h-.7zM73.1 710.5h.7v.7h-.7zM50.4 703.4h.7v.7h-.7zM79.0 707.2h.7v.7h-.7zM91.2 692.4h.7v.7h-.7zM53.5 680.3h.7v.7h-.7zM54.3 682.7h.7v.7h-.7zM77.9 713.1h.7v.7h-.7zM74.2 703.2h.7v.7h-.7zM85.8 691.7h.7v.7h-.7zM76.1 691.3h.7v.7h-.7zM92.3 695.5h.7v.7h-.7zM79.0 682.5h.7v.7h-.7zM54.0 698.5h.7v.7h-.7zM65.9 673.5h.7v.7h-.7zM82.9 693.0h.7v.7h-.7zM88.8 708.7h.7v.7h-.7zM91.1 695.5h.7v.7h-.7zM76.0 677.1h.7v.7h-.7zM51.3 703.5h.7v.7h-.7zM81.4 704.8h.7v.7h-.7zM91.3 691.8h.7v.7h-.7zM81.1 696.4h.7v.7h-.7zM54.2 689.8h.7v.7h-.7zM86.5 693.1h.7v.7h-.7zM88.2 696.8h.7v.7h-.7zM51.3 708.3h.7v.7h-.7zM58.4 706.2h.7v.7h-.7zM98.3 702.3h.7v.7h-.7zM74.8 708.0h.7v.7h-.7zM89.7 692.7h.7v.7h-.7zM76.3 674.1h.7v.7h-.7zM76.6 679.7h.7v.7h-.7zM93.7 695.5h.7v.7h-.7zM70.4 707.0h.7v.7h-.7zM81.8 690.1h.7v.7h-.7zM97.6 706.8h.7v.7h-.7zM89.7 691.3h.7v.7h-.7zM71.0 674.1h.7v.7h-.7zM49.1 694.4h.7v.7h-.7zM53.1 689.1h.7v.7h-.7zM49.7 691.7h.7v.7h-.7zM80.9 684.2h.7v.7h-.7zM54.4 687.6h.7v.7h-.7zM80.7 709.0h.7v.7h-.7zM84.1 697.7h.7v.7h-.7zM76.8 675.0h.7v.7h-.7zM79.1 675.5h.7v.7h-.7zM88.2 709.1h.7v.7h-.7zM76.8 713.5h.7v.7h-.7zM78.8 676.0h.7v.7h-.7zM92.5 704.0h.7v.7h-.7zM73.3 675.7h.7v.7h-.7zM99.0 707.6h.7v.7h-.7zM83.5 712.9h.7v.7h-.7zM80.8 709.6h.7v.7h-.7zM79.2 680.6h.7v.7h-.7zM74.4 679.8h.7v.7h-.7zM81.3 690.8h.7v.7h-.7zM76.0 711.8h.7v.7h-.7zM97.4 702.3h.7v.7h-.7zM80.1 681.0h.7v.7h-.7zM100.6 694.2h.7v.7h-.7zM72.3 672.1h.7v.7h-.7zM73.1 708.5h.7v.7h-.7zM77.3 707.3h.7v.7h-.7zM85.6 693.2h.7v.7h-.7zM79.7 707.0h.7v.7h-.7zM50.0 689.2h.7v.7h-.7zM48.4 683.2h.7v.7h-.7zM77.0 713.6h.7v.7h-.7zM72.0 674.7h.7v.7h-.7zM82.1 693.2h.7v.7h-.7zM62.7 677.6h.7v.7h-.7zM96.9 692.3h.7v.7h-.7zM68.2 679.1h.7v.7h-.7zM76.2 673.2h.7v.7h-.7zM95.0 701.9h.7v.7h-.7zM96.5 713.2h.7v.7h-.7zM55.6 672.7h.7v.7h-.7zM77.0 712.0h.7v.7h-.7zM87.7 705.9h.7v.7h-.7zM77.5 690.7h.7v.7h-.7zM81.1 711.7h.7v.7h-.7zM86.3 698.1h.7v.7h-.7zM81.6 707.5h.7v.7h-.7zM75.1 688.6h.7v.7h-.7zM89.8 704.4h.7v.7h-.7zM72.5 688.9h.7v.7h-.7zM100.3 696.3h.7v.7h-.7zM76.8 671.3h.7v.7h-.7zM78.2 675.7h.7v.7h-.7zM76.9 677.9h.7v.7h-.7zM54.0 688.1h.7v.7h-.7zM95.3 707.4h.7v.7h-.7zM73.6 713.6h.7v.7h-.7zM92.6 712.0h.7v.7h-.7zM83.7 693.6h.7v.7h-.7zM98.1 705.5h.7v.7h-.7zM78.3 673.3h.7v.7h-.7zM82.5 699.4h.7v.7h-.7zM50.2 701.1h.7v.7h-.7zM95.9 692.7h.7v.7h-.7zM85.1 712.1h.7v.7h-.7zM78.0 707.8h.7v.7h-.7zM90.6 693.3h.7v.7h-.7zM72.8 673.2h.7v.7h-.7zM91.0 715.0h.7v.7h-.7zM89.9 711.2h.7v.7h-.7zM83.8 709.6h.7v.7h-.7zM92.9 699.4h.7v.7h-.7zM79.8 680.2h.7v.7h-.7zM78.1 686.5h.7v.7h-.7zM81.0 682.6h.7v.7h-.7zM92.0 710.1h.7v.7h-.7zM92.5 706.2h.7v.7h-.7zM99.4 696.3h.7v.7h-.7zM75.9 689.0h.7v.7h-.7zM84.9 693.7h.7v.7h-.7zM80.9 695.2h.7v.7h-.7zM96.6 705.6h.7v.7h-.7zM57.1 676.2h.7v.7h-.7zM55.9 675.6h.7v.7h-.7zM78.4 687.6h.7v.7h-.7zM92.2 703.9h.7v.7h-.7zM77.0 692.0h.7v.7h-.7zM77.9 681.1h.7v.7h-.7zM80.7 678.0h.7v.7h-.7zM82.1 682.6h.7v.7h-.7zM86.3 693.3h.7v.7h-.7zM74.2 692.2h.7v.7h-.7zM81.0 683.5h.7v.7h-.7zM81.9 713.0h.7v.7h-.7zM59.8 673.4h.7v.7h-.7zM87.1 690.9h.7v.7h-.7zM52.0 681.3h.7v.7h-.7zM92.5 712.3h.7v.7h-.7zM93.3 702.6h.7v.7h-.7zM53.0 692.4h.7v.7h-.7zM80.7 679.8h.7v.7h-.7zM60.1 673.7h.7v.7h-.7zM82.3 685.0h.7v.7h-.7zM73.8 675.5h.7v.7h-.7zM82.6 683.3h.7v.7h-.7zM52.5 698.2h.7v.7h-.7zM81.8 707.3h.7v.7h-.7zM81.5 692.4h.7v.7h-.7zM85.2 698.6h.7v.7h-.7zM91.2 689.3h.7v.7h-.7zM76.6 707.6h.7v.7h-.7zM79.3 675.0h.7v.7h-.7z"/>
<clipPath id="cp7"><path d="M54.6,671.4 Q59,671 64.3,673.1 L71.3,675.8 L79.2,676.6 Q81.8,678 81.5,682 Q81.5,686 79.5,686.8 Q77.5,690 77.8,693.3 L92.7,694.2 Q95.6,697 95.5,703.8 L95,710.4 Q80,709.8 66.9,707.7 Q60,709 53.3,707.7 Q51.3,706 51.6,700 L52.5,680 Q52.6,673 54.6,671.4 Z"/></clipPath>
<path d="M54.6,671.4 Q59,671 64.3,673.1 L71.3,675.8 L79.2,676.6 Q81.8,678 81.5,682 Q81.5,686 79.5,686.8 Q77.5,690 77.8,693.3 L92.7,694.2 Q95.6,697 95.5,703.8 L95,710.4 Q80,709.8 66.9,707.7 Q60,709 53.3,707.7 Q51.3,706 51.6,700 L52.5,680 Q52.6,673 54.6,671.4 Z" fill="#1a1aff" filter="url(#b1)" opacity="1"/>
<g clip-path="url(#cp7)">
<path d="M54.6,671.4 Q59,671 64.3,673.1 L71.3,675.8 L79.2,676.6 Q81.8,678 81.5,682 Q81.5,686 79.5,686.8 Q77.5,690 77.8,693.3 L92.7,694.2 Q95.6,697 95.5,703.8 L95,710.4 Q80,709.8 66.9,707.7 Q60,709 53.3,707.7 Q51.3,706 51.6,700 L52.5,680 Q52.6,673 54.6,671.4 Z" fill="#2c62ff" filter="url(#b3)" opacity="0.9"/>
<ellipse cx="84.4" cy="701.5" rx="11" ry="6" fill="url(#gL)"/>
<ellipse cx="84.4" cy="701.5" rx="6" ry="3.5" fill="url(#gC)"/>
<ellipse cx="60.5" cy="688" rx="8" ry="19" fill="url(#gC)"/>
<ellipse cx="61.2" cy="686" rx="4.5" ry="12" fill="url(#gG)"/>
<ellipse cx="61.6" cy="701.2" rx="7.5" ry="8.5" fill="url(#gR2)"/>
</g>
<rect x="51.5" y="668.7" width="19.80" height="20.10" fill="none" stroke="#333" stroke-width="0.75"/>
<rect x="73.3" y="674.2" width="21.90" height="11.80" fill="none" stroke="#333" stroke-width="0.75"/>
<text transform="translate(61.20,658.30) scale(1,1.15)" font-size="7" text-anchor="middle" font-weight="bold" fill="#1a1a1a" style="stroke-width:0.08px">MP</text>
<text transform="translate(61.20,666.60) scale(1,1.15)" font-size="7" text-anchor="middle" font-weight="bold" fill="#1a1a1a" style="stroke-width:0.08px">18.7</text>
<text transform="translate(84.10,663.80) scale(1,1.15)" font-size="7" text-anchor="middle" font-weight="bold" fill="#1a1a1a" style="stroke-width:0.08px">LSK</text>
<text transform="translate(84.10,671.90) scale(1,1.15)" font-size="7" text-anchor="middle" font-weight="bold" fill="#1a1a1a" style="stroke-width:0.08px">1.44</text>
<text x="40.8" y="650.70" font-size="6.3" text-anchor="end" fill="#333">10<tspan font-size="4.2" dy="-2.4">5</tspan></text>
<text x="40.8" y="667.00" font-size="6.3" text-anchor="end" fill="#333">10<tspan font-size="4.2" dy="-2.4">4</tspan></text>
<text x="40.8" y="686.30" font-size="6.3" text-anchor="end" fill="#333">10<tspan font-size="4.2" dy="-2.4">3</tspan></text>
<text x="40.8" y="703.40" font-size="6.3" text-anchor="end" fill="#333">0</text>
<text x="40.8" y="720.90" font-size="6.3" text-anchor="end" fill="#333">-10<tspan font-size="4.2" dy="-2.4">3</tspan></text>
<rect x="41.6" y="725.9" width="75.10" height="74.20" fill="none" stroke="#3a3a3a" stroke-width="0.9"/>
<path fill="#666" opacity="0.6" d="M78.3 771.5h.7v.7h-.7zM75.5 767.9h.7v.7h-.7zM74.4 761.5h.7v.7h-.7zM100.0 760.9h.7v.7h-.7zM90.0 764.4h.7v.7h-.7zM84.7 764.9h.7v.7h-.7zM77.4 769.6h.7v.7h-.7zM74.5 761.3h.7v.7h-.7zM72.6 761.7h.7v.7h-.7zM83.4 770.6h.7v.7h-.7zM82.6 759.6h.7v.7h-.7zM79.2 771.9h.7v.7h-.7zM73.8 766.7h.7v.7h-.7zM82.6 767.3h.7v.7h-.7zM81.5 767.7h.7v.7h-.7zM85.9 767.1h.7v.7h-.7zM97.2 766.1h.7v.7h-.7zM76.0 758.9h.7v.7h-.7zM98.5 764.8h.7v.7h-.7zM77.4 771.2h.7v.7h-.7zM88.2 768.2h.7v.7h-.7zM96.7 762.0h.7v.7h-.7zM82.0 770.3h.7v.7h-.7zM75.8 768.7h.7v.7h-.7zM74.7 767.7h.7v.7h-.7zM91.7 771.3h.7v.7h-.7zM95.6 765.1h.7v.7h-.7zM77.5 760.1h.7v.7h-.7zM86.8 765.1h.7v.7h-.7zM74.0 770.6h.7v.7h-.7zM86.2 767.8h.7v.7h-.7zM78.2 761.4h.7v.7h-.7zM72.3 762.8h.7v.7h-.7zM79.5 763.9h.7v.7h-.7zM82.6 769.7h.7v.7h-.7zM97.0 760.5h.7v.7h-.7zM83.1 760.3h.7v.7h-.7zM90.6 771.6h.7v.7h-.7zM77.7 768.7h.7v.7h-.7zM80.4 758.2h.7v.7h-.7zM93.4 762.8h.7v.7h-.7zM76.8 764.1h.7v.7h-.7zM78.5 763.7h.7v.7h-.7zM84.5 763.9h.7v.7h-.7zM88.5 762.0h.7v.7h-.7zM74.7 759.2h.7v.7h-.7zM75.0 765.3h.7v.7h-.7zM82.1 769.3h.7v.7h-.7zM86.1 767.9h.7v.7h-.7zM99.4 758.9h.7v.7h-.7zM72.5 760.0h.7v.7h-.7zM82.8 766.0h.7v.7h-.7zM92.8 762.9h.7v.7h-.7zM99.0 758.0h.7v.7h-.7zM95.4 760.9h.7v.7h-.7zM96.5 758.5h.7v.7h-.7zM99.0 768.6h.7v.7h-.7zM99.7 766.1h.7v.7h-.7zM77.0 771.6h.7v.7h-.7zM84.4 759.2h.7v.7h-.7zM89.0 765.0h.7v.7h-.7zM85.2 760.2h.7v.7h-.7zM75.4 766.1h.7v.7h-.7zM84.7 759.8h.7v.7h-.7zM84.3 768.2h.7v.7h-.7zM92.0 764.6h.7v.7h-.7zM83.0 763.1h.7v.7h-.7zM78.3 760.8h.7v.7h-.7zM84.5 759.5h.7v.7h-.7zM92.3 767.9h.7v.7h-.7zM89.1 758.3h.7v.7h-.7zM82.2 764.1h.7v.7h-.7zM74.6 771.5h.7v.7h-.7zM93.2 765.0h.7v.7h-.7zM91.7 760.8h.7v.7h-.7zM78.4 765.4h.7v.7h-.7zM92.8 767.1h.7v.7h-.7zM72.2 766.6h.7v.7h-.7zM97.4 768.4h.7v.7h-.7zM98.0 771.7h.7v.7h-.7zM78.3 762.1h.7v.7h-.7zM87.3 771.7h.7v.7h-.7zM82.3 771.2h.7v.7h-.7zM95.8 765.2h.7v.7h-.7zM89.5 771.4h.7v.7h-.7zM93.9 762.1h.7v.7h-.7zM95.7 760.7h.7v.7h-.7zM82.4 771.4h.7v.7h-.7zM95.7 762.4h.7v.7h-.7zM80.1 766.6h.7v.7h-.7zM95.6 767.6h.7v.7h-.7zM98.2 768.2h.7v.7h-.7zM95.0 766.5h.7v.7h-.7zM82.1 764.0h.7v.7h-.7zM85.7 765.4h.7v.7h-.7zM95.5 761.8h.7v.7h-.7zM73.9 768.3h.7v.7h-.7zM79.6 763.9h.7v.7h-.7zM75.3 769.6h.7v.7h-.7zM79.7 762.1h.7v.7h-.7zM94.5 765.1h.7v.7h-.7zM79.8 770.4h.7v.7h-.7zM83.5 763.1h.7v.7h-.7zM99.0 769.1h.7v.7h-.7zM92.9 761.5h.7v.7h-.7zM94.8 766.4h.7v.7h-.7zM95.2 763.2h.7v.7h-.7zM93.9 769.1h.7v.7h-.7zM82.9 767.2h.7v.7h-.7zM93.8 771.9h.7v.7h-.7zM97.8 769.0h.7v.7h-.7zM75.8 766.5h.7v.7h-.7zM91.2 759.2h.7v.7h-.7zM85.0 770.2h.7v.7h-.7zM97.4 771.0h.7v.7h-.7zM74.6 766.5h.7v.7h-.7zM96.2 767.1h.7v.7h-.7zM81.0 758.5h.7v.7h-.7zM97.8 770.0h.7v.7h-.7zM90.3 763.1h.7v.7h-.7zM95.2 769.4h.7v.7h-.7zM92.3 766.4h.7v.7h-.7zM80.9 762.2h.7v.7h-.7zM82.0 762.6h.7v.7h-.7zM86.6 759.6h.7v.7h-.7zM92.2 762.9h.7v.7h-.7zM76.5 761.6h.7v.7h-.7zM82.9 764.0h.7v.7h-.7zM93.9 759.4h.7v.7h-.7zM78.2 762.1h.7v.7h-.7zM76.9 768.5h.7v.7h-.7zM75.1 758.7h.7v.7h-.7zM87.6 768.3h.7v.7h-.7zM95.1 765.8h.7v.7h-.7zM81.1 770.3h.7v.7h-.7zM92.6 764.7h.7v.7h-.7zM87.8 771.1h.7v.7h-.7zM99.9 771.0h.7v.7h-.7zM75.7 762.6h.7v.7h-.7zM83.4 760.4h.7v.7h-.7zM93.3 758.9h.7v.7h-.7zM96.8 766.2h.7v.7h-.7zM89.2 763.8h.7v.7h-.7zM98.2 766.1h.7v.7h-.7zM97.1 770.9h.7v.7h-.7zM91.4 771.8h.7v.7h-.7zM85.7 763.1h.7v.7h-.7zM95.6 765.4h.7v.7h-.7zM80.6 767.5h.7v.7h-.7zM85.3 759.8h.7v.7h-.7zM95.5 765.0h.7v.7h-.7zM99.2 765.5h.7v.7h-.7zM98.2 762.0h.7v.7h-.7zM78.1 765.4h.7v.7h-.7zM93.5 769.5h.7v.7h-.7zM90.1 759.7h.7v.7h-.7zM83.0 758.5h.7v.7h-.7zM82.4 771.2h.7v.7h-.7zM81.7 767.8h.7v.7h-.7zM89.4 760.0h.7v.7h-.7zM91.3 759.1h.7v.7h-.7zM77.2 766.1h.7v.7h-.7zM75.6 771.5h.7v.7h-.7zM83.9 766.8h.7v.7h-.7zM99.0 759.5h.7v.7h-.7zM100.0 758.6h.7v.7h-.7zM88.8 767.2h.7v.7h-.7zM99.6 763.0h.7v.7h-.7zM98.5 767.1h.7v.7h-.7zM85.3 760.4h.7v.7h-.7zM78.6 763.1h.7v.7h-.7zM81.7 763.2h.7v.7h-.7zM94.6 763.2h.7v.7h-.7zM89.6 758.5h.7v.7h-.7zM75.9 767.9h.7v.7h-.7zM96.9 762.4h.7v.7h-.7zM72.9 761.3h.7v.7h-.7zM82.1 763.1h.7v.7h-.7zM87.7 762.2h.7v.7h-.7zM90.1 769.0h.7v.7h-.7z"/>
<path fill="#666" opacity="0.6" d="M83.1 785.8h.7v.7h-.7zM101.1 764.3h.7v.7h-.7zM86.6 754.8h.7v.7h-.7zM81.9 755.7h.7v.7h-.7zM84.8 787.7h.7v.7h-.7zM84.6 754.5h.7v.7h-.7zM102.3 790.9h.7v.7h-.7zM82.5 761.1h.7v.7h-.7zM103.7 764.5h.7v.7h-.7zM95.1 779.6h.7v.7h-.7zM95.5 747.8h.7v.7h-.7zM97.4 785.7h.7v.7h-.7zM90.8 762.3h.7v.7h-.7zM97.3 794.5h.7v.7h-.7zM102.6 755.1h.7v.7h-.7zM98.2 769.5h.7v.7h-.7zM103.7 793.5h.7v.7h-.7zM91.6 790.1h.7v.7h-.7zM101.2 750.6h.7v.7h-.7zM89.7 792.3h.7v.7h-.7zM85.6 766.9h.7v.7h-.7zM95.1 762.6h.7v.7h-.7zM98.8 754.1h.7v.7h-.7zM94.3 772.6h.7v.7h-.7zM80.6 784.6h.7v.7h-.7zM99.0 787.6h.7v.7h-.7zM84.6 771.6h.7v.7h-.7zM83.6 781.7h.7v.7h-.7zM94.7 789.6h.7v.7h-.7zM83.3 757.6h.7v.7h-.7zM81.7 791.3h.7v.7h-.7zM95.5 752.0h.7v.7h-.7zM97.7 767.3h.7v.7h-.7zM89.6 784.1h.7v.7h-.7zM97.6 769.2h.7v.7h-.7zM87.0 764.4h.7v.7h-.7zM89.3 754.3h.7v.7h-.7zM84.1 773.0h.7v.7h-.7zM103.3 774.2h.7v.7h-.7zM89.7 746.5h.7v.7h-.7zM102.1 760.9h.7v.7h-.7zM87.1 780.9h.7v.7h-.7zM101.2 750.5h.7v.7h-.7zM81.7 755.8h.7v.7h-.7zM103.9 770.7h.7v.7h-.7zM82.5 777.5h.7v.7h-.7zM92.0 750.3h.7v.7h-.7zM81.6 763.6h.7v.7h-.7zM103.2 766.4h.7v.7h-.7zM103.8 763.8h.7v.7h-.7zM87.8 750.1h.7v.7h-.7zM94.5 753.1h.7v.7h-.7zM102.8 776.2h.7v.7h-.7zM80.5 776.0h.7v.7h-.7zM91.4 778.0h.7v.7h-.7zM94.5 750.6h.7v.7h-.7zM91.5 776.7h.7v.7h-.7zM82.0 788.8h.7v.7h-.7zM97.1 754.6h.7v.7h-.7zM81.8 765.2h.7v.7h-.7zM95.1 776.4h.7v.7h-.7zM82.8 774.8h.7v.7h-.7zM93.2 753.6h.7v.7h-.7zM92.1 776.5h.7v.7h-.7zM97.5 750.6h.7v.7h-.7zM81.8 780.3h.7v.7h-.7zM103.7 773.0h.7v.7h-.7zM101.4 764.0h.7v.7h-.7zM83.8 778.2h.7v.7h-.7zM86.7 787.9h.7v.7h-.7zM97.9 747.5h.7v.7h-.7zM87.5 784.6h.7v.7h-.7zM81.3 756.2h.7v.7h-.7zM80.9 779.7h.7v.7h-.7zM103.2 780.4h.7v.7h-.7zM101.4 754.9h.7v.7h-.7zM99.4 794.6h.7v.7h-.7zM99.7 756.1h.7v.7h-.7zM87.1 792.0h.7v.7h-.7zM96.6 765.5h.7v.7h-.7zM86.3 747.0h.7v.7h-.7zM98.6 774.9h.7v.7h-.7zM83.4 751.4h.7v.7h-.7zM103.8 790.8h.7v.7h-.7zM80.2 753.4h.7v.7h-.7zM101.1 767.4h.7v.7h-.7zM100.6 769.3h.7v.7h-.7zM89.1 792.8h.7v.7h-.7zM87.5 792.0h.7v.7h-.7zM98.6 751.5h.7v.7h-.7zM102.3 792.7h.7v.7h-.7zM82.9 771.8h.7v.7h-.7zM91.8 757.6h.7v.7h-.7zM97.7 791.2h.7v.7h-.7zM101.1 785.5h.7v.7h-.7zM89.9 777.3h.7v.7h-.7zM100.6 761.2h.7v.7h-.7zM98.1 766.7h.7v.7h-.7zM101.7 762.7h.7v.7h-.7zM93.1 767.5h.7v.7h-.7zM83.5 769.4h.7v.7h-.7zM97.7 776.3h.7v.7h-.7zM102.5 784.6h.7v.7h-.7zM82.9 769.9h.7v.7h-.7zM90.7 745.9h.7v.7h-.7zM102.7 777.0h.7v.7h-.7zM87.7 776.2h.7v.7h-.7zM95.9 783.5h.7v.7h-.7zM101.3 773.6h.7v.7h-.7zM92.4 773.5h.7v.7h-.7zM85.4 746.5h.7v.7h-.7zM97.8 781.2h.7v.7h-.7zM82.1 762.7h.7v.7h-.7zM85.6 750.7h.7v.7h-.7zM96.7 765.0h.7v.7h-.7zM87.6 781.9h.7v.7h-.7zM99.2 758.8h.7v.7h-.7zM93.5 758.2h.7v.7h-.7zM86.2 758.3h.7v.7h-.7zM87.1 754.2h.7v.7h-.7zM80.7 790.0h.7v.7h-.7zM91.9 759.0h.7v.7h-.7zM92.0 791.5h.7v.7h-.7zM82.4 788.1h.7v.7h-.7zM87.2 746.1h.7v.7h-.7zM103.4 758.8h.7v.7h-.7zM102.3 749.4h.7v.7h-.7zM83.1 779.0h.7v.7h-.7zM83.9 784.2h.7v.7h-.7zM90.2 792.8h.7v.7h-.7zM90.2 777.9h.7v.7h-.7zM87.7 762.4h.7v.7h-.7zM93.0 759.6h.7v.7h-.7zM94.0 761.4h.7v.7h-.7zM92.9 752.6h.7v.7h-.7zM87.6 761.8h.7v.7h-.7zM91.5 794.6h.7v.7h-.7zM103.5 768.3h.7v.7h-.7zM96.2 785.3h.7v.7h-.7zM100.6 775.7h.7v.7h-.7zM84.2 777.5h.7v.7h-.7zM89.5 752.0h.7v.7h-.7zM83.8 781.4h.7v.7h-.7zM86.0 759.3h.7v.7h-.7zM89.7 760.7h.7v.7h-.7zM92.7 756.2h.7v.7h-.7zM84.2 778.8h.7v.7h-.7zM81.9 788.5h.7v.7h-.7zM102.9 750.8h.7v.7h-.7zM94.7 787.3h.7v.7h-.7zM84.9 792.9h.7v.7h-.7zM88.6 747.7h.7v.7h-.7zM81.2 759.8h.7v.7h-.7zM87.0 777.9h.7v.7h-.7zM93.6 785.3h.7v.7h-.7zM94.5 762.0h.7v.7h-.7zM81.6 787.8h.7v.7h-.7zM87.5 789.4h.7v.7h-.7zM81.5 757.1h.7v.7h-.7zM101.6 783.7h.7v.7h-.7zM82.2 780.4h.7v.7h-.7zM99.8 780.3h.7v.7h-.7zM97.6 757.3h.7v.7h-.7zM90.8 785.1h.7v.7h-.7zM95.8 746.3h.7v.7h-.7zM84.6 760.4h.7v.7h-.7zM83.5 761.1h.7v.7h-.7zM83.4 789.9h.7v.7h-.7zM86.6 794.0h.7v.7h-.7zM99.7 760.5h.7v.7h-.7zM84.9 789.2h.7v.7h-.7zM88.8 779.8h.7v.7h-.7zM97.6 770.9h.7v.7h-.7zM96.7 777.0h.7v.7h-.7zM93.7 753.5h.7v.7h-.7zM99.9 781.4h.7v.7h-.7zM82.0 766.7h.7v.7h-.7zM85.1 770.5h.7v.7h-.7zM87.8 758.3h.7v.7h-.7zM84.0 782.6h.7v.7h-.7zM89.5 746.6h.7v.7h-.7zM93.6 794.2h.7v.7h-.7zM89.9 791.7h.7v.7h-.7zM95.4 781.8h.7v.7h-.7zM85.5 750.0h.7v.7h-.7zM96.4 756.5h.7v.7h-.7zM94.8 745.3h.7v.7h-.7zM102.1 765.7h.7v.7h-.7zM102.6 786.2h.7v.7h-.7zM100.7 792.1h.7v.7h-.7zM81.6 781.4h.7v.7h-.7zM85.1 793.0h.7v.7h-.7zM101.6 767.5h.7v.7h-.7zM94.7 757.3h.7v.7h-.7zM86.8 762.6h.7v.7h-.7zM87.5 779.6h.7v.7h-.7zM102.6 779.8h.7v.7h-.7zM80.2 782.5h.7v.7h-.7zM89.2 760.6h.7v.7h-.7zM85.0 754.4h.7v.7h-.7zM102.9 768.9h.7v.7h-.7zM98.9 746.1h.7v.7h-.7zM99.7 778.6h.7v.7h-.7zM101.5 777.7h.7v.7h-.7zM100.2 760.8h.7v.7h-.7zM99.6 794.7h.7v.7h-.7zM87.7 768.1h.7v.7h-.7zM98.1 791.4h.7v.7h-.7zM98.3 751.6h.7v.7h-.7zM80.6 767.6h.7v.7h-.7zM90.3 782.5h.7v.7h-.7zM92.6 773.5h.7v.7h-.7zM87.6 748.7h.7v.7h-.7zM88.7 769.6h.7v.7h-.7zM93.5 784.1h.7v.7h-.7zM94.7 783.6h.7v.7h-.7zM90.4 776.0h.7v.7h-.7zM88.0 779.0h.7v.7h-.7zM99.0 756.5h.7v.7h-.7zM93.2 765.9h.7v.7h-.7zM96.5 755.0h.7v.7h-.7zM94.5 753.7h.7v.7h-.7zM101.4 752.4h.7v.7h-.7zM89.1 773.9h.7v.7h-.7zM97.9 790.1h.7v.7h-.7zM81.9 752.1h.7v.7h-.7zM92.6 786.3h.7v.7h-.7zM103.9 791.2h.7v.7h-.7zM92.8 792.4h.7v.7h-.7zM97.2 788.6h.7v.7h-.7zM98.3 787.0h.7v.7h-.7zM92.1 772.4h.7v.7h-.7zM85.5 794.7h.7v.7h-.7zM103.7 745.1h.7v.7h-.7zM99.0 792.3h.7v.7h-.7zM98.0 791.7h.7v.7h-.7zM101.6 778.2h.7v.7h-.7zM80.1 787.0h.7v.7h-.7zM81.7 774.1h.7v.7h-.7zM80.8 792.9h.7v.7h-.7zM90.3 788.6h.7v.7h-.7zM100.3 755.7h.7v.7h-.7zM98.0 792.7h.7v.7h-.7zM97.5 772.0h.7v.7h-.7zM80.6 757.7h.7v.7h-.7zM100.0 780.2h.7v.7h-.7zM88.7 748.3h.7v.7h-.7zM93.2 763.3h.7v.7h-.7zM87.9 753.4h.7v.7h-.7zM101.6 754.0h.7v.7h-.7zM87.2 785.8h.7v.7h-.7zM98.8 776.0h.7v.7h-.7zM92.3 780.0h.7v.7h-.7zM99.5 745.6h.7v.7h-.7zM99.2 789.9h.7v.7h-.7zM88.9 784.5h.7v.7h-.7zM95.3 793.8h.7v.7h-.7zM102.7 785.4h.7v.7h-.7zM94.3 769.1h.7v.7h-.7zM99.6 777.2h.7v.7h-.7z"/>
<path fill="#666" opacity="0.6" d="M61.6 791.4h.7v.7h-.7zM49.1 791.6h.7v.7h-.7zM60.3 788.8h.7v.7h-.7zM92.4 785.1h.7v.7h-.7zM84.1 793.6h.7v.7h-.7zM81.4 786.1h.7v.7h-.7zM55.9 794.0h.7v.7h-.7zM62.8 792.3h.7v.7h-.7zM77.0 783.8h.7v.7h-.7zM68.0 786.5h.7v.7h-.7zM80.4 784.7h.7v.7h-.7zM76.0 788.6h.7v.7h-.7zM60.0 792.0h.7v.7h-.7zM73.2 791.9h.7v.7h-.7zM96.3 790.6h.7v.7h-.7zM82.3 790.3h.7v.7h-.7zM54.7 790.7h.7v.7h-.7zM98.2 790.0h.7v.7h-.7zM83.2 791.8h.7v.7h-.7zM78.6 793.4h.7v.7h-.7zM94.0 782.4h.7v.7h-.7zM87.7 788.3h.7v.7h-.7zM81.7 786.3h.7v.7h-.7zM98.4 784.9h.7v.7h-.7zM76.4 789.8h.7v.7h-.7zM69.9 782.4h.7v.7h-.7zM48.0 788.4h.7v.7h-.7zM89.4 783.5h.7v.7h-.7zM86.1 783.8h.7v.7h-.7zM75.3 786.2h.7v.7h-.7zM55.7 793.5h.7v.7h-.7zM75.9 782.4h.7v.7h-.7zM71.6 784.1h.7v.7h-.7zM86.6 791.5h.7v.7h-.7zM71.0 786.4h.7v.7h-.7zM51.3 793.9h.7v.7h-.7zM59.4 787.6h.7v.7h-.7zM89.5 783.6h.7v.7h-.7zM69.7 792.3h.7v.7h-.7zM89.4 790.4h.7v.7h-.7zM51.7 785.9h.7v.7h-.7zM56.5 787.8h.7v.7h-.7zM92.4 787.9h.7v.7h-.7zM95.3 793.1h.7v.7h-.7zM70.5 787.7h.7v.7h-.7zM98.8 784.1h.7v.7h-.7zM57.9 784.3h.7v.7h-.7zM83.0 791.8h.7v.7h-.7zM64.0 782.7h.7v.7h-.7zM63.4 782.9h.7v.7h-.7zM90.7 783.5h.7v.7h-.7zM53.5 786.8h.7v.7h-.7zM72.8 787.8h.7v.7h-.7zM88.9 785.3h.7v.7h-.7zM88.2 792.1h.7v.7h-.7zM87.3 787.8h.7v.7h-.7zM92.3 782.3h.7v.7h-.7zM70.7 789.6h.7v.7h-.7zM78.3 784.8h.7v.7h-.7zM85.1 790.8h.7v.7h-.7zM84.6 790.3h.7v.7h-.7zM83.7 786.2h.7v.7h-.7zM52.2 794.0h.7v.7h-.7zM54.9 783.7h.7v.7h-.7zM99.0 787.4h.7v.7h-.7zM49.1 784.6h.7v.7h-.7zM60.7 783.4h.7v.7h-.7zM77.2 789.4h.7v.7h-.7zM72.6 788.3h.7v.7h-.7zM47.7 793.7h.7v.7h-.7zM56.9 792.5h.7v.7h-.7zM71.0 791.1h.7v.7h-.7zM76.4 790.9h.7v.7h-.7zM88.8 787.4h.7v.7h-.7zM55.7 782.9h.7v.7h-.7zM98.7 788.7h.7v.7h-.7zM70.9 789.6h.7v.7h-.7zM68.4 786.0h.7v.7h-.7zM92.0 786.0h.7v.7h-.7zM61.3 793.2h.7v.7h-.7zM94.1 789.2h.7v.7h-.7zM96.0 788.8h.7v.7h-.7zM65.9 787.4h.7v.7h-.7zM97.8 782.0h.7v.7h-.7zM53.5 791.0h.7v.7h-.7zM65.2 789.8h.7v.7h-.7zM64.0 785.4h.7v.7h-.7zM59.0 786.9h.7v.7h-.7zM84.5 792.0h.7v.7h-.7zM84.4 793.1h.7v.7h-.7zM77.7 788.9h.7v.7h-.7zM48.9 787.8h.7v.7h-.7zM96.5 784.3h.7v.7h-.7zM57.9 792.0h.7v.7h-.7zM67.5 785.4h.7v.7h-.7zM52.3 791.6h.7v.7h-.7zM49.5 785.5h.7v.7h-.7zM63.4 784.5h.7v.7h-.7zM94.3 789.8h.7v.7h-.7zM70.2 792.8h.7v.7h-.7zM82.6 787.8h.7v.7h-.7zM76.7 793.4h.7v.7h-.7zM68.1 791.4h.7v.7h-.7zM48.4 789.6h.7v.7h-.7zM77.9 790.2h.7v.7h-.7zM61.2 789.2h.7v.7h-.7zM92.1 790.0h.7v.7h-.7zM53.2 792.0h.7v.7h-.7zM92.7 786.8h.7v.7h-.7zM67.8 784.6h.7v.7h-.7zM86.9 783.1h.7v.7h-.7zM68.8 789.8h.7v.7h-.7zM86.1 787.0h.7v.7h-.7zM101.5 792.2h.7v.7h-.7zM52.0 793.7h.7v.7h-.7zM66.9 785.3h.7v.7h-.7zM72.6 789.8h.7v.7h-.7zM50.6 788.2h.7v.7h-.7zM78.9 782.8h.7v.7h-.7zM79.8 791.2h.7v.7h-.7zM64.1 784.0h.7v.7h-.7zM54.2 787.6h.7v.7h-.7zM62.3 791.2h.7v.7h-.7zM50.9 788.3h.7v.7h-.7zM47.0 790.4h.7v.7h-.7zM100.8 786.2h.7v.7h-.7zM83.4 785.5h.7v.7h-.7zM51.5 783.9h.7v.7h-.7zM70.3 785.6h.7v.7h-.7zM61.3 782.6h.7v.7h-.7zM91.9 789.3h.7v.7h-.7zM62.0 788.9h.7v.7h-.7zM69.1 786.7h.7v.7h-.7zM69.8 791.9h.7v.7h-.7zM48.5 784.4h.7v.7h-.7zM84.1 788.1h.7v.7h-.7zM48.5 792.7h.7v.7h-.7zM82.0 792.2h.7v.7h-.7zM76.4 791.9h.7v.7h-.7zM99.0 785.6h.7v.7h-.7z"/>
<path fill="#666" opacity="0.6" d="M46.7 790.4h.7v.7h-.7zM48.2 782.7h.7v.7h-.7zM47.4 765.5h.7v.7h-.7zM52.7 787.9h.7v.7h-.7zM53.0 765.2h.7v.7h-.7zM46.6 771.4h.7v.7h-.7zM45.8 747.6h.7v.7h-.7zM47.2 774.4h.7v.7h-.7zM51.2 767.3h.7v.7h-.7zM50.5 764.6h.7v.7h-.7zM53.2 767.0h.7v.7h-.7zM50.0 756.8h.7v.7h-.7zM48.6 780.8h.7v.7h-.7zM49.6 757.9h.7v.7h-.7zM46.7 789.4h.7v.7h-.7zM49.0 760.8h.7v.7h-.7zM49.5 778.1h.7v.7h-.7zM49.3 757.3h.7v.7h-.7zM48.1 748.9h.7v.7h-.7zM50.2 771.3h.7v.7h-.7zM52.6 757.1h.7v.7h-.7zM46.4 786.2h.7v.7h-.7zM52.0 754.8h.7v.7h-.7zM49.7 750.3h.7v.7h-.7zM51.3 767.6h.7v.7h-.7zM45.9 791.0h.7v.7h-.7zM51.1 791.1h.7v.7h-.7zM47.8 788.6h.7v.7h-.7zM50.6 757.4h.7v.7h-.7zM50.2 774.8h.7v.7h-.7zM45.7 782.3h.7v.7h-.7zM48.5 790.1h.7v.7h-.7zM52.5 789.6h.7v.7h-.7zM51.2 758.1h.7v.7h-.7zM53.6 760.3h.7v.7h-.7zM51.3 773.3h.7v.7h-.7zM52.1 769.2h.7v.7h-.7zM45.7 766.8h.7v.7h-.7zM47.6 787.2h.7v.7h-.7zM47.8 757.1h.7v.7h-.7zM45.5 760.0h.7v.7h-.7zM52.6 762.3h.7v.7h-.7zM51.7 756.5h.7v.7h-.7zM49.6 778.4h.7v.7h-.7zM52.5 753.5h.7v.7h-.7zM49.2 768.7h.7v.7h-.7zM49.0 763.1h.7v.7h-.7zM52.7 789.8h.7v.7h-.7zM45.8 753.7h.7v.7h-.7zM52.9 786.5h.7v.7h-.7zM50.9 755.3h.7v.7h-.7zM50.2 776.7h.7v.7h-.7zM45.2 759.8h.7v.7h-.7zM51.1 770.6h.7v.7h-.7zM46.1 778.2h.7v.7h-.7zM47.4 776.3h.7v.7h-.7zM49.8 750.3h.7v.7h-.7zM46.1 763.6h.7v.7h-.7zM49.8 773.6h.7v.7h-.7zM46.3 790.9h.7v.7h-.7z"/>
<path fill="#555" opacity="0.55" d="M95.5 776.5h.7v.7h-.7zM75.7 790.0h.7v.7h-.7zM74.6 762.7h.7v.7h-.7zM94.0 773.0h.7v.7h-.7zM77.5 751.3h.7v.7h-.7zM70.9 768.0h.7v.7h-.7zM51.2 765.9h.7v.7h-.7zM77.6 770.7h.7v.7h-.7zM74.4 789.3h.7v.7h-.7zM85.3 786.0h.7v.7h-.7zM88.7 766.8h.7v.7h-.7zM70.5 787.3h.7v.7h-.7zM49.1 770.4h.7v.7h-.7zM79.9 757.9h.7v.7h-.7zM88.7 769.7h.7v.7h-.7zM90.8 774.7h.7v.7h-.7zM83.5 785.1h.7v.7h-.7zM49.7 762.3h.7v.7h-.7zM97.8 778.5h.7v.7h-.7zM83.5 791.3h.7v.7h-.7zM51.6 782.9h.7v.7h-.7zM58.1 750.8h.7v.7h-.7zM76.5 771.6h.7v.7h-.7zM71.6 762.6h.7v.7h-.7zM65.3 750.0h.7v.7h-.7zM66.0 788.8h.7v.7h-.7zM87.0 766.5h.7v.7h-.7zM82.9 760.9h.7v.7h-.7zM50.3 786.2h.7v.7h-.7zM70.4 749.7h.7v.7h-.7zM55.2 751.5h.7v.7h-.7zM69.5 754.2h.7v.7h-.7zM68.6 759.2h.7v.7h-.7zM89.6 777.2h.7v.7h-.7zM78.1 786.4h.7v.7h-.7zM81.5 754.3h.7v.7h-.7zM95.5 773.2h.7v.7h-.7zM88.2 785.1h.7v.7h-.7zM84.3 767.9h.7v.7h-.7zM83.2 769.1h.7v.7h-.7zM94.8 766.9h.7v.7h-.7zM95.8 776.6h.7v.7h-.7zM69.6 744.9h.7v.7h-.7zM72.0 745.8h.7v.7h-.7zM77.3 762.4h.7v.7h-.7zM76.1 781.6h.7v.7h-.7zM71.9 768.6h.7v.7h-.7zM85.6 758.1h.7v.7h-.7zM74.6 761.7h.7v.7h-.7zM87.0 772.8h.7v.7h-.7zM49.9 769.4h.7v.7h-.7zM72.9 785.7h.7v.7h-.7zM69.5 766.5h.7v.7h-.7zM78.6 785.4h.7v.7h-.7zM74.9 789.0h.7v.7h-.7zM54.7 782.7h.7v.7h-.7zM75.9 767.8h.7v.7h-.7zM52.7 771.3h.7v.7h-.7zM96.2 790.0h.7v.7h-.7zM55.9 788.2h.7v.7h-.7zM84.5 768.9h.7v.7h-.7zM81.6 756.5h.7v.7h-.7zM55.3 768.0h.7v.7h-.7zM96.2 784.3h.7v.7h-.7zM95.6 781.1h.7v.7h-.7zM89.3 773.6h.7v.7h-.7zM72.3 761.8h.7v.7h-.7zM94.6 779.6h.7v.7h-.7zM77.0 784.4h.7v.7h-.7zM72.1 765.4h.7v.7h-.7zM89.6 768.2h.7v.7h-.7zM81.3 758.7h.7v.7h-.7zM78.0 788.7h.7v.7h-.7zM95.5 772.2h.7v.7h-.7zM72.3 771.5h.7v.7h-.7zM76.1 757.0h.7v.7h-.7zM80.9 767.3h.7v.7h-.7zM51.5 756.9h.7v.7h-.7zM58.9 790.5h.7v.7h-.7zM71.1 748.9h.7v.7h-.7zM94.2 781.6h.7v.7h-.7zM86.2 770.9h.7v.7h-.7zM80.3 772.7h.7v.7h-.7zM66.5 787.7h.7v.7h-.7zM80.8 791.1h.7v.7h-.7zM94.6 778.8h.7v.7h-.7zM55.0 777.6h.7v.7h-.7zM91.4 783.7h.7v.7h-.7zM62.9 747.2h.7v.7h-.7zM60.1 784.8h.7v.7h-.7zM88.6 776.6h.7v.7h-.7zM79.5 785.5h.7v.7h-.7zM69.1 783.3h.7v.7h-.7zM91.2 789.5h.7v.7h-.7zM49.7 755.3h.7v.7h-.7zM82.6 754.7h.7v.7h-.7zM79.1 758.7h.7v.7h-.7zM81.2 767.1h.7v.7h-.7zM57.9 786.6h.7v.7h-.7zM63.2 781.7h.7v.7h-.7zM73.3 768.6h.7v.7h-.7zM48.1 780.7h.7v.7h-.7zM82.3 784.6h.7v.7h-.7zM91.8 788.3h.7v.7h-.7zM50.8 769.5h.7v.7h-.7zM71.9 788.5h.7v.7h-.7zM58.7 785.8h.7v.7h-.7zM75.2 758.7h.7v.7h-.7zM76.6 756.5h.7v.7h-.7zM53.0 774.4h.7v.7h-.7zM92.6 772.2h.7v.7h-.7zM48.8 780.8h.7v.7h-.7zM78.4 787.8h.7v.7h-.7zM68.7 768.5h.7v.7h-.7zM71.0 745.7h.7v.7h-.7zM74.0 767.9h.7v.7h-.7zM78.3 765.7h.7v.7h-.7zM77.8 757.0h.7v.7h-.7zM78.8 785.8h.7v.7h-.7zM49.2 779.9h.7v.7h-.7zM66.2 787.2h.7v.7h-.7zM59.2 748.1h.7v.7h-.7zM97.6 786.6h.7v.7h-.7zM78.0 761.8h.7v.7h-.7zM94.6 788.8h.7v.7h-.7zM91.5 785.2h.7v.7h-.7zM82.0 787.8h.7v.7h-.7zM76.5 762.4h.7v.7h-.7zM59.8 787.2h.7v.7h-.7zM72.6 768.1h.7v.7h-.7zM88.2 766.8h.7v.7h-.7zM56.1 790.6h.7v.7h-.7zM70.5 787.5h.7v.7h-.7zM81.5 774.1h.7v.7h-.7zM56.1 767.9h.7v.7h-.7zM92.1 764.8h.7v.7h-.7zM72.4 786.9h.7v.7h-.7zM64.5 788.6h.7v.7h-.7zM52.7 746.6h.7v.7h-.7zM72.9 745.9h.7v.7h-.7zM62.3 746.6h.7v.7h-.7zM78.9 755.7h.7v.7h-.7zM54.2 756.2h.7v.7h-.7zM50.4 768.3h.7v.7h-.7zM51.0 750.4h.7v.7h-.7zM71.6 753.0h.7v.7h-.7zM93.6 789.5h.7v.7h-.7zM82.6 762.1h.7v.7h-.7zM54.6 748.4h.7v.7h-.7zM90.5 786.4h.7v.7h-.7zM75.9 767.3h.7v.7h-.7zM95.6 792.5h.7v.7h-.7zM47.7 775.0h.7v.7h-.7zM93.8 783.0h.7v.7h-.7zM68.7 749.0h.7v.7h-.7zM86.7 786.9h.7v.7h-.7zM73.0 761.8h.7v.7h-.7zM66.1 788.0h.7v.7h-.7zM73.6 758.5h.7v.7h-.7zM94.2 770.3h.7v.7h-.7zM51.2 751.8h.7v.7h-.7zM77.6 757.3h.7v.7h-.7zM95.7 776.1h.7v.7h-.7zM71.2 766.6h.7v.7h-.7zM76.9 788.7h.7v.7h-.7zM67.4 787.0h.7v.7h-.7zM57.7 747.0h.7v.7h-.7zM95.7 778.6h.7v.7h-.7zM75.2 759.5h.7v.7h-.7zM85.1 771.4h.7v.7h-.7zM77.2 770.5h.7v.7h-.7zM73.1 759.7h.7v.7h-.7zM91.3 769.6h.7v.7h-.7zM73.6 766.5h.7v.7h-.7zM97.1 778.8h.7v.7h-.7zM78.0 750.7h.7v.7h-.7zM75.8 755.8h.7v.7h-.7zM67.5 746.7h.7v.7h-.7zM79.1 757.6h.7v.7h-.7zM73.1 766.0h.7v.7h-.7zM77.7 788.6h.7v.7h-.7zM56.0 786.3h.7v.7h-.7zM68.7 747.9h.7v.7h-.7zM72.9 760.0h.7v.7h-.7zM82.0 770.7h.7v.7h-.7zM89.4 787.3h.7v.7h-.7zM69.3 770.4h.7v.7h-.7zM94.1 787.4h.7v.7h-.7zM76.9 767.9h.7v.7h-.7zM74.8 785.1h.7v.7h-.7zM84.1 775.1h.7v.7h-.7zM73.0 764.4h.7v.7h-.7zM78.7 787.1h.7v.7h-.7zM80.9 755.3h.7v.7h-.7zM78.2 757.5h.7v.7h-.7zM73.7 748.7h.7v.7h-.7zM78.9 769.5h.7v.7h-.7zM50.0 774.7h.7v.7h-.7zM72.0 749.0h.7v.7h-.7zM78.7 786.5h.7v.7h-.7zM59.0 787.5h.7v.7h-.7zM54.2 773.5h.7v.7h-.7zM78.5 788.5h.7v.7h-.7zM49.9 777.4h.7v.7h-.7zM78.2 766.6h.7v.7h-.7zM81.1 765.9h.7v.7h-.7zM74.8 787.5h.7v.7h-.7zM50.5 765.5h.7v.7h-.7zM96.0 773.5h.7v.7h-.7zM85.2 758.1h.7v.7h-.7zM76.9 767.0h.7v.7h-.7zM69.1 766.3h.7v.7h-.7zM87.5 780.4h.7v.7h-.7zM76.2 774.4h.7v.7h-.7zM85.0 774.5h.7v.7h-.7zM79.6 786.3h.7v.7h-.7zM73.9 760.9h.7v.7h-.7zM83.9 768.6h.7v.7h-.7zM69.8 752.9h.7v.7h-.7zM93.0 771.4h.7v.7h-.7zM73.1 791.0h.7v.7h-.7zM53.4 769.7h.7v.7h-.7zM92.7 785.0h.7v.7h-.7zM96.1 780.2h.7v.7h-.7zM71.8 785.6h.7v.7h-.7zM95.0 775.6h.7v.7h-.7zM62.6 786.7h.7v.7h-.7zM71.8 757.9h.7v.7h-.7zM91.5 775.4h.7v.7h-.7zM77.6 756.4h.7v.7h-.7zM54.0 776.1h.7v.7h-.7zM73.8 750.0h.7v.7h-.7zM79.9 789.0h.7v.7h-.7zM61.4 746.3h.7v.7h-.7zM59.7 750.2h.7v.7h-.7zM52.2 758.9h.7v.7h-.7zM84.4 786.8h.7v.7h-.7zM78.6 765.4h.7v.7h-.7zM82.5 788.0h.7v.7h-.7zM71.9 763.5h.7v.7h-.7zM94.0 778.3h.7v.7h-.7zM84.7 771.3h.7v.7h-.7zM70.2 769.3h.7v.7h-.7zM75.1 765.7h.7v.7h-.7zM51.0 767.8h.7v.7h-.7zM73.5 760.0h.7v.7h-.7zM70.2 783.3h.7v.7h-.7zM77.6 757.7h.7v.7h-.7zM79.5 756.4h.7v.7h-.7zM77.4 761.4h.7v.7h-.7zM95.0 785.3h.7v.7h-.7zM77.4 764.7h.7v.7h-.7zM85.5 773.7h.7v.7h-.7zM70.4 753.1h.7v.7h-.7zM66.7 753.8h.7v.7h-.7zM90.0 767.5h.7v.7h-.7zM86.6 757.0h.7v.7h-.7zM92.6 781.2h.7v.7h-.7zM52.1 785.7h.7v.7h-.7zM96.0 789.6h.7v.7h-.7zM93.1 774.5h.7v.7h-.7zM98.3 775.7h.7v.7h-.7zM78.2 756.8h.7v.7h-.7zM70.2 786.3h.7v.7h-.7zM73.2 787.4h.7v.7h-.7zM91.3 786.0h.7v.7h-.7zM85.7 786.1h.7v.7h-.7zM93.7 769.3h.7v.7h-.7zM50.5 774.9h.7v.7h-.7zM65.3 788.3h.7v.7h-.7zM68.8 749.3h.7v.7h-.7zM80.9 768.1h.7v.7h-.7zM80.4 757.9h.7v.7h-.7zM50.4 790.1h.7v.7h-.7zM92.1 773.2h.7v.7h-.7zM78.4 751.7h.7v.7h-.7zM72.1 771.2h.7v.7h-.7zM85.7 770.9h.7v.7h-.7zM93.1 774.1h.7v.7h-.7zM54.2 761.2h.7v.7h-.7zM85.3 770.6h.7v.7h-.7zM49.6 765.9h.7v.7h-.7zM81.5 783.7h.7v.7h-.7zM80.6 759.7h.7v.7h-.7zM60.5 748.3h.7v.7h-.7zM54.3 772.2h.7v.7h-.7zM95.9 775.4h.7v.7h-.7zM73.0 754.3h.7v.7h-.7zM77.5 769.9h.7v.7h-.7zM50.3 746.8h.7v.7h-.7zM90.8 774.3h.7v.7h-.7zM96.4 776.4h.7v.7h-.7zM89.6 771.2h.7v.7h-.7zM60.6 791.3h.7v.7h-.7zM80.4 788.9h.7v.7h-.7zM92.3 789.7h.7v.7h-.7zM93.0 787.0h.7v.7h-.7zM47.8 785.2h.7v.7h-.7zM84.1 784.5h.7v.7h-.7zM93.0 791.5h.7v.7h-.7zM93.0 781.5h.7v.7h-.7zM79.7 771.4h.7v.7h-.7zM80.0 752.7h.7v.7h-.7zM72.1 754.5h.7v.7h-.7zM64.8 756.5h.7v.7h-.7zM55.1 747.3h.7v.7h-.7zM66.3 793.8h.7v.7h-.7zM86.6 770.8h.7v.7h-.7zM51.3 756.4h.7v.7h-.7zM82.0 777.0h.7v.7h-.7zM53.0 789.0h.7v.7h-.7zM54.2 747.2h.7v.7h-.7zM96.0 780.7h.7v.7h-.7zM80.0 765.6h.7v.7h-.7zM48.6 754.6h.7v.7h-.7zM67.1 765.2h.7v.7h-.7zM54.8 783.3h.7v.7h-.7zM51.8 776.7h.7v.7h-.7zM67.0 754.7h.7v.7h-.7zM89.0 772.8h.7v.7h-.7zM71.4 793.1h.7v.7h-.7zM48.0 774.1h.7v.7h-.7zM73.9 764.3h.7v.7h-.7zM77.1 754.6h.7v.7h-.7zM71.6 754.9h.7v.7h-.7zM77.6 749.3h.7v.7h-.7zM79.5 771.4h.7v.7h-.7zM72.5 763.0h.7v.7h-.7zM55.3 749.1h.7v.7h-.7zM70.0 783.0h.7v.7h-.7zM77.6 772.9h.7v.7h-.7zM73.8 762.2h.7v.7h-.7zM79.5 785.9h.7v.7h-.7zM93.6 784.6h.7v.7h-.7zM53.3 755.3h.7v.7h-.7zM48.9 777.5h.7v.7h-.7zM63.3 747.8h.7v.7h-.7zM75.1 751.3h.7v.7h-.7zM88.8 788.0h.7v.7h-.7zM80.0 790.5h.7v.7h-.7zM56.4 785.0h.7v.7h-.7zM61.3 791.2h.7v.7h-.7zM58.0 753.2h.7v.7h-.7zM82.8 755.7h.7v.7h-.7zM76.8 788.3h.7v.7h-.7zM52.6 760.2h.7v.7h-.7zM69.6 785.3h.7v.7h-.7zM80.2 767.8h.7v.7h-.7zM92.8 774.3h.7v.7h-.7zM96.5 786.4h.7v.7h-.7zM86.3 768.5h.7v.7h-.7zM57.3 785.9h.7v.7h-.7zM75.7 765.0h.7v.7h-.7zM72.6 758.3h.7v.7h-.7zM50.5 789.2h.7v.7h-.7zM65.0 745.0h.7v.7h-.7zM75.5 788.3h.7v.7h-.7zM75.6 760.7h.7v.7h-.7zM56.6 751.4h.7v.7h-.7zM78.7 757.2h.7v.7h-.7zM83.7 765.6h.7v.7h-.7zM72.6 789.1h.7v.7h-.7zM91.2 787.5h.7v.7h-.7zM88.2 776.7h.7v.7h-.7zM94.7 788.9h.7v.7h-.7zM78.7 783.9h.7v.7h-.7zM94.3 788.1h.7v.7h-.7zM69.8 759.8h.7v.7h-.7zM51.6 754.7h.7v.7h-.7zM83.5 789.0h.7v.7h-.7zM71.3 783.0h.7v.7h-.7zM80.0 753.3h.7v.7h-.7zM69.6 750.4h.7v.7h-.7zM84.6 773.0h.7v.7h-.7zM52.6 752.4h.7v.7h-.7zM77.3 763.8h.7v.7h-.7zM96.6 786.6h.7v.7h-.7zM74.3 793.7h.7v.7h-.7zM66.2 787.4h.7v.7h-.7zM68.2 783.0h.7v.7h-.7zM75.6 754.7h.7v.7h-.7zM70.9 754.3h.7v.7h-.7zM50.2 756.8h.7v.7h-.7zM56.8 750.5h.7v.7h-.7zM65.0 785.3h.7v.7h-.7zM72.2 753.2h.7v.7h-.7zM84.3 773.3h.7v.7h-.7zM73.5 768.2h.7v.7h-.7zM96.1 777.3h.7v.7h-.7zM51.1 754.7h.7v.7h-.7zM52.3 782.8h.7v.7h-.7zM75.7 787.6h.7v.7h-.7zM82.3 768.4h.7v.7h-.7zM81.3 788.6h.7v.7h-.7zM74.8 753.2h.7v.7h-.7zM88.3 768.8h.7v.7h-.7zM73.2 770.4h.7v.7h-.7zM50.9 754.8h.7v.7h-.7zM91.6 773.7h.7v.7h-.7zM73.7 754.9h.7v.7h-.7zM75.0 768.9h.7v.7h-.7zM54.4 748.2h.7v.7h-.7zM91.2 781.4h.7v.7h-.7zM86.2 772.7h.7v.7h-.7zM52.1 770.3h.7v.7h-.7zM94.4 783.7h.7v.7h-.7zM88.0 788.8h.7v.7h-.7zM96.2 780.2h.7v.7h-.7zM90.5 770.9h.7v.7h-.7zM82.6 756.3h.7v.7h-.7zM50.7 777.9h.7v.7h-.7zM81.5 756.6h.7v.7h-.7zM98.3 779.7h.7v.7h-.7zM82.5 773.6h.7v.7h-.7zM50.0 770.1h.7v.7h-.7zM54.7 784.5h.7v.7h-.7zM53.0 769.3h.7v.7h-.7zM82.9 760.3h.7v.7h-.7zM71.8 752.9h.7v.7h-.7zM93.6 788.0h.7v.7h-.7zM77.5 755.2h.7v.7h-.7zM90.9 771.9h.7v.7h-.7zM89.7 768.4h.7v.7h-.7zM54.2 782.9h.7v.7h-.7zM75.0 788.3h.7v.7h-.7zM84.8 789.4h.7v.7h-.7zM91.5 785.2h.7v.7h-.7zM78.6 783.4h.7v.7h-.7zM81.2 759.9h.7v.7h-.7zM76.4 784.2h.7v.7h-.7zM73.1 753.3h.7v.7h-.7zM81.1 757.5h.7v.7h-.7zM73.1 762.2h.7v.7h-.7zM52.1 762.6h.7v.7h-.7zM86.0 771.2h.7v.7h-.7zM83.1 768.9h.7v.7h-.7zM77.9 785.8h.7v.7h-.7zM70.4 787.1h.7v.7h-.7zM71.5 760.8h.7v.7h-.7zM95.0 776.6h.7v.7h-.7zM50.3 766.7h.7v.7h-.7zM49.5 784.5h.7v.7h-.7zM99.8 788.6h.7v.7h-.7zM50.0 766.4h.7v.7h-.7zM78.1 760.5h.7v.7h-.7zM83.8 756.8h.7v.7h-.7zM76.3 770.2h.7v.7h-.7zM66.6 782.6h.7v.7h-.7zM73.8 756.9h.7v.7h-.7zM51.2 771.5h.7v.7h-.7zM79.5 789.0h.7v.7h-.7zM68.5 753.3h.7v.7h-.7zM55.6 746.7h.7v.7h-.7zM84.1 766.1h.7v.7h-.7zM92.3 789.2h.7v.7h-.7zM90.4 767.3h.7v.7h-.7zM76.5 760.8h.7v.7h-.7zM55.6 751.1h.7v.7h-.7zM69.2 755.3h.7v.7h-.7zM50.6 746.6h.7v.7h-.7zM70.6 763.0h.7v.7h-.7zM53.3 755.5h.7v.7h-.7zM77.2 769.7h.7v.7h-.7zM68.5 747.2h.7v.7h-.7zM82.0 768.5h.7v.7h-.7zM79.4 759.8h.7v.7h-.7zM73.7 764.4h.7v.7h-.7zM47.3 770.0h.7v.7h-.7zM95.9 774.2h.7v.7h-.7zM80.5 770.2h.7v.7h-.7zM90.6 769.4h.7v.7h-.7zM78.5 761.3h.7v.7h-.7zM95.6 781.9h.7v.7h-.7zM81.2 752.8h.7v.7h-.7zM91.6 772.2h.7v.7h-.7zM93.8 789.5h.7v.7h-.7zM78.4 756.1h.7v.7h-.7zM72.0 765.4h.7v.7h-.7zM73.3 758.8h.7v.7h-.7zM80.9 788.2h.7v.7h-.7z"/>
<clipPath id="cp8"><path d="M53.5,749.5 Q56,747.8 62,747.8 Q68,748.5 71.5,752.5 L76,753.3 Q81.6,754 81.6,757 Q81.6,760.2 76,760.2 L72,761 Q71,766 73,770 L89,770.5 Q94.5,771.5 94.5,779 L94.5,787.5 Q80,787 67,786 Q60,788 55,787.5 Q50.8,786 50.9,780 L51.5,758 Q51.6,751 53.5,749.5 Z"/></clipPath>
<path d="M53.5,749.5 Q56,747.8 62,747.8 Q68,748.5 71.5,752.5 L76,753.3 Q81.6,754 81.6,757 Q81.6,760.2 76,760.2 L72,761 Q71,766 73,770 L89,770.5 Q94.5,771.5 94.5,779 L94.5,787.5 Q80,787 67,786 Q60,788 55,787.5 Q50.8,786 50.9,780 L51.5,758 Q51.6,751 53.5,749.5 Z" fill="#1a1aff" filter="url(#b1)" opacity="1"/>
<g clip-path="url(#cp8)">
<path d="M53.5,749.5 Q56,747.8 62,747.8 Q68,748.5 71.5,752.5 L76,753.3 Q81.6,754 81.6,757 Q81.6,760.2 76,760.2 L72,761 Q71,766 73,770 L89,770.5 Q94.5,771.5 94.5,779 L94.5,787.5 Q80,787 67,786 Q60,788 55,787.5 Q50.8,786 50.9,780 L51.5,758 Q51.6,751 53.5,749.5 Z" fill="#2c62ff" filter="url(#b3)" opacity="0.9"/>
<ellipse cx="84" cy="779" rx="11" ry="6" fill="url(#gL)"/>
<ellipse cx="60.8" cy="764" rx="8" ry="19" fill="url(#gC)"/>
<ellipse cx="61.8" cy="778.5" rx="7.5" ry="8.5" fill="url(#gR2)"/>
</g>
<rect x="51.6" y="746" width="20.00" height="20.30" fill="none" stroke="#333" stroke-width="0.75"/>
<rect x="73.2" y="751.5" width="22.10" height="12.60" fill="none" stroke="#333" stroke-width="0.75"/>
<text transform="translate(61.80,735.20) scale(1,1.15)" font-size="7" text-anchor="middle" font-weight="bold" fill="#1a1a1a" style="stroke-width:0.08px">MP</text>
<text transform="translate(61.80,743.60) scale(1,1.15)" font-size="7" text-anchor="middle" font-weight="bold" fill="#1a1a1a" style="stroke-width:0.08px">14.1</text>
<text transform="translate(84.40,741.20) scale(1,1.15)" font-size="7" text-anchor="middle" font-weight="bold" fill="#1a1a1a" style="stroke-width:0.08px">LSK</text>
<text transform="translate(84.40,749.20) scale(1,1.15)" font-size="7" text-anchor="middle" font-weight="bold" fill="#1a1a1a" style="stroke-width:0.08px">0.66</text>
<text x="40.8" y="728.90" font-size="6.3" text-anchor="end" fill="#333">10<tspan font-size="4.2" dy="-2.4">5</tspan></text>
<text x="40.8" y="745.60" font-size="6.3" text-anchor="end" fill="#333">10<tspan font-size="4.2" dy="-2.4">4</tspan></text>
<text x="40.8" y="763.00" font-size="6.3" text-anchor="end" fill="#333">10<tspan font-size="4.2" dy="-2.4">3</tspan></text>
<text x="40.8" y="780.50" font-size="6.3" text-anchor="end" fill="#333">0</text>
<text x="40.8" y="798.60" font-size="6.3" text-anchor="end" fill="#333">-10<tspan font-size="4.2" dy="-2.4">3</tspan></text>
<text x="46.50" y="808.00" font-size="6.3" text-anchor="middle" fill="#333">-10<tspan font-size="4.2" dy="-2.4">3</tspan></text>
<text x="61.40" y="808.00" font-size="6.3" text-anchor="middle" fill="#333">0</text>
<text x="80.70" y="808.00" font-size="6.3" text-anchor="middle" fill="#333">10<tspan font-size="4.2" dy="-2.4">3</tspan></text>
<text x="92.60" y="808.00" font-size="6.3" text-anchor="middle" fill="#333">10<tspan font-size="4.2" dy="-2.4">4</tspan></text>
<text x="105.80" y="808.00" font-size="6.3" text-anchor="middle" fill="#333">10<tspan font-size="4.2" dy="-2.4">5</tspan></text>
<text x="115.60" y="808.00" font-size="6.3" text-anchor="middle" fill="#333">10<tspan font-size="4.2" dy="-2.4">6</tspan></text>
<rect x="152.5" y="648.6" width="75.00" height="74.40" fill="none" stroke="#3a3a3a" stroke-width="0.9"/>
<path fill="#666" opacity="0.6" d="M184.1 687.9h.7v.7h-.7zM167.2 703.7h.7v.7h-.7zM160.3 692.1h.7v.7h-.7zM206.7 678.6h.7v.7h-.7zM188.8 695.7h.7v.7h-.7zM162.1 688.1h.7v.7h-.7zM196.6 690.5h.7v.7h-.7zM197.7 681.0h.7v.7h-.7zM172.4 679.6h.7v.7h-.7zM186.3 705.6h.7v.7h-.7zM190.7 700.8h.7v.7h-.7zM180.0 699.9h.7v.7h-.7zM165.3 685.3h.7v.7h-.7zM195.1 699.2h.7v.7h-.7zM181.9 678.8h.7v.7h-.7zM173.9 682.7h.7v.7h-.7zM174.6 701.9h.7v.7h-.7zM170.4 704.4h.7v.7h-.7zM205.7 677.8h.7v.7h-.7zM179.7 691.7h.7v.7h-.7zM161.2 689.6h.7v.7h-.7zM207.1 679.6h.7v.7h-.7zM191.0 679.9h.7v.7h-.7zM190.1 704.6h.7v.7h-.7zM170.6 676.3h.7v.7h-.7zM164.3 693.3h.7v.7h-.7zM160.9 678.7h.7v.7h-.7zM185.8 705.5h.7v.7h-.7zM181.8 688.7h.7v.7h-.7zM193.2 679.0h.7v.7h-.7zM190.1 681.5h.7v.7h-.7zM191.7 706.7h.7v.7h-.7zM162.8 693.8h.7v.7h-.7zM191.5 680.8h.7v.7h-.7zM174.0 707.8h.7v.7h-.7zM211.9 679.9h.7v.7h-.7zM196.7 706.4h.7v.7h-.7zM172.3 695.6h.7v.7h-.7zM162.2 687.7h.7v.7h-.7zM195.1 694.9h.7v.7h-.7zM200.3 678.8h.7v.7h-.7zM178.1 703.6h.7v.7h-.7zM190.4 690.4h.7v.7h-.7zM180.9 707.6h.7v.7h-.7zM189.9 676.6h.7v.7h-.7zM201.6 686.5h.7v.7h-.7zM182.5 682.8h.7v.7h-.7zM183.1 686.4h.7v.7h-.7zM164.6 696.1h.7v.7h-.7zM165.4 701.1h.7v.7h-.7z"/>
<path fill="#555" opacity="0.55" d="M188.6 678.4h.7v.7h-.7zM193.8 707.9h.7v.7h-.7zM181.0 687.9h.7v.7h-.7zM174.8 687.7h.7v.7h-.7zM175.4 706.0h.7v.7h-.7zM169.3 687.5h.7v.7h-.7zM182.5 707.3h.7v.7h-.7zM180.6 704.6h.7v.7h-.7zM202.5 679.4h.7v.7h-.7zM198.3 677.4h.7v.7h-.7zM204.7 699.9h.7v.7h-.7zM168.8 688.1h.7v.7h-.7zM173.9 708.1h.7v.7h-.7zM181.1 704.9h.7v.7h-.7zM198.6 703.5h.7v.7h-.7zM183.8 682.9h.7v.7h-.7zM174.8 689.1h.7v.7h-.7zM188.8 675.3h.7v.7h-.7zM178.9 708.3h.7v.7h-.7zM164.1 690.3h.7v.7h-.7zM193.3 678.8h.7v.7h-.7zM199.1 680.2h.7v.7h-.7zM166.3 689.9h.7v.7h-.7zM208.0 701.9h.7v.7h-.7zM167.8 691.4h.7v.7h-.7zM174.3 687.6h.7v.7h-.7zM183.3 688.9h.7v.7h-.7zM196.7 678.1h.7v.7h-.7zM204.3 698.9h.7v.7h-.7zM159.5 694.4h.7v.7h-.7zM160.5 699.5h.7v.7h-.7zM174.4 687.9h.7v.7h-.7zM203.0 700.5h.7v.7h-.7zM180.9 706.8h.7v.7h-.7zM166.2 699.3h.7v.7h-.7zM167.1 689.6h.7v.7h-.7zM191.4 709.2h.7v.7h-.7zM186.9 705.7h.7v.7h-.7zM169.4 689.3h.7v.7h-.7zM176.8 685.4h.7v.7h-.7zM161.9 692.9h.7v.7h-.7zM198.3 704.3h.7v.7h-.7zM186.4 705.9h.7v.7h-.7zM198.1 701.5h.7v.7h-.7zM202.5 682.9h.7v.7h-.7zM181.5 707.4h.7v.7h-.7zM185.4 704.2h.7v.7h-.7zM163.3 692.6h.7v.7h-.7zM202.8 680.6h.7v.7h-.7zM197.9 679.9h.7v.7h-.7zM199.5 685.9h.7v.7h-.7zM168.8 703.2h.7v.7h-.7zM209.4 690.6h.7v.7h-.7zM195.0 707.8h.7v.7h-.7zM164.3 696.9h.7v.7h-.7zM206.7 700.7h.7v.7h-.7zM177.6 705.2h.7v.7h-.7zM176.7 707.2h.7v.7h-.7zM174.0 688.4h.7v.7h-.7zM163.1 694.8h.7v.7h-.7zM191.2 679.4h.7v.7h-.7zM205.0 694.0h.7v.7h-.7zM193.0 706.4h.7v.7h-.7zM203.8 688.6h.7v.7h-.7zM165.4 698.5h.7v.7h-.7zM165.0 695.9h.7v.7h-.7zM166.6 699.3h.7v.7h-.7zM195.7 680.1h.7v.7h-.7zM203.7 695.8h.7v.7h-.7zM184.5 706.1h.7v.7h-.7z"/>
<clipPath id="cp9"><path d="M162.9,694.5 Q163,689 172,687.5 L182,686 Q187,681 189,679 Q192.5,677.5 196,678.5 Q201,681 204,686 Q206.7,690 206.7,693.6 Q206,700 201,704 Q195,706.8 188,706.8 Q180,706.5 172.5,705 Q166,703 163.5,699 Z"/></clipPath>
<path d="M162.9,694.5 Q163,689 172,687.5 L182,686 Q187,681 189,679 Q192.5,677.5 196,678.5 Q201,681 204,686 Q206.7,690 206.7,693.6 Q206,700 201,704 Q195,706.8 188,706.8 Q180,706.5 172.5,705 Q166,703 163.5,699 Z" fill="#1a1aff" filter="url(#b1)" opacity="1"/>
<g clip-path="url(#cp9)">
<path d="M162.9,694.5 Q163,689 172,687.5 L182,686 Q187,681 189,679 Q192.5,677.5 196,678.5 Q201,681 204,686 Q206.7,690 206.7,693.6 Q206,700 201,704 Q195,706.8 188,706.8 Q180,706.5 172.5,705 Q166,703 163.5,699 Z" fill="#2c62ff" filter="url(#b3)" opacity="0.9"/>
<ellipse cx="188.5" cy="694.5" rx="22" ry="13.5" fill="url(#gRb)"/>
</g>
<rect x="181.1" y="671.7" width="28.90" height="19.40" fill="none" stroke="#333" stroke-width="0.75"/>
<rect x="160.8" y="691.1" width="49.20" height="20.00" fill="none" stroke="#333" stroke-width="0.75"/>
<line x1="183.90" y1="691.10" x2="183.90" y2="711.10" stroke="#222" stroke-width="0.75" />
<text transform="translate(196.10,660.60) scale(1,1.15)" font-size="7" text-anchor="middle" font-weight="bold" fill="#1a1a1a" style="stroke-width:0.08px">MPP</text>
<text transform="translate(196.10,668.30) scale(1,1.15)" font-size="7" text-anchor="middle" font-weight="bold" fill="#1a1a1a" style="stroke-width:0.08px">17.1</text>
<text transform="translate(167.20,679.70) scale(1,1.15)" font-size="7" text-anchor="middle" font-weight="bold" fill="#1a1a1a" style="stroke-width:0.08px">LT-HSC</text>
<text transform="translate(167.20,687.80) scale(1,1.15)" font-size="7" text-anchor="middle" font-weight="bold" fill="#1a1a1a" style="stroke-width:0.08px">24.5</text>
<text transform="translate(210.80,708.30) scale(1,1.15)" font-size="7" text-anchor="middle" font-weight="bold" fill="#1a1a1a" style="stroke-width:0.08px">ST-HSC</text>
<text transform="translate(208.00,716.10) scale(1,1.15)" font-size="7" text-anchor="middle" font-weight="bold" fill="#1a1a1a" style="stroke-width:0.08px">54.9</text>
<text x="151.1" y="652.00" font-size="6.3" text-anchor="end" fill="#333">10<tspan font-size="4.2" dy="-2.4">6</tspan></text>
<text x="151.1" y="663.70" font-size="6.3" text-anchor="end" fill="#333">10<tspan font-size="4.2" dy="-2.4">5</tspan></text>
<text x="151.1" y="677.00" font-size="6.3" text-anchor="end" fill="#333">10<tspan font-size="4.2" dy="-2.4">4</tspan></text>
<text x="151.1" y="692.30" font-size="6.3" text-anchor="end" fill="#333">10<tspan font-size="4.2" dy="-2.4">3</tspan></text>
<text x="151.1" y="699.20" font-size="6.3" text-anchor="end" fill="#333">0</text>
<text x="151.1" y="707.00" font-size="6.3" text-anchor="end" fill="#333">-10<tspan font-size="4.2" dy="-2.4">3</tspan></text>
<text x="151.1" y="723.40" font-size="6.3" text-anchor="end" fill="#333">-10<tspan font-size="4.2" dy="-2.4">4</tspan></text>
<rect x="152.5" y="725.6" width="75.00" height="74.40" fill="none" stroke="#3a3a3a" stroke-width="0.9"/>
<path fill="#666" opacity="0.6" d="M189.7 765.7h.7v.7h-.7zM190.1 758.6h.7v.7h-.7zM202.3 778.4h.7v.7h-.7zM194.0 757.1h.7v.7h-.7zM187.1 762.5h.7v.7h-.7zM173.0 782.5h.7v.7h-.7zM211.8 753.4h.7v.7h-.7zM204.7 771.3h.7v.7h-.7zM179.8 761.1h.7v.7h-.7zM195.1 766.6h.7v.7h-.7zM195.7 773.2h.7v.7h-.7zM166.9 776.6h.7v.7h-.7zM211.1 783.0h.7v.7h-.7zM191.9 753.4h.7v.7h-.7zM160.2 756.3h.7v.7h-.7zM208.9 761.7h.7v.7h-.7zM179.0 780.7h.7v.7h-.7zM176.3 769.6h.7v.7h-.7zM182.7 754.1h.7v.7h-.7zM190.4 779.0h.7v.7h-.7zM168.1 759.2h.7v.7h-.7zM181.5 753.2h.7v.7h-.7zM185.8 778.2h.7v.7h-.7zM194.2 769.1h.7v.7h-.7zM204.5 756.8h.7v.7h-.7zM189.5 764.0h.7v.7h-.7zM191.3 755.6h.7v.7h-.7zM200.3 755.1h.7v.7h-.7zM168.7 777.8h.7v.7h-.7zM209.3 765.9h.7v.7h-.7zM181.5 759.9h.7v.7h-.7zM174.3 771.8h.7v.7h-.7zM169.3 755.8h.7v.7h-.7zM183.7 757.3h.7v.7h-.7zM193.7 778.3h.7v.7h-.7zM200.4 767.4h.7v.7h-.7zM178.1 765.9h.7v.7h-.7zM160.3 774.8h.7v.7h-.7zM177.2 762.2h.7v.7h-.7zM164.2 766.3h.7v.7h-.7zM190.3 764.5h.7v.7h-.7zM205.2 773.5h.7v.7h-.7zM172.6 768.8h.7v.7h-.7zM207.3 768.6h.7v.7h-.7zM191.3 754.0h.7v.7h-.7zM185.4 766.8h.7v.7h-.7zM180.9 765.5h.7v.7h-.7zM190.4 769.2h.7v.7h-.7zM185.5 757.3h.7v.7h-.7zM183.0 783.0h.7v.7h-.7z"/>
<path fill="#555" opacity="0.55" d="M178.1 768.2h.7v.7h-.7zM207.0 772.4h.7v.7h-.7zM201.6 767.1h.7v.7h-.7zM195.9 758.4h.7v.7h-.7zM181.4 760.6h.7v.7h-.7zM196.8 785.6h.7v.7h-.7zM191.0 756.9h.7v.7h-.7zM161.6 769.8h.7v.7h-.7zM206.7 772.2h.7v.7h-.7zM165.5 775.4h.7v.7h-.7zM172.1 769.1h.7v.7h-.7zM204.9 769.6h.7v.7h-.7zM192.2 757.9h.7v.7h-.7zM163.8 771.0h.7v.7h-.7zM185.4 760.3h.7v.7h-.7zM200.7 756.9h.7v.7h-.7zM206.2 775.6h.7v.7h-.7zM204.7 782.7h.7v.7h-.7zM166.2 776.3h.7v.7h-.7zM202.5 763.0h.7v.7h-.7zM205.8 766.8h.7v.7h-.7zM172.1 768.8h.7v.7h-.7zM184.1 785.6h.7v.7h-.7zM205.6 780.9h.7v.7h-.7zM171.1 766.3h.7v.7h-.7zM200.3 755.5h.7v.7h-.7zM165.4 772.7h.7v.7h-.7zM198.8 759.1h.7v.7h-.7zM199.5 760.5h.7v.7h-.7zM209.6 779.6h.7v.7h-.7zM191.6 784.7h.7v.7h-.7zM205.8 778.5h.7v.7h-.7zM197.7 756.7h.7v.7h-.7zM178.2 767.7h.7v.7h-.7zM191.4 757.3h.7v.7h-.7zM192.7 752.6h.7v.7h-.7zM206.5 778.1h.7v.7h-.7zM172.1 765.7h.7v.7h-.7zM163.1 777.6h.7v.7h-.7zM173.9 764.6h.7v.7h-.7zM201.8 786.3h.7v.7h-.7zM206.4 763.7h.7v.7h-.7zM164.9 771.3h.7v.7h-.7zM202.7 763.0h.7v.7h-.7zM204.5 768.8h.7v.7h-.7zM161.7 774.6h.7v.7h-.7zM162.9 775.0h.7v.7h-.7zM170.2 765.1h.7v.7h-.7zM173.4 771.4h.7v.7h-.7zM197.1 755.0h.7v.7h-.7zM208.3 776.1h.7v.7h-.7zM188.2 755.9h.7v.7h-.7zM166.9 780.6h.7v.7h-.7zM164.8 779.7h.7v.7h-.7zM206.7 774.4h.7v.7h-.7zM192.5 753.6h.7v.7h-.7zM165.1 778.5h.7v.7h-.7zM191.8 753.5h.7v.7h-.7zM198.4 757.9h.7v.7h-.7zM164.8 777.3h.7v.7h-.7zM166.1 777.5h.7v.7h-.7zM206.0 778.5h.7v.7h-.7zM194.4 755.0h.7v.7h-.7zM205.7 764.9h.7v.7h-.7zM175.1 767.2h.7v.7h-.7zM166.0 772.0h.7v.7h-.7zM202.2 782.0h.7v.7h-.7zM201.2 774.7h.7v.7h-.7zM184.1 764.5h.7v.7h-.7zM203.2 760.9h.7v.7h-.7z"/>
<clipPath id="cp10"><path d="M163.3,775.6 Q166,770 172.5,767.3 L183.9,763.8 L185.6,760.8 Q190,756 194,753.3 Q198,757 203.2,763.8 Q206.7,769 206.7,773.9 Q206,780 202.7,784.4 Q199,786.2 194.4,786.2 Q187,785 181.3,782.7 L169,779.2 Q164,778 163.3,775.6 Z"/></clipPath>
<path d="M163.3,775.6 Q166,770 172.5,767.3 L183.9,763.8 L185.6,760.8 Q190,756 194,753.3 Q198,757 203.2,763.8 Q206.7,769 206.7,773.9 Q206,780 202.7,784.4 Q199,786.2 194.4,786.2 Q187,785 181.3,782.7 L169,779.2 Q164,778 163.3,775.6 Z" fill="#1a1aff" filter="url(#b1)" opacity="1"/>
<g clip-path="url(#cp10)">
<path d="M163.3,775.6 Q166,770 172.5,767.3 L183.9,763.8 L185.6,760.8 Q190,756 194,753.3 Q198,757 203.2,763.8 Q206.7,769 206.7,773.9 Q206,780 202.7,784.4 Q199,786.2 194.4,786.2 Q187,785 181.3,782.7 L169,779.2 Q164,778 163.3,775.6 Z" fill="#2c62ff" filter="url(#b3)" opacity="0.9"/>
<ellipse cx="188" cy="773" rx="20" ry="12" fill="url(#gRb)"/>
<ellipse cx="171" cy="776" rx="3" ry="2.2" fill="url(#gC)"/>
</g>
<rect x="181.1" y="748.6" width="28.90" height="19.40" fill="none" stroke="#333" stroke-width="0.75"/>
<rect x="160.8" y="768" width="49.20" height="20.30" fill="none" stroke="#333" stroke-width="0.75"/>
<line x1="183.90" y1="768.00" x2="183.90" y2="788.30" stroke="#222" stroke-width="0.75" />
<text transform="translate(196.10,738.00) scale(1,1.15)" font-size="7" text-anchor="middle" font-weight="bold" fill="#1a1a1a" style="stroke-width:0.08px">MPP</text>
<text transform="translate(196.10,745.80) scale(1,1.15)" font-size="7" text-anchor="middle" font-weight="bold" fill="#1a1a1a" style="stroke-width:0.08px">14.1</text>
<text transform="translate(167.20,757.20) scale(1,1.15)" font-size="7" text-anchor="middle" font-weight="bold" fill="#1a1a1a" style="stroke-width:0.08px">LT-HSC</text>
<text transform="translate(167.20,765.60) scale(1,1.15)" font-size="7" text-anchor="middle" font-weight="bold" fill="#1a1a1a" style="stroke-width:0.08px">21.4</text>
<text transform="translate(210.80,785.60) scale(1,1.15)" font-size="7" text-anchor="middle" font-weight="bold" fill="#1a1a1a" style="stroke-width:0.08px">ST-HSC</text>
<text transform="translate(208.00,793.30) scale(1,1.15)" font-size="7" text-anchor="middle" font-weight="bold" fill="#1a1a1a" style="stroke-width:0.08px">62.7</text>
<text x="151.1" y="729.20" font-size="6.3" text-anchor="end" fill="#333">10<tspan font-size="4.2" dy="-2.4">6</tspan></text>
<text x="151.1" y="740.90" font-size="6.3" text-anchor="end" fill="#333">10<tspan font-size="4.2" dy="-2.4">5</tspan></text>
<text x="151.1" y="754.20" font-size="6.3" text-anchor="end" fill="#333">10<tspan font-size="4.2" dy="-2.4">4</tspan></text>
<text x="151.1" y="769.50" font-size="6.3" text-anchor="end" fill="#333">10<tspan font-size="4.2" dy="-2.4">3</tspan></text>
<text x="151.1" y="776.40" font-size="6.3" text-anchor="end" fill="#333">0</text>
<text x="151.1" y="784.00" font-size="6.3" text-anchor="end" fill="#333">-10<tspan font-size="4.2" dy="-2.4">3</tspan></text>
<text x="151.1" y="799.80" font-size="6.3" text-anchor="end" fill="#333">-10<tspan font-size="4.2" dy="-2.4">4</tspan></text>
<text x="159.20" y="808.10" font-size="6.3" text-anchor="middle" fill="#333">-10<tspan font-size="4.2" dy="-2.4">3</tspan></text>
<text x="169.20" y="808.10" font-size="6.3" text-anchor="middle" fill="#333">0</text>
<text x="180.10" y="808.10" font-size="6.3" text-anchor="middle" fill="#333">10<tspan font-size="4.2" dy="-2.4">3</tspan></text>
<text x="198.20" y="808.10" font-size="6.3" text-anchor="middle" fill="#333">10<tspan font-size="4.2" dy="-2.4">4</tspan></text>
<text x="213.40" y="808.10" font-size="6.3" text-anchor="middle" fill="#333">10<tspan font-size="4.2" dy="-2.4">5</tspan></text>
<text x="227.30" y="808.10" font-size="6.3" text-anchor="middle" fill="#333">10<tspan font-size="4.2" dy="-2.4">6</tspan></text>
<rect x="263.3" y="648.6" width="75.00" height="74.40" fill="none" stroke="#3a3a3a" stroke-width="0.9"/>
<path fill="#666" opacity="0.6" d="M281.4 704.6h.7v.7h-.7zM297.4 702.1h.7v.7h-.7zM283.3 705.3h.7v.7h-.7zM272.3 703.3h.7v.7h-.7zM287.4 710.6h.7v.7h-.7zM269.2 697.9h.7v.7h-.7zM269.1 711.1h.7v.7h-.7zM289.6 691.1h.7v.7h-.7zM299.4 715.1h.7v.7h-.7zM288.2 706.0h.7v.7h-.7zM271.4 690.4h.7v.7h-.7zM284.0 691.5h.7v.7h-.7zM272.5 696.3h.7v.7h-.7zM267.0 702.1h.7v.7h-.7zM281.0 711.9h.7v.7h-.7zM283.7 706.6h.7v.7h-.7zM283.0 707.2h.7v.7h-.7zM281.5 697.2h.7v.7h-.7zM299.9 715.9h.7v.7h-.7zM294.6 708.4h.7v.7h-.7zM276.7 696.0h.7v.7h-.7zM275.8 691.8h.7v.7h-.7zM292.1 700.4h.7v.7h-.7zM294.8 700.0h.7v.7h-.7zM298.6 712.0h.7v.7h-.7zM266.0 695.5h.7v.7h-.7zM296.9 702.2h.7v.7h-.7zM299.3 700.3h.7v.7h-.7zM268.5 706.4h.7v.7h-.7zM292.5 697.0h.7v.7h-.7z"/>
<path fill="#555" opacity="0.55" d="M296.3 687.8h.7v.7h-.7zM294.2 673.2h.7v.7h-.7zM313.2 675.2h.7v.7h-.7zM295.7 690.0h.7v.7h-.7zM301.8 695.6h.7v.7h-.7zM283.6 669.4h.7v.7h-.7zM283.6 669.7h.7v.7h-.7zM287.9 688.9h.7v.7h-.7zM289.2 669.9h.7v.7h-.7zM308.3 704.4h.7v.7h-.7zM277.7 684.6h.7v.7h-.7zM285.9 672.6h.7v.7h-.7zM319.2 687.4h.7v.7h-.7zM273.5 684.9h.7v.7h-.7zM276.7 687.5h.7v.7h-.7zM297.4 673.7h.7v.7h-.7zM273.6 674.6h.7v.7h-.7zM314.5 675.4h.7v.7h-.7zM276.4 667.7h.7v.7h-.7zM278.4 689.6h.7v.7h-.7zM314.3 679.1h.7v.7h-.7zM317.2 684.5h.7v.7h-.7zM302.6 702.0h.7v.7h-.7zM277.0 685.3h.7v.7h-.7zM308.7 695.4h.7v.7h-.7zM286.1 687.1h.7v.7h-.7zM306.2 704.0h.7v.7h-.7zM272.9 670.6h.7v.7h-.7zM276.5 686.2h.7v.7h-.7zM292.5 687.9h.7v.7h-.7zM276.7 670.8h.7v.7h-.7zM302.9 700.1h.7v.7h-.7zM317.0 686.7h.7v.7h-.7zM302.2 705.1h.7v.7h-.7zM272.2 673.7h.7v.7h-.7zM273.3 684.2h.7v.7h-.7zM283.7 689.1h.7v.7h-.7zM284.6 688.5h.7v.7h-.7zM308.1 673.3h.7v.7h-.7zM276.8 686.9h.7v.7h-.7z"/>
<clipPath id="cp11"><path d="M272.2,678 Q272.2,670.2 279,670.2 Q285,670.5 290,673.2 L305,672.8 Q312,672.8 312.5,676 L316,682.5 Q316.5,688 314,690 L311,692 Q310,700 310,705 Q307,706 303,704 L300.8,697 L298,690 Q293,688 289,688 L286,691.5 Q284.5,689 284,688 L278,687.6 Q272.2,686 272.2,678 Z"/></clipPath>
<path d="M272.2,678 Q272.2,670.2 279,670.2 Q285,670.5 290,673.2 L305,672.8 Q312,672.8 312.5,676 L316,682.5 Q316.5,688 314,690 L311,692 Q310,700 310,705 Q307,706 303,704 L300.8,697 L298,690 Q293,688 289,688 L286,691.5 Q284.5,689 284,688 L278,687.6 Q272.2,686 272.2,678 Z" fill="#1a1aff" filter="url(#b1)" opacity="1"/>
<g clip-path="url(#cp11)">
<path d="M272.2,678 Q272.2,670.2 279,670.2 Q285,670.5 290,673.2 L305,672.8 Q312,672.8 312.5,676 L316,682.5 Q316.5,688 314,690 L311,692 Q310,700 310,705 Q307,706 303,704 L300.8,697 L298,690 Q293,688 289,688 L286,691.5 Q284.5,689 284,688 L278,687.6 Q272.2,686 272.2,678 Z" fill="#2c62ff" filter="url(#b3)" opacity="0.9"/>
<ellipse cx="292" cy="679" rx="24" ry="8.5" fill="url(#gCf)"/>
<ellipse cx="306" cy="696" rx="4" ry="7" fill="url(#gL)"/>
<ellipse cx="304.8" cy="678.9" rx="7.5" ry="5.5" fill="url(#gGf)"/>
<ellipse cx="277.8" cy="677.4" rx="8" ry="7.5" fill="url(#gR2)"/>
</g>
<path d="M318.5,684 L327,678.5 Q330.5,677 330,680 L322.5,685.5 Q318.5,686.5 318.5,684 Z" fill="#1a1aff" filter="url(#b1)" opacity="1"/>
<line x1="294.40" y1="648.60" x2="294.40" y2="723.00" stroke="#222" stroke-width="0.8" />
<line x1="263.30" y1="688.30" x2="338.30" y2="688.30" stroke="#222" stroke-width="0.8" />
<text transform="translate(316.70,712.50) scale(1,1.15)" font-size="7" text-anchor="middle" font-weight="bold" fill="#1a1a1a" style="stroke-width:0.08px">SLAM-HSC</text>
<text transform="translate(316.70,720.30) scale(1,1.15)" font-size="7" text-anchor="middle" font-weight="bold" fill="#1a1a1a" style="stroke-width:0.08px">3.36</text>
<text x="262" y="656.00" font-size="6.3" text-anchor="end" fill="#333">10<tspan font-size="4.2" dy="-2.4">6</tspan></text>
<text x="262" y="668.70" font-size="6.3" text-anchor="end" fill="#333">10<tspan font-size="4.2" dy="-2.4">5</tspan></text>
<text x="262" y="682.00" font-size="6.3" text-anchor="end" fill="#333">10<tspan font-size="4.2" dy="-2.4">4</tspan></text>
<text x="262" y="696.40" font-size="6.3" text-anchor="end" fill="#333">10<tspan font-size="4.2" dy="-2.4">3</tspan></text>
<text x="262" y="710.30" font-size="6.3" text-anchor="end" fill="#333">0</text>
<text x="262" y="724.00" font-size="6.3" text-anchor="end" fill="#333">-10<tspan font-size="4.2" dy="-2.4">3</tspan></text>
<rect x="263.3" y="725.6" width="75.00" height="74.40" fill="none" stroke="#3a3a3a" stroke-width="0.9"/>
<path fill="#666" opacity="0.6" d="M282.1 784.7h.7v.7h-.7zM288.7 769.3h.7v.7h-.7zM266.4 776.2h.7v.7h-.7zM275.3 789.3h.7v.7h-.7zM289.5 783.0h.7v.7h-.7zM285.0 784.8h.7v.7h-.7zM270.9 778.2h.7v.7h-.7zM271.5 792.2h.7v.7h-.7zM268.0 789.6h.7v.7h-.7zM268.5 785.6h.7v.7h-.7zM277.5 777.1h.7v.7h-.7zM294.6 765.6h.7v.7h-.7zM268.1 792.5h.7v.7h-.7zM283.3 767.7h.7v.7h-.7zM299.6 793.4h.7v.7h-.7zM269.8 777.7h.7v.7h-.7zM270.6 774.4h.7v.7h-.7zM287.1 769.9h.7v.7h-.7zM289.7 766.5h.7v.7h-.7zM271.8 789.5h.7v.7h-.7zM279.6 777.6h.7v.7h-.7zM286.3 779.3h.7v.7h-.7zM279.1 765.9h.7v.7h-.7zM290.7 794.0h.7v.7h-.7zM299.2 784.9h.7v.7h-.7zM278.1 775.9h.7v.7h-.7zM289.5 785.2h.7v.7h-.7zM269.9 772.0h.7v.7h-.7zM278.4 780.3h.7v.7h-.7zM293.5 780.0h.7v.7h-.7z"/>
<path fill="#555" opacity="0.55" d="M270.7 757.0h.7v.7h-.7zM309.1 767.7h.7v.7h-.7zM312.6 760.4h.7v.7h-.7zM300.7 751.1h.7v.7h-.7zM301.5 752.7h.7v.7h-.7zM276.6 766.2h.7v.7h-.7zM276.6 751.2h.7v.7h-.7zM291.3 751.8h.7v.7h-.7zM298.5 750.4h.7v.7h-.7zM311.4 767.0h.7v.7h-.7zM280.9 767.1h.7v.7h-.7zM282.5 769.7h.7v.7h-.7zM305.9 751.3h.7v.7h-.7zM273.7 767.4h.7v.7h-.7zM301.0 749.6h.7v.7h-.7zM272.9 754.9h.7v.7h-.7zM300.4 748.3h.7v.7h-.7zM273.6 752.0h.7v.7h-.7zM279.7 746.7h.7v.7h-.7zM305.1 767.7h.7v.7h-.7zM303.8 765.4h.7v.7h-.7zM270.7 762.3h.7v.7h-.7zM288.9 748.0h.7v.7h-.7zM301.4 753.4h.7v.7h-.7zM274.2 748.6h.7v.7h-.7zM290.5 749.6h.7v.7h-.7zM270.3 757.9h.7v.7h-.7zM269.5 753.0h.7v.7h-.7zM306.2 752.7h.7v.7h-.7zM282.7 768.9h.7v.7h-.7zM274.7 759.8h.7v.7h-.7zM274.0 750.1h.7v.7h-.7zM303.2 751.4h.7v.7h-.7zM299.0 768.4h.7v.7h-.7zM284.6 768.9h.7v.7h-.7zM312.8 764.6h.7v.7h-.7zM274.5 749.6h.7v.7h-.7zM286.1 746.8h.7v.7h-.7zM280.0 747.9h.7v.7h-.7zM280.4 751.1h.7v.7h-.7z"/>
<clipPath id="cp12"><path d="M271.7,755 Q271.7,748.6 278,748.6 Q284,749 290,750.2 L305,751 Q311.5,751.5 312,756 L312.5,763 Q312,767.5 306,767.6 L290,768 L280,768 Q271.5,767 271.7,760 Z"/></clipPath>
<path d="M271.7,755 Q271.7,748.6 278,748.6 Q284,749 290,750.2 L305,751 Q311.5,751.5 312,756 L312.5,763 Q312,767.5 306,767.6 L290,768 L280,768 Q271.5,767 271.7,760 Z" fill="#1a1aff" filter="url(#b1)" opacity="1"/>
<g clip-path="url(#cp12)">
<path d="M271.7,755 Q271.7,748.6 278,748.6 Q284,749 290,750.2 L305,751 Q311.5,751.5 312,756 L312.5,763 Q312,767.5 306,767.6 L290,768 L280,768 Q271.5,767 271.7,760 Z" fill="#2c62ff" filter="url(#b3)" opacity="0.9"/>
<ellipse cx="291" cy="757.5" rx="23" ry="8.5" fill="url(#gCf)"/>
<ellipse cx="302.8" cy="757.8" rx="7.5" ry="5.5" fill="url(#gGf)"/>
<ellipse cx="277.2" cy="755.6" rx="8" ry="7.5" fill="url(#gR2)"/>
</g>
<path d="M300,772 Q303,770.5 306,771 Q308,773 307.5,779 Q307,784.7 302,784.7 Q299,784 299.5,778 Z" fill="#1a1aff" filter="url(#b1)" opacity="1"/>
<ellipse cx="303.5" cy="777" rx="2" ry="4" fill="#2a66ff" filter="url(#b1)" opacity="1"/>
<circle cx="321.5" cy="757.8" r="0.9" fill="#1a1aff"/>
<line x1="294.40" y1="725.60" x2="294.40" y2="800.00" stroke="#222" stroke-width="0.8" />
<line x1="263.30" y1="765.30" x2="338.30" y2="765.30" stroke="#222" stroke-width="0.8" />
<text transform="translate(316.70,788.90) scale(1,1.15)" font-size="7" text-anchor="middle" font-weight="bold" fill="#1a1a1a" style="stroke-width:0.08px">SLAM-HSC</text>
<text transform="translate(316.70,797.20) scale(1,1.15)" font-size="7" text-anchor="middle" font-weight="bold" fill="#1a1a1a" style="stroke-width:0.08px">3.61</text>
<text x="262" y="733.10" font-size="6.3" text-anchor="end" fill="#333">10<tspan font-size="4.2" dy="-2.4">6</tspan></text>
<text x="262" y="745.90" font-size="6.3" text-anchor="end" fill="#333">10<tspan font-size="4.2" dy="-2.4">5</tspan></text>
<text x="262" y="759.00" font-size="6.3" text-anchor="end" fill="#333">10<tspan font-size="4.2" dy="-2.4">4</tspan></text>
<text x="262" y="773.70" font-size="6.3" text-anchor="end" fill="#333">10<tspan font-size="4.2" dy="-2.4">3</tspan></text>
<text x="262" y="786.70" font-size="6.3" text-anchor="end" fill="#333">0</text>
<text x="262" y="801.40" font-size="6.3" text-anchor="end" fill="#333">-10<tspan font-size="4.2" dy="-2.4">3</tspan></text>
<text x="275.80" y="807.60" font-size="6.3" text-anchor="middle" fill="#333">0</text>
<text x="298.70" y="807.60" font-size="6.3" text-anchor="middle" fill="#333">10<tspan font-size="4.2" dy="-2.4">3</tspan></text>
<text x="317.30" y="807.60" font-size="6.3" text-anchor="middle" fill="#333">10<tspan font-size="4.2" dy="-2.4">4</tspan></text>
<text x="333.40" y="807.60" font-size="6.3" text-anchor="middle" fill="#333">10<tspan font-size="4.2" dy="-2.4">5</tspan></text>
</svg></body></html>
